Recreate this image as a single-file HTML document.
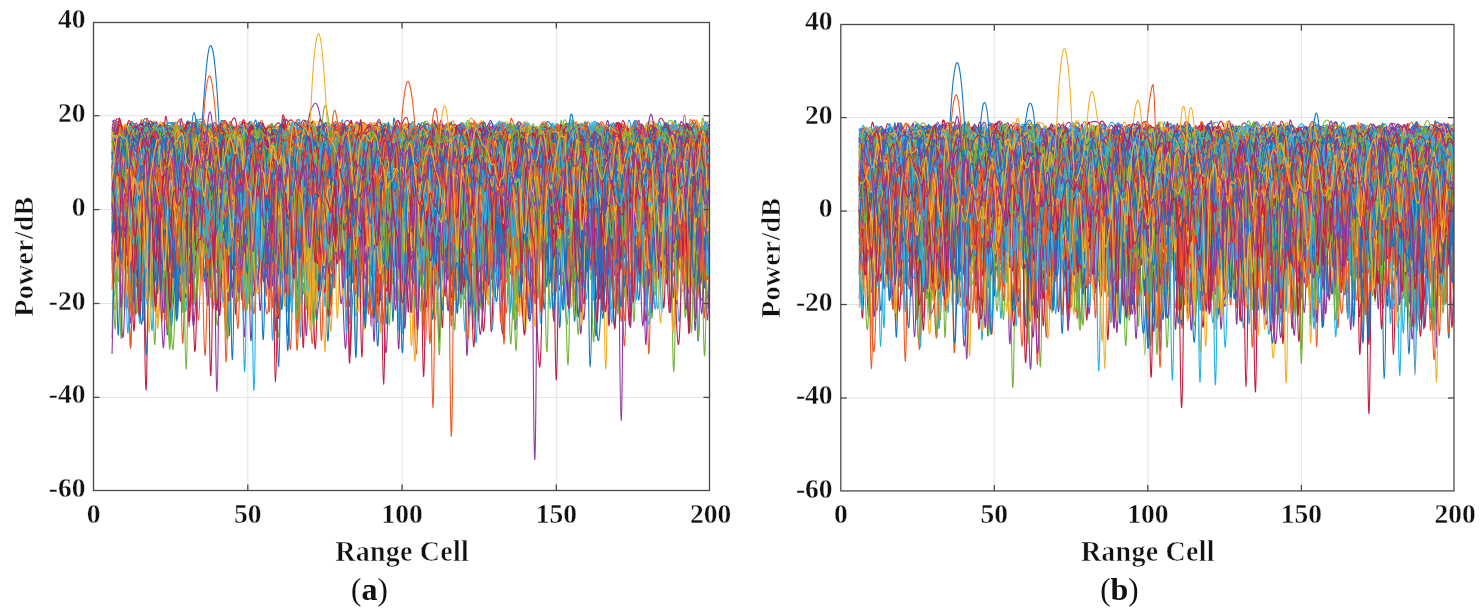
<!DOCTYPE html>
<html><head><meta charset="utf-8"><style>
html,body{margin:0;padding:0;background:#fff;}
body{width:1481px;height:612px;overflow:hidden;}
svg{display:block;}
g path{vector-effect:non-scaling-stroke;}
#w{will-change:transform;}
.t{font-family:"Liberation Serif",serif;font-weight:bold;font-size:27.5px;fill:#111;stroke:#fff;stroke-width:0.35px;}
.l{font-family:"Liberation Serif",serif;font-weight:bold;font-size:28px;fill:#111;stroke:#fff;stroke-width:0.55px;letter-spacing:0.25px;}
.p{font-family:"Liberation Serif",serif;font-size:31px;fill:#111;}
</style></head><body>
<div id="w"><svg width="1481" height="612" viewBox="0 0 1481 612">
<defs><clipPath id="ca"><rect x="93.5" y="22.5" width="616.0" height="468.0"/></clipPath><clipPath id="cb"><rect x="840.8" y="24.5" width="613.2" height="466.4"/></clipPath></defs>
<line x1="247.80" y1="22.5" x2="247.80" y2="490.5" stroke="#e3e3e3" stroke-width="1"/>
<line x1="402.07" y1="22.5" x2="402.07" y2="490.5" stroke="#e3e3e3" stroke-width="1"/>
<line x1="556.33" y1="22.5" x2="556.33" y2="490.5" stroke="#e3e3e3" stroke-width="1"/>
<line x1="93.5" y1="115.70" x2="709.5" y2="115.70" stroke="#e3e3e3" stroke-width="1"/>
<line x1="93.5" y1="209.60" x2="709.5" y2="209.60" stroke="#e3e3e3" stroke-width="1"/>
<line x1="93.5" y1="303.50" x2="709.5" y2="303.50" stroke="#e3e3e3" stroke-width="1"/>
<line x1="93.5" y1="397.40" x2="709.5" y2="397.40" stroke="#e3e3e3" stroke-width="1"/>
<line x1="994.30" y1="24.5" x2="994.30" y2="490.9" stroke="#e3e3e3" stroke-width="1"/>
<line x1="1147.85" y1="24.5" x2="1147.85" y2="490.9" stroke="#e3e3e3" stroke-width="1"/>
<line x1="1301.40" y1="24.5" x2="1301.40" y2="490.9" stroke="#e3e3e3" stroke-width="1"/>
<line x1="840.8" y1="117.58" x2="1453.9" y2="117.58" stroke="#e3e3e3" stroke-width="1"/>
<line x1="840.8" y1="211.06" x2="1453.9" y2="211.06" stroke="#e3e3e3" stroke-width="1"/>
<line x1="840.8" y1="304.54" x2="1453.9" y2="304.54" stroke="#e3e3e3" stroke-width="1"/>
<line x1="840.8" y1="398.02" x2="1453.9" y2="398.02" stroke="#e3e3e3" stroke-width="1"/>
<g clip-path="url(#ca)"><g transform="translate(112.04 0) scale(1.54268 0.5)" fill="none" stroke-width="1.10" stroke-linejoin="round">
<path stroke="#EE5A22" d="M15 266q1-8 2-12t2-14 2 102 2 20M101 278q1 14 2 217t2 46 2-195M151 347q1 7 2-51t2-54 2 27 2 14M191 307q1-61 2-60t2 8 2 14M329 287q1-23 2-33t2-1 2 42M357 295q1-33 2-42t2 4 2 32M377 312q1-50 2-58t2-2 2 23"/>
<path stroke="#F5AE26" d="M283 361q1 1 2 177t2 38 2-168M301 288q1-10 2 172t2 90 2-158M385 314q1 34 2 90l1 56"/>
<path stroke="#9036A0" d="M99 368q1 22 2 119t2 43 2-110M169 339q1 39 2 60t2 171 2 11 2-196 2-56M189 487q1 101 2 100t2-62 2-69M299 379q1-11 2 145t2 87 2 1 2-40 2-162 2-59"/>
<path stroke="#22B2EA" d="M141 385q1 41 2 133t2 38 2-109 2-91"/>
<path stroke="#C41B40" d="M13 287q1-37 2-36t2 22 2 14M29 262q1-12 2-11t2 9 2 11M65 276q1-8 2-18t2-6 2 23M155 363q1-93 2-106t2-9 2 13 2 5M237 256q1 0 2-4t2 0 2 55M291 307q1-35 2-49t2-11 2 44 2 12M313 266q1-6 2-17t2 82 2 13 2 151 2-10 2-181M351 260q1-10 2-7t2 6 2-4 2-8 2 3 2 15 2 69M367 408q1 16 2-81t2-97 2 66 2 26"/>
<path stroke="#1276C2" d="M53 340q1-112 2-100t2 10 2 24M61 280q1-20 2-27t2-3 2 26M73 414q1-50 2 159t2-26 2-199M85 266q1-14 2-13t2 11 2 7M113 363q1 27 2 114t2-5 2-160 2-67 2 11 2 47M179 441q1 95 2-61t2-143 2 51 2 34M241 304q1-8 2-29t2-27 2 2 2 30 2 42M283 270q1-16 2-20t2 19 2 7M317 284q1-32 2-31t2 9 2 36M331 365q1 57 2-34t2-91 2 26 2 27M371 308q1 2 2 232t2 40 2-174"/>
<path stroke="#EE5A22" d="M111 409q1 73 2 131t2 136 2-116 2-158 2 45M193 400q1-14 2 41t2 164 2-63 2-182M241 390q1 70 2 159t2-18 2-134M263 345q1-23 2 181t2 18 2-145M275 447q1 87 2 78t2-81 2-73M385 413q1 5 2 74l1 69"/>
<path stroke="#F5AE26" d="M83 346q1-42 2 75t2 151 2-104 2-161M121 271q1-9 2-19t2-1 2 22M229 345q1-69 2-90t2-19 2 14 2 12M275 265q1-7 2-7t2-7 2-1 2 41M377 311q1 17 2-20t2-44 2 8 2 16"/>
<path stroke="#9036A0" d="M197 331q1 33 2 164t2-47 2-146M297 397q1 29 2 124t2-21 2 12 2-11 2-142"/>
<path stroke="#74B43A" d="M73 544q1 166 2 33t2-182 2-85M151 329q1-51 2 109t2 64 2 56 2-5 2-191M205 393q1-31 2 77t2 157 2-88 2-160 2 112 2-7 2-148"/>
<path stroke="#22B2EA" d="M21 344q1 70 2 96t2 161 2-33 2-205M57 399q1 15 2 54t2 105 2-68M79 485q1-11 2 9t2-27 2-42"/>
<path stroke="#C41B40" d="M13 320q1 58 2 185t2 20 2-94M31 337q1-9 2 152t2 62 2-137M155 390q1-44 2 91t2 47 2-180"/>
<path stroke="#1276C2" d="M5 348q1 20 2 123t2 27 2-116M71 435q1-31 2 80t2 24 2-65 2-33M87 353q1-17 2 130t2 103 2-87 2-65M243 338q1 16 2 106t2 132 2-16 2-37 2-25 2-29M263 481q1 119 2 83t2-119 2-92M339 343q1 47 2 139t2-15 2-145"/>
<path stroke="#EE5A22" d="M5 342q1 36 2 158t2 113 2 13 2-108 2-124M19 387q1 1 2 106t2 25 2-130M69 426q1 0 2 83t2 44 2-79 2-53M199 357q1 53 2 221t2 0 2-181M273 469q1-23 2 77t2 2 2-129 2-4M317 480q1 6 2 100t2-35 2-54M357 388q1 42 2 74t2 25 2 12 2 19 2-70 2-106"/>
<path stroke="#F5AE26" d="M0 254l1 27q1 27 2 77M43 279q1-17 2-24t2 10 2 82M77 276q1-8 2-17t2-8 2 16 2 73M103 457q1 31 2 101t2-64 2-112M163 288q1-26 2-28t2 22 2 10M235 309q1-41 2-53t2-14 2 6 2 11 2 14M303 278q1-14 2-22t2-10 2 54M385 299q1-15 2-30l1-15"/>
<path stroke="#9036A0" d="M163 347q1-29 2 9t2 211 2 0 2-233M177 309q1 27 2 173t2 3 2-166M343 466q1-24 2 104t2 30 2-189M381 343q1 47 2 174t2-19 2-169"/>
<path stroke="#74B43A" d="M225 338q1-6 2 138t2 119 2-100 2-133M283 346q1 46 2 129t2-45 2-132M341 336q1 2 2 140t2 86 2-122 2-73M363 319q1 31 2 104t2 43 2-95"/>
<path stroke="#22B2EA" d="M3 487q1 33 2 16t2-56 2-87M113 389q1 71 2 172t2-36 2-174M269 447q1-89 2 92t2-12 2-179"/>
<path stroke="#C41B40" d="M0 312l1-36q1-36 2-38t2 3 2 30 2 13M59 385q1-29 2 116t2-39 2-170M211 302q1 4 2 230t2 38 2-220M353 453q1 17 2 38t2 101 2-107 2-200"/>
<path stroke="#1276C2" d="M383 413q1-29 2 106t2 39l1-96"/>
<path stroke="#EE5A22" d="M61 411q1 131 2 128t2-84 2-118M87 394q1-98 2-121t2-24 2 2 2 6M103 282q1 16 2-1t2-24 2-6 2 9M159 272q1 2 2-14t2-13 2 5 2 7 2 12M251 270q1-16 2-20t2 23 2 18M259 266q1-16 2-15t2 40 2 37M327 281q1 5 2-10t2-18 2 18 2 14"/>
<path stroke="#F5AE26" d="M13 313q1 19 2 148t2 125 2-151 2-114M221 305q1 11 2 168t2 64 2-128"/>
<path stroke="#9036A0" d="M39 459q1 35 2 72t2-72 2-118M137 418q1 68 2 108t2-83 2-93M299 297q1 39 2 123t2 198 2-37 2-179M317 332q1 18 2 114t2 46 2-101"/>
<path stroke="#74B43A" d="M141 335q1 7 2 127t2 20 2-130"/>
<path stroke="#22B2EA" d="M99 419q1 43 2 86t2-54 2-76M135 332q1-34 2 169t2 39 2-151M221 360q1 16 2 111t2-25 2-114M325 346q1 22 2 131t2 31 2-52M377 459q1-9 2 76t2-58 2-173"/>
<path stroke="#C41B40" d="M53 400q1-32 2 50t2 44 2-74M139 300q1-12 2 200t2 29 2-164M209 434q1-22 2 69t2-21 2-142M285 310q1 2 2 115t2 79 2-69"/>
<path stroke="#1276C2" d="M1 278q1-2 2 259t2 10 2-266M23 270q1-6 2-18t2-4 2 16M301 298q1-30 2-38t2-7 2 44M311 327q1-13 2 171t2 26 2-212M335 334q1-64 2-77t2-16 2 11 2 69"/>
<path stroke="#EE5A22" d="M73 275q1-5 2-17t2-8 2 47 2 26M161 307q1 39 2-6t2-49 2 0 2 60M173 295q1-11 2 140t2 110 2-97M185 266q1-2 2-8t2-7 2 0 2 6 2 8M243 295q1-39 2-41t2-1 2-2 2 14 2 13M337 304q1-58 2-61t2 3 2 23 2 14 2-17 2-11 2 1"/>
<path stroke="#F5AE26" d="M23 297q1-19 2-37t2-18 2 2 2 103 2 38M61 337q1-11 2-50t2-39 2 21M119 250q1-4 2 1t2 35 2 45M219 310q1-38 2 174t2 38 2-131M339 273q1-5 2-13t2-12 2 16 2 14M381 269q1-3 2-13t2-9 2 15"/>
<path stroke="#74B43A" d="M35 355q1 3 2 154t2-27 2-140M61 301q1-13 2 142t2 171 2-49 2-147 2-82M197 370q1-8 2 166t2-3 2-130M237 394q1 106 2 125t2-54 2-112M383 412q1-70 2 100t2 63l1-107"/>
<path stroke="#22B2EA" d="M55 339q1 19 2 111t2 76 2-50 2-34M147 289q1 1 2 93t2 206 2-37 2-145M201 339q1 39 2 132t2 50 2-65M213 338q1 4 2 107t2 68 2-93M231 333q1 17 2 66t2 210 2-17 2-190M251 441q1 65 2 84t2-69 2-122"/>
<path stroke="#C41B40" d="M127 435q1-35 2 39t2 184 2-85 2-236"/>
<path stroke="#1276C2" d="M111 361q1 61 2 105t2-43 2-83M223 373q1-69 2-100t2-26 2 9"/>
<path stroke="#EE5A22" d="M325 393q1 49 2 111t2 36 2-94"/>
<path stroke="#F5AE26" d="M75 344q1 16 2 118t2 39 2-75M87 393q1-1 2 148t2 25 2-162M127 402q1 18 2 54t2 99 2 37 2-122 2-84M173 477q1 89 2 69t2-94 2-69M239 372q1-8 2 135t2 70 2-137 2-65M263 345q1 13 2 124t2 35 2-105"/>
<path stroke="#9036A0" d="M0 256l1-2q1-2 2 16t2 9M233 307q1-47 2-54t2 6 2 18M293 346q1-66 2 147t2-10 2-159"/>
<path stroke="#22B2EA" d="M9 332q1 68 2 156t2 123 2-140 2-197M23 318q1-24 2-51t2-17 2 33 2 36 2 162 2 87 2-185 2-130M67 282q1-12 2-26t2-10 2 21M145 332q1-50 2-62t2-29 2 185 2 96 2-145M201 328q1 10 2-36t2-31 2 13M223 266q1 4 2-12t2-2 2 36 2 6M267 250q1-2 2-4t2 20 2 41M275 294q1-32 2-38t2 0 2 9M285 286q1-18 2-32t2-3 2 52"/>
<path stroke="#C41B40" d="M31 371q1 69 2-38t2-100 2 74 2 21M53 261q1-17 2 134t2 79 2-142M69 264q1-8 2-16t2-7 2 9 2 31 2 66M137 251q1-19 2 242t2 38 2-214M325 288q1-16 2-27t2-14 2 17 2 9M385 271q1-9 2-14l1-5"/>
<path stroke="#1276C2" d="M157 295q1-29 2-40t2-8 2 29M175 339q1 29 2 217t2-13 2-219M211 342q1 84 2 187t2-95 2-175M317 293q1-5 2-23t2-20 2 5 2 23"/>
<path stroke="#EE5A22" d="M13 427q1 21 2 96t2-52 2-159"/>
<path stroke="#F5AE26" d="M65 471q1 11 2 89t2 17 2-139 2-57M155 408q1-58 2 152t2 82 2-164 2-16M271 443q1-81 2 102t2 58 2-179M355 428q1 0 2 62t2 66 2-79 2-116"/>
<path stroke="#9036A0" d="M87 299q1 35 2 260t2 37 2-216 2-54M267 446q1 14 2 68t2-58 2-151"/>
<path stroke="#74B43A" d="M3 298q1 28 2 147t2 109 2-152 2-137M113 520q1-66 2-25t2-59 2-109M341 299q1-31 2-38t2-5 2 15"/>
<path stroke="#22B2EA" d="M283 414q1 40 2 119t2-14 2-133"/>
<path stroke="#C41B40" d="M33 339q1-13 2-50t2-33 2 84M205 286q1 14 2 195t2 111 2-150 2-96"/>
<path stroke="#1276C2" d="M17 295q1-5 2-30t2-27 2 1 2 35 2 19M37 291q1 13 2-12t2-30 2 8M83 316q1-32 2-48t2-20 2 12 2 0 2-20 2 88 2 97M107 348q1 32 2-32t2-78 2 175 2 115 2-149M147 271q1-7 2-15t2-5 2 128M169 309q1 1 2-34t2-31 2 7 2 12M183 254q1-6 2-3t2 72 2 39 2-73 2-42 2 39 2-3 2-36 2 54 2 14M277 265q1 1 2-7t2-12 2-2 2 10 2 35 2 60M349 284q1 4 2-12t2-23 2 71M371 265q1-15 2-17t2 22 2 60"/>
<path stroke="#EE5A22" d="M1 361q1-23 2 45t2 161 2-24M157 394q1-38 2 85t2 40 2-153M191 369q1-37 2 151t2 34 2-148M211 442q1 60 2 86t2-78 2-106M285 435q1-1 2 102t2-25 2-139M327 349q1 23 2 46t2 200 2 31 2-205 2-70"/>
<path stroke="#F5AE26" d="M23 280q1 8 2 121t2 116 2-92M163 356q1 18 2 137t2-8 2-132M183 456q1 60 2 118t2-74 2-154M233 336q1-12 2 175t2 49 2-187M363 407q1-39 2 71t2-18 2-146"/>
<path stroke="#9036A0" d="M57 311q1 37 2 182t2-9 2-191M165 369q1 11 2 130t2-26 2-135M187 298q1 34 2 239t2-6 2-237M309 291q1 21 2 183t2 115 2-183 2-121"/>
<path stroke="#74B43A" d="M55 400q1 34 2 107t2-24 2-133M63 331q1 17 2 150t2 60 2-88 2-66M119 414q1 40 2 67t2-20 2-68M137 420q1 64 2 119t2-64 2-130M235 360q1 16 2 157t2 85 2-86 2-115 2-91M253 368q1 18 2 127t2 29 2-10 2-34M367 372q1-32 2 66t2 173 2-89 2-164"/>
<path stroke="#22B2EA" d="M39 282q1-20 2-29t2-11 2 21 2 107M113 353q1-17 2-58t2-43 2 20M171 295q1-33 2-39t2-2 2 19M203 320q1-14 2-37t2-30 2-1M245 306q1-32 2-47t2-6 2 25M277 392q1 12 2-67t2-64 2 57M371 309q1-43 2-52t2-4 2 29"/>
<path stroke="#C41B40" d="M111 276q1 0 2-13t2-14 2 4 2 10M209 274q1 4 2-8t2-24 2 49 2 49M313 375q1 5 2 107t2 117 2-134 2-162"/>
<path stroke="#1276C2" d="M99 351q1 7 2 115t2 40 2-99M119 360q1-62 2 114t2 129 2-35 2-101M271 492q1 46 2 29t2-49 2-20M323 433q1 43 2 88t2-73 2-107 2 117 2 84 2-52 2-85"/>
<path stroke="#EE5A22" d="M7 283q1-29 2 102t2 192 2-76 2-174M19 291q1 15 2 150t2 36 2-134M229 329q1-9 2-47t2-37 2 18 2 36"/>
<path stroke="#F5AE26" d="M21 378q1 32 2 54t2 126 2 27 2-94 2-73"/>
<path stroke="#9036A0" d="M61 335q1 73 2 175t2 38 2-124M69 364q1 0 2 117t2-2 2-123M213 393q1-33 2-90t2-53 2 8 2 51M247 330q1 34 2 176t2 4 2-136"/>
<path stroke="#74B43A" d="M35 317q1 29 2 179t2 194 2-120 2-162M49 441q1 101 2 97t2-83 2-90M143 364q1 70 2 126t2-30 2-123M189 289q1-1 2 121t2 173 2-39 2-57M237 402q1 16 2 131t2-51 2-178M307 373q1-3 2-12t2 201 2 58 2-181 2-66"/>
<path stroke="#22B2EA" d="M15 296q1 10 2 227t2 10 2-86M73 517q1 41 2 36t2-92 2-65M253 459q1 13 2 45t2-61 2-88M303 344q1 2 2 102t2 142 2-99 2-119"/>
<path stroke="#C41B40" d="M11 381q1 127 2 133t2-100 2-107M91 303q1 15 2 155t2 91 2-133 2-117 2-44 2 1 2 20M217 339q1 15 2-43t2-38 2 35M249 271q1 11 2 0t2-17 2-3 2 5M315 432q1-150 2 79t2-16 2-213M363 269q1 17 2 7t2-18 2 18 2 55"/>
<path stroke="#1276C2" d="M53 373q1 107 2 160t2-76 2-163M75 259q1-1 2-4t2 3 2 27M93 270q1-2 2-15t2-7 2 37 2 21M143 259q1-9 2-10t2 2 2 53M175 261q1-7 2-12t2 7 2 77M239 258q1-2 2-5t2 62 2 112M259 357q1-13 2-62t2-47 2 10 2 8M277 290q1-46 2-43t2 3 2 21 2 28M361 276q1 2 2-16t2-19 2 87 2 46"/>
<path stroke="#EE5A22" d="M15 366q1-2 2 18t2 168 2 51 2-65 2-22M27 489q1 27 2 81t2-62 2-129M97 514q1 56 2 44t2-74 2-60M113 427q1-31 2 83t2-44 2-115M149 344q1-2 2 167t2 61 2-129M167 404q1 18 2 102t2 6 2-70 2 32 2-33 2-85M259 534q1-34 2-42t2 44 2-39M297 370q1 24 2 153t2 24 2-116M361 478q1-6 2 124t2-46 2-195"/>
<path stroke="#F5AE26" d="M0 504l1 80q1 80 2-16t2-111 2-7M23 392q1 2 2 85t2-29 2-102M35 394q1-50 2 84t2 126 2-116 2-90M69 409q1 19 2 131t2 58 2-134 2-78M115 385q1 57 2 99t2 31 2-70M137 363q1-13 2 55t2 194 2-61 2-212M175 417q1 25 2 80t2-59 2-109M259 375q1-27 2 88t2 50 2-50M353 406q1 28 2 59t2 64 2-57 2-76"/>
<path stroke="#9036A0" d="M145 435q1-35 2 83t2 80 2-98 2-133M223 367q1 89 2 186t2-61 2-141"/>
<path stroke="#74B43A" d="M71 320q1 68 2 257t2-45 2-220M123 269q1 3 2 151t2 37 2-138M213 376q1-16 2 84t2-46 2-128M227 320q1 20 2 109t2 175 2-82 2-201M279 285q1-35 2-32t2 12 2 20M379 278q1-18 2-19t2-4 2-4 2 7"/>
<path stroke="#22B2EA" d="M1 367q1 25 2 106t2-3 2-100M33 397q1 69 2 171t2 34 2-91M105 407q1 41 2 107t2 0 2-100"/>
<path stroke="#C41B40" d="M7 316q1-40 2-57t2-12 2 28 2 47M37 282q1-6 2-19t2 1 2 27M63 290q1-34 2-30t2 10 2 58M77 254q1-30 2 227t2 66 2-187M103 263q1-7 2-10t2 44 2 52M255 267q1-1 2-13t2 0 2 72M299 277q1-19 2-26t2 11 2 20"/>
<path stroke="#1276C2" d="M111 438q1 122 2 67t2-79 2-40M143 252q1-8 2 141t2 78 2-46M157 336q1-44 2-62t2-25 2 16 2 60M237 279q1-7 2-22t2 4 2 19M301 259q1 1 2-7t2 94 2 105M357 361q1 27 2-43t2-67 2 27 2 32"/>
<path stroke="#EE5A22" d="M85 379q1 11 2 140t2 59 2-142 2-86M95 329q1-7 2 100t2 160 2 34 2-95 2-107 2 126 2-44 2-189M293 352q1-12 2 94t2 128 2-128 2-141"/>
<path stroke="#F5AE26" d="M25 415q1 9 2 43t2-34 2-38M147 335q1 13 2 143t2 26 2-132M159 330q1-74 2-74t2 10 2 3 2-16 2 1 2 35M307 288q1-22 2-31t2 24 2 139"/>
<path stroke="#9036A0" d="M73 463q1 7 2 96t2-8 2-124 2-62M83 340q1 10 2 167t2 86 2-128 2-52M169 390q1 22 2 103t2 93 2 24 2 77 2-98 2-210 2-39M353 447q1 71 2 95t2-62 2-134M373 361q1 33 2 140t2 83 2-71 2-74"/>
<path stroke="#74B43A" d="M79 359q1-15 2 52t2 102 2-58 2 64 2 37 2-109 2-62M163 384q1 42 2 150t2 26 2-116M221 309q1 3 2 111t2 37 2-92M271 388q1 12 2 143t2-4 2-129M291 340q1 12 2 114t2 38 2-50M347 389q1 37 2 178t2-4 2-217"/>
<path stroke="#22B2EA" d="M67 264q1-8 2 157t2 133 2-114 2-46M101 288q1 8 2 143t2 39 2-87M263 476q1 112 2 99t2-121 2-123"/>
<path stroke="#C41B40" d="M193 350q1 2 2 147t2 17 2-162M211 408q1 38 2 59t2 91 2-1 2 23 2 12 2-172"/>
<path stroke="#1276C2" d="M0 250l1-4q1-4 2 12t2 19M15 295q1-23 2-36t2-13 2 6 2 16M43 255q1 7 2 5t2-4 2 6M75 304q1-38 2-45t2-2 2 58M291 262q1 18 2 171t2 41 2-135M303 270q1 6 2-11t2-15 2 19 2 23M363 268q1-4 2-10t2-8 2 1 2-1 2-3 2 7 2 17"/>
<path stroke="#EE5A22" d="M19 394q1 58 2-56t2-100 2 41 2 4M31 251q1-1 2 1t2 13 2 2M39 264q1 6 2-5t2-3 2 23 2 2M79 301q1-1 2-29t2-28 2 0 2 2 2 18 2 9M227 379q1 69 2-32t2-101 2 7 2 27M277 318q1 12 2-27t2-37 2 2 2 20 2 156 2 118 2-106 2-125M305 338q1-44 2-71t2-23 2 22 2 1 2-18 2 4 2 5 2 16M375 335q1-7 2-51t2-40 2 19 2 7"/>
<path stroke="#F5AE26" d="M71 349q1-5 2 199t2 28 2-133M215 321q1-23 2-51t2-26 2 15 2 19M299 420q1 106 2 120t2-132 2-131M359 426q1-6 2 68t2-33 2-136"/>
<path stroke="#9036A0" d="M37 333q1-79 2-75t2 3 2 5M97 282q1 8 2-8t2-22 2 39 2 14M131 501q1 9 2-130t2-134 2 21 2 38M157 358q1 46 2 109t2 49 2-114M201 293q1 1 2 179t2 101 2-164 2-77M217 303q1-27 2-35t2-9 2-5 2-2 2 54"/>
<path stroke="#74B43A" d="M35 414q1-28 2 100t2 89 2-161 2-107M153 430q1 46 2 93t2 16 2-53M161 507q1 43 2 26t2-57 2-67M227 486q1 82 2 61t2-62 2-81M333 477q1 43 2 26t2-9 2-88"/>
<path stroke="#22B2EA" d="M107 350q1 56 2 200t2-65 2-208M221 354q1 50 2 172t2-28 2-148M287 383q1-21 2 74t2 34 2-123M303 440q1-54 2 50t2 17 2-60M333 491q1 9 2 6t2-89 2-86"/>
<path stroke="#C41B40" d="M67 359q1 39 2 114t2 20 2-48"/>
<path stroke="#1276C2" d="M19 344q1-10 2 127t2 140 2-90 2-164M109 277q1-25 2-28t2 61 2 74M275 335q1-37 2 86t2 54 2-129M291 286q1-28 2-32t2 4 2 11"/>
<path stroke="#EE5A22" d="M85 384q1 48 2 135t2-53 2-144M327 365q1 33 2-39t2-70 2 54M373 370q1-2 2 113t2 60 2-122"/>
<path stroke="#F5AE26" d="M45 276q1 12 2 176t2 70 2-136M163 407q1-27 2 105t2-33 2-140M217 323q1 33 2 183t2-38 2-188M275 283q1-17 2-28t2 25 2 56"/>
<path stroke="#9036A0" d="M43 327q1-77 2-75t2 11 2 24M71 286q1-38 2-40t2 3 2 17 2-3 2-7 2 16M131 291q1-15 2-32t2-18 2 6 2 17 2 14M189 251q1-3 2-3t2 12 2 13M217 280q1-24 2-30t2 4 2 17M325 267q1-9 2-8t2-9 2 57"/>
<path stroke="#74B43A" d="M93 298q1-52 2-40t2 48 2 10M103 334q1 34 2 226t2-9 2-73M169 308q1-46 2-49t2-1 2-7 2 45 2 80M199 341q1 73 2-19t2-77 2 51 2 31M263 271q1 9 2 2t2-16 2-4 2 32M277 313q1 27 2-18t2-48 2 5 2 8 2 4M373 270q1-14 2-18t2-7 2 58 2 43"/>
<path stroke="#C41B40" d="M45 369q1 67 2 161t2-36 2-67M81 267q1 9 2 220t2 27 2-211M109 408q1 62 2 151t2-80 2-151M213 398q1-30 2 21t2 78 2-30M379 394q1 70 2 141t2-82 2-130"/>
<path stroke="#1276C2" d="M39 300q1-34 2 190t2 108 2-209 2-92M49 325q1 27 2 130t2 81 2-125 2-92M217 330q1 56 2 89t2 127 2-32"/>
<path stroke="#EE5A22" d="M37 357q1 19 2 46t2 144 2-85 2-209 2-4 2 20 2 31M53 278q1-36 2-37t2-2 2-2 2 36 2 47M73 282q1 10 2-17t2-21 2 14 2 33M117 336q1-62 2 188t2-12 2-190M181 305q1-5 2-29t2-30 2 2 2 12 2 11M205 311q1 5 2-29t2-27 2 74M215 285q1-15 2-19t2-14 2-10 2 26 2 4 2-26 2 27 2 50M241 359q1-39 2-76t2-19 2 39M267 326q1 8 2 86t2 161 2-84 2-173 2-37 2-34 2 0 2 21 2 9M313 316q1 12 2-30t2-43 2 10 2 50 2-4M361 264q1-6 2-10t2 3 2 59 2 101"/>
<path stroke="#F5AE26" d="M33 288q1-22 2-27t2-9 2 15M43 268q1-2 2-2t2 4 2 18M103 279q1-1 2-15t2-8 2 6 2 13M115 293q1 29 2 181t2-19 2-181M129 281q1 9 2-15t2-23 2 7 2 7 2-4 2 26M159 315q1-47 2-57t2-8 2 77 2 70M251 358q1 54 2-23t2-77 2 7M349 290q1-28 2-35t2-1 2 74 2 37"/>
<path stroke="#9036A0" d="M209 329q1-53 2 221t2-9 2-245M357 350q1-4 2 97t2 55 2-87"/>
<path stroke="#74B43A" d="M0 358l1-56q1-56 2-47t2 33M101 294q1-12 2-33t2 4 2 58M111 284q1-18 2-28t2 2 2-2 2-10 2 48M127 385q1 105 2-24t2-118 2 20 2 23M171 278q1 14 2-2t2-25 2-1 2 33M185 282q1 4 2-11t2-20 2 7 2 34M219 274q1 0 2-11t2-6 2 3 2-8 2 1 2 0 2-3 2 14 2 27M265 307q1-51 2-53t2 19 2 6M273 260q1-4 2-2t2-5 2-1 2 15 2 2M343 384q1-50 2-93t2-46 2 3 2 17 2 5M373 271q1-11 2-21t2-2 2 12 2 5 2-8 2 86 2 191l1 96"/>
<path stroke="#22B2EA" d="M113 473q1-11 2-7t2 40 2-89 2-115M189 493q1-57 2-28t2 32 2-48M263 457q1 69 2 69t2-83 2-95"/>
<path stroke="#C41B40" d="M29 392q1 18 2-59t2-86 2 21 2 106 2 121 2 36M127 270q1-4 2-19t2-5 2 27 2 20M205 290q1-32 2-32t2-15 2 150 2 123M257 317q1-33 2-49t2-13 2 62M275 309q1 1 2-29t2-23 2 31M327 260q1 20 2 17t2-16 2 12 2 10M377 259q1-1 2-1t2 35 2 31"/>
<path stroke="#1276C2" d="M55 392q1 20 2 108t2 51 2 25 2-96 2-177M149 358q1-48 2 5t2 189 2-32 2-169M203 349q1-57 2 76t2 80 2-119M281 313q1 55 2 114t2 139 2-87 2-155M349 362q1-92 2-104t2-10 2 93 2 125"/>
<path stroke="#EE5A22" d="M137 439q1 43 2 75t2 100 2-145 2-115M233 317q1-69 2-71t2 6 2 77 2 59"/>
<path stroke="#F5AE26" d="M45 494q1 44 2 99t2-77 2-81M89 434q1 84 2 56t2-88 2-68M139 438q1 46 2 107t2-38 2-146M261 437q1-5 2 25t2 17 2-49M373 360q1-38 2 56t2 151 2-90 2-100"/>
<path stroke="#9036A0" d="M0 508l1-35q1-35 2-23M257 334q1-2 2 115t2 191 2-136 2-197M305 367q1 41 2 135t2-33 2-152"/>
<path stroke="#74B43A" d="M35 497q1-31 2-35t2 6 2-64M53 385q1 47 2 104t2-23 2-87M119 378q1 50 2 90t2-7 2-73M129 290q1 12 2 146t2 84 2-37M237 391q1 63 2 105t2 54 2-40 2-95M291 415q1-1 2 32t2 67 2 1 2-44M361 488q1-6 2 55t2 36 2-89"/>
<path stroke="#22B2EA" d="M111 398q1 70 2 132t2-63 2-151"/>
<path stroke="#C41B40" d="M15 368q1-2 2 117t2 116 2-145 2-139M123 352q1-4 2 115t2 84 2-31 2-84 2-99M317 305q1 7 2 42t2 207 2 40 2-165 2-69"/>
<path stroke="#1276C2" d="M117 366q1 4 2 164t2 38 2-163M287 407q1 59 2 83t2 21 2-37M321 414q1 52 2 103t2 112 2-48 2-151 2-39M375 303q1 17 2 68t2 229 2-32 2-220"/>
<path stroke="#EE5A22" d="M15 307q1-35 2 152t2 88 2-158 2-72M157 285q1-1 2-29t2 103 2 88M331 324q1 6 2-31t2-35 2 30"/>
<path stroke="#F5AE26" d="M117 416q1 50 2 93t2 1 2-102M147 440q1 96 2 72t2-118 2-79M173 358q1 10 2 87t2 112 2-79 2-136M185 395q1 5 2 109t2 144 2-133 2-184M217 375q1 63 2 160t2-60 2-169M239 348q1-28 2 9t2 150 2 81 2-126 2-90"/>
<path stroke="#9036A0" d="M107 260q1 4 2-1t2-10 2 18 2 108M129 285q1-17 2-27t2-2 2 17 2 0M163 302q1-34 2-45t2-7 2 25M231 263q1 3 2-6t2 11 2 13M265 277q1-15 2-25t2-2 2 19M313 318q1-54 2-60t2 5 2 0 2-21 2 55 2 85 2 130 2-71 2-116M359 274q1-18 2-21t2 6 2 61M367 343q1-29 2-64t2-26 2 15"/>
<path stroke="#74B43A" d="M137 340q1 22 2 182t2 53 2-177 2-109M385 311q1 43 2 100l1 57"/>
<path stroke="#22B2EA" d="M319 268q1 10 2-5t2-15 2 61 2 47M359 258q1-6 2-3t2 17 2 5"/>
<path stroke="#C41B40" d="M105 421q1 83 2 120t2-80 2-116M215 301q1-5 2 120t2 113 2-134 2-122"/>
<path stroke="#1276C2" d="M67 345q1 77 2 146t2-92 2-137M75 321q1 35 2-19t2-49 2 6 2-3 2 7 2 49M247 291q1-29 2-36t2-5 2 12M279 279q1-7 2-18t2 11 2 196 2-19 2-177M321 268q1 2 2-9t2-13 2 39 2 103"/>
<path stroke="#EE5A22" d="M35 273q1-11 2-12t2 78 2 107M199 310q1-60 2-60t2 13 2 23M285 287q1-21 2-31t2-3 2 105 2 43M363 301q1-31 2-38t2 5 2 33"/>
<path stroke="#F5AE26" d="M213 391q1 31 2 85t2 120 2-51 2-120"/>
<path stroke="#9036A0" d="M11 305q1 5 2-21t2-35 2 8 2 38M55 283q1-11 2-23t2-12 2 5M119 274q1 2 2-11t2-19 2-3 2 13 2 35M165 367q1-65 2-6t2 244 2-69 2-262 2-17 2-3 2 15M249 290q1-22 2-28t2-13 2-1 2 14 2 14M261 273q1-9 2-18t2 3 2 15M289 293q1 45 2 152t2 142 2-134 2-164M375 334q1-50 2 206t2-30 2-189 2 160 2-94 2-136l1 21"/>
<path stroke="#74B43A" d="M193 285q1 9 2 132t2 81 2-61M249 298q1-22 2-39t2-15 2 12 2 15 2 29 2 232 2 3 2-188"/>
<path stroke="#22B2EA" d="M23 286q1-26 2 199t2 58 2-198M45 270q1 6 2-10t2-18 2 13 2 44 2 1M61 272q1-20 2-23t2 35 2 8M85 302q1 4 2-20t2-35 2 4 2 19M139 370q1-12 2 83t2 55 2-144M249 353q1-51 2-78t2-23 2 24M321 299q1-57 2-43t2 17 2 7"/>
<path stroke="#C41B40" d="M79 435q1-47 2-114t2-71 2-5 2 38 2 37M119 267q1-7 2-9t2 7 2 49M131 291q1-13 2-29t2-2 2 30M157 324q1 28 2 165t2 43 2-154M181 305q1-33 2-47t2-17 2 17 2 30M209 267q1-7 2-16t2 11 2 31M277 281q1 7 2-12t2-15 2 17 2 8M369 440q1 34 2 22t2 122 2-20 2-209M379 283q1-17 2-24t2-7 2 14 2 20"/>
<path stroke="#1276C2" d="M67 347q1 31 2 105t2-18 2-107M127 427q1 49 2 63t2 47 2-42 2-102M155 432q1 42 2 98t2 20 2-42 2-48M169 384q1 8 2 73t2 122 2-74 2-142M279 380q1 18 2 103t2-24 2-117"/>
<path stroke="#EE5A22" d="M39 308q1-54 2-56t2 0 2 15M115 272q1 4 2-9t2-19 2-5 2 23 2 96M175 252q1-12 2 149t2 177 2-132 2-146M193 275q1-21 2-19t2 8 2 69 2-9 2-75 2-1 2 4 2 7 2 28M229 312q1 40 2 141t2 42 2-120M271 361q1 109 2 156t2 27 2-138 2 77 2 22 2-150M297 393q1-45 2-99t2-50 2 45 2 57"/>
<path stroke="#F5AE26" d="M19 334q1-14 2 161t2 52 2-171M225 348q1-8 2 116t2 98 2-64 2-59 2 53 2 52 2-114M291 366q1 52 2 129t2 44 2 13 2-42 2-121"/>
<path stroke="#9036A0" d="M57 435q1 77 2 28t2 80 2 14 2-129 2-16M75 391q1-33 2 115t2-12 2-132M113 402q1-6 2 67t2 35 2-97 2-28M213 350q1 22 2 111t2 22 2-84M239 403q1 15 2 88t2 14 2 22 2-43 2-125M317 360q1 58 2 142t2 101 2-81 2-107 2 100 2-4 2-133"/>
<path stroke="#74B43A" d="M0 524l1 54q1 54 2-93t2-126M195 490q1 32 2 102t2-76 2-192M221 393q1 43 2 74t2-14 2-40"/>
<path stroke="#C41B40" d="M133 308q1 10 2 102t2 151 2-29 2-102M171 515q1-81 2 10t2-50 2-154M239 474q1-8 2 15t2-32 2-65M283 338q1 22 2 128t2 55 2-127M365 442q1 50 2 53t2-23 2-82"/>
<path stroke="#1276C2" d="M35 342q1-24 2 47t2 134 2 2 2-122 2-48M187 346q1 24 2 166t2 18 2-141M335 279q1 1 2 123t2 101 2 39 2-87 2-143"/>
<path stroke="#EE5A22" d="M125 368q1 24 2 86t2 131 2-72 2-155M309 358q1-2 2 119t2-13 2-141"/>
<path stroke="#F5AE26" d="M79 267q1-9 2-11t2 1 2 6M209 300q1-46 2-51t2 2 2 56 2 37M259 369q1-71 2-96t2-21 2 30M315 299q1-33 2-38t2-10 2 6 2 41"/>
<path stroke="#74B43A" d="M39 304q1-10 2 82t2 169 2-65 2-162M61 428q1 34 2 66t2-77 2-108M77 484q1-90 2-19t2 125 2-96 2-164M121 366q1 12 2 107t2 88 2-97 2-108M135 388q1 34 2 110t2-2 2-37M183 400q1 78 2 90t2-41 2-72M261 405q1 5 2 84t2 85 2-72 2-128M289 370q1 20 2 136t2 24 2-125M349 399q1 41 2 123t2-36 2-124"/>
<path stroke="#22B2EA" d="M79 299q1-11 2 150t2 25 2-172M161 368q1 92 2 141t2-32 2-102M321 343q1 31 2 58t2 140 2-87 2-189"/>
<path stroke="#C41B40" d="M11 358q1-8 2 158t2 24 2-154M133 352q1-14 2 111t2 49 2-119M165 422q1 54 2 102t2 97 2-88 2-102 2-10M199 352q1-24 2 78t2 50 2-121M249 365q1 37 2 139t2 17 2-101 2 62 2 66 2-2 2-48 2-72M285 371q1 1 2 44t2 125 2-3 2-128M343 465q1 67 2 40t2-94 2-64"/>
<path stroke="#1276C2" d="M99 500q1 38 2-3t2 42 2-74 2-163M135 376q1 22 2 117t2-24 2-138M175 366q1 48 2 92t2-13 2-26M221 385q1 75 2 92t2-55 2-85M267 336q1-34 2 103t2 120 2-74 2-108M329 367q1 91 2 113t2 28 2-58"/>
<path stroke="#EE5A22" d="M23 333q1 7 2 144t2 114 2 26 2-26 2-148 2-48M117 413q1 33 2 147t2 59 2-145 2-87M127 434q1 44 2 61t2-33 2-62M251 388q1 92 2 115t2 51 2-23 2-67 2 50 2 101 2-98 2-136M341 297q1 7 2 111t2 177 2-55 2-182"/>
<path stroke="#F5AE26" d="M19 418q1 44 2 121t2-23 2-105M65 428q1 60 2 87t2-68 2-134M111 437q1-15 2 58t2 76 2-91 2-108M127 322q1 26 2 90t2 88 2-97M159 419q1 43 2 66t2 60 2-101 2-136M191 318q1 10 2 142t2 43 2-129M325 357q1 51 2 149t2-50 2-144"/>
<path stroke="#9036A0" d="M7 310q1-38 2-49t2 1 2 49M91 274q1 16 2 8t2-23 2-4 2 67M103 370q1-10 2 177t2 70 2-195 2-111M181 304q1 38 2-9t2-45 2 21 2 9M199 311q1-51 2-54t2 4 2 73M241 308q1-38 2-52t2-2 2 31M257 339q1-1 2 128t2 129 2-140 2-148M279 292q1-4 2-21t2-12 2 3 2 10M319 319q1-51 2-60t2 3 2 46M331 335q1-79 2-79t2 1 2 4 2 0 2-8 2-5 2 21 2 56M369 327q1 15 2 172t2-30 2-171M379 329q1-65 2-69t2 6 2 6 2-14l1-10"/>
<path stroke="#74B43A" d="M0 504l1-70q1-70 2 10M55 417q1 29 2 58t2-7 2-13M79 400q1 32 2 102t2 26 2-84M101 335q1-1 2 113t2 89 2 52 2-20M129 371q1 33 2 82t2 29 2-48M147 450q1 78 2 57t2-65 2-46M161 324q1 40 2 91t2 26 2 38M365 308q1 24 2 148t2 69 2-4 2 55 2-121M379 375q1 27 2 87t2 135 2-32 2-96l1 11"/>
<path stroke="#22B2EA" d="M73 292q1-14 2 151t2 26 2-157M159 319q1 3 2-27t2-32 2 7M337 422q1-14 2 15t2 101 2-50 2-137"/>
<path stroke="#C41B40" d="M0 266l1-6q1-6 2-13t2-2 2 21 2 10M19 262q1-14 2-18t2 28 2 60M37 296q1-12 2-30t2-21 2 35 2 15M53 334q1-46 2-65t2-15 2 23M121 274q1-8 2-16t2-2 2-1 2-10 2 16 2 48M155 343q1-97 2-91t2 19 2 15M169 323q1-57 2-70t2-14 2 24 2 28M197 276q1 0 2-12t2-8 2 12M213 298q1 2 2-23t2-22 2 10M299 276q1-16 2-22t2-6 2 3 2 49 2 78M361 331q1 31 2 121t2 26 2-112"/>
<path stroke="#1276C2" d="M31 270q1 12 2 3t2-18 2-9 2-1 2 9 2 60M47 380q1-144 2-137t2 32 2-1 2-25 2 29 2 30M67 289q1 9 2-18t2-30 2 18 2 21 2-4M103 278q1-6 2-11t2-7 2-6M149 288q1-14 2-23t2-15 2 62M215 283q1 17 2-8t2-28 2 4 2 6 2-2 2 0 2 14 2 206 2 5 2-186M251 313q1-37 2-44t2-11 2 24 2 49M293 359q1-15 2-61t2-51 2 6 2 20M341 383q1 119 2 112t2-67 2-101M373 262q1 8 2 0t2-13 2 14 2 36"/>
<path stroke="#EE5A22" d="M25 344q1-20 2 176t2 18 2-180M109 351q1 1 2 175t2-4 2-149M327 416q1-10 2 147t2 5 2-215"/>
<path stroke="#F5AE26" d="M61 264q1-10 2-15t2 1 2 14M75 294q1-22 2-27t2-7 2 46M229 268q1 12 2 3t2-18 2 48 2 14M251 333q1 17 2-32t2-55 2 4 2 19M267 306q1-50 2-52t2 8 2 21M287 316q1-24 2-48t2-18 2 65M337 299q1-23 2-37t2-9 2 63 2 57"/>
<path stroke="#9036A0" d="M0 244l1-3q1-3 2 4t2 50 2 77M33 313q1-17 2-35t2-22 2 11 2 157 2-29 2-157 2 19 2-1M57 261q1-7 2-11t2 24 2 48M145 287q1-39 2-36t2 42 2 26M155 320q1-48 2-63t2-13 2 16 2 93M225 451q1-31 2-91t2 203 2 59 2-284 2-76M239 256q1-4 2 0t2-2 2-12 2 17 2 19M333 282q1 2 2-11t2-17 2 0 2 7 2 9M371 400q1-12 2 123t2-13 2-188"/>
<path stroke="#74B43A" d="M33 393q1 73 2 151t2 32 2-137 2-81M199 438q1-52 2 9t2 127 2-79 2-174M295 431q1 5 2 12t2 110 2-5 2-127 2-36M343 389q1-11 2 73t2 147 2-50 2-148"/>
<path stroke="#22B2EA" d="M21 269q1-19 2-19t2-4 2 146 2 174 2-111 2-103M117 340q1-8 2 112t2 26 2-136M141 435q1 99 2 62t2-110 2-48M151 376q1-8 2 111t2 79 2-101 2-124M205 321q1-55 2-66t2-8 2 9 2 33M257 295q1 15 2 238t2-23 2-247M283 278q1-10 2-20t2 5 2 22M307 305q1-17 2-38t2-22 2 23 2 19M363 376q1 14 2 134t2-45 2-171"/>
<path stroke="#C41B40" d="M25 428q1 6 2 46t2-44 2-97M101 447q1 27 2 69t2-68 2-133M341 432q1 42 2 69t2-29 2-45"/>
<path stroke="#1276C2" d="M27 409q1 21 2 52t2 101 2-88 2-141M85 344q1-2 2 109t2 32 2-99M161 298q1-20 2 118t2 89 2-115M341 280q1-14 2 32t2 185 2 108 2-171 2-119M385 368q1 22 2 101l1 79"/>
<path stroke="#EE5A22" d="M35 294q1-20 2-25t2-15 2-1 2 21 2 6M53 287q1-9 2-24t2-15 2 15M85 330q1-60 2-67t2-11 2 14 2 9 2-22 2-12 2 23 2 63M133 295q1-13 2-33t2 32 2 41M151 264q1 2 2-12t2 14 2 35M187 332q1-64 2-77t2-4 2 14 2-3 2-10 2 15 2 22M221 325q1-59 2-67t2-2 2 41M249 262q1 0 2-4t2 58 2 59 2-74 2-64 2 22 2 18M301 355q1-99 2-103t2 13 2 41M323 308q1 18 2-23t2-40 2 7 2 41 2 12M371 462q1-52 2-138t2-85 2 10 2 26 2 2 2-13 2-10 2-11l1 1"/>
<path stroke="#F5AE26" d="M53 275q1 5 2 157t2 53 2-116M69 332q1 30 2 118t2 168 2-112 2-177 2 79M183 425q1 61 2 108t2-93 2-111M211 351q1-59 2 92t2 29 2-119M219 386q1 30 2 99t2 125 2-106 2-160"/>
<path stroke="#9036A0" d="M49 430q1 24 2 88t2-30 2-76M183 467q1 7 2 57t2 34 2-100 2-94M225 428q1 36 2 78t2-6 2-76M247 417q1 35 2 40t2 102 2 107 2-118 2-134 2-3"/>
<path stroke="#74B43A" d="M29 334q1-74 2-72t2 9 2 0M45 272q1-2 2-11t2-6 2 10M189 277q1 1 2-8t2-17 2-4 2 14 2-4 2-1 2 29M237 369q1-7 2-70t2-56 2 15 2 19M265 258q1-12 2 155t2 88 2-165 2-83 2 1 2 5 2 43M335 289q1-47 2 195t2 116 2-194 2-90 2-49 2-14 2 18 2 13"/>
<path stroke="#22B2EA" d="M0 546l1-57q1-57 2-62M73 360q1 48 2 135t2 64 2-123 2-83M131 353q1-37 2 130t2 87 2-119 2-73M157 388q1 62 2 158t2-7 2-155M317 401q1 27 2 70t2 56 2-43"/>
<path stroke="#C41B40" d="M113 361q1 75 2 141t2-33 2-117M141 363q1 57 2 116t2-15 2-82M163 302q1-4 2 187t2 102 2-173 2-76M261 314q1 24 2 129t2 8 2-84M311 319q1 13 2 150t2-6 2-125M325 386q1 20 2 142t2 32 2-138 2-43M375 357q1 27 2 76t2 81 2-76"/>
<path stroke="#1276C2" d="M151 346q1 26 2 229t2 98 2-105 2-106 2-139M253 333q1 17 2 96t2 16 2-98M287 276q1-24 2 225t2 97 2-201 2-48M305 367q1 27 2 91t2 72 2-96 2-83M339 388q1 40 2 66t2-20 2-61 2-26 2 152 2 82 2-172 2-107"/>
<path stroke="#EE5A22" d="M9 333q1 23 2 248t2 13 2-207M41 264q1-2 2-4t2 10 2 20M97 302q1 28 2 205t2-13 2-205M193 329q1-95 2 130t2 247 2-214 2-200M211 324q1 12 2-32t2-37 2 40M219 293q1-35 2-40t2 6 2 14M291 411q1-79 2-121t2-36 2 59M321 272q1-22 2-20t2 38 2 66M357 285q1-11 2-24t2-4 2 55"/>
<path stroke="#F5AE26" d="M29 331q1-17 2 75t2 77 2-101"/>
<path stroke="#9036A0" d="M17 449q1 15 2 47t2-39 2-63M29 335q1 23 2 139t2 90 2-116 2-103M49 345q1 13 2 173t2 38 2-165 2-46M91 372q1 24 2 27t2 147 2 12 2-182 2-41M231 330q1 8 2 192t2 1 2-177 2-11M261 323q1 15 2 88t2 66 2-24M339 384q1 12 2 51t2 155 2 14 2-158 2-46M361 441q1-15 2 104t2-44 2-158"/>
<path stroke="#74B43A" d="M99 398q1-138 2-139t2-10 2 12 2 32M207 299q1-21 2-38t2-12 2 53M227 324q1-64 2-70t2 2 2 28 2-5 2-30 2 11 2 24M253 302q1-28 2-38t2-15 2-1 2 32 2 84M357 294q1 2 2-24t2-28 2 0 2 7 2 54 2 38"/>
<path stroke="#22B2EA" d="M1 389q1 23 2-59t2-73 2 16 2 197 2 72 2-96M101 335q1 15 2 229t2 35 2-252 2-43M197 271q1 1 2-6t2-6 2 6M353 418q1 66 2 109t2-26 2-42M385 285q1-17 2-6l1 11"/>
<path stroke="#C41B40" d="M47 366q1-4 2 164t2 2 2-174M213 326q1 16 2 108t2 81 2-11 2-71 2-87M249 310q1-2 2 3t2 252 2-31 2-253 2 42"/>
<path stroke="#1276C2" d="M111 494q1 68 2 50t2-135 2-111M169 382q1 34 2 207t2 56 2-199 2-93M313 352q1 26 2 129t2 65 2-142"/>
<path stroke="#EE5A22" d="M21 297q1 25 2-10t2-38 2 11 2 17M49 278q1-12 2-17t2-7 2-1 2 3 2 6M61 264q1-2 2-13t2 127 2 68M83 257q1 1 2 4t2-5 2-5M99 314q1-48 2-55t2-9 2 10 2 62M135 369q1 25 2-47t2-74 2 8M159 393q1-61 2 78t2 11 2-169M229 283q1-19 2-24t2-10 2 6 2 14 2 32M319 276q1-10 2-14t2 1 2 8 2 40M345 298q1-30 2-39t2-2 2 50"/>
<path stroke="#F5AE26" d="M117 309q1-41 2 81t2 222 2-113 2-200M151 360q1 36 2-36t2-67 2 28M187 276q1-8 2-21t2-6 2 42 2 6M211 315q1-33 2-46t2-12 2 22M235 364q1 22 2 139t2-66 2-177"/>
<path stroke="#9036A0" d="M49 337q1 11 2 172t2 141 2-105 2-124 2-62M79 468q1-50 2 0t2 54 2-69M161 415q1 59 2 114t2 5 2-126M275 398q1-8 2 144t2 23 2-127 2-54M347 417q1 29 2 106t2 46 2-112 2-45M375 414q1 100 2 132t2-57 2-111"/>
<path stroke="#74B43A" d="M103 345q1 57 2 155t2 14 2-125M153 410q1-56 2 60t2-6 2-162 2-44 2 18 2 43M179 321q1 53 2 185t2-21 2-107M285 276q1-12 2-15t2 2 2 19M305 277q1-19 2-23t2 98 2 106 2-44"/>
<path stroke="#22B2EA" d="M21 371q1 19 2 139t2 4 2-103M113 380q1 40 2 87t2 55 2-55 2-83M195 371q1 29 2 166t2-2 2-124M237 463q1-51 2 39t2-63 2-143M251 429q1 61 2 68t2-54 2-42M261 430q1-32 2 32t2-16 2-87"/>
<path stroke="#C41B40" d="M17 254q1-2 2 7t2 59 2 7M45 364q1-28 2-70t2-48 2 96 2 80M95 273q1-5 2-19t2 6 2 34 2-11 2-29 2-7 2 1 2 8 2-4 2-11 2 1 2 3 2 52 2 39 2-63 2 4 2 149 2 54 2-92M141 298q1-36 2-47t2 0 2 5 2-8 2 35 2 31M185 274q1 6 2-11t2-23 2-5 2 37 2 37M201 261q1-3 2-3t2 4 2 6M225 305q1-51 2-51t2 8 2 4M255 376q1-110 2-120t2 1 2 27M325 290q1-40 2-44t2 14 2 11 2 57M335 397q1 5 2-75t2-77 2 41 2 53M373 346q1-48 2-64t2-26 2 8 2 129 2-25 2-123 2 44l1 31"/>
<path stroke="#1276C2" d="M67 370q1 66 2 81t2-42 2-76M131 333q1 19 2 154t2 69 2-164 2-42 2 139 2 19 2-111 2-69"/>
<path stroke="#EE5A22" d="M57 329q1-27 2-55t2-9 2 97M65 411q1-29 2-16t2 133 2-56 2-155M105 309q1-23 2-42t2-14 2 11 2 114 2 98 2-61M165 292q1 6 2-9t2-27 2-8 2 10 2 33M197 321q1-49 2-63t2-4 2 18 2 1M245 296q1-2 2-25t2-17 2 11M283 296q1-34 2-39t2 12 2 12M339 296q1 34 2 174t2 84 2-125 2-80M367 328q1-54 2-69t2-9 2 47"/>
<path stroke="#F5AE26" d="M91 284q1 14 2 141t2 91 2-126 2-91M107 341q1-9 2 133t2 51 2-145 2 7 2 105 2-37 2-122M169 373q1-43 2 3t2 216 2-52 2-188 2 54M183 374q1-2 2 71t2 131 2-88 2-138 2 53 2 125 2 46 2-77 2-16M219 358q1 64 2 178t2-27 2-163M321 348q1-10 2 59t2 123 2-64 2-123"/>
<path stroke="#9036A0" d="M145 341q1-25 2 11t2 166 2 172 2-163 2-197M345 373q1 31 2 144t2-9 2-161"/>
<path stroke="#74B43A" d="M63 385q1-25 2 40t2 165 2 36 2-101 2-125 2-88M103 339q1 17 2 116t2 186 2-52 2-153 2-19M169 327q1 19 2 60t2 115 2 29 2-66 2-91M217 418q1 6 2-20t2 162 2 23 2-192M297 366q1-36 2 9t2 200 2 54 2-198 2-78M331 339q1-13 2 110t2 65 2-84 2-63M369 367q1 9 2 122t2 57 2-118"/>
<path stroke="#22B2EA" d="M35 416q1-12 2 34t2-47 2-65M53 409q1 23 2 57t2-18 2-70M209 396q1 32 2 74t2 15 2 0M221 413q1 15 2 64t2 25 2-85M239 380q1 48 2 99t2 46 2-82M333 351q1-19 2 108t2 108 2-55"/>
<path stroke="#C41B40" d="M71 360q1 4 2 79t2 142 2-77 2-132M237 379q1 29 2 79t2 13 2-19M283 272q1-8 2-13t2 6 2 76M331 362q1-16 2 107t2 171 2-119 2-166M373 339q1 37 2 97t2 83 2-50"/>
<path stroke="#1276C2" d="M35 366q1 26 2 126t2-13 2-83M47 297q1 37 2 196t2-24 2-191M103 323q1 53 2 137t2 94 2-137 2-150M151 325q1 21 2 125t2 35 2-88M193 280q1-44 2 193t2 83 2-179 2-7M293 361q1 41 2 66t2-36 2-12M309 322q1 36 2 84t2 155 2 119 2-79 2-191 2-103"/>
<path stroke="#EE5A22" d="M49 338q1-10 2-45t2-41 2-7 2 6 2 61 2 97M117 304q1-8 2 229t2 52 2-246M145 307q1-21 2 55t2 153 2-31 2-105"/>
<path stroke="#F5AE26" d="M69 431q1 69 2 78t2-40 2-88M127 439q1-43 2 77t2 7 2-169M219 395q1-103 2-55t2 178 2-40 2-178M269 332q1 28 2 160t2 49 2-166 2-85"/>
<path stroke="#9036A0" d="M69 390q1 2 2 77t2-56 2-112 2 131 2 21 2-118M95 325q1-5 2 84t2 121 2-16 2-122 2-90M137 263q1-5 2-1t2 2 2 6M205 388q1 126 2 121t2 45 2-63 2-121M235 336q1 36 2 153t2 95 2-110 2-145M255 342q1 12 2 82t2 101 2-96M291 288q1-6 2 62t2 193 2-70 2-169M301 300q1-30 2 107t2 45 2-37M331 398q1 0 2 6t2 168 2 8 2-190 2-53"/>
<path stroke="#74B43A" d="M23 419q1-107 2-5t2 231 2-120 2-222M33 309q1-21 2-35t2-16 2 35 2 83M57 327q1 51 2 163t2 37 2-115M175 394q1 48 2 82t2 140 2-119 2-224M189 343q1-31 2 118t2 14 2-163M231 343q1 33 2 222t2-7 2-199 2-4"/>
<path stroke="#22B2EA" d="M9 263q1 21 2 0t2-14 2 35 2 50 2 184 2 84 2-186 2-94M33 470q1 94 2 140t2-139 2-137M51 338q1-74 2-83t2-16 2 83 2 68M91 276q1-26 2-24t2 83 2 99M145 282q1-8 2-21t2-11 2 5M233 386q1-154 2-136t2 25 2-2M267 273q1-19 2-25t2 6 2 11 2 75M291 286q1-18 2-17t2 32 2 104M307 293q1-21 2-34t2-9 2 20 2 14M347 293q1 25 2 168t2 38 2-170M375 283q1-27 2-24t2 68 2 19"/>
<path stroke="#C41B40" d="M1 286q1-6 2-25t2-9 2 23M59 303q1 27 2 1t2-41 2-11 2 16 2 30M75 321q1-53 2-60t2-5 2 28 2 38M117 267q1 1 2-5t2 2 2 2M139 371q1-43 2 61t2-48 2-131 2 19 2 32 2-1 2-46 2-5 2 66M195 266q1-6 2-9t2 50 2 33M231 268q1 4 2-5t2-10 2 28M289 438q1-62 2-118t2-67 2-3 2 54M327 439q1-67 2-132t2-66 2 18 2 16M349 321q1-71 2-68t2 16 2 37M369 336q1 64 2 158t2-43 2-167"/>
<path stroke="#1276C2" d="M31 461q1 137 2 52t2 84 2-54 2-215M113 345q1 19 2 106t2 12 2-81M135 428q1-18 2 5t2 177 2-23 2-239 2-35M155 409q1 95 2 105t2-105 2-108M213 340q1-26 2 50t2 145 2-55 2-111M271 417q1-55 2 5t2-29 2-94M365 366q1 32 2 100t2 5 2-104"/>
<path stroke="#EE5A22" d="M0 252l1 5q1 5 2 14t2 1M49 378q1 16 2-59t2-62 2 23 2 94M85 280q1-6 2-22t2-9 2 22M179 325q1 77 2 3t2-78 2 7 2 6M195 280q1-34 2-14t2 85 2 4M279 308q1-30 2-36t2-13 2-3 2 1 2 23M331 302q1 32 2 118t2 108 2-87 2-107M375 315q1-17 2-35t2-26 2 25 2 59"/>
<path stroke="#F5AE26" d="M129 341q1-11 2 151t2 32 2-178"/>
<path stroke="#9036A0" d="M19 315q1 9 2 132t2 74 2-58 2-70M129 322q1 2 2 99t2 38 2-20M283 415q1 19 2 64t2-12 2-123M325 429q1-9 2 120t2-4 2-163 2-24M381 328q1 48 2 125t2 18 2-91"/>
<path stroke="#74B43A" d="M21 333q1 29 2 128t2 46 2-102M117 369q1 39 2 92t2-17 2-86M159 336q1 6 2 57t2 67 2-34 2-43M195 492q1-8 2 12t2-6 2-30M243 440q1 42 2 108t2-8 2-98 2-25 2 11 2 67 2-21 2-81"/>
<path stroke="#22B2EA" d="M53 332q1-80 2-76t2 26 2 24M221 346q1 34 2 130t2 94 2-138 2-144M327 307q1 21 2 127t2 63 2-65M385 302q1-40 2-43l1-3"/>
<path stroke="#C41B40" d="M5 399q1-15 2-80t2-70 2 107 2 80M47 372q1 4 2 190t2 0 2-222M59 358q1-50 2 70t2 111 2-128 2-114M191 331q1 1 2 46t2 148 2 45 2-153 2-111M233 392q1 70 2 121t2 7 2-99 2-68M255 387q1 67 2 55t2 70 2-14 2-133 2-57M297 403q1 35 2 105t2-36 2-146"/>
<path stroke="#1276C2" d="M57 355q1 43 2 146t2 11 2-107 2-16M89 356q1 48 2 120t2-21 2-104M107 359q1 7 2 95t2 29 2-98M169 468q1 102 2 47t2-101 2-54M201 398q1-10 2 39t2 16 2-87 2 70 2 141 2-86 2-87M221 368q1 16 2 63t2 36 2-86M267 372q1 2 2 141t2 128 2-166 2-119M343 313q1-3 2 118t2 130 2 7 2-90 2-75"/>
<path stroke="#EE5A22" d="M11 270q1 0 2-13t2-9 2 10 2 14M21 278q1-2 2-17t2-1 2 54M39 324q1-30 2-53t2-29 2-1 2 17 2 5M63 273q1-15 2-10t2 16 2 6 2-21 2-18 2 15 2 32 2 20M81 292q1-26 2-34t2-1 2 26 2 13M123 301q1-37 2-36t2-6 2 3M133 272q1-18 2-8t2 1 2 22M141 310q1-8 2-39t2-28 2 14 2 30 2 146 2 110 2-130 2-50M159 380q1-46 2-84t2-32 2-3 2-14 2 7 2 42M233 275q1-9 2-14t2 2 2 7M303 261q1 1 2-1t2-6 2 17"/>
<path stroke="#F5AE26" d="M29 391q1 9 2 48t2 33 2 71 2-39 2-166M201 432q1 26 2 79t2 14 2-133M211 302q1 18 2 208t2 34 2-215M241 318q1-32 2-47t2-15 2 36 2 31M255 348q1 24 2 132t2 27 2-114 2-16M265 366q1-28 2-77t2-45 2 51 2 107"/>
<path stroke="#9036A0" d="M3 359q1 33 2 77t2 42 2-63M81 364q1-10 2 48t2 205 2-90 2-242M175 381q1-25 2 56t2 14 2-104M289 301q1 29 2 216t2 12 2-175M323 372q1 22 2 129t2-14 2-135"/>
<path stroke="#74B43A" d="M183 383q1 45 2 137t2-68 2-171M203 443q1 89 2 43t2 97 2-76 2-222M213 366q1 84 2 127t2 52 2-120 2-138M277 463q1-13 2 44t2 14 2-109 2-78M321 388q1 42 2 103t2-17 2-54M341 352q1 20 2 118t2-11 2-112M355 407q1 19 2 90t2-21 2-46M369 411q1 71 2 145t2-74 2-183"/>
<path stroke="#22B2EA" d="M7 338q1-18 2 125t2 42 2-106M65 387q1 7 2 80t2-14 2-105M73 345q1 15 2 146t2-1 2-138M103 354q1 32 2 124t2 50 2-117M157 322q1-18 2 157t2 86 2-83 2-66 2 5M169 414q1-84 2 118t2 9 2-178M213 331q1 35 2 140t2 54 2-118M241 344q1 22 2 132t2 86 2-92 2-93M357 414q1 72 2 112t2-25 2-58"/>
<path stroke="#C41B40" d="M0 498l1-40q1-40 2 15M11 335q1 25 2 215t2 58 2-199 2-54M31 316q1 4 2 106t2 69 2-92M135 414q1 74 2 80t2-62 2-66M265 337q1 11 2 72t2 127 2-44 2-130"/>
<path stroke="#1276C2" d="M29 382q1-86 2-102t2-17 2 75M123 350q1 2 2 105t2 88 2-89M279 332q1 60 2 126t2-36 2-103M367 326q1-22 2-45t2-24 2 13"/>
<path stroke="#EE5A22" d="M9 295q1 21 2 101t2 194 2-74 2-208M23 337q1 41 2 128t2-18 2-153 2-30 2 50M77 366q1-42 2 84t2 190 2-113 2-172M101 266q1-22 2 170t2 46 2-141M115 357q1-3 2 39t2 219 2-13 2-250 2-51M199 316q1 14 2 158t2 17 2-137M229 329q1-3 2 105t2 31 2-106M255 306q1 6 2 195t2 83 2-122 2-107M325 426q1-72 2 9t2 13 2-91"/>
<path stroke="#F5AE26" d="M5 296q1 28 2 136t2 104 2-62 2-79M31 495q1 9 2-8t2-33 2-32M95 406q1 2 2 65t2 2 2-116M111 434q1 38 2 54t2-31 2-72M123 375q1 19 2 30t2 147 2 64 2-141 2-102M173 407q1-15 2 10t2-8 2-70M187 404q1-24 2 133t2-17 2-83M223 404q1-42 2 72t2 4 2-95M243 398q1 6 2 80t2 27 2-98M251 353q1-3 2 72t2 22 2-67M295 493q1-77 2 58t2-14 2-191M325 424q1 24 2 40t2 21 2-35"/>
<path stroke="#9036A0" d="M51 303q1 35 2 112t2-2 2-121M77 335q1 53 2 119t2 98 2-118 2-135M199 351q1 1 2 85t2 16 2-109M217 351q1-5 2 58t2 16 2-60M381 319q1-11 2 122t2-21 2-149"/>
<path stroke="#74B43A" d="M0 322l1-14q1-14 2-23M75 394q1 6 2 63t2 9 2-92M171 357q1-45 2-72t2-28 2 54"/>
<path stroke="#22B2EA" d="M17 392q1-58 2-104t2-37 2 18 2 5M69 281q1-7 2-13t2-16 2 49 2 78M109 258q1 4 2-4t2 9 2 15M117 265q1-11 2-16t2-10 2 59 2 52M139 308q1-44 2-51t2-11 2 13 2 20M175 295q1-21 2-35t2-11 2 39 2 110M191 317q1-45 2-58t2-16 2 61 2 33M201 290q1-16 2-28t2-7 2 37 2 8M221 320q1-38 2-50t2-18 2-1 2 3 2 3 2 10M235 268q1-4 2-9t2-4 2 12M281 344q1 6 2-43t2-53 2 5 2 30 2 43M293 354q1 6 2 167t2 72 2-164 2-117M355 310q1-48 2-55t2 9 2 51M379 284q1-22 2-26t2 13 2 13"/>
<path stroke="#C41B40" d="M61 295q1 9 2 195t2-16 2-158M151 378q1-6 2 101t2 61 2-128 2-105M187 407q1-45 2 81t2-25 2-143M355 324q1 2 2-38t2-36 2 10 2 6"/>
<path stroke="#1276C2" d="M43 429q1 1 2 78t2 71 2-18 2-110 2-100M61 399q1 3 2 34t2 132 2-31 2-130M115 288q1 12 2 133t2 64 2-23M123 429q1-67 2 33t2 13 2-119"/>
<path stroke="#EE5A22" d="M95 316q1 18 2 109t2 110 2-70 2-34M105 450q1-36 2 17t2 37 2-120 2-107M141 367q1 73 2 171t2-56 2-153M301 428q1-2 2 79t2 3 2-126"/>
<path stroke="#F5AE26" d="M63 310q1-36 2-40t2-5 2 52M101 406q1 64 2 123t2-41 2-124M159 346q1 26 2 57t2 191 2-73 2-217M201 387q1-3 2 67t2-37 2-102M223 299q1 15 2 145t2 30 2-136M255 346q1-18 2 56t2 46 2 106 2-63 2-207M267 296q1 22 2 168t2 43 2-149"/>
<path stroke="#9036A0" d="M69 285q1-13 2-16t2-13 2 87 2 66M249 380q1 38 2 94t2 16 2-46M339 286q1 0 2 93t2 100 2-98M347 273q1-3 2 172t2 119 2-137"/>
<path stroke="#74B43A" d="M0 396l1 118q1 118 2-35t2-179M9 293q1 11 2 45t2 194 2 32 2-195 2-77M61 337q1-15 2 60t2 114 2-95 2-133M131 331q1 29 2 49t2 124 2 14 2-51M339 322q1 6 2 103t2-2 2-130M359 341q1 27 2 191t2-9 2-162M379 294q1-28 2-32t2 8 2 11"/>
<path stroke="#22B2EA" d="M0 454l1-24q1-24 2-62M21 408q1-32 2 83t2-2 2-141M35 338q1 46 2 131t2 63 2-11 2-16 2-88M57 361q1 15 2 73t2 57 2-53M65 392q1 6 2 57t2 18 2-58M85 429q1 33 2 69t2-35 2-31 2 77 2 22 2-93 2-72M119 396q1-16 2 57t2 46 2-64M135 374q1 22 2 80t2 73 2 15 2-32 2-87M195 388q1-4 2 65t2 48 2-91M209 407q1 95 2 77t2-60 2-20M223 399q1-11 2 26t2 119 2-48M235 359q1 25 2 119t2 54 2-100 2-63M245 355q1-11 2 34t2 126 2-18 2-118M289 413q1 37 2 35t2 101 2 100 2-192 2-134M303 423q1-23 2 62t2-10 2-91M375 324q1-2 2 139t2 53 2-116"/>
<path stroke="#C41B40" d="M101 475q1-71 2-116t2 255 2-1 2-246 2 30M207 374q1 48 2 118t2 33 2-86 2-91M241 343q1 21 2 65t2 190 2-36 2-185 2-12"/>
<path stroke="#1276C2" d="M169 363q1 57 2 139t2-2 2-92 2 11M265 414q1 40 2 78t2 11 2 11 2-51 2-113 2 11 2 178 2 27 2-154 2-49M287 353q1 1 2 128t2 19 2-117"/>
<path stroke="#EE5A22" d="M13 314q1 6 2-27t2-30 2 95M43 362q1 34 2 185t2-2 2-160M111 261q1 1 2-2t2 10 2 10 2-18 2-2 2 10 2 4M145 341q1-25 2-56t2-38 2 34 2 74M159 357q1 7 2-49t2-62 2 54 2 39M173 355q1-29 2-64t2-36 2-3 2 4M189 268q1 4 2-4t2-1 2 12 2 204 2-6 2-157M209 323q1-7 2 164t2 5 2-150M237 264q1-2 2-1t2 127 2 153 2-63 2-146M303 274q1 0 2-14t2-7 2 10 2 69M313 334q1-64 2-77t2-10 2 13 2 28M325 283q1-1 2-9t2-19 2-5 2 7 2 7 2 21M343 304q1-42 2-47t2 24 2 104"/>
<path stroke="#F5AE26" d="M67 285q1 5 2-18t2-23 2 8 2 98 2 39M131 272q1 2 2-5t2-10 2 53 2 49M199 360q1 48 2 104t2-31 2-126M225 310q1 32 2-14t2-50 2 10 2 15 2 31M255 294q1 26 2 108t2 25 2-64M267 287q1-3 2 191t2 41 2-176 2-51M291 312q1 52 2 152t2 60 2-112 2-69M357 292q1-14 2-34t2 70 2 183 2-34 2-155"/>
<path stroke="#9036A0" d="M43 307q1 9 2 168t2-2 2-145M51 361q1 17 2 132t2 7 2-158M159 434q1 52 2 81t2 100 2-57 2-189 2-43M357 300q1 20 2 123t2 32 2-60 2 55 2 0 2-96M381 371q1-29 2 24t2 183 2-13l1-143"/>
<path stroke="#74B43A" d="M11 453q1-73 2 37t2-37 2-28 2 133 2-37 2-34 2 2 2-31M71 383q1 7 2 157t2 137 2-130 2-152 2-25M107 388q1 34 2 57t2 46 2-30M149 420q1 18 2 39t2 98 2-66 2-154 2 105 2 67 2-71 2-29M175 355q1 27 2 89t2 104 2-59 2-113M195 395q1-3 2 50t2 9 2-43M225 399q1-9 2 54t2 89 2-38 2-63 2 74 2 25 2-16 2-65 2-75M261 397q1 15 2 87t2 43 2-69 2-37M271 405q1-19 2 26t2-19 2-18M319 386q1 44 2 116t2 108 2-81 2-160M367 416q1 56 2 91t2-37 2-91"/>
<path stroke="#22B2EA" d="M0 276l1-15q1-15 2-14t2 6 2 9 2-2M17 257q1 7 2-1t2-12 2 48 2 34M35 312q1 18 2-20t2-41 2 9 2 125M57 274q1-2 2-17t2-2 2 24M79 391q1-85 2-106t2-31 2-1 2 14 2-6M151 310q1 12 2-21t2-36 2 5 2 11M171 295q1-35 2-34t2-9 2 136 2 90 2-70M219 289q1 11 2 137t2 6 2-123M251 361q1-75 2-95t2-19 2 18 2 12 2-20 2 47M277 373q1-99 2-111t2 9 2 32M301 261q1 1 2-5t2-5 2 3 2 5 2 5 2 39M315 299q1-41 2-37t2 2 2 65M323 465q1 69 2-85t2-131 2 32 2 32M337 356q1-54 2 151t2-39 2-214M367 290q1 30 2 5t2-42 2 146 2 152 2-115"/>
<path stroke="#C41B40" d="M117 349q1-37 2 129t2 57 2-194M135 345q1 15 2-34t2-60 2 65M155 369q1-39 2 64t2 41 2-132M191 292q1 4 2 115t2 88 2-105M217 316q1 46 2-8t2-57 2-1 2 20 2 57M235 301q1 37 2 160t2 24 2-111M303 394q1-4 2-69t2-74 2 13 2 23 2-21 2-20 2 12 2 21 2 60 2 121 2 41 2-75 2-44M339 269q1-11 2-13t2 12 2 88M385 287q1 15 2 66l1 51"/>
<path stroke="#1276C2" d="M51 439q1-37 2 99t2 22 2-168 2-74M77 324q1-58 2-62t2 13 2 75M85 418q1 10 2 61t2-12 2-75M137 380q1 82 2 118t2-94 2-112M175 336q1 40 2 171t2-24 2-159M221 355q1-15 2-8t2 113 2 126 2-137 2-147M247 295q1-19 2 112t2 85 2-89M267 317q1-11 2 123t2 133 2-48 2-115 2-96"/>
<path stroke="#EE5A22" d="M57 347q1 17 2 74t2 40 2-53M191 467q1 91 2 27t2-3 2-29M199 340q1-32 2 160t2 192 2-194 2-187M363 320q1 20 2 151t2-3 2-142M375 378q1 82 2 131t2 82 2-71 2 47 2-29 2-206"/>
<path stroke="#F5AE26" d="M111 319q1 43 2 82t2 72 2 51 2-54 2-122M139 457q1-37 2 48t2 10 2-47 2 46 2-56M171 299q1-19 2 29t2 81 2-28 2-54M201 434q1 6 2 3t2 50 2-7M243 344q1-2 2 91t2 56 2-135M257 330q1 28 2 89t2 97 2-35 2-75M305 287q1-17 2 92t2 135 2-63 2-113M341 474q1 46 2-16t2 35 2 2 2-106 2 31"/>
<path stroke="#9036A0" d="M15 335q1-23 2-55t2-32 2 5 2 8 2 40M31 267q1 15 2 74t2 176 2-2 2-168 2-67M49 334q1 4 2 161t2-43 2-197 2 3 2 10M79 304q1 8 2-7t2-38 2 206 2 83 2-216 2-74 2 1M97 264q1-30 2 141t2 29 2-90M183 396q1-126 2-136t2 2 2 6 2-13 2 32 2 74M199 285q1 1 2-11t2-21 2-2 2 13 2 21M217 262q1 4 2-3t2 12 2 52M239 284q1 8 2-12t2-18 2 1 2 1 2-1 2 4 2 68M277 281q1-11 2-20t2 18 2 32M321 402q1-12 2-76t2-64 2 0 2-5 2 60 2 53M337 315q1-63 2 71t2 148 2-94 2-98"/>
<path stroke="#74B43A" d="M1 340q1-42 2-2t2 248 2-58 2-270 2-5 2 14 2 23M57 343q1 63 2-11t2-74 2-4 2-1 2-2 2 1 2 17M103 275q1-3 2-14t2-8 2 18 2 14M117 293q1 21 2 208t2 12 2-208M125 264q1-8 2-5t2 23 2 0 2-19 2-2 2 54 2 68M175 303q1 37 2 150t2-19 2-158 2-24 2 66 2 185 2-38 2-150M193 301q1-23 2 198t2 29 2-222 2-45 2-18 2 3 2 9 2 15M213 283q1-13 2-26t2-4 2 20 2 0M227 292q1-12 2-33t2-17 2 15 2 58M249 295q1-47 2-36t2 30 2-14 2-26 2 52 2 1 2-52 2-1 2 63 2 45M271 316q1-30 2-45t2-18 2 100 2 15M291 293q1-19 2-19t2-2 2 1M299 298q1 22 2-7t2-38 2-5 2 19 2 30M333 424q1-42 2 73t2-37 2-159M353 300q1-26 2-41t2 3 2 31M373 352q1 54 2 65t2 122 2 44 2-210 2-137 2 44 2 82"/>
<path stroke="#22B2EA" d="M17 363q1-21 2 92t2 94 2-1 2-57 2-91 2-8M109 307q1-1 2 44t2 202 2-41 2-218M135 416q1 56 2 89t2-76 2-127M151 365q1 5 2 51t2 117 2-30 2-127M181 361q1-13 2 4t2 112 2 3 2-111M231 363q1 51 2 183t2 66 2-136 2-69M265 430q1-48 2-18t2 70 2-20 2-72M319 346q1-8 2 122t2 71 2-108 2-85"/>
<path stroke="#C41B40" d="M119 318q1-24 2 4t2 261 2-17 2-160 2 29 2-67M167 408q1 68 2 90t2-72 2-102M241 333q1 29 2 107t2 71 2-71 2-61M279 422q1 46 2 64t2-49 2-27"/>
<path stroke="#1276C2" d="M39 334q1-4 2 138t2 126 2-131 2-156 2-42 2 54 2 81M85 332q1 44 2 125t2 9 2-94M115 340q1-14 2 89t2 25 2-114M153 310q1-20 2 9t2 269 2 26 2-186 2-34M175 350q1 10 2 86t2-6 2-106M203 328q1 18 2 112t2 167 2-28 2-186 2-44 2 142 2 9 2-119 2-53M245 440q1 10 2 39t2-63 2-109M305 384q1 14 2 105t2 31 2-67 2 41M329 425q1-5 2 82t2 24 2-131 2-55"/>
<path stroke="#EE5A22" d="M5 313q1-3 2 90t2 183 2-99 2-178M75 455q1-9 2 30t2-15 2-121 2-46M131 292q1-8 2 92t2 244 2-103 2-209 2 48M205 335q1 21 2 65t2 126 2-65 2-137M339 452q1-88 2-11t2-16 2-76"/>
<path stroke="#F5AE26" d="M37 270q1-6 2-10t2 71 2 58M133 342q1 2 2-36t2-43 2 1 2 31M161 303q1-29 2-40t2-1 2 46 2 22"/>
<path stroke="#9036A0" d="M101 299q1 23 2 175t2 70 2-120M143 310q1 34 2 92t2 90 2-44M241 311q1 39 2 156t2-44 2-157M255 303q1-11 2 74t2 77 2-55M319 355q1-61 2 163t2 34 2-187 2-20M341 350q1 8 2 26t2 213 2 9 2-212 2-35M355 410q1 10 2 29t2 72 2-52 2-116M385 336q1-2 2 34l1 36"/>
<path stroke="#74B43A" d="M0 490l1-11q1-11 2 22t2-57M119 380q1 14 2 69t2-5 2-88M143 447q1 39 2 51t2-46 2-31M221 383q1 5 2 7t2 147 2 27 2-151 2-48M303 367q1 15 2 152t2 1 2-153 2-55M323 298q1 8 2 65t2 200 2-27 2-136 2-2M363 304q1-36 2-36t2-18 2 110 2 118 2-37 2-97"/>
<path stroke="#22B2EA" d="M19 467q1-17 2 14t2-4 2-17 2 35 2-55 2-99M67 345q1-1 2 65t2 155 2-22 2-147 2 18M149 370q1 10 2 82t2 48 2-96M187 396q1 32 2 99t2-4 2-117M197 326q1 16 2 132t2 47 2-63 2-20M225 356q1-4 2 154t2 153 2-146 2-86M273 349q1-5 2 40t2 193 2-41 2-181 2 168 2 32 2-57 2-40 2-98M319 339q1 13 2 64t2 87 2-74M357 417q1 77 2 62t2-75 2-67 2 113 2 177 2-86 2-71 2 55 2-46"/>
<path stroke="#C41B40" d="M0 320l1-34q1-34 2-29t2 13 2 11M65 368q1 20 2 178t2-16 2-150M147 360q1 26 2 108t2 25 2-92M179 393q1 91 2 100t2 74 2-80 2-117M239 286q1 12 2-8t2-23 2 4 2 18M279 334q1 28 2-14t2-60 2 33 2 329 2-5 2-300 2 11M345 292q1 22 2 117t2 16 2 56 2 9 2-174"/>
<path stroke="#1276C2" d="M0 524l1 6q1 6 2-64t2-101M35 407q1 33 2 66t2-2 2-42M97 465q1 11 2 19t2-3 2-85M109 344q1-4 2 51t2 211 2-65 2-198 2 71M129 336q1 6 2 144t2 41 2-128M181 388q1 16 2 102t2-6 2-113M209 444q1 2 2-1t2 64 2 6 2-94M221 392q1 30 2 48t2 6 2-12M309 463q1-43 2 13t2 37 2-101M351 431q1 51 2 97t2-19 2-73"/>
<path stroke="#EE5A22" d="M9 297q1 21 2 126t2 77 2-78M119 285q1 1 2-13t2-18 2 43 2 158 2 198 2-51 2-96 2-45 2-72M149 302q1 4 2 111t2 48 2 24 2-60 2-125M165 374q1-20 2 62t2 0 2-92M203 343q1 89 2 136t2 47 2-111 2-129M219 325q1 19 2 84t2 155 2 8 2-174 2-96M247 311q1 11 2 35t2 209 2-16 2-213 2-31M267 353q1-99 2-91t2 27 2 9 2-18 2-13 2 41M317 299q1 19 2 152t2 76 2-146M333 403q1 53 2 126t2-60 2-112M353 336q1 52 2 134t2 50 2-58"/>
<path stroke="#F5AE26" d="M25 367q1 19 2 82t2 172 2-114 2-222M75 314q1 38 2 72t2 153 2-17 2-103 2-68M111 295q1 13 2 83t2 87 2-74M189 411q1 61 2 90t2 24 2-70 2-57M293 384q1 30 2 80t2 20 2-39 2-30M311 371q1 39 2 102t2 49 2-18 2-54 2-64M337 300q1 30 2 142t2 13 2-106 2 66 2 64 2-45 2-82"/>
<path stroke="#9036A0" d="M11 365q1 35 2 126t2 129 2-98 2-68 2 23 2-38M121 323q1 7 2 59t2 213 2-18 2-157 2 81 2-33 2-117M149 366q1 62 2 141t2-18 2-116M169 469q1-57 2 62t2-13 2-133M203 448q1 58 2 53t2-85 2-78M265 407q1-1 2 0t2 150 2 20 2-202 2-79M327 315q1 5 2 114t2 54 2-97M385 409q1-31 2-13l1 18"/>
<path stroke="#74B43A" d="M3 427q1-11 2 25t2-66 2-77M29 478q1 56 2 37t2 55 2 69 2-35 2-136 2-150M175 324q1-4 2 124t2 119 2-117 2-98M191 351q1 27 2 91t2 17 2-50M219 343q1 29 2 32t2 72 2 57 2-29 2-69M237 339q1 45 2 106t2-4 2-85M289 399q1-15 2 41t2 27 2-89M359 307q1-15 2 10t2 284 2 45 2-254 2-59"/>
<path stroke="#22B2EA" d="M51 462q1 2 2-3t2-39 2-52M79 430q1 46 2 45t2-43 2 198 2-29 2-267 2 17M97 276q1-16 2-15t2 13 2 39M131 313q1 11 2 115t2 4 2-119M373 348q1 34 2 93t2-32 2-93"/>
<path stroke="#C41B40" d="M51 318q1-58 2-53t2 34 2 54M103 347q1 95 2 21t2 160 2-35 2-243 2 21 2-1M125 360q1 2 2 66t2 12 2 31M147 308q1 8 2 138t2 62 2-151 2-81M193 348q1 22 2 85t2-59 2-111M237 261q1-5 2 217t2 108 2-195 2-87M267 298q1-32 2 105t2 90 2-55 2-66M357 369q1 45 2 89t2-21 2-31M375 381q1-11 2 71t2 74 2-80"/>
<path stroke="#1276C2" d="M25 300q1 12 2 194t2 62 2-196 2-81M79 291q1-3 2-8t2-18 2 38 2 125M141 298q1-46 2-38t2 37 2 6M195 420q1 88 2 75t2-85 2-82M231 391q1 23 2 48t2-73 2-85M263 309q1-57 2-55t2 17 2 10 2-17 2-10 2 16 2 18M349 353q1 41 2 116t2 54 2-107M363 338q1 46 2 139t2-36 2-45M373 315q1-61 2 36t2 127 2-71"/>
<path stroke="#EE5A22" d="M0 292l1 13q1 13 2 26M127 300q1 34 2 135t2 32 2-53M201 361q1 21 2 79t2 112 2-89 2-165M245 376q1 6 2 30t2 46 2 38 2-25M261 344q1 14 2 155t2 11 2-92M331 344q1 4 2 66t2 123 2 11 2-104 2-17M359 345q1 17 2 83t2-7 2-75M377 415q1-21 2 80t2 49 2-109 2-72"/>
<path stroke="#F5AE26" d="M3 340q1-6 2 148t2 48 2-127 2-58M133 400q1 32 2 7t2 192 2-18 2-245 2-30M145 284q1-2 2 103t2 183 2-117 2-172"/>
<path stroke="#9036A0" d="M0 516l1-12q1-12 2-85t2 109 2-18 2-191M11 315q1-13 2-37t2-19 2 25M135 341q1 25 2 101t2-20 2-75M263 341q1-23 2 149t2-47 2-191 2 28M291 308q1-44 2-48t2-7 2-3 2 26 2 90"/>
<path stroke="#74B43A" d="M25 400q1 12 2 48t2-38 2-39M49 326q1-38 2-57t2-9 2 13 2 6M75 429q1 33 2 73t2 23 2-93 2-95M115 360q1 24 2 25t2 169 2 9 2-200 2-37M183 431q1 49 2 60t2-58 2-76M207 372q1 0 2 73t2 39 2-93 2-2 2 79 2 2 2-63M245 374q1 14 2 44t2 17 2-11M257 367q1 37 2 81t2-31 2-78M265 328q1-8 2 165t2 63 2-97M311 349q1-17 2 19t2 110 2-31M323 329q1 3 2 81t2 78 2-56M381 413q1 23 2 97t2-35 2-68"/>
<path stroke="#22B2EA" d="M11 375q1 91 2 90t2-64 2-88M37 461q1 69 2 46t2-9 2-56 2-93M59 387q1 25 2-59t2-79 2 18 2 17M79 287q1 11 2-14t2-16 2 31 2 63M133 354q1-72 2-84t2 1 2 14M141 257q1-29 2 185t2 26 2-162M149 292q1-40 2-30t2 43 2-3 2-47 2-1 2 14 2 70M173 278q1 12 2-9t2-20 2 15 2 8M239 336q1 0 2-39t2-43 2 73 2 55 2-84 2-51 2 41 2 18M309 326q1-26 2-50t2-31 2 65 2 80M355 271q1-7 2-11t2 1 2-3 2-12 2 36 2 56 2-38 2-46 2 14"/>
<path stroke="#C41B40" d="M149 365q1-5 2 34t2 69 2-60 2-86M199 394q1-4 2 11t2 150 2-38 2-163M235 295q1 5 2 161t2 31 2-112 2 123 2 12 2-96M277 303q1-21 2-39t2 59 2 43M337 341q1 27 2 97t2-12 2-109"/>
<path stroke="#1276C2" d="M11 364q1 40 2 133t2 71 2-147 2-40M101 461q1-15 2-114t2-78 2 77M247 343q1 43 2 120t2-49 2-125M297 349q1 19 2 49t2 154 2 61 2-127 2-93M323 315q1 23 2 115t2 21 2-90M339 344q1 6 2 23t2 78 2-21M379 401q1 19 2 92t2-40 2-114"/>
<path stroke="#EE5A22" d="M0 298l1 41q1 41 2 38M15 269q1-21 2-16t2 16 2 6M41 344q1-12 2 46t2 226 2-66 2-255M55 318q1 2 2 31t2 232 2 88 2-199 2-140M103 344q1 30 2-24t2-60 2 14 2 45M187 295q1-23 2-34t2 0 2 12M195 271q1-3 2-12t2-4 2 40 2 40 2-8 2 320 2 6 2-354 2-23M311 365q1 7 2-43t2-62 2 96M337 284q1-16 2-22t2-2 2 30"/>
<path stroke="#F5AE26" d="M0 416l1-50q1-50 2-63M15 278q1 18 2 119t2 107 2-68 2-113 2-50 2-17 2 8 2 68M45 374q1-10 2 38t2 89 2-46 2-114M65 315q1-9 2 118t2 33 2-146M127 289q1 3 2-8t2-8 2 3M137 327q1-33 2-59t2-22 2 85 2 88M159 473q1 13 2-94t2-116 2 3 2 1 2-19 2 3 2 35M187 275q1-9 2-16t2 15 2 65M211 272q1 6 2 0t2-8 2-10M229 274q1-12 2-13t2 38 2 101 2-46 2-104 2 9 2 33M339 342q1-88 2-85t2 5 2-6 2-10 2 9 2 21 2 3M359 297q1-1 2-20t2-33 2 94 2 85M371 272q1-10 2 85t2 120 2 14 2-123 2-114 2-2 2-2 2 123l1 125"/>
<path stroke="#9036A0" d="M0 270l1 0q1 0 2-9t2-12 2 98 2 144M25 386q1 70 2 111t2-70 2-61M49 346q1-40 2-69t2-29 2 10M73 330q1-82 2-76t2 15 2 33M85 263q1-1 2 1t2-8 2 13 2 11M115 281q1-19 2-21t2 13 2 4 2-13M131 315q1 3 2-25t2-27 2 25 2 34M145 289q1-21 2-31t2-7 2 7 2 45M173 286q1 10 2 100t2 79 2-75M193 321q1-19 2 29t2 206 2 13 2-226M209 258q1 8 2 1t2-9 2 1 2 36 2 47M225 265q1-5 2-1t2 16 2 32M241 283q1-15 2-21t2-3 2 4 2-1 2 1 2 34M259 288q1-16 2-28t2-15 2 1 2 18 2 26M271 283q1-19 2-23t2 6 2 12M309 279q1 5 2-5t2-17 2 0 2 21M335 282q1-12 2-16t2-10 2-14 2 30 2 69M347 316q1-56 2-54t2-4 2 18M377 289q1-17 2-28t2 11 2 17"/>
<path stroke="#74B43A" d="M9 281q1-29 2-24t2 29 2 10M127 322q1 18 2 127t2 46 2-135M217 364q1-6 2 59t2-12 2-45M307 320q1-2 2 144t2 68 2-74M375 276q1 0 2 22t2 255 2 30 2-220 2-35"/>
<path stroke="#22B2EA" d="M147 315q1-25 2 55t2 153 2-45 2-154M231 474q1-52 2 26t2-38 2-145 2 54 2 62 2-32M255 331q1-11 2 197t2-17 2-229 2 15M269 344q1 50 2 120t2-24 2-131M281 382q1-22 2 13t2 119 2-51 2-133M295 320q1-4 2 141t2 3 2-153M317 428q1 22 2 48t2-98 2-110"/>
<path stroke="#C41B40" d="M63 392q1 32 2 110t2-66 2-128M81 384q1 6 2 98t2-23 2-136M129 268q1-2 2-2t2 31 2 22M213 329q1 17 2 58t2 99 2-87 2-76M249 296q1-32 2-29t2 1 2 47M371 292q1-12 2 128t2 65 2-123M381 370q1 24 2 90t2-26 2-116l1-24"/>
<path stroke="#1276C2" d="M21 355q1 63 2 116t2-44 2-111M35 376q1-16 2 45t2 8 2-31M71 330q1 56 2 110t2 78 2-56 2-73M95 382q1-36 2-9t2 125 2 23 2-143 2-77M107 303q1 11 2 156t2 73 2 94 2-34 2-243 2-41M253 326q1 30 2 125t2 87 2-111 2-115M287 360q1-8 2 27t2 150 2 71 2-151 2-72 2 190 2-46 2-223 2 4M363 395q1 67 2 81t2-45 2-70"/>
<path stroke="#EE5A22" d="M7 318q1-4 2 41t2 161 2-4 2-49 2 44 2-101 2-61M55 305q1-1 2 99t2 62 2-85M81 281q1 5 2 165t2 75 2-155M97 313q1 1 2 39t2 201 2-48 2-223 2-13M163 391q1-1 2 7t2 149 2 53 2-180 2-99M239 282q1 2 2 94t2 62 2-82M335 297q1 15 2 172t2 103 2-180 2-102M371 333q1 5 2 60t2 26 2-54"/>
<path stroke="#F5AE26" d="M25 341q1-13 2 80t2 101 2-107 2-114M41 422q1 8 2 81t2 59 2-43 2-96 2-95M63 302q1-8 2-22t2-9 2 7M123 425q1 67 2 67t2 97 2 62 2-172 2-118 2 132 2-1 2-143M239 392q1 14 2 43t2 131 2-31 2-191 2-41M297 276q1-14 2-19t2 2 2 16M305 282q1-2 2 0t2 92 2 28M321 376q1-2 2 89t2 36 2-110"/>
<path stroke="#9036A0" d="M0 260l1-15q1-15 2 105t2 90M35 269q1 3 2-5t2 42 2 116M137 285q1 1 2-11t2-10 2 53 2 11 2-60 2-11 2 18M195 424q1-78 2-73t2 149 2-13 2-168M221 312q1 16 2 68t2-10 2-72M229 273q1-15 2-13t2 10 2 3M329 348q1-64 2-76t2 22 2 110M339 264q1 18 2 11t2-9 2 12M365 326q1 8 2-39t2-44 2 7 2 88 2 56"/>
<path stroke="#74B43A" d="M5 348q1-104 2-96t2 108 2 45M47 351q1-81 2-95t2-11 2 3 2 8 2 27M207 303q1 49 2 35t2 231 2 63 2-283 2-95 2 21 2 73M253 319q1-37 2-50t2-11 2 9 2 35M277 322q1 6 2 68t2 239 2-65 2-212 2-27 2-67 2-4 2 4 2 7 2 0 2 2 2 7M347 415q1-73 2-116t2-33 2 21M365 385q1-23 2-79t2-45 2 29 2-3 2-28 2-2 2 6 2 2 2 34 2 11"/>
<path stroke="#22B2EA" d="M0 538l1-51q1-51 2-86M15 291q1-17 2-19t2 13 2 34M149 304q1 22 2 53t2 205 2-6 2-207 2-23M173 305q1 9 2 43t2 189 2-19 2-135M255 365q1 25 2 78t2-18 2-114M347 399q1 1 2 24t2 134 2 22 2-184 2-70M385 398q1 34 2 18l1-16"/>
<path stroke="#C41B40" d="M1 298q1 20 2-9t2-31 2-2 2 6 2 28M19 307q1 49 2 10t2-58 2-17 2 7 2 8 2 11M41 273q1-21 2-19t2 8 2-4 2-13 2 19 2 41M55 302q1-22 2-35t2 22 2 30M73 273q1 13 2-1t2-24 2-12 2 19 2 23 2 83M91 277q1-1 2-12t2-16 2-3 2 9 2 26M103 310q1 10 2-24t2-20 2 36 2-22 2-41 2 8 2 18 2 29M121 295q1-15 2-34t2-19 2 2 2 9 2 18 2 8M141 269q1-13 2-17t2 5 2 4 2 3 2 81M173 368q1 60 2 45t2-82 2-62M187 284q1-16 2-27t2 238 2 18 2-209 2-3 2-36 2-5 2 17M223 266q1 6 2 0t2 10 2 21 2 4 2-29 2-22 2 5 2-8 2 12 2 85 2-12 2-78 2 10 2 30M315 298q1-18 2-29t2-7 2-4 2-7 2 7 2-6 2-5 2 32 2 20M347 276q1-4 2-10t2-22 2 184 2 92 2-160 2-50M367 345q1-67 2-79t2-10 2-1 2 4 2 5 2 3"/>
<path stroke="#1276C2" d="M5 272q1 22 2 98t2 140 2-52 2-105M17 354q1-108 2-96t2 15 2 49M27 323q1 63 2 5t2-68 2 9 2 27 2-21 2-30 2 26 2 22M59 362q1-54 2-86t2-22 2 55 2 38M101 267q1-3 2-15t2 43 2 311 2-3 2-295 2-32M141 300q1 16 2 82t2 41 2-74M173 292q1-34 2-30t2 5 2 28M185 330q1 52 2 173t2-8 2-171M219 274q1 10 2-1t2-16 2 5 2 11M235 284q1-14 2-25t2-4 2 82M279 309q1 37 2-5t2-40 2 5 2 5M301 327q1-43 2-44t2-20 2 34 2 309 2-1 2-303 2-28M351 323q1 25 2-24t2-47 2 23 2 29M373 284q1-18 2-21t2-10 2-1 2 6 2 5 2 36"/>
<path stroke="#EE5A22" d="M111 306q1 32 2-4t2-34 2 28M123 398q1 68 2 180t2-76 2-209 2-20 2 12 2 6M155 337q1 25 2 173t2 3 2-159 2-35M169 297q1 23 2 137t2-17 2-142M217 342q1 20 2 120t2 118 2-133 2-173M261 324q1 58 2 144t2 23 2-75M369 392q1 18 2-3t2 101 2 7 2-116"/>
<path stroke="#F5AE26" d="M9 318q1 8 2 97t2 43 2 37 2 3 2-120 2-29M67 440q1-16 2 29t2 15 2-100M113 333q1 23 2 94t2-16 2-76M289 420q1-10 2 72t2 34 2-139 2-71M317 298q1 26 2 147t2 10 2-86 2 92 2-2 2-92M379 344q1 22 2 147t2-37 2-140"/>
<path stroke="#9036A0" d="M15 284q1-8 2-24t2-9 2 21 2 54M39 314q1-10 2-31t2-13 2 4M93 299q1 7 2 82t2 134 2 43 2 8 2-140 2-141 2 3 2-23 2 1 2 0 2-2 2 118M135 271q1-5 2-17t2-5 2 23 2 86M179 277q1 1 2-10t2-15 2 41 2 31M197 377q1 9 2-61t2-49 2 73M255 304q1 12 2-21t2-32 2 125 2 46M271 277q1 5 2-6t2-15 2 51 2 10M283 294q1-10 2 198t2 129 2-104 2-139 2-117 2-3 2 3 2 10M311 288q1-12 2-18t2-13 2 21 2 56 2 106 2 40 2-102 2-90M341 310q1-34 2-43t2 2 2 51"/>
<path stroke="#74B43A" d="M13 365q1-27 2 152t2 64 2-149 2-31M31 349q1 41 2 149t2 82 2 74 2-102 2-168 2 21M81 352q1-32 2 80t2 10 2-119M89 300q1-6 2 144t2 48 2-91 2 70 2-24M101 401q1 37 2 64t2-43 2-93M279 301q1 9 2 79t2 136 2-58 2-126M317 384q1 8 2 61t2-27 2-102"/>
<path stroke="#22B2EA" d="M0 472l1-42q1-42 2-51M5 369q1-1 2-18t2 187 2 83 2-164 2-102M61 445q1-13 2-30t2 91 2-51 2-133M173 424q1-34 2-22t2 52 2-30 2-60M195 324q1 2 2 162t2 44 2-3 2-25 2-123M207 392q1-2 2 87t2-21 2-141M245 406q1 14 2 45t2 83 2 2 2-126 2-78M319 312q1 12 2 71t2 196 2-6 2-199 2-57M333 345q1-7 2 138t2 118 2-135 2-100M361 319q1-45 2-58t2-11 2 29 2 26"/>
<path stroke="#C41B40" d="M157 412q1-120 2-146t2 99 2 136M225 347q1 13 2-40t2-49 2 52 2 54M269 284q1-14 2-20t2-9 2 9 2 25"/>
<path stroke="#1276C2" d="M29 272q1 4 2 1t2-11 2-7 2 15 2 108 2 217 2-79 2-188M59 282q1 6 2 7t2 32 2 59M89 313q1-1 2-32t2-31 2 57 2 79 2 101 2 7 2-62 2-11M131 344q1 90 2 127t2-47 2-101M139 292q1-14 2-24t2-11 2 11 2 35M249 278q1 8 2-7t2-15 2 12 2 49M281 354q1 42 2-24t2-65 2-8 2 3 2 16M319 391q1-3 2 38t2-68 2-92M363 422q1 50 2 76t2-9 2-124 2-93"/>
<path stroke="#EE5A22" d="M45 375q1 19 2 72t2-22 2-98M91 337q1 51 2 112t2-3 2-46M101 343q1-29 2 48t2 157 2 83 2-54 2-150 2-89M181 307q1 3 2 89t2 60 2 8M193 340q1 2 2 171t2-18 2-198M225 317q1 39 2 84t2 175 2 96 2-218 2-165M275 275q1-3 2 107t2 145 2-62 2-122M333 360q1 32 2 84t2-33 2-107M349 330q1 32 2 75t2 23 2-44M373 348q1 8 2 80t2 53 2-88"/>
<path stroke="#F5AE26" d="M13 293q1-15 2-23t2-10 2 31 2 75M23 333q1-75 2-70t2 19 2 2M43 310q1 2 2-21t2-25 2 16 2 7M57 280q1-16 2-23t2 68 2 81M105 271q1 5 2-7t2-12 2 33 2 29M125 317q1-27 2-31t2-12 2-6 2 38 2-5 2-46 2-9 2 5 2 19M149 278q1-4 2-4t2-6 2 3M159 370q1-74 2-100t2-23 2 52 2 35M169 293q1-27 2-38t2 0 2 20M177 285q1 1 2 83t2 34 2-65M187 376q1-2 2-63t2-57 2 14 2 3 2-11 2-1 2 19 2 178 2 163 2-194 2-171 2 17M213 281q1 15 2-8t2-17 2 8 2 168 2 53 2-167 2-34M233 338q1-20 2-52t2-32 2 3 2 10M261 306q1-54 2-52t2-2 2-8 2 12 2 47 2 16M301 283q1 3 2-14t2-15 2 8 2 16 2 15M345 295q1-15 2-35t2-18 2 3 2 2 2 11 2 24 2 6"/>
<path stroke="#9036A0" d="M0 272l1-8q1-8 2 4t2 11M9 363q1 69 2-6t2-93 2-8 2 39M25 393q1-3 2-80t2-68 2 52 2 18M59 332q1-18 2-43t2-28 2 13M67 287q1-3 2-9t2-21 2 90M75 409q1-43 2-94t2-56 2 12 2 26M129 256q1-2 2 94t2 73 2-57M147 270q1-4 2-13t2-13 2-3 2 13 2 24 2 3M175 294q1-16 2-24t2-9 2 6 2 5 2-8 2 22M209 258q1-8 2-8t2-1 2 8 2 13 2 12M221 342q1 52 2-12t2-73 2 23 2 43M243 283q1-7 2-19t2-7 2 8 2 2M261 317q1-55 2-60t2 4 2 59M319 296q1-30 2-31t2 20 2 36M345 449q1 7 2-23t2 130 2-48 2-218 2-15"/>
<path stroke="#74B43A" d="M0 386l1 184q1 184 2-14t2-196 2-1M193 359q1 55 2 160t2-35 2-155M201 331q1 17 2 102t2 31 2-74M239 376q1 14 2 34t2 20 2-63M261 391q1 59 2 98t2-14 2-129M359 369q1 57 2 67t2-34 2-37M379 428q1 80 2 78t2-95 2-115"/>
<path stroke="#22B2EA" d="M0 676l1-151q1-151 2-198t2-27M127 285q1 9 2 40t2-16 2-46 2 4 2 56M143 322q1-26 2-43t2-23 2 1 2 27M191 324q1 54 2 141t2-18 2-139M219 283q1-15 2 6t2 1 2-20M263 359q1 33 2-25t2-59 2 4M295 287q1-19 2-24t2 13 2 14M373 321q1-1 2 135t2 21 2-65 2 65 2-42 2-95"/>
<path stroke="#C41B40" d="M0 430l1-26q1-26 2-51M17 372q1-8 2-31t2 284 2 6 2-323 2 6M41 340q1 10 2 163t2 72 2-107 2-100M67 371q1 25 2 73t2-1 2-83M89 425q1 71 2 85t2-26 2-73M111 466q1 2 2-6t2-25 2-69M205 341q1-41 2-60t2-18 2 118 2 52 2-78M239 305q1-23 2 53t2 93 2-64M283 407q1 45 2 22t2 41 2 21 2-91 2-39M319 343q1 29 2 78t2-26 2-83M327 361q1 57 2 139t2-13 2-139"/>
<path stroke="#1276C2" d="M125 406q1 36 2 70t2-83 2-91 2 101 2 59 2-39 2-52M153 391q1 55 2 85t2-43 2-57M207 428q1 66 2 15t2-47 2 2M239 427q1-39 2-25t2-21 2-8M279 380q1 18 2 51t2 37 2 40 2-20 2-97M311 358q1 18 2 79t2 120 2-55 2-131M325 396q1-40 2-10t2 167 2-36 2-188M381 378q1 10 2 46t2 94 2-37l1-95"/>
<path stroke="#EE5A22" d="M3 287q1-17 2-26t2-9 2 9 2 16 2-2M21 366q1-78 2-96t2-15 2 9 2 5M43 277q1-15 2-9t2 17 2 52M53 309q1 19 2 36t2 147 2-34 2-179 2-22 2 35 2 98M81 380q1 16 2 110t2 127 2-132 2-160 2-23M119 355q1-5 2-48t2-49 2 7 2 13 2-15 2-10 2 32 2 9 2-20 2 2M199 299q1-1 2 100t2 52 2-112M227 404q1 0 2-71t2-65 2 3M235 270q1 2 2-1t2-8 2-5 2-1 2-2 2 24 2 61M269 343q1 3 2-44t2-38 2 38M285 336q1-46 2-66t2-21 2 10 2 19M297 429q1 165 2 96t2-162 2-94M319 341q1-33 2-57t2-31 2 0 2 32 2 24M333 293q1-29 2-33t2-4 2 5 2-1 2-8 2 68 2 42M359 324q1 14 2-24t2-50 2 52 2 77M371 272q1 14 2 68t2 90 2-31"/>
<path stroke="#F5AE26" d="M81 399q1 41 2 26t2 77 2 116 2-124 2-137M103 312q1 26 2 72t2 69 2-52M141 292q1-22 2-27t2 60 2 52M159 280q1-16 2-19t2 89 2 64M261 376q1 24 2 126t2-10 2-113M323 374q1 6 2 29t2 89 2-21 2-111 2 89 2 50 2-102 2 12"/>
<path stroke="#9036A0" d="M1 282q1 18 2 108t2 23 2-103M63 311q1-41 2-44t2-8 2 18 2 83M73 382q1-38 2 96t2-43 2-171 2-1 2-9 2 45 2 55 2-51 2-46 2 23 2-1M99 267q1-11 2-12t2 3 2 83M133 307q1-27 2-27t2 12 2 7M171 277q1-13 2-18t2 2 2 59M197 262q1 0 2-2t2-6 2 3 2 74 2 18 2-76 2-25 2 80M227 278q1 10 2 6t2-15 2-7 2 4M313 378q1-44 2-76t2-30 2 3M351 329q1 37 2 155t2-41 2-144"/>
<path stroke="#74B43A" d="M83 335q1-21 2-45t2-22 2 18M121 335q1 49 2 153t2-1 2-163 2-59 2 17 2 60M141 417q1-57 2 36t2 34 2-136M167 298q1-26 2-34t2-12 2 4 2 12M183 351q1 27 2 77t2 22 2-64M199 375q1-9 2 72t2 25 2-96M231 402q1-14 2 21t2 54 2-47M255 282q1 6 2-15t2-14 2 15 2 29M271 330q1 18 2 22t2 159 2 14 2-154 2 33 2 55 2-30M355 323q1 23 2 101t2 82 2-67 2-93"/>
<path stroke="#22B2EA" d="M0 486l1-63q1-63 2-37M41 418q1 112 2 64t2-136 2-72M167 285q1-19 2 100t2 98 2-92 2-79M289 343q1 9 2 70t2 56 2 33 2-24 2-110 2-35M325 297q1 9 2-8t2-13 2 103M385 315q1-13 2 82l1 95"/>
<path stroke="#C41B40" d="M3 375q1-25 2 44t2 45 2-94M23 328q1 38 2 24t2-22 2-23M65 397q1 35 2 57t2 135 2-75 2-209 2 20M171 347q1-3 2-13t2 286 2 2 2-299 2 18M187 287q1-3 2-12t2-13 2 15 2 51M237 295q1 13 2 201t2 164 2-158 2-161 2-23"/>
<path stroke="#1276C2" d="M41 397q1-5 2 93t2 29 2-104 2-41M139 374q1-60 2 68t2 91 2-59 2-10M171 316q1-4 2 72t2 154 2-64 2-165M193 327q1 9 2 95t2 66 2-50 2 115 2-15 2-142 2 3M265 382q1-18 2 85t2 91 2-141 2-105M289 352q1 56 2 87t2-3 2-13 2-43 2-75M341 335q1 13 2 104t2-33 2-114"/>
<path stroke="#EE5A22" d="M7 296q1 38 2 146t2-34 2-59M19 351q1 37 2-33t2-67 2 29 2 24 2-29 2-4 2 34M35 350q1 34 2 83t2-48 2-32 2 171 2 41 2-60 2-90 2 93 2 17 2-168M61 366q1-72 2-90t2-24 2 11 2 26 2 14M85 277q1-19 2-20t2 5 2 24M115 281q1-17 2-21t2 36 2 106 2 54 2-29 2-95 2-73 2 35M135 313q1 13 2-18t2-25 2-10 2-7 2 53M169 284q1-32 2-26t2 9 2 2M181 314q1-50 2-54t2-3 2 16 2 35M191 302q1-26 2-35t2-9 2-4 2 7 2 16M205 279q1 27 2 151t2 26 2-131M213 318q1 26 2 73t2 74 2-74 2-94M255 312q1 48 2 8t2-50 2-4M281 286q1 6 2-13t2-13 2 147 2 3M293 272q1 4 2 145t2 147 2-100 2-79M339 266q1 8 2 9t2-7 2-10 2 10 2 21M365 377q1-51 2-92t2-31 2 48 2 70M375 399q1-5 2-80t2-53 2 52"/>
<path stroke="#F5AE26" d="M0 336l1-30q1-30 2-19t2 83M125 314q1 20 2 140t2 20 2-98M185 417q1 1 2 66t2 1 2-88 2-33M301 384q1-50 2 64t2 36 2-103M317 351q1-19 2 251t2 3 2-287 2 4M337 374q1 18 2 59t2 31 2-72 2-60M373 281q1-7 2 168t2 97 2-160 2-84"/>
<path stroke="#9036A0" d="M79 372q1 70 2 141t2-15 2-159 2-66 2 20M113 364q1-6 2 83t2 15 2-137 2-54 2 26 2 43M141 330q1 32 2 124t2 52 2-131 2-85M177 372q1-32 2-61t2-53 2 155 2 103 2-62M273 306q1 36 2-7t2-42 2 67"/>
<path stroke="#74B43A" d="M3 276q1-4 2-4t2 4 2 9M51 276q1-6 2 20t2 50 2-25 2-63 2 8 2 21M65 293q1 7 2-13t2-24 2-6 2 6 2 34 2 4 2-27 2-4 2 26M135 312q1-4 2 131t2 8 2-134M145 277q1 1 2-10t2-8 2 64M153 332q1-52 2-69t2-13 2 31 2 55M169 279q1-21 2-22t2 19 2 16M181 339q1 29 2 72t2-22 2-83M197 302q1-22 2-31t2-10 2 40 2 20M211 318q1-14 2 119t2 15 2-147M261 277q1-11 2-18t2 6 2 34M275 367q1 9 2 2t2 116 2-40 2-172 2-13 2-2 2 36 2 34M311 263q1-9 2-11t2 7 2 11 2 11M359 261q1-9 2-2t2 80 2 70 2 53 2 73 2-50 2-96 2-57M381 279q1 1 2-10t2-16 2 5l1 10"/>
<path stroke="#22B2EA" d="M0 390l1 9q1 9 2 58t2-19M13 353q1 27 2 47t2 178 2-47 2-185 2 12M53 393q1-13 2 88t2 10 2-156M65 305q1 37 2 13t2-46 2-23 2 45M107 287q1-29 2-29t2 5 2 8 2-7 2-14 2 0 2 7 2-3 2 1 2 14 2 7 2 49 2 73M143 324q1 20 2-24t2-40 2 5 2 22M153 293q1-15 2-30t2-10 2 58 2 35M207 275q1 1 2-12t2-12 2 21 2 33M255 337q1-57 2-58t2-10 2-5 2 28M265 333q1 17 2 137t2 61 2-159 2-40M291 277q1-13 2-16t2-2 2-5 2 1 2 20M337 291q1 19 2-9t2-21 2 53 2 65M353 261q1-1 2 1t2 12 2 7M365 293q1-23 2-26t2 23 2 42"/>
<path stroke="#C41B40" d="M15 341q1 29 2-29t2-62 2 10 2 9M39 318q1-12 2 34t2 138 2-57 2-116M79 429q1 89 2-39t2-121 2 38M87 312q1-26 2-44t2-13 2 12 2 12M127 272q1-6 2-18t2 2 2 21 2 14M137 329q1 31 2 63t2 89 2-42 2-123M153 298q1-12 2-21t2-18 2-9 2 16 2 7 2-6 2 10 2 9M179 345q1 25 2 104t2 44 2-79 2-39 2 72 2 37 2-85M195 302q1-42 2-43t2 18 2 38 2-13M207 271q1-3 2 119t2 24 2-128M217 381q1 97 2 88t2-112 2-92 2 4 2 10M263 295q1-13 2-30t2 23 2 61M313 291q1-3 2-15t2 10 2 46M323 279q1-9 2-13t2 22 2 27M333 293q1-21 2-31t2 27 2 26"/>
<path stroke="#1276C2" d="M0 370l1 106q1 106 2-19t2-117 2 13M19 388q1-28 2 37t2-1 2-102M51 384q1 30 2 91t2 11 2-84M71 398q1-26 2-79t2-52 2 24M157 404q1 30 2 66t2-30 2-93M243 282q1 0 2-1t2 3 2 9M269 275q1-1 2-11t2-3 2 11 2 4M337 447q1-11 2 6t2-60 2-78M347 315q1 37 2 73t2 114 2-10 2-159 2-67M365 297q1-35 2-26t2 25 2 30"/>
<path stroke="#EE5A22" d="M51 332q1 24 2 78t2 172 2-3 2-166 2-16M87 349q1-39 2 35t2 148 2-6 2-101 2-67M99 347q1 35 2 106t2-33 2-120M163 298q1-18 2 199t2 75 2-190 2-28M211 368q1 22 2 88t2 30 2-75 2 300 2-34 2-363 2 11M229 450q1 72 2 56t2-63 2-78M249 373q1 33 2 87t2-44 2-103M287 321q1 39 2 110t2 56 2-87 2-89M325 346q1-20 2 5t2 107 2-24 2-107"/>
<path stroke="#F5AE26" d="M15 423q1 37 2 48t2 10 2-42 2-4M49 460q1 40 2-1t2 46 2 26 2-123 2-61M61 369q1 21 2 58t2 20 2-45 2 15 2 104 2-12 2-97M81 382q1-26 2-11t2 142 2 36 2-121 2-48M173 417q1-13 2 74t2-6 2-101M191 361q1-19 2-19t2 232 2 101 2-177 2-86 2-63M245 401q1 43 2 38t2-43 2-57M259 419q1-31 2 60t2 21 2-29 2-8 2-57 2 68 2 4 2-81 2-38M279 321q1-9 2 13t2 148 2 18 2-134 2-15M317 443q1 45 2 24t2-69 2-39M341 455q1-57 2-10t2 5 2-88 2-21"/>
<path stroke="#9036A0" d="M9 366q1 18 2 110t2 38 2-93 2 37 2-15 2-73M25 396q1-20 2 68t2 45 2-82 2-27 2 30 2 43 2-15 2-60M105 355q1 1 2 69t2 62 2-86 2-103M151 349q1 1 2 85t2 56 2-42 2-32M173 379q1 57 2 85t2-35 2-100M255 393q1 55 2 81t2-62 2-97M283 310q1 14 2 98t2 45 2-78M295 341q1 5 2 117t2 68 2-88 2-79M351 380q1 2 2 29t2 81 2-36 2-58 2 25 2-32 2-67M367 289q1 9 2 132t2 41 2-2 2 41 2-48"/>
<path stroke="#74B43A" d="M0 316l1-23q1-23 2-28t2 18 2 19M19 307q1 41 2-10t2-37 2 15 2-6M55 388q1-82 2-115t2-17 2 35 2-8M65 275q1 19 2 137t2 60 2-85M77 315q1-55 2-55t2-4 2 74 2 51M87 307q1-47 2-31t2 108 2 38M95 319q1-49 2-58t2 4 2 4 2-17 2 10 2 42 2 41M119 302q1-18 2-23t2-8 2 39 2 121 2-31 2-95M141 261q1-15 2-6t2 59 2 143 2-55 2-142 2 3 2 31M181 302q1-38 2-43t2 1 2 29M213 409q1 17 2 61t2 9 2-87 2-87M229 285q1-11 2-10t2-7 2 0M267 315q1 21 2-11t2-43 2-13 2 62 2 53M287 319q1-1 2-30t2-47 2 172 2 290 2-190 2-234M309 290q1-34 2-28t2 16 2-7 2-12 2 4 2-7 2 14 2 52M335 266q1-10 2-7t2 12 2 5 2-9 2 65M353 312q1 36 2-14t2-50 2-2 2 54 2 39M371 263q1-9 2-1t2 41 2 18M383 391q1 21 2 81t2-30l1-90"/>
<path stroke="#22B2EA" d="M11 364q1-74 2-86t2-14 2 39M19 385q1 41 2 68t2-21 2-110 2-68 2-3 2 29 2 37M39 273q1 1 2-1t2 1 2 14M99 395q1 9 2-28t2-55 2-26 2-11 2 6M133 284q1 0 2-9t2-4 2 2M149 365q1-17 2-63t2-48 2 24 2 92M165 279q1-11 2-7t2-7 2-11 2-1 2 11 2 17M181 276q1 0 2 2t2-2 2-7M191 273q1-1 2-8t2 0 2 23M215 275q1-11 2-6t2 38 2 0 2-46 2 26 2 85M235 283q1-17 2-13t2 47 2 27M245 294q1-12 2-23t2-11 2 43 2 36M265 266q1 0 2 2t2 10 2 19 2 99 2 146 2-87 2-132M297 309q1-47 2-51t2-6 2 6 2 53 2 9 2 110 2 29 2-125M327 259q1-1 2 14t2 103 2 60M345 350q1 26 2 66t2 61 2-31 2-104M365 368q1-98 2-95t2 16 2 24M373 310q1-14 2-22t2-25 2 153 2 75 2-161"/>
<path stroke="#C41B40" d="M49 366q1-2 2 88t2 206 2-79 2-197 2-7 2 114 2 7 2-116 2 20M75 399q1 33 2 103t2 6 2-98M83 338q1-38 2-38t2 67 2 110 2-22M103 396q1-12 2 35t2 65 2-44 2-84M163 419q1 21 2 35t2 6 2-25 2 88 2 86 2-133 2-101M211 333q1 13 2 97t2 30 2-86M219 373q1 31 2 68t2-7 2-19 2 117 2-13 2-148 2 167 2 137 2-208 2-102 2 36 2-19 2-27M263 390q1-28 2 47t2 67 2 4 2-98 2-77M279 401q1-71 2 24t2 119 2-31 2-86 2-50 2 81 2 3 2-120M301 316q1 4 2 64t2 177 2-34 2-131 2 16M321 343q1-1 2 71t2 191 2-30 2-148 2-36M371 497q1 9 2-21t2-66 2-47"/>
<path stroke="#1276C2" d="M0 272l1-8q1-8 2 56M9 272q1 2 2-5t2-9 2-3 2 37 2 22 2-35 2 8 2 40M43 286q1 0 2-11t2-14 2 14 2 48M53 304q1-50 2-47t2 38 2 32M93 329q1-21 2-45t2-28 2 12 2 141 2 60 2-99 2-59M111 342q1 8 2-38t2-38 2 9M125 311q1-31 2-50t2-15 2 16 2 0 2-9 2 6 2 34 2 30 2-35 2-30 2 31 2 18M169 338q1 30 2 107t2-60 2-77M203 268q1 0 2 11t2 4 2 61 2 66M225 347q1-81 2-88t2 17 2 77 2 3M243 273q1 3 2-1t2 4 2 36 2 0 2 105 2 44 2-150 2-46 2 50 2 2M283 328q1 4 2-32t2-29 2 21M301 358q1-44 2-67t2-19 2-4 2 0 2 27M329 321q1 9 2-28t2-32 2 40M345 306q1-46 2-43t2 21 2 26M361 293q1-23 2-30t2 0 2 17M369 305q1 15 2-16t2-31 2 12 2 1M385 402q1-14 2-51l1-37"/>
<path stroke="#EE5A22" d="M9 346q1-50 2-68t2-8 2 23M17 288q1-18 2-8t2 14 2 38M29 318q1-6 2 196t2 88 2-186 2-80M53 272q1 0 2 37t2 117 2 72 2-47 2-114M91 330q1-10 2-31t2-33 2-12 2 52 2 71M121 445q1 1 2-99t2-95 2 12 2 27M137 294q1 22 2 5t2-35 2-12 2 26 2 30 2 21M209 299q1-37 2-45t2 5 2 16 2 28M227 311q1 47 2 91t2-16 2-38M245 328q1-4 2-28t2-31 2 25M281 285q1 11 2 139t2 39 2-154 2-58 2 18 2 3 2-13 2 92M301 296q1-36 2-34t2 10 2 58M321 268q1 2 2 30t2 224 2-13 2-208 2-11M341 348q1 18 2-38t2-52 2 42 2 43M359 276q1 14 2 93t2 32 2-69"/>
<path stroke="#F5AE26" d="M0 422l1-31q1-31 2-31M53 414q1-34 2-22t2 77 2 41 2-78 2-63M103 377q1-9 2 23t2 143 2-45 2-143 2 21M135 416q1 76 2 73t2-83 2-106M209 377q1-11 2 45t2 53 2-50M235 374q1-44 2-56t2 151 2 41 2-127 2-30M311 319q1 47 2 132t2 4 2-50"/>
<path stroke="#9036A0" d="M0 464l1-89q1-89 2-96M31 280q1 14 2 82t2 59 2-74 2-78 2 9 2 85M51 342q1-26 2-48t2-27 2 4 2-1 2 6 2 27M85 350q1 60 2 110t2-24 2-101M127 287q1 11 2-3t2-5 2 76M173 326q1-72 2-64t2 31 2 30M201 283q1-15 2-19t2-3 2 6 2-4 2 182 2 51 2-192 2-45 2 12M247 341q1 45 2 108t2-10 2-119M257 271q1-3 2-5t2 1 2-7 2-11 2 31 2 27M325 318q1-30 2-44t2-16 2-3 2-1 2 89 2 63M345 313q1 29 2 60t2 73 2 73 2-47 2-111 2-24M369 293q1-25 2-32t2 28 2 43M377 307q1-33 2-38t2 1 2 6 2-14 2 104l1 118"/>
<path stroke="#74B43A" d="M29 398q1-30 2 28t2 23 2-84 2-30M39 365q1 11 2 28t2 98 2 2 2-128M71 351q1-7 2 62t2 64 2-54 2-20M85 327q1-37 2 27t2 146 2 5 2-109 2-4M97 386q1-34 2-8t2 74 2 53 2-20 2-79 2-64M111 338q1 6 2 53t2 40 2-27 2-17M145 374q1-12 2 77t2 36 2-105 2-36M221 342q1 34 2 86t2 144 2-58 2-138M243 366q1 38 2 85t2 22 2-64M251 382q1 12 2 81t2 40 2-19 2-50 2-77 2 87 2 45 2-92 2-4M279 352q1 44 2 74t2 9 2-31M305 343q1 7 2 79t2 75 2-27 2-66M333 412q1 54 2 53t2-56 2-35"/>
<path stroke="#22B2EA" d="M13 317q1-7 2-37t2-29 2 22 2 3 2-18 2 2 2-6 2 13 2 20M39 308q1-46 2-49t2-8 2 31 2 21M81 367q1 5 2-52t2-61 2 15 2 43M93 310q1-18 2-34t2-11 2-1M105 319q1-47 2-53t2-8 2 1 2 37 2 201 2 116 2-171 2-140M179 355q1 31 2 104t2-49 2-140 2-10 2 24M213 272q1 6 2-5t2-13 2 13 2 14M233 408q1 4 2 54t2-8 2-121M253 273q1-5 2-6t2 42 2 100M263 332q1-62 2-69t2 14 2 64M279 328q1 20 2-9t2-37 2-6 2 2 2 59M301 322q1-28 2-43t2-13 2 30 2 43 2-22 2-34 2 10M335 451q1 7 2-107t2-102 2 16 2 29 2 39"/>
<path stroke="#C41B40" d="M19 303q1-43 2-42t2 18 2 69M55 327q1 67 2 102t2-28 2-39M63 348q1-38 2-57t2-20 2 8 2 17M85 323q1-9 2-31t2-30 2 8 2 36 2-13 2-29 2 16 2 8 2-18 2 23 2 32M185 351q1 1 2-40t2-42 2 130 2 55M203 361q1 57 2-3t2-81 2 44M263 280q1-12 2-12t2 15 2 64M297 480q1 28 2 5t2-75 2-74M315 313q1 3 2-21t2-27 2 68 2 1 2-76 2 1 2 24 2 18M337 291q1-11 2-23t2-9 2 10 2 4M359 410q1 26 2 98t2-62 2-135"/>
<path stroke="#1276C2" d="M0 282l1 11q1 11 2 26t2 21M37 325q1 21 2 83t2 67 2-17M59 387q1 15 2 49t2 86 2-3 2-113 2-43M83 384q1 20 2 56t2 89 2-44 2-72 2-17M101 365q1 21 2 107t2 24 2-93M123 384q1 22 2 91t2-10 2-100M151 421q1 21 2 0t2 86 2 19 2-77 2-37M175 313q1 13 2 138t2 39 2-97 2 31 2 27 2-9M279 398q1 48 2 43t2 90 2-63 2-129 2 23M359 360q1-40 2 76t2 118 2-27 2 3 2-76 2-102"/>
<path stroke="#EE5A22" d="M0 580l1-88q1-88 2-135t2-57M29 318q1 40 2 53t2 84 2 159 2 23 2-171 2-158M83 319q1 31 2 76t2 50 2-17 2 4 2 4 2-42M125 374q1 0 2-53t2-51 2 33M143 296q1-28 2-23t2 30 2 51M169 448q1 38 2-80t2-114 2 22 2 58M233 349q1-79 2-78t2 14 2 25M265 335q1-1 2-33t2-18 2 61 2 70 2 14 2-47M297 300q1-38 2-39t2 14 2 33M307 277q1 3 2-9t2 2 2 25 2-7 2-4 2 3M335 352q1 10 2 96t2 30 2-80M353 368q1 26 2 72t2 76 2 14 2-21 2-69 2-76M385 375q1-1 2 39l1 40"/>
<path stroke="#F5AE26" d="M3 344q1-12 2-26t2 186 2 60 2-95 2-15 2-93M27 350q1-34 2 69t2 45 2-55M73 327q1 3 2 94t2 33 2 26 2 40 2-121 2-41 2 33M107 316q1 20 2 71t2 98 2-55 2-115 2 69 2 49 2-28M151 408q1 56 2 56t2-26 2 74 2 111 2-63 2-151 2-83 2 112 2 112 2-117 2-91M191 381q1 19 2 37t2 21 2-23M295 418q1 42 2 86t2-54 2-102M317 311q1 31 2 80t2 52 2-15M327 363q1-27 2 33t2 103 2-33 2-51M347 338q1 12 2 38t2 131 2 50 2-117 2-83M381 369q1-23 2 19t2 89 2-3l1-50"/>
<path stroke="#9036A0" d="M11 350q1-26 2 17t2 77 2-28M27 359q1 19 2 64t2 66 2-20 2-55 2-62M43 370q1 28 2 116t2-20 2-100M69 323q1-33 2 99t2 86 2-145M79 333q1 57 2 111t2 12 2-73M97 413q1-53 2 7t2 71 2-63 2-56M151 355q1 49 2 93t2-11 2-89M159 329q1 15 2 99t2 71 2-76M191 389q1 49 2 107t2-26 2 96 2 14 2-164 2-50M209 371q1-31 2 42t2 43 2-45M271 382q1 52 2 161t2-34 2-174 2-31M297 394q1 0 2 29t2 57 2-17 2-80 2-56M325 369q1 21 2 45t2 29 2 0 2-8 2-51M351 388q1 48 2 25t2 2 2 43 2-39M369 349q1-1 2 94t2 22 2-102 2 14"/>
<path stroke="#74B43A" d="M29 368q1 44 2 98t2 107 2 33 2-136 2-146 2-28M53 421q1-9 2-41t2-27 2 19M71 361q1 65 2 97t2 86 2-31 2-127 2-16M89 422q1 48 2 39t2-24 2-74M121 368q1 6 2 57t2 153 2-79 2-179 2-10M141 367q1 1 2 3t2 82 2 51 2-93 2-53 2 114 2 16 2-155 2-62M181 330q1-52 2-26t2 157 2 48 2-34 2-18 2-100M211 343q1 9 2 103t2 32 2-29 2-25 2-34 2 47 2 37 2-16M235 329q1-35 2 11t2 61 2-21M243 334q1-10 2-10t2 121 2 52 2-66M317 444q1 22 2 49t2-31 2-86 2-18"/>
<path stroke="#22B2EA" d="M0 444l1-75q1-75 2-68t2-18 2-20 2 16M21 315q1 3 2 119t2 93 2-106 2-117M103 373q1 81 2 88t2-48 2-100M115 339q1 21 2 64t2 81 2-19 2-102M125 308q1-10 2-17t2-7 2 29M173 284q1-2 2-12t2-4 2 23M195 310q1-30 2-30t2-3 2 0M211 281q1 5 2-3t2-16 2-4 2 8 2 11 2-7M227 344q1 20 2-33t2-53 2 6 2 37M255 390q1-66 2-98t2-36 2-3 2 35 2 44M283 369q1-3 2 84t2 25 2-123 2-71M323 344q1-18 2-51t2-27 2 13M333 290q1 0 2-13t2-15 2 13 2 83M355 287q1-33 2-32t2 11 2 7 2 42M365 374q1 14 2-50t2-71 2 100 2 62 2-98M385 270q1-8 2 43l1 51"/>
<path stroke="#C41B40" d="M21 273q1 11 2 110t2 58 2-67M35 322q1 24 2-21t2-42 2 1 2 26M59 300q1-46 2-1t2 318 2-8 2-271 2-42 2-50 2 101 2 37M79 284q1-20 2-13t2 14 2 12 2-23 2-30 2 67 2 13M97 379q1 85 2-11t2-99 2-1 2 1 2 3 2-2 2-1 2 4 2 6M131 359q1-65 2-83t2-22 2-4 2 10 2 42 2 31M149 292q1 32 2 6t2-33 2-23 2 194 2 37 2-155M165 310q1 34 2 25t2-49 2-28 2 23 2 22M217 370q1-54 2-80t2-27 2-7 2-7 2 9 2 47 2 73M235 303q1 51 2 2t2-48 2 7 2 15M245 280q1-8 2-12t2-1 2 26 2 40M295 269q1-7 2 153t2 33 2-166 2-32 2 4 2 54 2 18 2-56 2-14 2 33M335 275q1-5 2 0t2-3 2-9 2 2 2 48 2-6M357 272q1-4 2-2t2 13 2 31M365 323q1-11 2-33t2-16 2-1 2-4M383 290q1-28 2-28t2 6l1 6"/>
<path stroke="#1276C2" d="M0 432l1 33q1 33 2 5t2-57 2 7M35 394q1 34 2 54t2-22 2-4 2-12 2-36M49 442q1 0 2 64t2-42 2-106 2 42 2 41 2-67M81 435q1 29 2 21t2 7 2-21 2-54M129 383q1 3 2 144t2 106 2-43 2-93 2-106M149 360q1 10 2 65t2 16 2-59M159 334q1 12 2 8t2 195 2 63 2-73 2-33 2-77M179 406q1-4 2 11t2 45 2 18 2-54 2-37M193 403q1-25 2-15t2 47 2-18M203 352q1 34 2 92t2-20 2-82M217 347q1 13 2 168t2 99 2-80 2 16 2-52 2-81 2 134 2 3 2-157 2-22 2 152 2 33 2-102 2-43M253 394q1 16 2 74t2-2 2-100M263 381q1 27 2 76t2-20 2-71M281 389q1-55 2-52t2 132 2 94 2-70 2-12 2-43 2-105M297 320q1 26 2 118t2 40 2-94M329 433q1 37 2 51t2-36 2-65 2-2 2 85 2 52 2-57 2-44M349 332q1 12 2 43t2-4 2 14M373 356q1 8 2 38t2 11 2-16M381 467q1 75 2 32t2 27 2-11l1-81"/>
<path stroke="#EE5A22" d="M5 331q1 9 2 107t2 35 2-114 2-25M15 418q1 58 2 59t2-94 2-87M69 381q1 31 2 76t2 6 2 3 2 32 2-66 2-57M99 376q1-16 2-15t2 166 2 23 2-191 2-51M191 393q1 1 2 105t2 27 2-98 2-13M201 396q1-26 2 5t2-25 2-43M251 316q1-6 2 114t2 180 2-105 2-171 2-26M283 386q1 10 2 7t2-17 2-36M295 425q1 35 2 7t2-24 2-17M309 340q1-6 2 58t2 17 2-96 2-26 2 28M339 404q1-16 2 27t2-1 2-66 2 36 2-13 2-95M375 389q1-5 2 47t2 39 2-81 2-88 2-18 2 8"/>
<path stroke="#F5AE26" d="M55 365q1 7 2 64t2 18 2-94 2-26 2 190 2 34 2-169 2-50M89 332q1 4 2 43t2 98 2 14 2-141 2-92 2 0 2 89 2 97 2-62 2-78M111 312q1 24 2 81t2 19 2-40M133 356q1 26 2 92t2 32 2-56 2-17M143 391q1-21 2-69t2-53 2-5 2 4M219 340q1 4 2 31t2 54 2-22M261 326q1-4 2 194t2 47 2-185 2-77M279 311q1 5 2 108t2 44 2-70 2 5M303 345q1 51 2 131t2-8 2-87 2-23 2 75 2 42 2-40 2-66 2-90 2 99 2 69 2-14 2-35 2-79M341 307q1-3 2 48t2 99 2 8 2-62 2-30M357 317q1 31 2 55t2 83 2 171 2-88 2-219 2 36M375 349q1-1 2 84t2-22 2-115"/>
<path stroke="#9036A0" d="M0 324l1 38q1 38 2 35M7 424q1 14 2-10t2 56 2 71 2-61 2-119 2-67M79 414q1 2 2 118t2-19 2-123 2-10M91 331q1 17 2 103t2 38 2 37 2 38 2-81 2-85 2-22M111 406q1 2 2 32t2-7 2-83M131 340q1 20 2 106t2 24 2-59 2 45 2-17 2-71M153 363q1-35 2 4t2 128 2-31 2-125M171 351q1 11 2 20t2 68 2 32 2-57M199 328q1-6 2 29t2 66 2-22 2-55 2 49 2 100 2-62 2-93M231 330q1 16 2 55t2 93 2 54 2-82 2-79 2 41 2 27 2 56 2 5 2-99 2-51 2 47 2 24 2-68M317 405q1 49 2 67t2 13 2-72M337 438q1 42 2 28t2-83 2-75M345 369q1 67 2 81t2-58 2-54M355 358q1 4 2 21t2 59 2 16 2-25 2 120 2-2 2-34 2-22 2-138 2 22M379 429q1 9 2 44t2 54 2-27 2-100l1-54"/>
<path stroke="#74B43A" d="M51 319q1-35 2 9t2 80 2-36M77 368q1-18 2-63t2-37 2 11 2 3M133 291q1-9 2 80t2 50 2-74M155 372q1-20 2 47t2-4 2 10 2-27 2-83M185 299q1-29 2-28t2-5 2 20 2 44M203 314q1-42 2-42t2 6 2 3M215 285q1-21 2-20t2 27 2 21 2-32 2-9 2 45M231 343q1 25 2 133t2-26 2-105M271 289q1-15 2-21t2-2 2 9 2 35M289 288q1-26 2-28t2-8 2 2 2 9 2-1 2 8M309 298q1-30 2 40t2 159 2-30 2-121M327 304q1 24 2 92t2 164 2-63 2-182 2-28M349 336q1 24 2-29t2-50 2 17 2 19 2-2M363 342q1-16 2 51t2 37 2-80 2-24M379 379q1-39 2-80t2-31 2 36"/>
<path stroke="#22B2EA" d="M0 268l1-2q1-2 2 75t2 16M13 312q1 10 2-8t2-39 2-11 2 18 2 25 2 29M39 353q1-37 2 11t2 75 2-60 2-102 2-1M75 346q1-68 2-79t2 1 2 14 2 1M161 358q1-8 2-41t2-38 2-4M175 296q1-12 2-25t2 10 2 40M187 272q1-6 2-8t2 0 2 52 2 72M205 320q1 34 2 16t2-52 2 0 2 60 2 71 2-14M247 302q1 26 2 6t2-31 2-12 2 8M261 316q1 10 2-26t2-38 2 3 2 15 2 15 2-1M281 298q1 24 2 115t2-2 2-118M307 382q1 28 2-52t2-76 2 10 2 51 2 6M337 349q1-15 2-58t2-24 2 28 2 18M371 304q1-36 2-36t2 1 2 31M381 447q1-35 2 12t2-42 2-100"/>
<path stroke="#C41B40" d="M5 297q1 11 2 69t2 117 2-7 2-106 2-48M71 313q1-9 2-21t2-7 2 43M93 355q1 93 2 114t2-37 2-60M101 331q1-39 2-52t2-11 2 27 2 78M115 326q1-10 2 21t2 62 2-24M131 330q1 38 2-18t2-27 2 118 2 7 2-111M171 318q1-32 2-39t2-18 2-11 2 42 2 89M187 307q1 51 2 114t2 13 2-107M203 369q1 15 2 58t2 2 2 30 2 82 2-80 2-126M229 327q1-19 2 124t2 39 2-133 2 71 2 7 2-93 2 18M339 324q1 20 2 70t2 64 2-35 2-56M355 296q1 4 2 93t2 155 2-44 2-106 2-28"/>
<path stroke="#1276C2" d="M17 332q1-4 2-17t2 235 2 110 2-206 2-99M31 487q1 25 2 0t2-54 2-22 2 44 2-29 2-64M75 359q1 17 2 29t2-26 2-32M83 376q1 40 2 53t2 15 2-54M103 378q1 48 2 92t2-20 2-77M115 294q1-14 2 78t2 43 2-62M125 366q1-12 2 24t2 54 2-32M197 347q1-9 2 83t2 99 2-27 2-28 2-42 2-17 2 46 2-44 2-62M231 402q1 44 2 30t2-80 2-41 2 66 2 61 2 8 2-56 2-41 2 34M257 391q1-15 2 12t2 72 2 5 2-56M271 411q1 47 2 36t2-21 2-27M287 407q1 41 2 45t2-53 2 14 2 54 2-31M311 458q1 84 2 11t2-112 2-36M323 429q1-1 2-12t2-55 2-67M375 342q1-6 2 32t2 110 2 10 2-38 2-3 2-35"/>
<path stroke="#EE5A22" d="M31 409q1-3 2 8t2 40 2 68 2-66 2-70M55 351q1 29 2 73t2 24 2 3M69 344q1-4 2-7t2 258 2-6 2-222 2 46 2-25M91 350q1 16 2 121t2 115 2-81 2-97 2-31M171 297q1-21 2 21t2 50 2-4M201 332q1-4 2 4t2 232 2 26 2-222 2-26M255 387q1-19 2 44t2 85 2-49 2-25 2 17 2 1 2 51 2-61 2-73 2-15 2-39 2 3M289 355q1 45 2 60t2-22 2-50M305 426q1 50 2 67t2-58 2-113M363 333q1-3 2 10t2 106 2 78 2-93 2-71M379 427q1 75 2 88t2-50 2-90"/>
<path stroke="#F5AE26" d="M0 286l1 4q1 4 2-14t2-13M13 315q1 11 2-25t2-24 2 21M29 308q1 16 2-11t2-29 2 7 2 2M39 271q1 1 2-8t2-4 2 14 2-4 2-10 2 6 2 5 2 5 2-4 2-12 2-3 2 4 2 13 2 50M69 314q1-48 2-55t2-6 2 3 2 5 2 5 2 43M83 321q1-29 2-51t2-20 2 2 2-6 2 27 2 67 2 19 2-52 2-40 2-8 2 0 2 9 2 0 2-4 2 8 2 5 2-14 2-4 2 51 2 31 2-46 2 213 2-19 2-245 2 22 2 5 2 2 2 9M157 281q1 11 2 5t2 196 2 46 2-194M173 284q1 0 2 4t2-7 2 48 2 154 2-46 2-149 2 4 2 29 2-11 2-43 2-6 2 40 2 91M201 376q1-76 2-97t2-17 2 17 2-1M211 254q1-10 2 135t2 60 2-96M223 275q1 11 2-5t2 70 2 44 2-84 2-29 2-1 2-7 2 61 2 0 2-49 2 4 2 1 2 7 2 21 2-7M259 360q1-20 2-54t2-40 2-13 2 2 2 20 2 9M281 313q1 29 2 85t2 152 2-60 2-149 2-36 2-49 2 33 2 21M311 286q1 2 2-18t2-14 2 12 2 9 2-1 2-9 2 4 2 11 2-11 2 95 2 57M351 308q1-12 2 21t2 50 2-47M363 392q1 90 2 45t2-44 2 20 2-41 2-28M375 358q1-18 2-69t2-49 2 27 2 40 2-12 2-27l1 0"/>
<path stroke="#9036A0" d="M0 330l1 28q1 28 2 19M25 349q1 47 2 90t2 0 2-68M65 394q1 46 2 47t2-17 2-31M75 393q1-9 2 22t2 92 2-32 2-132 2-34M99 375q1-27 2 15t2 51 2-64 2-60M111 326q1 16 2 75t2 52 2 55 2-48 2-79M143 291q1 13 2 62t2 39 2-32M155 353q1-47 2 21t2 62 2-7 2 10 2-10 2 42 2 5 2-98M177 329q1-9 2 51t2 76 2 0 2 45 2 22 2 85 2-69 2-191 2-8M205 313q1-21 2-16t2 21 2 12M253 365q1 49 2 105t2-10 2-100 2-36M263 350q1 28 2 81t2 84 2 13 2-61 2-79 2-48M287 357q1 49 2 52t2 15 2-21 2-72 2-42 2 18M303 405q1 3 2 16t2 78 2-41 2-85M375 337q1 55 2 38t2 2 2 16"/>
<path stroke="#74B43A" d="M0 392l1-45q1-45 2-56M15 317q1 13 2 133t2 51 2-124 2-65M45 410q1 4 2 45t2-9 2 43 2 31 2-75 2-69M77 310q1 8 2-21t2-25 2 6 2-4 2 16 2 124M93 359q1-33 2-67t2-20 2 17 2-11 2 1 2 36 2-12 2-23 2 16M121 294q1-2 2 52t2 91 2 52 2-27 2-40M149 327q1-69 2-74t2 6 2 20 2 6M187 336q1 24 2-1t2-9 2 47M197 404q1 58 2 33t2-59 2-36M207 365q1 39 2-5t2-65 2 6M249 383q1-41 2-82t2-36 2 29M281 307q1-23 2 49t2 103 2-3 2-60 2 72 2-41 2-146M303 276q1-6 2 1t2 68 2 15M315 350q1 42 2 141t2 14 2-147 2-72M329 331q1-1 2 166t2 36 2-159 2-71 2-17 2 71M357 355q1-35 2-58t2-19 2 37M381 362q1 38 2 51t2-27 2-31"/>
<path stroke="#22B2EA" d="M11 347q1 15 2 119t2 83 2-89 2-82 2 35M27 277q1 21 2 153t2 77 2-131 2-90M95 347q1-39 2-54t2 25 2 24M103 330q1 4 2 75t2 114 2-30 2-116 2 19 2 9 2-76M127 312q1-10 2 83t2 95 2-77 2-113M147 327q1 65 2 26t2 200 2-26 2-211 2 61 2 19 2 7 2-22M183 450q1-48 2 124t2 9 2-202 2 34M215 361q1-29 2 42t2 22 2-26 2 17 2 58 2-19 2-60 2 54 2 68 2-60 2-109 2 37 2 9 2-55M279 320q1 32 2 74t2 39 2-35 2 25M289 444q1-36 2 5t2-39 2-112M303 322q1-30 2-42t2 36 2 71M315 284q1-4 2 118t2 69 2-76M327 316q1-12 2 32t2 60 2 29 2-8 2-65M347 272q1-4 2 30t2 133 2 161 2-54 2-141 2-40"/>
<path stroke="#C41B40" d="M3 323q1-7 2 111t2 65 2-117 2-53M57 369q1-11 2 37t2 68 2 1 2-43M71 335q1-1 2-18t2 164 2 33 2-93 2 59 2 5 2-49 2-90M101 343q1 9 2 61t2 15 2-56M125 384q1 0 2 24t2-2 2-2 2 129 2-15 2-138 2 77 2 92 2 9 2-56 2-89 2-51M189 341q1 15 2 16t2 7 2-19M217 319q1 29 2 84t2 36 2-46 2-64M251 354q1-20 2 38t2 51 2-49M267 422q1 30 2 24t2-24 2 9 2-18 2-2M281 355q1-35 2 3t2 89 2-16 2-67M291 367q1 3 2 17t2 150 2 49 2-121 2-14 2 24 2-59 2-64M313 341q1 3 2-10t2-28 2 9M327 312q1 6 2 102t2 54 2-121M345 357q1-5 2 32t2 35 2-16 2 29 2 78 2-2 2-101 2-69M363 373q1 35 2 66t2-27 2-86"/>
<path stroke="#1276C2" d="M5 297q1-7 2-21t2-12 2-10 2-11 2 21 2 94 2 24 2-83 2 12M49 300q1 42 2 85t2 82 2-16 2-72M63 314q1 10 2 112t2-10 2-129 2-3M77 401q1 81 2 52t2-67 2-50 2-21 2-23 2 28M91 356q1-6 2-56t2-48 2 7 2 43 2 31M109 332q1 22 2-4t2-36 2 2M121 362q1 56 2 26t2-76 2-35M133 324q1 30 2-12t2-56 2-10 2 17 2 10 2 51 2 34M183 392q1 32 2-50t2-82 2 0 2 11 2 56 2 5M197 282q1-10 2-10t2 23 2 43M213 342q1-8 2 35t2 67 2-9 2-70 2-66M239 293q1-31 2-28t2-1 2 0 2 37 2 29M257 324q1 20 2 93t2-12 2-75M281 276q1 0 2 5t2-9 2-3 2 20 2 2M303 352q1-44 2-71t2-21 2 11 2 17M315 274q1 6 2 65t2 80 2-25 2-74 2-6M333 317q1-21 2-22t2 124 2 42 2-119M343 313q1 7 2 112t2-20 2-70 2-3 2-35M369 290q1-14 2-29t2-7 2 37M379 284q1-14 2-12t2 5 2 32"/>
<path stroke="#EE5A22" d="M0 398l1 1q1 1 2 33t2-22 2-45 2 20 2 17M13 369q1-39 2-15t2 156 2 73 2-122 2-60 2 96 2 0 2-144 2-58M39 389q1 1 2 23t2-3 2-41M75 359q1-25 2 11t2 78 2 93 2-57 2-93 2-22M129 409q1 15 2 58t2 61 2-87 2-106 2 72 2 39 2-35M163 352q1 30 2 79t2 38 2-7 2-15 2-68M175 351q1 21 2 35t2 43 2-4 2-47M201 384q1 52 2 113t2-14 2-114 2-54M213 355q1 53 2 91t2-24 2-44M227 409q1-13 2 67t2 39 2-128 2-74 2 29 2 37 2 30 2-23 2-48M261 323q1 21 2 51t2 46 2-12M279 344q1-10 2 30t2 77 2-3 2-64 2 35 2 23 2-29M297 367q1-13 2 37t2 30 2-23M309 411q1 77 2 53t2-77 2 3 2 86 2-33 2-84M327 415q1 1 2-42t2 145 2 90 2-83 2-91 2-95M341 356q1 6 2 70t2 36 2-50 2-23M353 367q1-5 2 12t2 80 2 20 2-84 2-35M365 355q1-11 2 35t2 124 2 34 2-150 2-64M383 323q1 13 2 16t2 101l1 98"/>
<path stroke="#F5AE26" d="M0 386l1 61q1 61 2 57t2-53M37 284q1-8 2 2t2 23 2 17M71 399q1-19 2 1t2 83 2-17 2-105 2-35M83 326q1 10 2 89t2 58 2 25 2-79 2-107 2 29M97 377q1 25 2 37t2 26 2-32 2-94 2-50 2 56M115 334q1 26 2 16t2-46 2-22M127 319q1-5 2 30t2 190 2 6 2-170 2 4M163 345q1-9 2 37t2 76 2 0 2-82 2-62M183 347q1 13 2 33t2 76 2-37 2-107M203 368q1 4 2 19t2-15 2-22M287 306q1 4 2 44t2 58 2 2 2-20 2 56 2-22 2-52M327 299q1 7 2 1t2-19 2 10 2 44M347 327q1 33 2-3t2-49 2-10M363 379q1 43 2 35t2-20 2 26 2 17M379 361q1 57 2 59t2 35 2-11 2-52"/>
<path stroke="#9036A0" d="M15 331q1 1 2 7t2 99 2 4 2-56M29 353q1 33 2 16t2 15 2 9 2-55M41 331q1 35 2 98t2 10 2-106 2-61 2-8 2 3 2 7 2 19M71 366q1 74 2 58t2-70 2-68M101 270q1 2 2 41t2 196 2 63 2-48 2-67 2-139M117 348q1 48 2 95t2-3 2-103 2-37M167 304q1 28 2 120t2 4 2-117 2-29M179 326q1 6 2 86t2 40 2-62M195 319q1 15 2 82t2 68 2 56 2-41 2-119M213 295q1 1 2 88t2 192 2-27 2-138 2-8 2 39 2 25 2-1 2-37 2-97M235 277q1-9 2-8t2 3 2 0M291 377q1 57 2 101t2 115 2-130 2-194 2 4 2 37 2 117 2 36 2-66 2-13M313 359q1-37 2-18t2 124 2 29 2-118 2-56M383 331q1-7 2 16t2 12l1-11"/>
<path stroke="#74B43A" d="M0 450l1-51q1-51 2-48M23 340q1 60 2 116t2 12 2-115M37 281q1 13 2 89t2 85 2-45 2 123 2 14 2-174 2-51M59 341q1-13 2 50t2-9 2-91M93 340q1-6 2 15t2 110 2 48 2-110 2-55 2 49 2-7 2-66M121 365q1-71 2-50t2 9 2-17M135 317q1-21 2-29t2 4 2 23 2 0M147 312q1 26 2 96t2 65 2-16 2-79 2-71M159 332q1 28 2 67t2 25 2-41M171 361q1 57 2 49t2 7 2-64 2-81 2-5 2 36 2 76M205 360q1-60 2-39t2 156 2 52 2-5 2-13 2-71 2 39 2-72 2-89M237 427q1-5 2-10t2-14 2-5 2 38 2-1 2-15M271 350q1 38 2 9t2-62 2-38 2 4 2 39M303 295q1 21 2 82t2 99 2-4 2-88 2-80 2-26 2 87 2 24M323 324q1 52 2 66t2-59 2-68 2 41M333 323q1-17 2-44t2-28 2 14 2 34M351 302q1 2 2 43t2 22 2-12M383 330q1 2 2 70t2 24l1-44"/>
<path stroke="#22B2EA" d="M0 354l1 51q1 51 2 96t2-72 2-136 2-23 2 21 2 67M21 264q1 0 2 3t2 40 2 71 2-9 2-22 2-37 2-61 2-4 2 4 2 17 2 16 2 1 2 21 2 164 2 11 2-160 2-55 2-21 2 3 2 12 2 12 2 44M93 307q1-45 2-43t2 12 2-2 2-16 2 38 2 18M107 308q1 18 2 80t2 120 2-51 2-121M117 322q1-2 2 10t2-16 2-34M129 308q1-56 2-48t2 23 2 7M141 339q1-39 2-52t2-2 2 4M179 383q1-23 2 12t2-2 2-59M193 397q1-39 2-85t2-48 2-5 2 181 2 22 2-186 2-17 2 34 2 25M215 302q1 26 2 95t2-2 2-112 2 50 2 46M235 264q1-10 2-3t2 16 2 11M251 280q1 6 2-12t2-17 2 18 2 13 2-5 2-4 2-7M285 348q1 4 2-41t2-32 2 20 2 3 2-24 2-7 2 100 2-9 2-92 2 9 2-6 2 77M323 326q1-46 2 42t2 17 2-56M351 275q1 3 2-12t2 211 2 113 2-187 2-88M379 380q1-96 2-6t2 26 2-106"/>
<path stroke="#C41B40" d="M0 280l1-6q1-6 2-8t2 45M9 332q1-70 2-70t2 25 2 59M35 340q1 36 2 51t2-55 2-72 2 62 2 41 2 21 2 96 2 28 2-70 2-90 2-41M125 342q1-18 2-43t2 7 2 104M157 363q1 19 2-5t2 230 2-4 2-218 2 22M207 379q1 45 2 94t2-49 2-127M243 287q1-5 2-6t2 0 2 11 2 84 2 83 2-84 2-69M291 311q1-15 2 128t2 68 2-60 2-24M309 378q1 48 2 52t2-53 2 30 2 113 2 81 2-25 2-156 2-63 2 45 2 10M343 378q1 4 2 13t2 59 2 20 2-88 2-66M359 406q1 16 2-31t2-60 2 43M377 431q1-9 2 6t2-62 2-46"/>
<path stroke="#1276C2" d="M1 365q1-35 2-63t2-26 2 74 2 81 2 46 2 100 2-42 2-128 2-6M29 327q1 9 2 104t2 96 2-67 2-76 2 19 2-9 2-11 2 62 2 14 2-44 2 4M69 379q1 27 2-20t2-42 2-3M79 304q1 34 2 44t2 58 2-1 2-41M89 440q1 68 2 56t2-47 2-37M105 299q1-19 2 48t2 202 2 10 2-157 2-69M153 320q1-14 2-17t2 13 2 47M223 353q1-39 2 10t2 150 2-18 2-148 2 2M243 404q1 0 2-14t2 72 2 34 2-94 2-61M271 416q1-2 2 7t2-35 2-59M281 347q1 47 2 75t2 139 2 16 2-146 2-83 2-24M301 361q1 53 2 115t2-23 2-56M317 346q1 2 2 55t2 121 2-36 2-142 2 65 2 21 2 18 2 53 2-125 2-80 2 126 2 169 2-110 2-133M351 352q1-48 2 8t2 61 2-11 2-20M371 403q1-21 2 17t2 55 2-28 2 30 2 106 2 7 2-91 2-17l1 50"/>
<path stroke="#EE5A22" d="M0 300l1 10q1 10 2 4M29 322q1 32 2 56t2-56 2-35 2 93M41 309q1-9 2-6t2-15 2 11 2 181 2 1 2-175 2-7M57 329q1 13 2 109t2 64 2-67 2-110 2-38 2 121 2-6 2-117 2-20 2 4 2 1 2-9 2 97 2 57 2-96M89 278q1 2 2-11t2 6 2 39M107 324q1 32 2-11t2-39 2 45M117 285q1-25 2-26t2 7 2 58 2 22M127 319q1 1 2 71t2 77 2-47 2-82M137 298q1-12 2 59t2 65 2-47M149 301q1-41 2-30t2 12 2 88 2 176 2-12 2-105 2-71M167 285q1 11 2 25t2 227 2 8 2-192 2 4M187 290q1 8 2-10t2-13 2 9 2-2 2 8 2 4 2-15 2-8 2 0 2 6 2 46M211 341q1-17 2-36t2 24 2-15M223 316q1-30 2-41t2-12 2 7 2 3 2 45 2 3 2-35 2 19 2-8M243 286q1 4 2 9t2 38 2 38 2-27 2 218 2 5 2-279 2-6 2 28M265 291q1-19 2-28t2 12 2 66 2-14 2-63 2 0 2 17M285 336q1-18 2-30t2-32 2-18 2 8 2 18 2 59M303 305q1 33 2 14t2-39 2-13 2 73 2-8 2-64 2 80 2 2M321 273q1-9 2-7t2-5 2-4 2 46 2 59M333 350q1-28 2-59t2-33 2 7 2 112 2 33 2-104 2-32 2 34M383 301q1-13 2 4t2 21l1 4"/>
<path stroke="#F5AE26" d="M0 426l1 12q1 12 2-45M7 322q1-6 2 53t2 120 2-16 2-79 2 37 2-6 2-58 2 0M31 402q1 32 2 91t2 31 2-39 2-1 2-9 2-45 2-18M47 415q1-5 2-12t2 61 2-16 2 23 2 118 2-108 2-116 2-6M69 420q1-6 2 1t2 81 2 81 2-95 2-103 2 8 2 29 2-26 2-73M89 322q1 26 2 87t2 1 2-75 2-10M147 376q1-52 2-17t2 83 2-8 2-68M165 328q1-10 2 102t2 67 2-95 2 27 2 116 2 31 2-63 2-52M185 401q1-3 2-33t2-28 2 29 2 219 2 28 2-123 2 46 2-58 2-92 2-18M215 378q1-42 2-78t2-24 2 50M227 384q1 20 2 55t2-10 2-85M241 354q1 20 2 81t2 105 2 54 2-109 2-88 2 18 2-60 2-63M261 375q1 79 2 141t2-47 2 97 2-15 2-196 2 128 2 4 2-137 2-31M283 358q1 2 2 19t2 23 2-48M297 447q1 5 2-19t2-23 2 12 2-2 2-29 2 44 2 34 2-40M315 407q1-3 2 23t2-15 2-59M323 359q1 21 2 105t2-10 2-95M335 307q1 11 2 40t2 105 2-5 2-47 2 91 2 25 2-51 2 1 2-22M355 404q1 2 2 32t2 17 2-46 2-30M367 398q1-2 2 3t2 139 2 47 2-142 2-57"/>
<path stroke="#9036A0" d="M0 418l1-22q1-22 2 0M7 327q1-31 2 43t2 204 2 25 2-151 2-82M75 331q1-17 2 9t2 59 2 24 2-45 2 4 2 49 2-15M115 420q1 28 2 4t2 10 2 24 2 52 2-38 2-122 2 57 2 39 2-60 2-4M145 353q1 15 2 45t2 135 2-47 2-118 2 87 2-23 2-110 2 52 2 195 2-52 2-182 2 93 2 42 2-50 2-36 2-50M183 336q1 0 2 28t2 44 2 0M193 371q1-11 2-15t2 49 2 58 2-66 2-70 2-9M207 304q1-4 2 38t2 124 2 47 2-123 2-106M235 441q1 47 2 16t2-57 2-45M243 327q1-9 2 19t2 126 2 63 2-101 2-82M257 285q1 1 2 4t2 10 2 10 2 2M271 339q1-27 2-14t2 33 2 1M287 325q1 9 2 56t2 106 2-19 2-117M321 338q1-24 2-11t2 87 2 93 2-76 2-96 2 61M339 392q1 40 2 53t2 11 2-26 2-51M367 370q1-4 2 37t2 155 2 2 2-171 2-57M385 413q1 21 2 22l1 1"/>
<path stroke="#74B43A" d="M0 284l1 1q1 1 2-12t2-10 2 48 2 33M29 380q1-14 2-64t2-46 2 4 2-1 2 1 2-8 2-14 2 32 2 111 2 14M55 303q1 21 2 4t2 22 2 56M69 353q1-17 2-59t2-37 2 36 2 83 2 109 2-42 2-94 2 127 2 141 2-113 2-148 2 5 2-38 2-57 2 25 2 9 2-19 2-10 2 42 2 170 2 5 2-32 2 18 2-52 2-27M121 326q1-26 2 30t2 23 2-45M129 337q1 15 2 113t2-11 2-134M141 369q1 23 2-15t2-27 2 6M149 294q1-34 2-33t2 24 2 83M195 324q1-10 2-31t2-25 2 1 2 47 2 37M211 270q1 2 2 15t2 48 2 1M219 287q1-13 2-16t2 55 2 32M229 305q1-35 2-24t2 134 2 162 2 61 2-74 2-190 2-104 2 2 2 44 2 29M257 332q1-2 2 57t2 59 2-48 2-97M273 401q1 53 2-43t2-97 2 4 2 0 2-5 2 25 2 29 2-27 2-33 2-5 2 45 2 90 2 38 2 18M309 303q1-41 2-45t2-1 2 8 2 5 2 59M323 300q1 4 2-14t2-16 2 14 2 4M345 285q1-25 2-25t2 12 2 13 2-2M361 300q1-34 2-20t2 2 2-3 2 16 2-20 2-22 2 44 2 230 2 65 2-203 2-94"/>
<path stroke="#22B2EA" d="M3 326q1-18 2-41t2 17 2 38M15 377q1 35 2-47t2-76 2 2 2 16 2 37 2 82M29 372q1-84 2-104t2-13 2 8 2 6 2 56 2 20 2-51 2 113 2 51 2-109 2-45M75 308q1-28 2 13t2 48 2-39 2-40 2-4 2-16 2 1 2-5 2 11 2 37 2 1 2-28 2-17 2 38 2 37M111 301q1-35 2-2t2 47 2-14M123 337q1 27 2-6t2-43 2-5 2 54 2-1 2-47 2 16 2-7M177 313q1 35 2-15t2-45 2 58 2 43 2 204 2 10 2-263 2-38 2 36 2 34 2 22 2 15M203 389q1 3 2 67t2-9 2-84M239 314q1 22 2-11t2-31 2 38M253 293q1-29 2-29t2 2 2 0 2 56 2 7 2-56 2 10 2 32 2-20 2-33 2 19M285 348q1-46 2-66t2-19 2 1 2 16 2 7M297 296q1 18 2 0t2-21 2 36M313 281q1 3 2-2t2-24 2 89 2 84 2-96 2-24M333 315q1 35 2 82t2 118 2-45 2-103 2 4 2-51 2-46 2 18M355 326q1 12 2-29t2-41 2 20 2 69M373 273q1 9 2-2t2-13 2 13 2 43"/>
<path stroke="#C41B40" d="M13 372q1-46 2 23t2 86 2-34 2-78 2-2M25 424q1 32 2-22t2-63 2 3M33 358q1 4 2 13t2 96 2-2 2-105M51 303q1 17 2 106t2 27 2-67M59 393q1 29 2 12t2 19 2 75 2 45 2-22 2-40 2-25 2-44 2-29 2-16 2 58 2 14 2-63 2 9M89 411q1 15 2-24t2-48 2-8 2 51 2 45 2-11M109 322q1 2 2 59t2 10 2-62 2 5M123 435q1-11 2-21t2-20 2 31 2 12 2-39 2-7M151 359q1 11 2-8t2 18 2 69M159 457q1-13 2-13t2 1 2-9 2-25 2-36M181 299q1 1 2 44t2 62 2 25 2 9 2-38M195 385q1 33 2-14t2-43 2 28M239 326q1-56 2-7t2 178 2 32 2-151 2 36 2 15 2-89 2 29M259 387q1-35 2-29t2 58 2 44M267 419q1-33 2-34t2 19 2 49M281 311q1 25 2 65t2 57 2 11 2-30M291 400q1 10 2 14t2 53 2 37 2-62 2 4 2 97 2-59 2-114M311 335q1 7 2 62t2 45 2 24 2-68 2-90M331 343q1-31 2 47t2 71 2-40 2-32 2 107 2-2 2-109 2 36 2-13 2-70 2-21M363 368q1 34 2 160t2 14 2-115 2 22 2-26M377 335q1 29 2 47t2 43 2-19 2-20 2 72l1 48"/>
<path stroke="#1276C2" d="M0 394l1-23q1-23 2-1t2 75 2-13 2-67M23 341q1 25 2 60t2 44 2-45M33 304q1 12 2 41t2 189 2 106 2-79 2-49 2-79 2-81 2 37M59 285q1-23 2-9t2 53 2 19 2 68 2 15 2-87M93 414q1 10 2-13t2-52 2-31M105 350q1 60 2 69t2-60 2-81M115 362q1 14 2 44t2-24 2-36M123 379q1 15 2 25t2-14 2-32M131 350q1 0 2 50t2-17 2-72 2 66 2 168 2-3 2-98 2-40M181 333q1-25 2 4t2 63 2 17 2 9 2-36 2-84 2 0 2 49M207 373q1 43 2 86t2 16 2 89 2-4 2-147 2-47M253 315q1 11 2 77t2 19 2-82 2-6 2 184 2 37 2-127 2-33 2-59M277 387q1-7 2 80t2-29 2-140M315 355q1-41 2-43t2 16 2 69 2 0 2-67M327 365q1 51 2 123t2-17 2-97M353 351q1-31 2-10t2 109 2-2 2-92M365 386q1 14 2 16t2-14 2-19M381 375q1 21 2 105t2 7 2-80"/>
<path stroke="#EE5A22" d="M0 288l1 22q1 22 2-6t2-36 2-13 2 15 2 61M25 313q1-15 2-25t2-18 2-18 2-3 2 21 2 10 2-5M41 286q1 12 2 91t2 57 2-58 2-44 2 52M59 275q1 9 2 5t2 34 2 55M99 282q1-2 2-6t2 17 2 44 2 17M121 335q1 33 2 52t2 65 2 40 2-59 2-96M139 359q1 7 2 50t2 118 2-2 2-160 2-45M155 337q1-53 2-55t2 23 2-5M167 346q1-8 2-39t2-40 2 24 2 19M183 455q1 55 2 44t2-117 2-92 2 27 2 15 2 81 2 49 2-50 2-85 2-65 2 5 2-2 2-4 2 68 2 33 2-5 2-31M241 378q1-16 2-64t2-13 2 16M267 307q1-37 2-38t2 27 2 38 2-27 2-21M281 339q1-3 2 57t2-6 2-91M295 285q1 3 2-2t2 11 2 5M311 314q1 36 2 85t2 54 2-47 2-66M323 308q1-14 2-32t2-12 2 57 2 32 2-2M351 299q1-31 2-22t2 3 2-13 2 4 2 17 2 12M369 355q1 25 2-13t2-54 2-23 2 5 2 31 2 101 2 129 2-56 2-126l1-23"/>
<path stroke="#F5AE26" d="M0 376l1 23q1 23 2-8M5 345q1-15 2 55t2 148 2 10 2-133 2-48M33 378q1-30 2 30t2 116 2-38 2-85 2-16M49 450q1 48 2-2t2-35 2 14 2-23M65 333q1 1 2 18t2 139 2-12 2-107 2-21M81 359q1 11 2 70t2 42 2-84 2-54M91 357q1 11 2 48t2 75 2-19 2-86 2-9M103 402q1 16 2 14t2-21 2-25M117 358q1 34 2 92t2-14 2-80 2-27 2 96 2 185 2-82 2-169 2-30 2 53 2 76 2 50 2-57 2 87 2 24 2-181 2-27 2 20M175 313q1-9 2 35t2 161 2 71 2-45 2 53 2-98 2-135 2 63 2 84 2 42 2-100 2-114M209 445q1 17 2 1t2-6 2-46M221 337q1 3 2 36t2 92 2 6 2-75 2-6M235 343q1-3 2 73t2 11 2-67 2 82 2 19 2-93 2 17M259 361q1-13 2 17t2 59 2 26 2-69 2-76 2 39 2 108 2-9 2-74 2-20 2-44M291 368q1 18 2 38t2-3 2-42M323 356q1 4 2 15t2 13 2-18M341 396q1 2 2 25t2-9 2 68 2 26 2-133 2-65M361 375q1-11 2-26t2-26 2 18M369 435q1 65 2 21t2-68 2-32 2 3 2 70 2 114 2-68 2-118"/>
<path stroke="#9036A0" d="M0 320l1-8q1-8 2-18M33 377q1-11 2-56t2-40 2 3 2-3 2 14 2 35M63 275q1 5 2 123t2 18 2-97M85 348q1-38 2 60t2-9 2-122 2 3M95 293q1-5 2 4t2 35 2 2M105 392q1-32 2-26t2 46 2 20 2-93 2-68 2 12 2 19 2-4 2-3M129 368q1 22 2-36t2-72 2 30 2 87 2 51 2-38 2-59M145 314q1-4 2-7t2-22 2-16 2 2 2-6 2 27 2 70 2 116 2 59 2-155 2-133 2 85 2 42M185 297q1-15 2-31t2-3 2 50M197 277q1-9 2-5t2 13 2 30M209 334q1 10 2-37t2-41 2 25 2 6 2 3 2 1 2-1 2-5 2-29 2 0 2 123 2 65 2-94 2 2M239 347q1-53 2-67t2-10 2 30M247 318q1-8 2-9t2 145 2 149 2-172 2-166 2 27 2-8 2-31 2 52 2 24M271 298q1-22 2-23t2 20 2 14M285 309q1-29 2-27t2-6 2 7M297 324q1-4 2 65t2 5 2-95 2-8M309 285q1-19 2 13t2 64 2 5 2 75 2 125 2-60 2-47 2-48 2-114 2-29 2 69 2 74 2-53 2-33M339 348q1-4 2-47t2-46 2 76 2 124 2 82 2-67 2-151 2-37M367 275q1-3 2 10t2 46 2 41 2 3 2 159 2 68 2-49 2-69 2-134 2 11"/>
<path stroke="#74B43A" d="M0 418l1-10q1-10 2 100t2 3 2-124 2 2 2 11 2-51 2-19 2 36 2 18 2 31M29 416q1 26 2 6t2-45 2 114 2 196 2-168 2-213M47 364q1 22 2 11t2 69 2 57 2 36 2-46 2-128 2 56 2 153 2-87 2-157 2 24 2 45 2-33 2-39 2 39 2 28 2 3M85 359q1-5 2 41t2 57 2 25 2-49 2-23M103 352q1-6 2 33t2 57 2-23M119 375q1 15 2 13t2 118 2 64 2-163 2-81M135 308q1 18 2 74t2 20 2-31M147 313q1-11 2 108t2 65 2-71 2-37M177 367q1 51 2 39t2-45 2-2M197 419q1 25 2 34t2-17 2-7 2 16 2-35 2-46 2 25 2 51 2-2 2-22 2-58M221 322q1 14 2 39t2 46 2 27 2-3 2-56 2-54 2 41 2 136 2 0 2-13 2 18 2-87 2-5 2-3 2-38M257 360q1-34 2-64t2 10 2 77M267 342q1 14 2 56t2 14 2-73 2-31 2 92 2 51 2-57M283 348q1-16 2-11t2 102 2 16 2-92 2 17 2 76 2-17 2-81 2 92 2 39 2-45 2-28M311 443q1 19 2-24t2-43 2-23M321 330q1 6 2 3t2-25 2-13M339 316q1 16 2 114t2 16 2-106 2-4 2 90 2 135 2-12 2-133 2-15 2 58 2-44 2-76 2-7M371 349q1 19 2 53t2-34 2-63M383 333q1-25 2-26t2 43l1 44"/>
<path stroke="#22B2EA" d="M0 282l1 26q1 26 2 23t2-39 2 30 2 27 2-72 2-31 2 18 2 43 2 20 2-16M31 270q1 8 2 51t2-7 2-38 2 142 2 116 2-112 2-100 2 167 2-26 2-184M53 318q1 28 2 46t2-26 2-59M63 347q1 23 2 21t2 43 2-57 2-86 2 38 2-13 2-33 2 31M109 275q1-3 2-5t2-2 2-3 2-6 2 4 2 2 2 5M125 297q1 17 2 21t2 59 2-8M143 359q1 1 2-47t2-53 2 105 2 59 2-103 2-54 2 1 2 21M161 288q1-18 2 6t2 34 2-23M169 268q1-4 2 111t2 69 2-8M179 341q1 61 2 2t2-72 2 12 2 113 2 159 2-106 2-164 2 32M197 358q1 22 2-39t2-54 2 31 2 8M207 319q1 31 2 96t2-9 2-3 2-35 2-108 2 5 2-1 2-3 2 1 2-11 2 2 2 11 2 3 2 3 2-3 2 29 2 19 2-9 2 58 2 26 2 25 2-39 2-100 2 1 2 22 2 57 2-22 2-66 2 14 2 8 2 13 2-11 2-29 2 16 2-4 2-19 2 24 2 26M291 318q1-50 2-57t2 2 2 10M301 270q1-4 2-6t2-4 2 9 2 69 2-20 2-65 2 81 2-7 2-72 2 23 2 83 2 8 2-78 2 60 2 85 2-29 2-40 2 89 2-29 2-142 2 15 2 17 2-34 2-19 2 40 2 12 2-47 2-15 2 21 2 32M381 373q1-21 2-82t2-45 2 26l1 10"/>
<path stroke="#C41B40" d="M0 308l1-21q1-21 2-20t2 34 2 20 2-47 2-33 2 16 2 123 2 2 2-113 2-12 2-9 2 4 2 17 2-6 2-13 2 0 2 3 2 59 2 47 2-53 2-36 2 18 2-14 2-27 2-1 2 4 2 49 2 53 2-30 2-40 2-1 2 27 2-14 2-40 2 7 2 17 2-6 2-7 2 60M81 368q1-12 2-67t2-61 2 34 2 132 2 27 2-54M107 356q1 50 2-41t2-85 2 27 2 78 2-18 2-72 2 5 2 6 2 51 2 34M131 288q1-18 2-17t2 44 2 19M141 297q1-17 2-26t2-2 2 19 2 41M151 336q1-22 2-38t2-21 2-14 2-1 2 13 2-2 2-8 2-3 2-7 2-5 2 3 2 13 2 23 2 219 2-23 2-228 2 29 2 25 2-27 2-9 2 120 2 34 2-114M201 310q1 4 2-25t2 24 2 180 2-69 2-147M219 318q1-34 2-52t2-7 2 26M235 315q1-9 2-37t2-21 2 24 2-1 2-13 2 41 2-5 2-48 2 8 2 75 2 144 2-48 2-154 2-13 2 6 2-6 2-1 2 9 2 75 2 83 2-78 2-75M283 362q1-6 2 11t2 86 2-72 2-138 2 25 2 44 2-23M307 373q1-19 2-60t2-42 2 37 2 84 2 57 2-1 2-84 2-73 2-19 2-24 2 15 2 11 2-19 2 15 2 57 2-12M341 274q1 4 2 7t2-2 2-2 2 2 2 4 2-18 2-27 2 2 2 9 2 16 2 14 2-10 2 58 2 50 2 48 2-8 2-110 2-33 2 104 2 83 2-48 2-58"/>
<path stroke="#1276C2" d="M0 266l1-7q1-7 2 76t2 65M15 332q1 24 2 19t2-36 2 32 2 72 2-54 2-87 2-26 2 1 2 12 2-2 2-12 2 20 2 40M51 283q1-19 2-20t2 12 2 8 2-4 2 3 2-3 2-21 2-12 2 14 2 17 2-4 2-19 2 5 2 64 2 5 2-54 2-11 2 3 2 125 2 61 2-135 2-72 2 26 2 31 2 25 2-25 2-40 2 30 2 56 2 72 2 6 2-39 2-70 2-57 2 62 2-7 2-40 2 48 2 0M131 294q1 4 2-14t2-26 2-1 2 19 2 0 2 10 2 4 2 18 2 88 2-21 2-70 2-10 2-21 2 23M161 299q1-25 2-28t2-2 2 1 2-9 2 17 2 15 2-28 2 9 2 30 2-18 2 3 2 10 2-21 2 2M195 371q1 9 2-46t2-67 2-13 2 15 2 9 2-5 2 26M223 333q1-45 2-58t2-5 2 184 2 61 2-117 2 49 2-25 2-108 2-41 2-6 2 8 2-1 2-5 2 5 2-1 2 19M257 361q1 45 2-10t2-67 2-15M271 367q1-35 2-72t2 4 2 62 2-42 2-43 2 47 2 16M293 340q1 14 2-35t2-50 2 79 2 91 2-59M319 281q1 11 2 60t2 116 2 9 2-94 2-63M335 293q1 17 2-3t2-16 2 10M343 281q1-9 2 4t2-5 2 13 2-1 2-34 2 12 2-3 2-21 2 38 2 77M367 354q1 4 2-32t2-40 2-2 2 9 2 12M383 268q1 0 2 2t2 27l1 25"/>
<path stroke="#EE5A22" d="M0 274l1-7q1-7 2-13t2 3 2 6 2 69 2 104 2-74M15 281q1 25 2 151t2 85 2-64 2-105M37 386q1-20 2-59t2-33 2 27M49 337q1 19 2-26t2-53 2 17 2 91 2 50 2 84 2-26 2-154 2-35 2-4 2-18 2-20 2 27 2 139 2 24 2-111 2-23M85 289q1-9 2-8t2 14 2-3M99 310q1 10 2 74t2 92 2-85 2-88M109 361q1 33 2 21t2-44 2-38 2-23 2-19 2 3 2 15 2 12 2 43 2 83 2 1 2-71M141 348q1 12 2-25t2-38 2 20 2 34M151 327q1-25 2-39t2-10 2 30 2 15 2-20 2-15M167 295q1-21 2-16t2 22 2 39 2-1 2-34M179 328q1 34 2 136t2-10 2-158 2-34 2 39 2 11M199 300q1-30 2-26t2 13 2 27 2-13 2-30 2 1 2 1 2 4 2-2 2-5 2 33M229 350q1-8 2-39t2-40 2-10 2 74 2 26 2-66M251 333q1-1 2-36t2-29 2 6 2 16 2 18 2-15 2-4 2-11 2-20 2 22 2 5M277 295q1 17 2-6t2-27 2 9 2 18 2-10 2 7 2 85M301 329q1-1 2-11t2-30 2 3M309 305q1-9 2-24t2 50 2 52 2-14M321 299q1-31 2-34t2-7 2-2 2 14 2 38 2 16M341 338q1-18 2-61t2 18 2 298 2-15 2-206 2 51 2-47 2-78 2-14 2 22M379 283q1-3 2-11t2-11 2 9 2 20l1 8"/>
<path stroke="#F5AE26" d="M0 286l1-8q1-8 2-7t2-10 2-10 2 1 2 16 2 13 2-9 2-8 2 45 2 117 2-45 2-121 2-4 2 14 2 19 2 50M35 332q1-50 2-44t2-8 2-31 2 53 2 61 2 113 2-57 2-155M59 283q1 3 2 8t2-16 2 37 2 27 2-30 2-7M73 314q1 20 2 62t2-8 2-81 2 29 2 73 2-43M97 317q1-27 2-33t2-25 2 4 2 26 2-8 2 53M111 372q1-26 2-78t2-50 2 43 2 38M127 310q1 32 2 39t2-28 2-41 2 88 2 21 2-96M143 303q1-17 2-32t2-23 2 12 2 47 2 37M155 325q1-29 2-47t2-23 2 55 2 147 2 8 2-72 2-44M171 287q1-11 2 91t2 98 2-83 2-101 2-15 2 10 2-4 2-13 2-13 2 0 2 72 2 53 2-71 2 1 2 93 2-24 2-63 2-22 2-23 2-26 2 207 2 87 2-181 2-56 2-34 2 2 2 31M229 282q1-8 2 2t2 10 2 8M243 317q1 13 2-21t2-24 2 25 2 43 2 34M259 303q1-43 2-41t2 43 2 24M273 279q1-15 2-21t2-1 2 26 2 52 2 26 2 2M291 314q1-12 2-22t2-26 2-13 2 8 2 0 2 28 2 18 2-18 2 19M315 371q1 29 2-8t2-73 2-33 2 16 2 8 2-2 2 1 2-6 2 5 2 7 2-17 2 37 2 45M351 333q1 19 2 7t2-34 2 0M361 309q1-35 2-38t2 14 2 35M369 326q1-12 2 62t2 54 2-15 2-72 2-64 2-3 2-23M385 273q1 15 2 57l1 42"/>
<path stroke="#9036A0" d="M0 312l1 4q1 4 2 54t2 79 2 1 2-38 2-17 2 62 2 61 2-96 2-65 2-1M23 299q1-33 2-35t2 19 2 34 2 68 2 77 2-11 2-59M39 388q1 22 2 74t2-8 2-80 2 19 2 39 2 71 2 54 2-98 2-47 2 65 2-37 2-96 2-34M73 309q1 5 2 11t2 180 2 29 2-147 2 0M99 390q1-4 2 26t2 35 2-65 2-80M111 351q1 23 2 79t2 13 2-92M129 366q1 50 2 40t2 68 2-24 2-124 2 14M175 356q1 22 2 19t2-35 2-21M189 392q1 4 2 1t2 83 2 91 2-111 2-66M209 339q1-9 2 8t2 115 2 34 2-94 2-41M223 392q1 10 2-16t2 38 2 37 2-26 2 29 2-51 2-99M243 343q1-21 2 14t2 40 2-32 2-27 2 21 2 9 2 36 2 17 2-45 2 9 2 39 2-33M271 307q1 19 2 22t2 30 2 21 2-48 2 6 2 57 2 10M287 395q1-11 2 14t2-19 2-68 2 58 2 140 2 23 2-68 2-84 2-65M307 322q1 10 2 34t2 95 2 41 2-46 2-47M321 365q1-35 2-42t2 43 2 38M341 367q1 25 2 18t2 48 2-9 2-88 2 12 2 36 2-33M359 297q1 7 2 32t2 85 2 0 2-63 2 14M371 382q1 0 2 6t2 12 2-18M383 319q1 11 2 11t2-1l1-1"/>
<path stroke="#74B43A" d="M0 304l1-12q1-12 2-15t2-15 2 8 2 13 2 3 2 90 2 35 2-73 2-46 2-15 2 42 2 47M29 364q1 18 2 73t2 98 2 1 2-113 2-113 2-50 2-5 2-1 2 57 2 37 2-9 2 118 2 7 2-118 2-18 2 82 2 10 2-91M75 296q1-28 2-33t2 64 2 102 2-66 2-93 2 7 2-3 2 73 2-7 2-75 2 15 2 21 2-16 2 72M105 384q1-76 2-99t2-15 2 8M115 324q1-34 2-45t2 57 2 20 2-7 2 40 2-7 2-65 2-62 2 28 2 25 2-29 2-12 2 9 2 21 2 68 2 18 2-72 2-54 2-4 2 16 2 0 2 31 2 31 2-35M167 272q1-6 2-4t2 16 2 1 2 16 2 47 2 14M185 327q1-19 2-43t2-17 2 9 2 5 2-12 2 21 2 57M201 342q1-26 2-47t2-21 2 41 2 36 2-40 2-43 2 7 2 19 2-22 2-23 2 24 2 21M229 303q1 13 2-10t2-10 2 11M243 292q1-6 2-10t2 43 2 31 2-28 2-28 2-26 2-4 2-8 2-13 2 13 2 6 2-6 2 18 2 25M273 308q1-4 2-23t2-24 2 4 2 5 2 3 2 11 2 9M295 385q1-11 2-81t2-63 2 10 2 87 2 53M309 287q1-1 2 17t2-1 2-32 2-15 2 7 2 39 2 1M329 305q1 39 2 5t2-37 2-4 2-3 2 78 2 67M353 342q1 4 2-12t2-30 2-20 2-11 2-9 2 4 2 50 2-1M371 305q1 35 2 150t2 19 2-146 2-57 2 25 2 30"/>
<path stroke="#22B2EA" d="M0 298l1-22q1-22 2 69t2 79 2-85 2 9 2 26M27 286q1 4 2-13t2-16 2-1 2 7 2 34 2 7M45 377q1 41 2-15t2-90 2-10 2 84M55 330q1-76 2-69t2 24 2 122 2 27 2-91 2-32 2-18 2 33 2 31 2-23 2-41 2-24 2-1 2 8 2-3 2-14 2-10 2 1 2 8 2 69 2 58 2-66 2-54 2 72 2 44 2-57 2-45 2-8M113 299q1 25 2-19t2-34 2 0 2 271 2 60 2-199 2 13 2-58 2-55 2 11 2 65M137 416q1 14 2-75t2-89 2 28 2 79 2 5M155 301q1-15 2-26t2 2 2 22 2-9 2-16 2-1 2 26 2 4M175 316q1-4 2-22t2-31 2-11 2 18 2 44 2 2M189 303q1 13 2-3t2-25 2-21 2 4 2 13 2-2 2 7 2 36M209 287q1 7 2-10t2 5 2 65M219 279q1 21 2 23t2 59 2 53 2-71 2-72 2 114 2 46 2-124 2-53 2 0 2 14 2 3 2-7 2-5 2-10 2-7 2 41 2 104 2-14M259 311q1 11 2-26t2 15 2 3 2-55 2 3 2 52 2 32 2-29 2-30 2-10 2 26 2 8 2-30 2 6 2 16 2-17 2-2 2-9 2-25 2 45 2 43M303 308q1-12 2-25t2-26 2-2 2-2 2-10 2 5 2 7 2 16 2-1 2-19 2-1 2 16 2 13 2 47 2-9 2-46 2 9 2-10 2 6 2 156 2-5 2-123 2 37M351 335q1-23 2-59t2-33 2 32 2 44 2-24 2-42 2 0 2 42 2 49M371 313q1-41 2-42t2 2 2-7 2 28 2 66M383 323q1-65 2-51t2 37l1 23"/>
<path stroke="#C41B40" d="M0 520l1-108q1-108 2-94M11 334q1-4 2 50t2 63 2-53 2-63M29 400q1-40 2-13t2 21 2 61 2 129 2-70 2-156 2 22 2 30 2-53M53 339q1-17 2 30t2 40 2-27M75 296q1-6 2 18t2 27 2 9 2 24M91 357q1 23 2 15t2 104 2 49 2-112 2-30M105 365q1-5 2 18t2 18 2 9 2 46 2-12 2-45 2-30 2-36 2 4 2 64 2 39 2-6 2 68 2-35 2-115 2-19 2 14M141 392q1 32 2 39t2 69 2-16 2-127 2-64 2 64 2 100 2-3 2-14 2-8 2-44 2-6M167 393q1-9 2 3t2 20 2-12 2-36 2-7 2 87 2 53 2-54 2-53 2-34 2-10 2 10 2-29 2-43 2 17 2 76 2 96 2-38 2-82 2-20M213 320q1 54 2 83t2 10 2-68 2-9 2 74 2-12M231 309q1-31 2 2t2 66 2 23 2-4 2 15 2 1 2 14 2-6 2-69 2-47M255 323q1 19 2 68t2 35 2-61 2 24 2 55 2-60 2-39 2 50 2 3 2-24M277 414q1 22 2 7t2-45 2 0 2 45 2-35M291 307q1 11 2-12t2-26 2 44 2 56M315 326q1-16 2 77t2 21 2-40 2 65 2 58 2-46 2-83 2 55 2 62 2-92 2-101 2 1 2 54 2 42 2-4M359 352q1 22 2 46t2 33 2 127 2 130 2-136 2-92 2-8 2-77 2-14M381 383q1 33 2 5t2-61 2 31l1 64"/>
<path stroke="#1276C2" d="M5 374q1 6 2 45t2-26 2-48M13 374q1 12 2 21t2 126 2 127 2-141 2-194 2-44 2 6 2 6 2-10 2 51 2 82M49 275q1 3 2 1t2-5 2 39 2 24 2-34 2 33 2 41M65 367q1 1 2-52t2-58 2-3 2 16 2 52M103 324q1 22 2-4t2-42 2-16 2 18 2 59 2 36 2-55 2-41 2 7M141 314q1 48 2 106t2 79 2-86 2-111M163 281q1-15 2-9t2 21 2 27 2-18 2-41 2-6 2 19 2 74 2 40 2-46M187 324q1 8 2 4t2 53 2 9M199 286q1 4 2 23t2 56 2-8M237 328q1-26 2-18t2 160 2 54 2-150 2-72M251 348q1-2 2-25t2-15 2 45 2-17 2-63 2-4 2 60 2 128 2-10 2-97 2-28 2-34 2-4 2 62M291 369q1 61 2 41t2 52 2-35 2-127 2-16 2 29M307 370q1-22 2-17t2 92 2 188 2-59 2-158 2-37 2-28 2-23 2-28 2 25 2 39 2 58 2 39 2-24 2-103 2-76 2 30 2 61 2 38 2 32 2 90 2-88 2-137 2 35 2-4 2-36 2-12 2-2 2 69 2 76 2-9 2-57"/>
<path stroke="#EE5A22" d="M0 254l1-5q1-5 2-4t2 1 2 70 2 69 2-53 2-64 2-2 2 57 2 12 2-25 2 3M25 288q1-18 2-17t2 18 2 30M43 343q1 45 2 55t2-64 2-75 2 5 2 13 2 3 2-21 2-16 2 8 2 27 2 51 2 14M75 299q1-17 2-20t2-17 2-3 2 12 2 13 2 27 2-21 2-27 2 10 2-4 2-7 2 7 2 44 2 43 2-2 2-30 2-36 2-11 2 50M115 325q1-47 2-59t2-1 2 57 2 19 2-47 2 13M129 323q1-17 2-38t2-8 2 3 2-8 2 8 2 37M143 311q1-37 2-47t2-17 2 10 2 13 2-13 2-9 2 47 2 132 2-3 2-89 2-34 2-42 2-7 2 10 2 20 2 1 2-18 2-11 2 2 2 6 2 8 2 3 2 5 2 68 2 43 2-55 2-49 2 9 2 53 2-3 2-7M211 333q1-19 2-43t2-32 2-11 2 10 2 28 2 25M225 293q1-27 2-24t2 73 2 173 2-90 2-183 2 89 2 103 2-61 2-97 2-10 2 2 2-8 2-12 2 4 2 101 2 59 2-1 2 11 2-84 2-68 2-6 2 0 2 4 2 29M277 295q1-35 2-26t2 53 2 24M285 304q1-22 2-26t2-12 2 7 2 51 2 14 2-48 2-21 2 11 2 55 2-20 2-70 2 98 2 110 2 5 2-19 2-52M319 332q1-16 2-8t2-9 2-5M327 320q1-2 2-14t2-32 2-14 2 17 2 4M347 301q1-29 2-40t2 15 2 65 2 16 2-23 2-37 2-29 2 25 2 5M367 301q1 15 2-8t2-31 2-3 2-6 2-13 2 16 2 18 2 5 2-1 2-6l1 0"/>
<path stroke="#F5AE26" d="M0 384l1 97q1 97 2 39t2-118 2-75 2-17 2 28 2 109 2-16 2-105M19 297q1-19 2 3t2 68 2 71 2-19 2-75M45 346q1 12 2 41t2 47 2-1 2-47 2-43M67 383q1-13 2-16t2 41 2 36 2-61 2-50M95 340q1 22 2 52t2-20 2-64M103 324q1 30 2 36t2 80 2 36 2-75 2-44M119 313q1 5 2-5t2 19 2 28M133 366q1 12 2 38t2 78 2 19 2-97M147 284q1-8 2 118t2 86 2 11 2-8 2-95 2-69M161 319q1 25 2 61t2 99 2 47 2-48 2-37 2-45 2-21M179 369q1 29 2 42t2-11 2-19M187 376q1-10 2 81t2 23 2-11 2-23 2-75M213 316q1-22 2-17t2 36 2 55 2-1 2-46 2 50 2 102 2 10 2-86M239 364q1 20 2 46t2 37 2 15 2-3 2-17 2-24 2-47 2-1M263 351q1-15 2 14t2 55 2 12 2-38 2 14M287 381q1-17 2 8t2 113 2-10 2-123 2-36M305 376q1 20 2 3t2-40 2-26M315 307q1 3 2 20t2 85 2 65 2-79 2-83M327 378q1 70 2 25t2-39 2-10M343 358q1 32 2 26t2 4 2 43 2-38 2-89 2 6M361 338q1 18 2 42t2 148 2 36 2-16 2-4 2-11 2 34 2-73 2-104 2-64M385 383q1-1 2-24l1-23"/>
<path stroke="#9036A0" d="M0 352l1-33q1-33 2 17M11 321q1 47 2 8t2-31 2 9M19 313q1 5 2 36t2 142 2-44 2-159 2 67 2 40 2-59 2-50 2 15 2 47 2 43 2 7 2-3 2 150 2-62 2-176 2 25M67 342q1 4 2-39t2-15 2 64 2 14 2 24 2 22 2-56 2-24 2-16M87 352q1 60 2 84t2-11 2-48 2 93 2 40 2-85 2-32 2-44M111 336q1 32 2 72t2-19 2-89 2-17 2 36 2 18M141 377q1-9 2-52t2 0 2 52 2-30M153 287q1 5 2 5t2 27 2 9M163 274q1 2 2 11t2 15 2-3M171 308q1 20 2 10t2-34 2-24 2 16 2 67 2 46 2 20 2-15 2-2 2 46 2-2 2-47 2-20 2 12M203 346q1-4 2-40t2-18 2 142 2 44 2-119 2 0 2 61 2-26 2-75 2 19 2 36M231 296q1 12 2 37t2-15 2-40 2 2 2 6 2 64 2 57 2-58 2-64 2-9 2 3 2 9M261 344q1-6 2-11t2 35 2 62 2-59 2-84M283 396q1 4 2-15t2-2 2-17M291 322q1-6 2 79t2 9 2-65M309 409q1-23 2-27t2-46 2 7 2-5 2-58 2 37M335 333q1 17 2 6t2 69 2 9 2-91M349 289q1 13 2 128t2 41 2-65 2-58 2-7 2 51M377 299q1-7 2 45t2 25 2-39 2 13 2 32l1 7"/>
<path stroke="#74B43A" d="M0 332l1 19q1 19 2-5t2-14 2 52 2 61 2 107 2 30 2-154 2-97 2-6M21 345q1 25 2 30t2 22 2 8 2-58 2-60 2 42 2 37M37 360q1 10 2 25t2 84 2-30 2-129 2 16 2 16M51 344q1 32 2 47t2-1 2 0 2 41 2 12 2-28 2-28M67 382q1 8 2 51t2 4 2-46 2 34 2 24 2-38 2-37 2 0 2 32 2-10M95 310q1 8 2 104t2 44 2-58 2-25M105 337q1-19 2 45t2 131 2-7 2-104 2-34 2-4M121 370q1 32 2 1t2-42 2 23 2 54 2-1 2-25M153 389q1 29 2 38t2 70 2-41 2-112M167 335q1 15 2 59t2 6 2-69 2-24M189 431q1 27 2-20t2-62 2-4 2-2 2 6 2 46 2 15 2-48 2-54 2-16 2 74 2 30 2-59 2 37 2-1 2-44M229 318q1-18 2 25t2 117 2 34 2-58 2-35 2-36 2 48 2 31 2-50 2-29 2-14M277 311q1 15 2 46t2 42 2-23M285 338q1-4 2 24t2 106 2-10 2-103 2 1M297 366q1-6 2 29t2 51 2-3 2-77 2-58 2 57 2 20 2-30M323 375q1 57 2 54t2-28 2 10 2 43 2-6M339 424q1 22 2-25t2 2 2 42 2-42 2-39 2-20 2 27 2 30 2 38 2 100 2-19 2-17 2-14 2-114 2-55 2 76 2 38 2-75 2-45"/>
<path stroke="#22B2EA" d="M3 357q1-15 2-4t2-21 2-31M13 294q1 2 2 4t2 14 2 67 2 56 2-27 2-63 2-25M39 334q1 0 2 9t2 20 2 10 2 17 2-1 2 14 2-6 2-59 2 16 2 57 2-18 2-56 2-6M67 381q1 39 2 1t2-35 2-12M83 282q1 4 2-1t2 40 2 52 2 73 2 6 2-72 2 29 2 58 2-42 2-40 2-41 2-60M109 349q1 65 2 79t2-65 2-65M121 316q1 20 2 4t2-29 2-10M147 286q1-24 2 11t2 151 2 57 2-103 2-46M163 371q1-11 2-31t2 141 2 124 2-131 2-116M187 375q1 39 2 37t2-12 2-22 2-15 2 14M199 414q1 20 2 14t2-41 2-39 2 110 2 62 2-111 2-98 2-3 2 51 2 23M223 309q1 7 2 114t2 9 2-70 2 64 2 26 2-85 2-81 2-1 2 22 2 49M253 337q1-7 2 73t2 48 2-63 2-51 2-22M285 307q1 13 2 13t2 187 2 87 2-155 2-59 2-18M311 364q1 44 2 48t2-58 2-50 2 45 2 66 2 21 2-54 2-50M345 345q1-31 2-47t2-18 2-3 2 19 2 34 2 1 2-2 2 92 2 62 2-101 2-36 2 67 2 15 2-31 2-71M377 305q1 25 2 73t2 37 2-30 2-32"/>
<path stroke="#C41B40" d="M0 314l1-3q1-3 2 13t2 9 2 22 2 74 2 14 2-28 2-6 2-37 2-8M25 332q1-4 2 24t2 46 2 90 2-6 2-75 2-41 2 21 2 35 2-27 2 29 2 26 2 17 2-51M53 338q1-14 2 38t2 19 2-8 2 38 2-20 2-14 2 42 2-7 2-61 2 16 2 28 2-51M79 323q1-3 2 24t2 26 2-18M93 335q1-15 2-34t2 13 2 27M105 373q1 7 2 24t2 82 2 2 2-46 2-15M117 379q1-9 2-51t2-38 2 19 2 21 2 18M135 378q1-30 2-29t2 40 2 63 2-16 2-61 2-34 2 63 2 50 2-26 2-23 2-32M167 325q1 13 2 27t2 53 2 85 2 21 2 40 2-6 2-113 2-53M197 377q1-11 2-4t2 38 2 35M213 394q1 52 2 40t2-34 2 117 2 31 2-150 2-40M229 321q1-33 2-15t2 48 2 22 2 50 2 0 2-76 2-15 2 36 2 60 2 25 2-31 2-19 2-12 2-25M273 340q1 6 2 47t2 48 2-30M305 350q1 10 2 72t2 45 2-62 2-43 2 80 2 48 2-55 2-35 2 34 2-17 2-76 2-10M331 342q1 6 2 42t2 48 2-58 2-82 2 10 2 21M349 345q1 51 2 53t2-11 2-28M371 332q1 16 2 55t2 34 2-2M381 347q1-19 2-37t2-19 2 17l1 18"/>
<path stroke="#1276C2" d="M0 332l1 80q1 80 2 65t2-58 2-68M9 330q1 4 2-22t2-29 2-4 2 18 2 19 2-21 2-4 2 62 2 164 2-47 2-146 2-4M43 360q1 26 2 43t2-35 2-64M59 302q1 0 2 59t2 37 2-9M71 375q1 23 2 11t2-2 2 14 2 6 2-28 2-32 2 0M87 368q1 22 2-9t2-61 2-2 2 86 2-19 2-81 2 8 2 44 2 29 2-27 2-38 2-12 2-9 2 17 2 79 2 23 2 64 2 22 2-129M137 335q1-31 2-28t2 66 2 102 2-60 2-105M153 332q1 14 2 66t2-20 2-72 2 11 2 11M169 342q1-32 2 1t2 45 2-8 2 78 2 79 2-52 2-60 2-78M187 291q1-5 2-3t2 21 2 27 2 50 2 14 2-63 2-34 2 25M205 331q1-21 2 31t2 135 2-64 2-118 2 19M219 300q1 30 2 80t2-17 2-75 2-2M233 290q1-16 2-15t2 36 2 57 2-44 2-2 2 53 2-38 2 11 2 0 2-38 2-5M257 301q1 1 2-9t2-1 2-6 2 0 2 23 2-12M279 281q1 3 2 41t2 34 2 13M289 333q1-31 2 18t2 79 2 4 2-81 2-73 2 46M311 368q1 0 2 111t2-5 2-102 2-22 2-16 2 46 2 95 2 47 2-77 2-61 2 27 2 3 2-52 2-5M343 345q1-33 2-44t2-20 2-13 2 22 2 35M361 334q1-8 2 20t2 76 2-16 2-106 2-36 2 7 2 5 2-4 2-8 2 3 2 41 2 43 2-24l1-29"/>
<path stroke="#EE5A22" d="M3 382q1 4 2 25t2 40 2-12M15 370q1 32 2 38t2-28 2-11M25 341q1-13 2 43t2 63 2-59 2-66 2 32M41 350q1-8 2-11t2 6 2-9M51 305q1 11 2 54t2 75 2-39 2-23 2 108 2 18 2-67 2-51M69 339q1-15 2-15t2 132 2 7 2-100 2 29 2-18 2-9 2 33M99 371q1 47 2-13t2-46 2 38 2 63 2 20 2-18 2 24 2-17M121 368q1 12 2 50t2 0 2-82 2-36 2 43 2 85 2 38 2 31 2 5 2-59 2-24 2-45 2-13 2 63 2 17 2-28 2 2 2 15 2 25 2 71 2-38 2-90 2 16 2 32 2-16 2 35 2 149 2-54 2-160 2-45M187 389q1 27 2 28t2-9 2-67 2-38 2 43 2 60 2-23 2-50 2 117 2-3 2-117 2 57M219 367q1 11 2 49t2 29 2-55 2-52M235 385q1 5 2 60t2 46 2 51 2 37 2-113 2-102 2-29 2-39 2-4 2 106 2 96 2-25 2-34 2-50 2-51 2 21 2 2 2-42 2 13M281 370q1-2 2 45t2 31 2-19 2 7 2 1 2-32 2-33 2 19 2 23 2 5 2 4 2-27 2-24M311 358q1-22 2-12t2 6 2-7M319 353q1 11 2 7t2-11 2-15M341 292q1 10 2-7t2-16 2 119 2 60 2-57 2 4 2-14 2 11M371 341q1 7 2 35t2 8 2-34 2 5 2 44 2 1 2-41 2-11l1 6"/>
<path stroke="#F5AE26" d="M0 270l1 2q1 2 2 37t2-1 2-49 2-10 2 19 2 55 2 27M17 300q1-38 2-34t2 8 2 17 2 0 2-23 2-15 2-9 2 12 2 22 2 2 2-7 2 121 2 94 2 3 2-100 2-105 2 17M53 304q1 12 2-18t2-24 2 54 2 35 2-57 2-27 2 113 2 11 2-102 2-24 2 4 2 18 2-15 2 3 2 14 2-22 2-5 2 20 2 46 2-7 2-44 2 84 2 26 2-96 2-26 2 11 2 6 2-2 2 68 2 2 2-73 2 21M123 337q1-3 2-23t2-35 2-25 2-5 2 28 2 49 2 19M139 306q1-32 2-31t2 6 2-7 2 8 2 44 2-13 2-22 2 12 2-28 2-26 2 29 2 90 2 71 2-1 2-98 2-86 2 22 2 14 2-24 2-19 2 12 2 25 2-1 2-17 2-2 2 29 2 0 2-17 2 25 2 37 2-24 2-39 2 24 2 8 2-21 2-28 2 114 2 3 2-117 2 2 2-5 2 21 2 72M229 290q1-4 2-9t2-20 2-9 2 7 2 11 2 35M245 335q1 5 2-35t2-37 2 7 2 11 2 33 2 65 2-15M261 328q1 18 2-21t2-48 2 7 2 7 2-20 2 126 2 117 2-112 2-101 2 24 2 34 2-36 2-18 2 42M291 337q1-15 2-38t2-37 2-9 2 18 2 12 2-7 2 24 2 51 2-19 2-19 2-9 2-27 2 9 2 22 2-20 2-34 2 5 2 7 2 35 2-7 2 12 2 61 2-4 2-60 2-29 2 82 2 6 2-75 2 4 2 2M353 280q1 4 2 4t2-7 2 14 2 62 2-6 2-17 2 73 2 40 2-23 2-86 2-72 2 41 2 65 2-16 2-37 2-28"/>
<path stroke="#9036A0" d="M0 332l1 72q1 72 2-16t2-58M11 357q1-35 2 37t2 60 2-59 2-41 2 12M25 319q1 17 2 67t2 34 2 108 2 162 2-199 2-213 2 45 2-1 2-30 2 53 2 85 2-26 2-65 2-25 2-22 2-14 2 17 2 54 2 38 2-50 2-47 2 30 2 40 2-17M79 322q1 12 2 1t2 14 2 11 2-43 2-34 2 12 2 26 2 126 2 115 2-116 2-135 2-24 2 20M109 370q1 12 2 22t2-20 2-10 2 56 2-18 2-46 2 82 2 58 2-80 2-90 2 20 2 71 2-7 2-38M165 389q1-5 2-49t2-40 2 12 2-8M195 318q1-18 2 1t2 21 2-8M207 313q1 25 2 67t2 30 2-68 2-66 2-7 2 4 2 4 2 7 2-6 2 15 2 138 2 43 2-97 2 6M241 292q1-10 2-16t2-13 2 36 2 90 2 84 2 31 2-114 2-111 2-2 2 3 2 11 2-8 2 8 2 20 2-6M273 343q1 39 2 61t2-51 2-80 2 65 2 60 2 1 2-25 2-34M295 351q1 17 2 58t2-7 2-95 2-35 2 11 2-8 2-1 2 26 2-5 2 15 2 87 2-3 2-54 2-39 2-26 2 14 2 13 2 9 2-20 2-17 2 4 2 36 2 48M353 314q1 18 2 39t2 29 2-9M361 356q1 0 2-30t2-43 2-4 2 60 2 77 2-58 2-72M377 317q1 19 2 43t2-3 2-38 2-20 2-15l1-6"/>
<path stroke="#74B43A" d="M0 306l1 19q1 19 2-6t2-18M9 334q1-34 2-48t2 3 2 58 2-10 2 14 2 1M29 297q1 21 2-2t2-26 2-6 2 32 2 57 2-29 2-25 2 41 2-31 2-6 2 64 2-34 2-73 2-11 2 18 2 4 2-13 2 26 2 15 2-21 2 15 2 31 2-4 2-37 2 7 2 51M85 350q1 42 2 4t2-67 2 4 2 22M95 296q1-6 2 26t2 3 2-19 2 46 2 40 2-20 2-47 2-43 2-15 2 8 2 2 2-4 2 14 2 16M125 289q1-13 2-12t2-5 2-16 2 53 2 87M141 305q1 29 2-1t2-33 2 8 2 1 2 4 2 12M163 346q1-20 2-51t2 53 2 55 2-11 2 99 2-17 2-154 2-55 2 7 2 8 2 8 2 23 2 95 2 0 2-107 2-4 2 116 2-17 2-30 2 135 2-42 2-104 2-27 2-40 2-9 2 7 2-14 2-10 2 24 2 15M225 286q1-6 2-7t2 8 2 35 2-1 2-42 2 19 2 47 2-25 2-37 2 123 2 85 2-91 2-12 2 35 2-63 2-69M259 291q1 13 2 2t2-10 2 23 2 12M271 303q1-7 2-18t2-22 2-2 2 7 2 5 2 5 2 111 2 41 2-81 2-45 2-39 2-3 2-7 2 5 2 48 2 119 2 53 2-117 2-91 2-11 2-9 2 4 2 91 2-4 2-84 2 10 2 30 2 33 2-34 2-42 2 6 2 17 2 11 2 33 2 28M345 340q1 18 2-33t2-50 2-2 2-5 2 3 2 18 2 33 2 1 2 1 2 70 2-31 2-84 2 41 2 148 2 192 2-159 2-223 2 23 2-9 2-4 2 6l1 2"/>
<path stroke="#22B2EA" d="M3 400q1 52 2 19t2-68 2-30M13 357q1 15 2 39t2 19 2 21 2-18 2-57M29 335q1 47 2 60t2 18 2-30 2 0 2-2 2-53 2-29 2-18 2-2 2 61 2 47 2-16M65 342q1-8 2-20t2 35 2 62 2-30 2-45 2-23M95 328q1-12 2 13t2 49 2-15M103 345q1 9 2 14t2 25 2-15 2-62M115 326q1 18 2 32t2-19 2-24 2 16 2 32 2 22 2-7 2 0M135 389q1-1 2 20t2 34 2-30 2-73 2 5M147 397q1 17 2-20t2-20 2 2M173 303q1 13 2 28t2 58 2 54 2-14 2-82M189 294q1-26 2 7t2 52 2 4 2-24M203 325q1 1 2 29t2 67 2-28 2-59 2 78 2 2 2-45 2 83 2-16 2-94M229 379q1 29 2 13t2-53 2 0 2 35M243 280q1 2 2 21t2 36 2 37 2-3M271 393q1 11 2 2t2 34 2-23 2-63 2 10 2 13 2 7 2 16 2-14M297 360q1-6 2-2t2-3 2 46M309 361q1 5 2 25t2 48 2 4 2-71 2-27M323 368q1-4 2 14t2 43 2 44 2 4 2-27 2-11 2 45 2-56 2-102 2 77 2 130 2 97 2-1 2-78 2-108 2-98 2-44 2-23 2 49 2 55 2-51 2-14 2 25M381 331q1-3 2 49t2 13 2-28"/>
<path stroke="#C41B40" d="M0 408l1 25q1 25 2-91t2-105 2 30 2 12M11 372q1 100 2 3t2-111 2-14 2-3 2 97 2 34 2-93 2-20 2 50 2 15M35 313q1 23 2 40t2 111 2 72 2-153 2-124 2 13 2 7 2-17 2-17 2 18 2 18 2 17 2 11 2 105 2 29 2-135 2-49 2 3 2 7 2 4 2 33 2 5 2-42 2-8 2 56 2 67 2-48 2-55 2 44 2-7 2-46 2-7 2-10 2 0 2 62 2 35 2-28 2-23M119 286q1-14 2-21t2 16 2 40 2 17M129 373q1 35 2-24t2-70 2 15 2 11M141 311q1 21 2-7t2-38 2-4 2 30 2 18 2-6 2-24 2 44 2 28 2-59 2-26 2-10 2-5 2 59 2 55 2 20 2-27 2-70 2-23 2 69 2 16 2-38 2 22 2-32 2-21 2 16 2-5 2-21 2 29 2 316 2-6 2-282 2-43 2-40 2 13 2 38 2 79 2 4 2-84 2-28 2 7 2 26M227 331q1 3 2-12t2-38 2-18 2 2 2 50 2-9 2-48 2 10 2-3 2 4 2 8 2 3 2 16 2 19M259 289q1-17 2-24t2 4 2 7 2-9 2 9 2 9 2-14 2 3 2 13 2 13 2 5 2-9 2 38 2 59 2-38 2-80 2-14 2 4 2 13 2 56 2-23 2-46 2 15 2-4 2 22 2 26 2 44 2 22 2-62 2-59 2-14 2 24 2 1 2-13 2 9 2 26M333 351q1 27 2-30t2-49 2 2 2-5 2 19 2-5 2-15 2 9 2 5 2 31 2 9 2-6 2-18 2-34 2 26 2 38 2-15 2 128 2-22 2-167 2 3 2 36 2 11 2-36 2 1 2 20 2 75l1 64"/>
<path stroke="#1276C2" d="M0 292l1-1q1-1 2 81t2 49 2-83 2-61 2-3 2 19 2 6 2 85 2 64 2-85 2-77 2-28 2-13 2 17 2 45 2 23M39 339q1 45 2 17t2-55 2-26 2 28 2-8 2-29 2 22M65 329q1 41 2-1t2-28 2 23M73 315q1-17 2 4t2-5 2-26M83 313q1 5 2 6t2-23 2-10 2 10 2 29M95 342q1-16 2 45t2 12 2-84 2-23 2 32 2 28M117 301q1-13 2-4t2 68 2 52 2-68 2-56 2 36 2 44M133 351q1-35 2 32t2 6 2-89 2-30 2-2 2 36 2 10 2-43 2-17 2 4 2 21 2 18 2 11 2 23 2 3M167 340q1 26 2 38t2-23 2-49 2 22 2-12 2-70 2 248 2 50 2-220 2 78 2 13 2-88 2 13M197 299q1-1 2-12t2-20 2-3 2 24 2 59 2-2 2-23 2 44 2 11M221 349q1-9 2-49t2-39 2 7 2-4 2 31 2 36 2-18 2-8 2-24 2-35 2 20 2 29 2 5 2 20 2-8 2-32 2-5 2 0 2 6 2 43 2 39 2 19 2 18 2-32 2-33 2 53 2 12 2 15 2 50 2-21 2-28 2-70 2-69 2 65 2 6 2-48M305 356q1-46 2-15t2 62 2 2 2-52M315 344q1 14 2-29t2-44 2 11 2 1 2 37 2 82 2-26 2-60 2 27M339 306q1-12 2 29t2 8 2-58 2-25 2 15 2 112 2 67 2-55 2 63 2 11 2-138 2-60 2 4 2 118 2 71 2-67 2-51M377 331q1 15 2 40t2-21 2-42 2-26 2-23l1 7"/>
<path stroke="#EE5A22" d="M0 526l1-105q1-105 2-101t2 4 2 8 2 36 2 53 2-35 2-90 2-34 2 5 2 51 2 26 2-50 2-34 2 21 2 44 2 22 2 38 2 26 2-25 2-9M47 343q1-13 2-6t2 11 2-14M55 301q1-15 2-24t2 15 2 17 2-27 2-18 2-2 2-5 2 16 2 61 2-12 2-60 2 23 2 81 2 7 2-62 2 21 2 47M99 299q1 7 2 18t2-12 2-28 2 16 2 2 2-9 2 21 2 16 2-22 2-32 2 0 2-9 2-14 2 12 2 51 2 50 2-10 2-16 2 116 2 77 2-120 2-116 2 7 2 92 2 59 2-96 2-65 2 17 2 74 2 87 2-77 2-72M167 346q1 14 2-27t2-24 2 43M175 387q1 23 2 21t2 46 2-8 2-118 2-54 2-3 2-6 2 13 2 5 2-8 2 8 2 75 2 211 2 29 2-163 2-58 2-67 2-46 2 53 2 71 2-12 2-2M225 375q1 23 2-29t2-65 2 12 2 13 2-22 2-11 2 14 2 42 2-3M245 307q1 11 2 62t2 36 2-79 2-62 2 6 2 88 2 20 2-93 2-2 2 43 2-10 2-11 2 17 2-30 2-34 2 51 2 12 2-53 2 33 2 42 2-43 2-40 2 107 2 103 2-39 2-36 2 34 2 78 2-88 2-128 2 76 2 58 2-71 2-73 2 26 2 63 2-4 2-53 2-42 2 13 2 17 2-17 2-19 2-9 2 17 2 13 2-14 2 19 2 94 2-1 2-79 2 20 2-9 2-53 2 7 2 20 2 9M361 291q1-13 2-19t2-9 2 19 2 69 2 22M373 314q1-34 2-31t2-5 2 3 2 23 2 6 2-11 2 42l1 47"/>
<path stroke="#F5AE26" d="M0 298l1-19q1-19 2 4t2 75 2 27 2-67 2-47 2-13 2 44 2 2 2-51 2 6 2 9 2 21 2 40 2-20 2-31 2 70 2 65 2-69 2-69 2 38M45 308q1-30 2-27t2 10 2-1 2 29 2-2 2-45 2-11 2 3 2 29 2 6 2 40 2 15 2-60 2-20 2 7 2-8 2 34 2 105 2 73 2-88 2-78 2-12 2-44 2-1 2 52 2 22 2-29 2 2 2-4 2-18 2-2 2 23 2-14 2-35 2 3 2 17 2 5 2 22 2 42 2-9 2-31M129 314q1 12 2-10t2-17 2 16 2-17 2-32 2-4 2 17 2 14 2-4 2 19M151 310q1-6 2-35t2-26 2 0 2 10 2 17 2 2 2 12 2 5 2-16 2-5 2 10 2 18 2 2M183 305q1 21 2 3t2 39 2 110 2-55 2-112 2 28 2 17 2-41 2-23 2-4 2 13 2 80 2 97 2-16 2-111 2 24 2-11 2-49 2 4 2-40 2 41 2 69M229 335q1-61 2-30t2 130 2-16 2-117 2-5 2-9 2-8 2 11 2 32 2 2 2-28 2-4 2 1 2-19 2 76 2 36 2-60 2-20 2-25 2-14 2 13 2 14 2-6M277 296q1 12 2 38t2-10 2-44 2-2 2 0 2-3 2 20 2 7 2 5 2 3 2-30 2-22 2 230 2 130 2-190 2-130 2-35 2 33 2 41 2 2 2-36 2-24 2 4 2 3 2-14 2 82 2 1 2-98 2-5 2 52 2 58M341 352q1-18 2-49t2-35 2 0 2-8 2-11 2 2 2 35 2 42 2-23 2-15 2-4 2-19 2 2 2-2 2-7 2 7 2 19 2 67M379 341q1-71 2-73t2 2 2 20 2 43l1 27"/>
<path stroke="#9036A0" d="M0 708l1-132q1-132 2-173t2-55 2-35 2 38 2 15 2-76 2-22 2 8 2-2 2 43 2 43 2-47 2-40 2 22 2 155 2 170 2-120 2-159 2-17M41 324q1 8 2 4t2-27 2-20 2 35 2 5 2 1 2 82 2 13 2-72 2-36 2 18 2 6M67 327q1 11 2 38t2 74 2 35 2-50 2-62M85 338q1 28 2 1t2-6 2 21 2-33 2-9 2 11 2-28 2-22 2-5 2 25 2 60 2 20M111 368q1 12 2 34t2-8 2 32 2 18 2-66 2-31 2-38 2 23 2 113 2-37 2-80 2 73 2 124 2-1 2-126 2-66 2 16 2 44 2-25 2-48M159 338q1-12 2-13t2 107 2 94 2-61 2-46 2-3 2-21 2-38 2 36 2 42 2-27 2-77 2-45 2 21 2 25 2 61 2 175 2-55 2-184 2 27 2 48 2 47 2-31 2-77 2 6 2 22 2-20 2-14M229 345q1 35 2 17t2 5 2 35 2 144 2 1 2-181 2-7M245 375q1-27 2-70t2-35 2 40 2 9 2-32 2-9 2 10 2 74 2 37 2-49M267 355q1 27 2-10t2-4 2 14 2-2 2 21 2-20 2-21M283 349q1 13 2-5t2-42 2 13 2 35 2-26 2-32M297 310q1 26 2 67t2 26 2-63 2-60 2 6 2 24M315 332q1 30 2 17t2 15 2-18 2-62 2-13 2 13 2 58 2 4 2-64 2 13 2 29 2-26 2 39 2 56 2-41M361 329q1 1 2 9t2 31 2-18 2-57 2-16 2 15 2 25M377 344q1 16 2 5t2 23 2 44 2 50 2 37l1-3"/>
<path stroke="#74B43A" d="M5 357q1-43 2-41t2 50 2 91 2-35 2-73 2-8 2-24 2-26 2-10 2 6 2 35 2 51 2 69 2-16 2-81 2 24 2 49 2-32 2-44 2 19M49 340q1 2 2 36t2 164 2-10 2-151 2-26 2-52 2-36 2 50 2 205 2 1 2-148 2 1 2-53 2-20 2 22 2-24 2 13 2 29 2 13 2 94 2 25 2-73 2-10 2 72 2-19 2-86 2-5 2 32 2 13 2-3 2-10 2-30 2 20 2 15 2 12 2 26 2-53 2-57 2 13 2 185 2 134 2-185 2-160 2-5 2 52 2 66 2 6 2-36 2-30 2-4 2 26 2 39M159 319q1-1 2 54t2 54 2-8 2-40 2-31M175 289q1 5 2 35t2 21 2-32 2 49 2 177 2 38 2-131 2-101 2-29 2 8 2-20 2 1M201 321q1-5 2 3t2 161 2 48 2-120 2-45 2-58 2 2 2 36 2-1M223 344q1-22 2-21t2 35 2 15M245 343q1-11 2 3t2 32 2-17M255 316q1-16 2 43t2 90 2 186 2-52 2-179 2 37 2-48 2-44 2 72 2 134 2-22 2-63 2 23 2-107 2-50 2 27 2-58 2-11 2 62 2 0 2-16 2 143 2 52 2-121 2-48 2-10 2-4 2 56 2 27 2-23 2 2 2-16 2-27 2 8 2 50 2-26 2-83 2 31 2 105 2-34 2-91 2-17M341 325q1 21 2-6t2-40 2-6 2 41 2 72 2 53 2 16 2-35 2-38 2-26 2-44 2 13 2 84 2-2 2-87 2-11 2 70 2 13 2-68 2-5 2 266 2 31 2-208l1-2"/>
<path stroke="#22B2EA" d="M0 346l1-15q1-15 2-16t2 33 2 13 2-33 2 19 2 123 2 36 2-33 2 68 2-25 2-59 2-83 2-78 2 24 2-19 2-26 2 1 2 57 2 38 2 0 2 45 2 78 2 109 2-50 2-109 2-48 2-54M57 348q1 14 2-16t2-39 2 15 2 36M67 328q1-28 2-34t2 13 2 80 2 8 2-54 2 16 2 11 2-22 2-2 2-4 2-38 2-26 2 10M101 315q1 1 2-18t2-3 2 18M109 325q1 11 2 6t2-9 2 63 2 57 2-61 2-35 2 32 2 119 2 88 2-133 2-126 2-5 2 7 2 89 2-7 2-69 2 3 2-23M157 303q1-37 2-30t2 31 2 15 2-14M179 302q1 0 2 23t2 193 2-9 2-134 2 9 2-77 2-41 2 37 2 102 2 114 2-69 2-123 2 20 2 54 2 31 2-52 2-81 2-29 2 44 2 134 2-37 2-136 2 13 2 66M229 365q1-31 2-62t2-26 2 31 2 44 2 17M245 338q1-36 2-1t2 40 2-5 2 9 2 3M257 337q1-31 2-46t2-1 2 59 2 67 2-2 2-7 2-24 2-29 2-19 2-42 2 68M283 359q1-35 2-61t2-4 2 71 2 54 2 15 2-25 2-75 2-41M307 367q1 31 2 36t2 138 2-27 2-120 2-2 2-62 2-7 2 44 2 17 2-17 2 12 2 21 2-27 2-43 2-31 2 6 2 25M347 330q1 20 2-5t2-27 2 9 2 70 2-2 2-86 2-17 2 32 2 4 2 23 2 110 2-43 2-105 2 59 2 30 2-38 2-26 2-29 2 7 2 13l1-11"/>
<path stroke="#C41B40" d="M0 274l1 14q1 14 2 47t2 13 2 64 2 26 2-84 2-57 2-17 2 1 2-22 2 2 2 3 2 30 2 150 2 56 2-127 2-83 2 14M39 335q1-29 2-30t2-13 2-11 2-5 2 0 2 5 2-6 2 47 2 33 2-24M61 330q1 4 2 49t2 25 2-14 2-15 2 37 2 21 2-5 2-32 2-62 2 36 2-14 2-49 2 77 2 43 2-97 2-53 2 41 2-17 2-46 2 43 2 27 2-39 2 16 2 84 2 36 2-66 2-75 2-23 2 4 2 15 2-1 2 52 2 29 2-57 2-22 2 27 2 10M137 327q1 21 2 6t2-8 2 117 2-5 2-137 2-39 2 36 2 305 2-6 2-267 2 5M163 370q1-18 2-30t2-45 2-25 2 8 2 30 2 20 2 24 2 20 2-18 2-18 2-14 2-11 2 84 2-2 2-111 2-20 2 0 2 13 2 30 2-1 2 1 2 118 2 23 2-69 2-35 2 43 2-3 2-83 2 17 2 19 2 89 2 12 2-66 2 4M239 317q1-1 2-5t2-10 2 19M247 311q1-35 2-32t2 7 2-12 2-16 2 35 2 44 2-24 2-37 2-9 2 1 2 29 2-3 2-29 2 12 2 17 2-8 2-15 2 34 2 44 2-8M289 348q1 20 2-17t2-19 2-9 2 22 2 92 2-11 2-98 2-36 2 14 2 30 2 1 2-16 2 32 2 200 2-14 2-189 2 8M325 345q1-1 2-7t2 43 2-7 2-69 2 36 2 196 2-27 2-206 2-22 2 18 2 1 2 75 2 58 2-49 2 92 2 5 2-142M361 296q1-14 2 7t2 42 2 37 2 3 2-22 2 12 2-9 2-48 2-14 2 27 2 10 2-47 2-31l1 3"/>
<path stroke="#1276C2" d="M0 266l1 10q1 10 2 37t2 148 2 21 2-111 2-12 2-22 2-48 2-25 2 108 2 35 2-87M25 315q1 11 2 51t2-36 2-67 2 16 2 114 2 19 2-109 2-20 2-2 2-8 2-2 2 6 2 77 2 64 2-6 2-29 2-18 2 27 2-41 2-69 2-20 2 29 2 56 2-19 2-38M77 290q1-4 2 14t2 55 2-28 2-58 2 24 2 0 2-14 2 55 2 21 2-46 2-17 2-7 2-19 2-11 2 6 2 16 2 2 2 9M117 304q1 6 2-4t2 67 2 84 2-88 2-96 2 19 2 19 2-17 2 14 2 19 2-37 2-4 2 14 2 0 2 1 2-12 2 4 2 100 2 30 2-62M161 321q1-5 2-33t2-13 2 25 2 3 2-17 2 33 2 78 2-42 2-74 2 35 2 34 2-45 2-28 2 36 2 29 2 3 2-40 2 51 2 24 2-81 2-21 2 41 2-7 2-55 2-4 2 10 2 31 2 42 2-24 2-19 2 10 2-9 2-8 2 35 2 55 2-8 2-66 2-42 2 46 2 25M247 326q1-30 2-12t2-8 2-27 2 2 2 20 2 4 2-2 2 24 2 8 2-27 2-23 2-2 2-6 2 2 2 47M281 321q1 19 2 49t2 46 2 31 2-69 2-91 2-10 2 32 2 12 2-15 2 61 2-26 2-73 2 26 2 67 2-18 2-55 2 85 2 16 2-69 2-26 2-21 2 7 2 32 2 12 2-10 2-10 2 51 2 36 2-69 2-37 2 2 2-12 2 83 2 11M353 330q1-18 2-28t2-22 2-19 2-5 2 24 2 36 2 2 2-34 2-23 2 5 2 138 2 149 2-106 2-109 2 60 2 67 2-82l1-103"/>
<path stroke="#EE5A22" d="M3 348q1-4 2 43t2 34 2-17 2 11 2-38 2-65 2-24 2 8 2 25 2 13M25 360q1 14 2 26t2 8 2-24 2-46 2-36 2-12 2 60 2 112 2-8 2-21 2 30 2-70 2-77 2-12 2 18M59 336q1 12 2 29t2-24 2-43 2 34 2 63 2 43 2-25 2-23 2-29 2 2 2 150 2 18 2-52 2-25 2-92 2 1 2-5 2-65 2-26 2 31 2 13 2 9 2 102 2 130 2 37 2-158 2-150 2 19 2 25 2-13 2 94 2 27 2-102 2-28 2 9 2 0 2-10 2 20 2 46 2 42 2-43 2-73 2 5 2 15 2 12 2 49 2 36 2-9 2-72 2-38 2 42 2 22 2-6M167 381q1 41 2 22t2-2 2 15 2-55 2-50 2 5 2-13M189 345q1-19 2-24t2 75 2 26 2-92 2-7 2 12M203 300q1-16 2 38t2 29 2-62 2-35 2 56 2 48 2-53 2-39 2 41 2 83 2 46 2-38 2-88 2-32 2 25 2 25 2-2 2-30 2 30 2 15 2-57 2-5 2 69 2 9 2-64 2-28 2 33 2 52 2 97 2 17 2-108 2-77 2-7 2 23 2 23 2 24 2-4M291 333q1 3 2-24t2-26 2 36M301 349q1-23 2-53t2 4 2 105 2 6 2-76 2-12 2 14 2 46 2 14 2-61 2-40 2 46 2 36 2 28 2 11 2-86 2-42 2 47 2 5M341 334q1 14 2 20t2 52 2 24 2-87 2-57 2 74 2 56 2-39 2-44 2-20 2 36 2 3 2-18 2 163 2 2 2-151 2-43 2-14 2-3 2 89 2 159 2-16 2-107l1-43"/>
<path stroke="#F5AE26" d="M0 338l1-1q1-1 2-6t2 1 2-4 2-18 2 18 2 1 2-9 2 47 2 14 2 51 2 19 2-50 2 29 2-41 2-94 2-17 2 2 2 47 2 64 2-32 2-14 2 73 2 126 2 6 2-68 2-65 2-72 2 44 2-15M65 405q1 17 2-51t2-52 2-2 2-9 2 92 2 3 2-62 2 22 2-11 2-3M87 345q1 1 2 37t2-1 2-10 2 50 2-20 2-50 2-10 2-28 2-29 2 41 2 64 2 157 2-20 2-172 2-4M119 349q1-11 2 0t2-27 2-39 2 23M131 356q1-36 2 9t2 98 2 67 2-66 2-75 2-17 2-28 2-20 2-8 2 6 2-28 2-28 2 4 2 64 2 22M163 297q1-21 2 1t2 71 2-7M173 311q1 21 2 8t2-32 2 23 2 145 2 14 2-112 2 14 2 17 2 17 2-15 2-65 2 3 2 10 2-18 2-3 2-10 2-21 2 9 2 13 2 21 2 50 2 38 2-9 2-49 2-44 2-11M227 309q1 5 2 71t2 44 2-51 2 5M237 398q1-14 2-53t2-12 2 52 2 13 2 23 2 19 2 1 2-30 2-79 2-33 2 34 2 29 2-4M265 373q1 13 2-22t2 46 2 97 2-44 2-73 2 9M283 378q1 8 2-28t2-55 2-1 2 7 2 34 2 95 2-17 2-87 2-35 2 21 2 101 2 21 2-76 2-21 2 22 2 27 2-5 2-13 2-6 2 16 2 55 2-63 2-92 2 11 2 13 2 23 2 60 2-30 2-39 2 54 2 26 2-20 2-36 2-19 2 54 2 121 2-38 2-112 2-21 2-28 2 40 2 46M371 352q1 10 2 4t2-39 2-32 2 15 2 16 2-19 2-18 2 14l1 11"/>
<path stroke="#9036A0" d="M0 488l1-30q1-30 2-65t2 120 2 162 2-194 2-202 2-6 2 3 2 63 2 17 2-43 2-20 2-19 2 124 2 36 2-114 2-35 2-10 2 139 2 140 2-119 2-120 2-4 2 36 2 118 2-41 2-111M55 323q1 5 2 7t2-14 2-21 2-8 2 21 2 46 2-12 2-35 2-7 2-3 2-4 2 28 2 11 2-36 2 128 2 39 2-122 2-26 2-5 2 40 2 40 2-5 2 17 2-23 2-64 2-16 2 0 2 156 2 123 2-166 2-139 2 42 2 22 2-49 2 2 2 62 2-8 2-60 2-14 2 0 2 60 2 31 2-16 2 101 2-6 2-103 2-31 2 5 2 10 2 45 2 57 2-51 2-42 2 20 2 37 2-1 2-22M171 355q1-7 2-38t2-20 2 8 2-5 2 48 2-12 2-40 2 11 2-5 2 16 2-8 2 15 2 29 2-8 2-36 2-1 2 56 2 102 2 20 2-105 2-55 2-11M217 294q1-18 2-16t2 7 2 8 2-5 2-4 2 40 2 7 2-48 2-1 2 53 2 6M243 343q1-17 2-45t2-32 2 62 2 168 2-64 2-159 2 25 2 28 2-14 2-17 2 44 2 33 2 12 2-45 2 365 2 8 2-408 2 43 2-16 2-51 2 44 2 19 2-40 2-13 2-9 2 25 2 120 2-30 2-102 2 12 2-3 2 65 2 15 2-64 2-6 2 19 2 75 2-16 2-102 2-18 2 2 2 2 2 2 2 10 2 24 2-9 2 11 2 7 2-37 2 19 2 19M347 307q1-1 2-12t2-26 2-9 2 29 2 18 2-9 2 33 2 54 2 23 2-66 2-35 2 27 2-38 2-12 2 21 2-4 2 9 2 88 2 70 2 49l1 49"/>
<path stroke="#74B43A" d="M0 400l1 13q1 13 2-21t2-66 2-7 2 37 2 16M15 348q1-20 2 21t2 18 2-31 2 30 2 12 2-44 2 14 2 32 2-26 2 1 2 29 2-5 2-17 2-10M47 332q1-20 2-17t2 26 2 67 2 43 2-57 2 36 2 74 2-65 2-85 2 24 2 141 2-39 2-118 2 17 2 55 2 28 2-52 2 68 2 3 2-108 2 70 2 90 2-73 2-82 2 21 2-33M101 346q1 24 2 18t2-34 2-6 2 73 2-18 2-74 2-2 2 14 2 38 2 33 2 61 2 32 2-84 2-78 2-4 2 18 2 36 2 39 2-21 2-36 2 18 2 10 2-23 2 27 2-17 2-14 2 67 2 6 2-43 2-11M167 364q1-8 2 7t2 17 2 48 2 41 2-22 2-5 2 21 2-57 2-63 2 61 2 24 2-67 2-25 2 2 2-1 2 13 2-28 2-38 2 54 2 53 2-13 2-10 2 6 2-1 2 17 2 47 2-17 2-59 2-9 2 18 2-13 2-35 2 16 2 100 2-24 2-92 2 32 2 67 2-6 2-74 2-33 2 39 2 4 2-38 2 212 2 133 2-69 2-75 2-137 2 63 2 73 2-73 2-53 2 60 2 9 2-123 2-27M285 381q1 17 2 42t2-38 2-51 2 55 2 132 2-8 2-118 2-5 2 8 2-54M309 319q1 1 2-21t2 4 2 42 2 6 2-21 2 25 2 99 2-36 2-80 2 27 2-4M335 357q1-29 2-50t2 30 2 81 2-21 2-41 2 30 2 10 2 35 2 66 2 8 2-70 2-45 2-14 2 2 2 3 2-7 2-14 2-44 2 30 2 41 2-18 2-35 2-12 2 25 2 9 2 4l1 14"/>
<path stroke="#22B2EA" d="M0 400l1-24q1-24 2-31t2 5M9 330q1-28 2-24t2 21 2 57 2-14 2-57 2 6 2 13 2 2 2-8 2 18 2 34 2-3 2-30 2 2 2 16 2-24 2-8 2 16 2 0M51 293q1-5 2 38t2 49 2-47 2-49 2 124 2 108 2-81 2-80 2-4 2-15 2-36 2 18 2 33 2-15M81 324q1 4 2-6t2-19 2-6 2-1 2 0 2 87 2 40 2-81 2-35 2 41 2 44 2-8 2-13M111 353q1-11 2-18t2 19 2 74 2 18 2-61 2-68 2-34 2 33 2 12 2-3 2 36 2-27 2-52 2 36 2 97 2 13 2-32 2 33 2 8 2-36 2-38 2-46 2-19 2 110 2 50 2-38 2-11 2-14 2 3 2 0 2 41 2 2 2-35 2 4 2 43 2-43 2-94 2 5 2 35 2 28 2-12 2-12 2 57 2-12 2-33 2 106 2-24 2-75 2 26 2-39 2-18 2 6 2-6 2 22 2 34 2-4 2-51 2 28 2 129 2-79 2-123 2 36 2-28 2 17 2 92 2-28 2-54 2 16M249 341q1-17 2-14t2 28 2 15 2-5 2 76 2-6 2-97 2 13 2 28 2-20M271 343q1-1 2-1t2 4 2-22 2 103 2 31 2-113 2-14M287 339q1 7 2 6t2-29 2-17 2 13 2 88 2 38 2-70 2 106 2 17 2-162 2-21 2 106 2 64 2-29 2-70 2-85 2-26 2 41 2 65 2 21 2-20 2 1 2 10 2 11 2 26 2 41 2-40 2-78 2-27 2-21 2 88 2 89 2-77 2-25 2 29 2-71 2-18 2 15 2-12 2 13 2-7 2-19 2 0 2 1 2 14 2 94 2 26 2-93 2-46 2 29l1 32"/>
<path stroke="#C41B40" d="M0 316l1-4q1-4 2-1t2-7 2 39 2-16 2-20 2 107 2 71 2-80 2-45 2 61 2-2 2-69 2-35 2 44 2-22 2-41 2 150 2 81 2-148 2-82 2 30 2 37 2 21 2 25 2-34 2-68 2-20 2 9 2-7 2-19 2 3 2 3 2 9 2 10 2 6 2 41 2 18 2-22 2 7 2-4 2-22 2-30 2-1 2 125 2 158 2-41 2-104 2-77 2-75 2 12 2-1 2-11 2 91 2 29 2-58M113 324q1-8 2-29t2 11 2 55 2 14 2-37 2-27 2 46 2 28 2-46 2-22 2-8 2 3 2 35 2 51 2 34 2 17 2-52 2-87 2 30 2 62 2-24 2 19 2 55 2 11 2-50 2-101 2 42 2 25 2-86 2-26 2 55 2 81 2 36 2-6 2-63 2-23 2-7 2-45 2 138 2 58 2-101 2 14 2 38 2-35 2-84 2-37 2 38 2 26 2-25 2-21 2-17 2 1 2 57 2-19 2-68 2 5 2 8 2 4 2 12M235 291q1-7 2-16t2 15 2 114 2 55 2-98 2-55 2 36 2 5 2 1 2-7 2-40 2 51 2 52 2 3 2 118 2 140 2-152 2-203 2-15 2 10 2 62 2 91 2-30 2-45 2-9M287 363q1 19 2-24t2-58 2 10 2 54 2 30 2-6M303 378q1 8 2-20t2-21 2 11 2-27 2-41 2 12 2 57 2 32 2 14 2-24 2-40 2 41 2 114 2-51 2-124 2 60 2 10 2-50 2-8 2-26 2 82 2 38 2-108 2-23 2 36 2-4 2-29 2 32 2 26M363 344q1 14 2 43t2-6 2 34 2 17 2-98 2-52 2-2 2 32 2 37 2-20 2-16 2 29l1 16"/>
<path stroke="#1276C2" d="M0 382l1-23q1-23 2-29t2-20 2-30 2 4 2 69 2 59 2-8 2-54 2-13 2 3 2-6M27 376q1-50 2-64t2-13 2 15 2 22 2 0 2-20 2 9 2 21 2-32 2-12 2 106 2 11 2-79 2-10 2-30 2-27 2 2 2 2 2 59 2 52 2-52 2-42 2 15 2 22 2 262 2-6 2-226 2 23 2-66 2-30 2 35 2 21 2-11 2-43 2-21 2 36 2 41M103 367q1 15 2-18t2-41 2 40 2 24 2-52 2-38 2 22 2 100 2-1 2-72 2 17 2 52 2-20 2-37 2 21 2-7 2-48 2-39 2 47 2 68M151 306q1-8 2-25t2 23 2 63 2 38 2-2 2 13 2 24 2-13 2-62 2-68M173 360q1 76 2 7t2-42 2 59 2-19 2-2 2 12 2-47 2-25 2-5 2 46 2 144 2 3 2-77 2 14 2-80 2-57 2 51 2 43 2-45 2-62 2 14 2 68 2 11 2-37 2-27 2-8 2 15M237 386q1-34 2-73t2-2 2 90 2 8 2 68 2 125 2-109 2-146 2-4 2 52 2-18 2-32M265 330q1 4 2 24t2 39 2 1 2-32 2 7 2 30 2-29 2-50 2 1 2 15 2-4 2-4 2 3 2-7 2-16 2-14 2-9 2 28 2 29 2-3 2 13 2-25 2-45 2 0 2-1 2-3 2 2 2 19 2 44 2 39 2 1 2 38 2 10 2-82 2-27 2 44 2 22 2-2 2 16 2-62 2-78 2 69 2 94 2-35 2-59 2-2 2-20 2-23 2 66 2 103 2 17 2-66 2-91 2-45 2 56 2 34 2-38 2-19 2 15 2 15 2 16l1 17"/>
<path stroke="#EE5A22" d="M0 356l1-20q1-20 2-37t2 18 2 0 2-32 2-10 2 10 2 34 2-18 2-13 2 37 2 31 2-26 2-35 2 26 2 93 2 7 2-102 2-12 2 34 2-40 2-39 2 44 2 60 2 38 2-47 2-75 2 1 2 2 2-10 2 42 2 98 2-15 2-102 2-33 2 0 2 8 2 31 2 0 2-15 2 18 2-1 2 42 2 90 2 41 2 101 2-7 2-202 2-94 2 29 2 78 2-24 2-62 2 8 2-4 2 15 2-10 2-29 2-12 2-6 2 21 2 12 2 7 2 18 2 25 2 22M135 322q1 6 2 20t2-33 2-12 2 45 2-36 2-19 2 118 2-18 2-90 2 33 2-27 2-23 2 49 2 8 2-37M167 316q1 30 2 9t2 34 2 10 2-61 2-24 2-6 2 2 2-6 2 11 2 16 2-12 2-15 2-12 2-3 2 14 2 53 2 43 2-50 2-36 2 25 2-4 2-8 2 42 2 10 2-50 2-23 2 4 2-3 2 30 2-1 2-8 2 77 2-3 2-1 2 90 2-67 2-92 2 5 2 21 2 93 2-21 2-45 2 1 2-54 2-5 2-7 2-22 2 36 2 18 2-14 2 46 2 80 2 54 2-69 2-100 2-39 2 14 2 101 2 56 2-72 2-7 2 29 2-78 2-40 2 20 2-13 2-22 2 78 2 50 2-46 2 103 2 78 2-84 2-60 2-70 2-57 2 1 2 33 2 163 2-8 2-160 2 13 2 41 2 38 2 3 2-64 2-49 2-9 2 20 2 30 2 43 2 43 2-2 2-26 2-16 2 13 2-43 2-62 2 70 2 107 2 33 2-54 2-71 2-20M377 340q1 16 2 9t2-41 2-43 2 15 2 46l1 22"/>
<path stroke="#F5AE26" d="M0 268l1 10q1 10 2 35t2 2 2-1 2 46 2-4 2-23 2-28 2-25 2 31 2 138 2-47 2-123 2 27 2 26 2 45 2-21 2-55 2-23 2 4 2-13 2-5 2 56 2 85 2 17 2-67 2-61 2-22 2 24 2 6 2-35 2 6 2 9 2 4 2 10 2 9 2 5 2 2 2 13 2-10 2-15 2 14 2 4 2-23 2-17 2 73 2 101 2-76 2-87 2 34 2 4 2-32 2 5 2 86 2 38 2-69 2-61 2-7 2 18 2-18 2-13 2 11 2-8 2 0 2 99 2 43 2-48 2-12 2-44 2-12 2 61 2 87 2 51 2-58 2-122 2-55 2 34 2 32M159 341q1-27 2-7t2-6 2-48 2-10 2 152 2-15 2-158 2 106 2 86 2-66 2-50 2 25 2-4 2-56 2-9 2 94 2 23 2-62 2-5 2-38 2-36 2 6 2 40 2 5 2-31 2 11 2 10 2 83 2 43 2-106 2-49 2 51 2 39 2-25M229 321q1 13 2-1t2-14 2 61 2 30 2-59 2-49 2-8 2 38 2-3 2-39 2-14 2 11 2 25 2-19 2 17 2 98 2 25 2-74 2-18 2 29 2-46 2 9 2 79 2-58 2-75 2 15 2 9 2 1 2-4 2 12 2 24M293 308q1-24 2 1t2 4 2-26 2 39 2 52 2-9 2-32 2 7 2 9 2-12 2-28 2-35 2 25 2 18 2 14 2 5 2 7 2 16 2-31 2 24M335 359q1-39 2-64t2-9 2 93 2 12 2-99 2-36 2 106 2 54 2-99 2-47 2 17 2 65 2-4 2-69 2-14 2 12 2 46 2 61 2-6 2-39 2-18 2-4 2 23 2 32 2 67 2-29l1-84"/>
<path stroke="#9036A0" d="M0 378l1-17q1-17 2-4t2 18 2-20 2-4 2 32 2-17 2 4 2 39 2-17 2-47 2-29 2 66 2 76 2 21 2-87 2-113 2 20 2 52 2 14 2 10 2-5 2 87 2 80 2-92 2-30 2 1 2-79 2-36 2 63 2 101 2 15 2-10 2 8 2-37 2-16 2-19 2-64 2-48 2 20 2 78 2 118 2-14 2-38 2 41 2-52 2-75 2-30 2 24 2 59 2 43 2-58 2-72M107 327q1-11 2 10t2 59 2 52 2-35 2-23 2 61 2 58 2-19 2-90 2-75 2-13 2 24 2 1 2 23 2 27 2-27 2-42 2-10 2 73 2 38 2-36 2-2 2-20 2-33 2 25 2 16 2 53 2 12 2-92 2 19 2 53 2-11 2 43 2 27 2-69 2-34 2 82 2 142 2-53 2-159 2-38 2 18 2 37 2 13 2-8 2-32 2-18 2-8 2-35 2-17 2 11 2 28 2 32 2 142 2 43 2-138 2-81 2-14 2 53 2 103 2 34 2-85 2-50 2 40 2 155 2 99 2-98 2-140 2-74 2 0 2 36 2-2 2-41 2 18 2 7 2-28 2-6M263 351q1 17 2 3t2-16 2 6 2 25 2 25 2 47 2-3 2-75 2-2 2 85 2 2 2-48 2 12 2-27 2 19 2 2 2-82 2 4 2 43 2 166 2 31 2-121 2-26 2 17 2 94 2-24 2-96 2-45 2-22 2-8 2-4 2-12 2 342 2 2 2-355 2 97 2 59 2-67 2-17 2 44 2 16 2-35 2-10 2 20 2 70 2 25 2-103 2-78 2 21 2 95 2 22 2-56 2 38 2-9 2-52 2 23 2-14 2 65 2 63 2-93 2-81 2 2l1 23"/>
<path stroke="#74B43A" d="M0 410l1-23q1-23 2-33t2 39 2 37 2-10 2 15 2 50 2 15 2-53 2-22 2-26 2-46 2 15 2 52 2 5 2-40 2 105 2 15 2-91 2-30 2-58 2 27 2 17 2-34 2 4 2-6 2-6 2 38 2 20 2-36 2-14 2 65 2 6 2-26 2 18 2-2 2 37 2 55 2-70 2-94 2-16 2 0M87 307q1-7 2 5t2-7 2-10 2 37 2 45 2 67 2-5 2-63 2 87 2 51 2-112 2-75 2 13 2 24 2 5 2 56 2 27 2-47 2-30 2-11 2-7 2-10 2-3 2 6 2 8 2-4 2-5 2 44 2 42 2-41 2-57 2-10 2-7 2-8 2 24 2 15 2 24 2-11 2-62 2-10 2 45 2 21 2-8 2 112 2 43 2-115 2-71 2 2M187 374q1-10 2 0t2-18 2-13 2 21 2 4 2 115 2 90 2-124 2-80 2 41 2-15 2-10 2 44 2-33 2-70 2-14 2 43 2 46 2 13 2 50 2 43 2-56 2-46 2-30 2-23 2 47 2 5 2-51 2-32 2-8 2-11 2-3 2 12 2 10 2 19 2-8 2 3 2 67 2 32 2-36 2-44 2 45 2 44 2-34 2 11 2 33 2-37 2-82 2 4 2 43 2 22 2 33 2 12 2-16 2 21 2-25 2-58 2 7 2-2 2-7 2-14 2-7 2 39 2 18 2-12 2 4 2-15 2 20 2 25 2-17 2-23 2-23 2-35 2-44 2 13 2 73 2 51 2-57 2-66 2 21 2 94 2 28 2-56 2-30 2 31 2 97 2-11 2-70 2-20 2-4 2-33 2-40 2 36 2 29 2 67 2 72 2-79 2-88 2 23 2 109l1 78"/>
<path stroke="#22B2EA" d="M0 426l1-13q1-13 2-65t2 0 2 76 2-30 2-57 2 8 2 8 2 11 2 10 2-16M23 352q1 6 2 55t2-16 2-80 2-17 2 44 2 78 2-19 2-25 2 37 2 0 2-41 2-43 2-35 2-15 2 10 2 55 2 107 2-2 2-75 2-39 2-1 2 20 2-11 2-20 2 2 2 106 2 54 2-46 2 7 2-22 2-74 2-56 2 41 2 53 2-65 2-32 2 39 2 15 2 2 2-12 2-4 2 32 2 21 2-36 2 26 2 21 2-34 2-16 2 48 2 64 2-53 2-63 2 15 2 16 2-52 2-14 2 130 2 55 2-83 2-83 2-48 2 41 2 72 2-6 2-33 2 3 2-4 2-25 2-20 2 60 2 83 2-42 2-81 2 12 2 57 2 34 2-44 2-77 2-7 2 66 2 206 2-42 2-129 2 30 2-69 2-29 2-6 2-2 2-8 2-22 2 14 2 36 2 18 2-16 2-21 2-2 2-5 2 45 2 65 2-28 2-68 2 5 2 52 2 74 2-34 2-93 2 82 2 59 2-89 2-40 2-23 2 22 2 39 2-42 2-11 2 15 2-13 2 15 2 16 2-23 2-20 2 73 2 81 2-71 2-98 2-33 2 30 2 37 2-4 2-5 2-10 2 72 2 69 2-17 2-2 2 31 2-34 2-75 2 52 2 14 2-76 2-30 2-26 2-39 2 108 2 176 2-69 2-104 2 9 2-31 2-33 2-25 2 2 2 1 2-9 2 13 2 45 2 74 2-6 2-73 2 1 2 38 2-31 2-41 2 6 2 25 2 32 2 23 2-4 2-19 2-35 2-19M371 350q1 22 2-13t2-30 2 19 2 29 2-19 2-43 2 154 2 68l1-95"/>
<path stroke="#C41B40" d="M0 318l1-2q1-2 2-25t2 3 2 45 2-15 2-47 2-17 2-7 2 6 2 14 2 3 2 31 2 3 2-37 2 53 2 82 2-3 2-60 2-30 2-4 2-24 2-1 2 31 2 7 2-28 2 2 2 29 2-9 2-43 2-15 2 55 2 44 2 22 2-43 2-18 2 61 2-43 2-62 2 14 2 14 2-12 2 29 2 47 2-45 2-66 2-6 2 44 2 21 2-15 2 21 2 40 2 83 2-52 2-89 2 23 2 37 2-12 2-58 2-16 2-4 2-5 2-2 2 4 2 11 2 42 2 110 2 92 2-116 2-125 2 9 2 6 2 23 2-10 2-19 2 40 2 6 2-13 2-24 2-9 2-7 2-46 2 152 2 45 2-44 2 12 2-68 2-25 2-32 2 41 2 81 2-13 2-40 2-17 2-33 2 15 2 28 2-39 2-39 2 33 2 54 2-10 2-29 2-16 2-26 2 0 2 31 2 8 2-26 2 0M219 321q1 29 2 13t2-34 2 33 2 101 2-15 2-101 2-17 2-4 2-33 2-4 2 46 2 65 2-15 2-33 2-2 2-33 2-14 2 19 2 70 2 6 2-50 2-14 2-6 2 61 2 20 2-58 2-15 2 24 2-25 2-38 2-4 2 71 2 60 2 27 2 22 2-97 2-88 2-7 2 48 2 10 2-34 2 3 2 5 2 65 2 5 2-75 2-8 2 9 2-4 2 18 2 19 2-10 2-13 2 68 2 38 2-71 2 34 2-2 2-26 2 72 2-53 2-41 2 35 2-45 2-48 2 11 2 45 2-11 2-41 2-1 2 6 2 26 2-6 2-18 2 24 2-12 2-24 2 52 2 74 2-36 2-71 2-2 2 0 2-7l1-2"/>
<path stroke="#1276C2" d="M0 284l1-7q1-7 2 21t2 1 2-35 2 6 2 13 2-5 2-2 2 5 2-1 2-20 2-14 2 39 2 16 2-20 2 0 2-8 2 5 2-1 2-1 2 43 2 8 2-38 2-18 2-15 2 42 2 44 2-49 2-33 2 5 2 22 2 65 2 36 2-3 2 5 2-21 2 61 2-39 2-124 2 47 2 21 2-18 2 37 2-19 2-50 2 11 2 43 2 25 2-43 2-31 2 41 2 37 2 5 2-11 2 32 2-24 2-68 2 29 2 8 2-38 2 10 2-11 2-42 2 18 2 86 2 22 2-79 2-42 2 46 2 60 2-37 2-53 2 38 2 24 2-4 2-8 2-41 2-18 2-1 2 7 2 8 2-8 2 52 2 60 2 175 2-70 2-218 2 34 2-9 2-14 2-13 2-14 2 60 2 57 2-16 2-24 2-40 2-34 2 9 2 44 2-12 2-32 2 42 2 9 2 37 2 44 2 17 2-5 2-96 2-25 2 116 2 179 2-49 2-201 2-53 2 11 2 2 2 29 2 10 2-52 2-15 2 20 2-5 2-19 2-12 2 14 2 11 2 40 2 61 2-57 2-68 2 0 2 31 2 145 2-29 2-140 2 33 2 18 2-13 2 33 2 59 2-35 2-77 2-8 2 6 2-3 2 28 2 15 2-37 2 111 2 59 2-110 2 42 2 86 2-38 2-33 2-35 2-64 2-25 2 24 2 71 2-4 2-41 2 17 2 6 2 136 2 54 2-146 2-48 2 23 2-15 2-32 2-6 2-4 2 14 2 58 2 34 2-57 2-57 2-20 2 25 2 72 2-11 2-37 2 21 2-36 2-51 2-5 2 7 2 52 2 6 2-54 2-10 2 8l1 5"/>
<path stroke="#EE5A22" d="M0 408l1-22q1-22 2-20t2-47 2-57 2 44 2 276 2-9 2-226 2-1 2 21 2-2 2-62 2 6 2 33 2 19 2 13 2-18 2-37 2-38 2-7 2 1 2-1 2 35 2 32 2-23 2-24 2 17 2 78 2-7 2-53 2 49 2 4 2-73 2-12 2 28 2-9 2-9 2-7 2 12 2-1 2 1 2 44 2 12 2-45 2-44 2 66 2 44 2-52 2-8 2 13 2-14 2 11 2 31 2-23 2-42 2-9 2 0 2-9 2-18 2-3 2 19 2 11 2-11 2-24 2-3 2 37 2 155 2 86 2-82 2-92 2-34 2-18 2-47 2 46 2 38 2-16 2-17 2-32 2-9 2 5 2-2 2 3 2 37 2 3 2-22 2 11 2-16 2-24 2 49 2 71 2 21 2-18 2-52 2-28 2 26 2-8 2-13 2-20 2-35 2 30 2 15 2-21 2 12 2 0 2-14 2 13 2 36 2 9 2-32 2-19 2 16 2 28 2-5 2-45 2-19 2 27 2-3 2-5 2 30 2 44 2-19 2-45 2 54 2-4 2-70 2-9 2-2 2 3 2 61 2 43 2 41 2 110 2-70 2-156 2-20 2 29 2-17 2-19 2 89 2 106 2-86 2-100 2 24 2 16 2 63 2-20 2-65 2 143 2 5 2-95 2 35 2 9 2-44 2-72 2 2 2 16 2-2 2 30 2-9 2-53 2-2 2 28 2-3 2 48 2 46 2 97 2 44 2-157 2-45 2 92 2-30 2-103 2-12 2 12 2 18 2-2 2-24 2-4 2 26 2 89 2 55 2 28 2-21 2-117 2-53 2 36 2 24 2-27 2-2 2-15 2-23 2 17 2-1 2 4l1 17"/>
<path stroke="#F5AE26" d="M0 260l1 20q1 20 2 42t2 44 2 26 2-35 2 6 2-12 2 1 2 86 2-55 2-90 2 44 2 60 2-46 2-62 2 17 2 15 2-24 2-17 2-2 2 3 2-2 2 27 2 16 2-10 2-3 2-9 2-13 2-18 2 3 2-1 2-2 2 28 2 21 2 14 2-8 2-37 2-15 2 7 2 1 2-6 2 4 2 108 2 75 2-111 2-80 2 5 2 15 2-8 2-10 2 3 2 39 2 25 2-51 2-28 2 39 2 49 2 70 2-20 2-102 2-29 2-7 2 8 2 4 2-12 2 25 2 82 2 6 2 30 2 20 2-96 2-51 2-12 2 6 2 20 2-5 2 10 2 51 2 34 2-26 2-35 2-20 2 5 2 10 2-17 2-4 2 43 2 19 2-36 2-1 2-18 2-32 2 6 2 2 2 1 2 111 2 73 2 20 2-48 2-59 2 34 2-58 2-45 2 69 2-21 2-70 2 22 2-15 2-9 2 39 2 34 2-23 2-48 2-11 2-10 2 7 2 20 2 48 2 27 2-40 2-13 2 25 2 5 2-40 2-13 2 17 2 49 2 11 2-48 2 24 2 51 2-4 2-32 2 21 2 32 2 11 2 87 2 74 2-79 2-129 2-79 2-24 2-3 2-4 2 1 2 87 2 106 2 18 2-4 2-106 2-102 2 81 2 19 2-57 2-11 2-15 2 28 2 14 2-6 2-1 2 9 2 37M325 345q1-37 2-13t2-15 2-47 2-2 2-1 2 39 2 37 2-4 2-3 2-28 2 38 2 61 2-56 2-65 2-8 2-2 2 8 2 14 2 44 2 40 2 16 2-46 2-9 2 31 2-53 2-14 2 1 2-29 2 56 2 67 2-71l1-71"/>
<path stroke="#9036A0" d="M0 288l1-5q1-5 2-4t2 30 2 30 2-33 2-13 2 7 2 20 2 28 2-15 2 45 2 29 2-42 2-26 2-38 2-37 2 38 2 23 2-15 2 56 2 55 2-24 2-49 2-33 2-14 2 16 2 2 2 28 2 59 2-35 2-68 2 13 2 16 2 297 2-3 2-277 2 59 2-8 2 15 2 55 2-64 2 23 2 63 2-90 2-47 2 47 2-9 2-11 2 49 2-7 2-51 2-28 2 19 2-24 2-21 2 51 2-25 2-37 2 24 2 11 2 13 2-1 2-51 2-30 2 72 2 34 2-48 2 11 2 29 2-9 2-16 2-7 2 13 2-29 2-50 2-6 2 50 2 21 2-28 2 40 2 33 2-42 2-28 2 15 2 18 2 13 2-3 2-3 2-12 2 8 2-4 2 3 2 15 2-24M189 341q1 5 2 15t2 67 2 34 2-53 2-87 2-38 2 64 2 119 2 56 2-116 2-97 2-16 2-4 2 28 2 5 2-9 2 3 2-5 2-15 2 130 2 55 2-69 2-15 2-15 2 6 2-31 2-52 2 10 2 52 2-16 2 2 2 42 2-39 2-57 2 12 2 3 2-12 2 30 2 72 2 37 2-24 2-70 2-66 2 42 2 70 2-24 2-29 2 9 2-31 2-19 2 65 2 30 2-41 2-20M299 331q1 7 2-5t2-20 2 14 2 13 2-12 2-23 2-24 2 10 2 22 2 4 2-6 2 67 2 14 2-32 2 31 2-37 2-33 2 91 2 79 2-72 2-35 2 9 2-50 2-16 2 34 2 99 2 88 2-73 2-71 2-22 2-36 2-4 2-12 2-3 2-12 2-23 2 4 2 21 2 15 2 10 2 17 2 55 2 1 2-71l1-33"/>
<path stroke="#74B43A" d="M0 462l1-54q1-54 2-54t2-39 2-48 2 95 2 65 2-86 2 2 2 82 2 85 2-61 2-150 2-38 2-8 2 1 2 21 2 35 2-8 2-38 2 12 2 19 2-18 2-11 2 14 2 13 2-1 2-16 2-7 2 14 2 123 2 41 2-85 2-53 2-31 2 1 2-12 2 0 2 18 2 50 2 6 2-17 2-15 2 28 2 72 2 17 2-90 2-79 2 11 2 21 2 33 2-5 2 10 2 1 2 82 2 14 2-128 2-31 2-3 2 33 2 109 2-6 2-50 2-7 2-35 2 8 2 10 2-20 2-31 2 24 2 142 2 82 2-123 2-107 2-9 2-8 2-4 2 3 2 23 2 120 2 28 2-127 2-47 2 18 2-10 2-14 2 32 2 24 2-13 2 21 2 78 2 17 2-31 2-63 2-66 2 47 2 15 2-42 2 7 2 57 2 43 2-63 2-60 2-5 2-13 2 4 2 31 2 5 2-22 2 21 2 29 2 24 2 18 2-19 2 45 2 74 2-80 2-96 2-6 2 7 2 7 2 35 2 9 2-10 2 0 2-18 2 6 2-25 2-4 2 45 2-23 2-44 2-2 2 103 2 35 2-90 2 2 2 47 2 6 2-25 2 14 2 38 2 4 2-37 2-4 2-37 2-54 2 27 2 38 2 109 2 158 2 28 2-164 2-109 2-1 2-37 2 13 2 45 2-17 2-10 2 40 2-42 2-62 2 19 2 11 2-18 2-13 2-8 2 35 2 31 2-18 2-2M343 332q1 8 2 31t2 42 2-11 2-60 2-38 2 18 2 59 2-14 2-27 2-5 2-40 2 8 2 30 2-34 2-32 2 9 2 2 2 36 2 34 2 24 2 19 2 31l1 36"/>
<path stroke="#22B2EA" d="M0 414l1 10q1 10 2-14t2-36 2-30 2-16 2-30 2-16 2 29 2 39 2 23 2 18 2-32 2-67 2 11 2 25 2-18 2 19 2 67 2 53 2 39 2-62 2-119 2-40 2 25 2 54 2 14 2-50 2-20 2 76 2 48 2-9 2 37 2 26 2-59 2 24 2 34 2-43 2 8 2 14 2-46 2-27 2 28 2-7 2-16 2-39 2 3 2 125 2-9 2-83 2-31 2-3 2 33 2-18 2 18 2 32 2-44 2-36 2 37 2 20 2-10 2-52 2-28 2 40 2 115 2 32 2-113 2-48 2 27 2-4 2-24 2-8 2 31 2 77 2-20 2-81 2-16 2 12 2 21 2 41 2 10 2-41 2 8 2-6 2-56 2-12 2-9 2 71 2 85 2-11 2-20 2-53 2-38 2 22 2 39 2-14 2 2 2-1 2-4 2 72 2-6 2-40 2 22 2 14 2-13 2-32 2-25 2-14 2-7 2 11 2-10 2 17 2 38 2 2 2 16 2-6 2-47 2-2 2 59 2-9 2-59 2 4 2 23 2 180 2 109 2-183 2-107 2 38 2 53 2-33 2-63 2 96 2 3 2-102 2 9 2 20 2-8 2-54 2-35 2 45 2 54 2-27 2-57 2 64 2 65 2-59 2-53 2-1 2-21 2 17 2 37 2 24 2 78 2 26 2-79 2 0 2-1 2-71 2-28 2-2 2 33 2-6 2-26 2 48 2 35 2-10 2 12 2 50 2-49 2-97 2-5 2 23 2 34 2 13 2-32 2 4 2 39 2-3 2-6 2 5 2 30 2 30 2-24 2 1 2 7 2-13 2-15 2-50 2-11 2 6 2 17 2 37 2 19 2 29 2-11l1-29"/>
<path stroke="#C41B40" d="M0 348l1-3q1-3 2 22t2-17 2-55 2 12 2 35 2 139 2 4 2-128 2 3 2-7 2-6 2-39 2-44 2 2 2 10 2 12 2-14 2-5 2 10 2 19 2 18 2-21 2-19 2 238 2 37 2-207 2-14 2-16 2-1 2-8 2-5 2 156 2-3 2-120 2-22 2-47 2 20 2 48 2-7 2 8 2 2 2-56 2 8 2 21 2 0 2 26 2 9 2-46 2-24 2 35 2 28 2-13 2 4 2 33 2-38 2-38 2 54 2 21 2-5 2-11 2 103 2 54 2-164 2-83 2 40 2 0 2-26 2 24 2 28 2 23 2 82 2 52 2-117 2-105 2 3 2 40 2 30 2-29 2-29 2 5 2 7 2-7 2 4 2-6 2-9 2 42 2 48 2-15 2-1 2-20 2-23 2 58 2-17 2-30 2 39 2 9 2-20 2-5 2-6 2-21 2-12 2-13 2-2 2 6 2 8 2 21 2 61 2-15 2-74 2-9 2-13 2 202 2 56 2-219 2-7 2 114 2-22 2-71 2-12 2-31 2 19 2 76 2 106 2-59 2-100 2 35 2-18 2-43 2-6 2-8 2 0 2 6 2 4 2 2 2-3 2-10 2 12 2 21 2-13 2-16 2 2 2 142 2 79 2-98 2-8 2-21 2-21 2 21 2 57 2 107 2 25 2-119 2-133 2-28 2 68 2 68 2-37 2-50 2-8 2-23 2-25 2 22 2 0 2-23 2 32 2 72 2 32 2-71 2-46 2 52 2-5 2-32 2 21 2 37 2 5 2-41 2-39 2-6 2 9 2 26 2 56 2-2 2-41 2-1 2 30 2-3 2-40 2 33 2 21 2-45 2-38 2-2 2 31l1 12"/>
<path stroke="#1276C2" d="M0 466l1-36q1-36 2-87t2-65 2 8 2 37 2 5 2-25 2-12 2-9 2-9 2 118 2 111 2-100 2-114 2-6 2 8 2-11 2 39 2 28 2-46 2-24 2 3 2-4 2 44 2 16 2-42 2 43 2 31 2-63 2-84 2-79 2-45 2 1 2 44 2 89 2 137 2 11 2-70 2 20 2 45 2-23 2-37 2 41 2 3 2-43 2-14 2 10 2 39 2 232 2-9 2-215 2-3 2-23 2 19 2 21 2-11 2 75 2 13 2-103 2-64 2-12 2-4 2 28 2 36 2-5 2-32 2 1 2 52 2 29 2-10 2-8 2 61 2 31 2-31 2-25 2 9 2 32 2-45 2-38 2 0 2-22 2-26 2 52 2 11 2-39 2-5 2 70 2 49 2-46 2-40 2-48 2-14 2 29 2 249 2 83 2-256 2-121 2 12 2 18 2-12 2-22 2 25 2 8 2-32 2 28 2 49 2-35 2-42 2 19 2 172 2 22 2-163 2-24 2 46 2 7 2-38 2 8 2-4 2 22 2 32 2-8 2-31 2-41 2 24 2 138 2 52 2-127 2-91 2 1 2 3 2-19 2 39 2 81 2-28 2-70 2-3 2 5 2-10 2-13 2-6 2 25 2 43 2-26 2-44 2 10 2 51 2 163 2-40 2-117 2 30 2-45 2 15 2-1 2-58 2-11 2 70 2 78 2-43 2-74 2-21 2 30 2 56 2 20 2-51 2-50 2 14 2 20 2 10 2 28 2-5 2-34 2 46 2-6 2-22 2 21 2-50 2-18 2 21 2 1 2-21 2-13 2-1 2 1 2 6 2-2 2 29 2 35 2-17 2-26 2-17 2-7 2 53 2 30 2-10l1 10"/>
<path stroke="#EE5A22" d="M0 328l1 9q1 9 2 16t2-5 2-4 2 5 2 40 2 75 2-9 2-72 2-18 2 2 2-44 2 0 2 87 2 31 2-63 2-25 2-12 2-32 2 97 2 44 2-89 2-27 2 31 2 54 2-38 2-62 2 50 2-11 2-107 2-73 2-26 2 18 2 56 2 106 2 50 2-17 2-24 2-32 2-8 2 34 2 36 2 36 2 17 2-77 2-47 2 28 2 29 2 32 2-11 2-50 2 15 2 39 2-13 2-41 2 19 2 174 2 17 2-137 2-11 2-16 2 92 2 32 2-76 2 7 2-15 2 27 2-16 2-94 2-10 2 62 2 43 2-23 2-61 2-26 2 28 2 32 2 63 2-9 2-19 2-29 2-66 2 12 2 84 2 8 2-101 2-29 2 2 2 26 2 33 2 55 2 14 2-72 2-81 2-66 2-35 2 4 2 39 2 68 2 68 2 16 2 14 2 4 2-28 2 12 2 3 2 18 2 0 2-43 2 38 2 118 2-51 2-144 2-29 2 1 2 35 2 17 2-12 2-7 2 9 2 20 2-10 2 125 2 38 2-133 2-27 2 13 2 12 2 23 2 6 2-23 2-1 2 40 2 0 2-66 2-28 2 13 2 26 2 177 2 76 2-171 2-81 2 37 2-3 2-48 2 26 2 13 2-16 2-9 2-36 2-10 2 31 2 26 2 45 2-4 2-41 2 47 2 76 2-17 2-86 2-19 2 37 2 24 2-23 2-30 2-21 2-37 2-5 2 38 2 34 2 87 2-3 2-74 2 4 2-30 2-34 2 5 2 3 2 70 2 13 2-70 2-39 2-8 2 64 2 15 2 86 2 71 2-127 2-85 2 51 2 138 2-61 2-151 2 2l1 5"/>
<path stroke="#F5AE26" d="M0 324l1-12q1-12 2 22t2 88 2 7 2-63 2 4 2 3 2-35 2 61 2 79 2-76 2-35 2 18 2-31 2-13 2 9 2 21 2-33 2-45 2 50 2 64 2 15 2-34 2-38 2-28 2 18 2 42 2-36 2-28 2-9 2 5 2 44 2-13 2 11 2 34 2-3 2-31 2-65 2-22 2 3 2 35 2 14 2 0 2 1 2-11 2 30 2 39 2-3 2-53 2-32 2 6 2 6 2 7 2 22 2-9 2-14 2 39 2 125 2 18 2-140 2-55 2 70 2 162 2 44 2-79 2-89 2-80 2 35 2 49 2-20 2-16 2 10 2 24 2-12 2-38 2-27 2 45 2 63 2 45 2-18 2-94 2-36 2 101 2 24 2-53 2 55 2 72 2-38 2-109 2-52 2-5 2 22 2-7 2 4 2 24 2 9 2-24 2-18 2 19 2 76 2 22 2-36 2-43 2-62 2 2 2-2 2-55 2-47 2 12 2 63 2 62 2-28 2-53 2 51 2 39 2-33 2 94 2 78 2-95 2-8 2 5 2-79 2 9 2 18 2-6 2 28 2 20 2 10 2-34 2-36 2 7 2 15 2 9 2-30 2-53 2-2 2 88 2 18 2-38 2 45 2 19 2-42 2-40 2-5 2 103 2 23 2-108 2 33 2 22 2-76 2-16 2 39 2 4 2-15 2 0 2-5 2 29 2 51 2 16 2 4 2-2 2-46 2 17 2 15 2-21 2 4 2-43 2-28 2 45 2 58 2 36 2-63 2-53 2 44 2 13 2-36 2 2 2 14 2-9 2-27 2 55 2 17 2-73 2-10 2 17 2 16 2-22 2 0 2 81 2 8 2-50 2 27 2 12 2-12l1-10"/>
<path stroke="#9036A0" d="M0 262l1 0q1 0 2-2t2 103 2 37 2-92 2-25 2-4 2 2 2-11 2-15 2 36 2 7 2-35 2-5 2 10 2 57 2 27 2-54 2-32 2 43 2 6 2 32 2 11 2-46 2-2 2-11 2 80 2 74 2-37 2-96 2-57 2 28 2 63 2 20 2-55 2-39 2 14 2 77 2-35 2 0 2 94 2-50 2-28 2 8 2 49 2-33 2-98 2 10 2 1 2-19 2-5 2 10 2 6 2-13 2-6 2 20 2 13 2 33 2 13 2-47 2-11 2 24 2-15 2-45 2-28 2-11 2 2 2 25 2 26 2 7 2 3 2 48 2 74 2 104 2-96 2-152 2 34 2 44 2 15 2-11 2-19 2-17 2 67 2 81 2-68 2-75 2 0 2-26 2-1 2 39 2-17 2-41 2 18 2 33 2-9 2-23 2 28 2 74 2 29 2-65 2-46 2-8 2-9 2-16 2 8 2 47 2-21 2-30 2 1 2 39 2 76 2-30 2-45 2 51 2 48 2-69 2-80 2 155 2 48 2-105 2-46 2-48 2 42 2 50 2-19 2-35 2 4 2-12 2-2 2 37 2 34 2-24 2-41 2 32 2 15 2-12 2-16 2-49 2 89 2 63 2-101 2-44 2 6 2 1 2 65 2 16 2-37 2-14 2-37 2-13 2 12 2 26 2 22 2-16 2-15 2 122 2 63 2 72 2-29 2-106 2-48 2-90 2 29 2 3 2-25 2 47 2 55 2-24 2-41 2-31 2-18 2-11 2 9 2-2 2-31 2 22 2 22 2 34 2 79 2-18 2-81 2-23 2 17 2 12 2 15 2-10 2-22 2 2 2-8 2 62 2 121 2-29 2-112 2-39l1-10"/>
<path stroke="#74B43A" d="M0 404l1-12q1-12 2-33t2-52 2-31 2 10 2 0 2-17 2-2 2-2 2 2 2 17 2 26 2 106 2 48 2-105 2-84 2-25 2 0 2 4 2-4 2 24 2 24 2 20 2 287 2 3 2-306 2-16 2 24 2-17 2-12 2-2 2-4 2 3 2 7 2-3 2 10 2 99 2-34 2-105 2 42 2 19 2-3 2-28 2 51 2 204 2-34 2-198 2-47 2 6 2 7 2 2 2 2 2-4 2 33 2 70 2-42 2-53 2 52 2 42 2-21 2-53 2-19 2 2 2 23 2 12 2-21 2 39 2 77 2-35 2-88 2-22 2 1 2 73 2 132 2-7 2-57 2-39 2-31 2 28 2 2 2-28 2 6 2 1 2-62 2-33 2 93 2 20 2-79 2 131 2 90 2-130 2-90 2-13 2-6 2-1 2 32 2 24 2-22 2-7 2-4 2-3 2 7 2 22 2 28 2-35 2-30 2 20 2 12 2-19 2-13 2 3 2-6 2 21 2 1 2-26 2 32 2 12 2-29 2-9 2 77 2 12 2-70 2-17 2-9 2 3 2 7 2 14 2 68 2 74 2-70 2-51 2 0 2-47 2 71 2 75 2-60 2-58 2-22 2-10 2 20 2 19 2 59 2 45 2 24 2-30 2-71 2-23 2-22 2 34 2 8 2-38 2 22 2 43 2-24 2-33 2 15 2-18 2-29 2 4 2 21 2-8 2-18 2 23 2 30 2-10 2-36 2-8 2 4 2 28 2 0 2-22 2 41 2 10 2-27 2 11 2 59 2 17 2-43 2-49 2-31 2 12 2 31 2-8 2-30 2 1 2 0 2 5 2 5 2 1 2-4 2 14 2 117 2-8 2-93l1 12"/>
<path stroke="#22B2EA" d="M0 362l1-27q1-27 2-16t2 30 2 30 2 6 2 29 2 16 2-43 2-41 2-21 2-20 2-12 2 18 2 29 2 26 2-9 2 52 2 38 2-18 2-38 2-42 2 72 2-14 2-84 2 51 2 24 2-47 2 8 2 20 2-14 2 73 2 5 2-99 2 16 2 6 2-5 2-14 2-29 2-10 2-20 2-10 2 9 2 80 2 43 2-78 2-45 2 67 2 11 2-45 2 23 2 55 2 3 2-52 2-20 2-4 2-28 2-11 2 43 2 37 2-22 2-33 2-5 2-1 2 27 2 28 2 6 2-2 2-57 2-44 2 33 2 17 2-23 2-2 2 46 2 25 2-25 2-34 2 14 2 35 2 9 2 28 2-26 2-56 2 7 2 157 2 28 2-144 2-27 2 4 2-12 2 20 2 69 2-11 2-70 2-11 2 62 2 40 2-63 2-38 2 6 2 1 2 0 2-11 2 71 2 41 2-48 2-23 2-12 2-11 2 31 2 101 2-8 2-99 2-36 2-8 2-5 2-12 2 20 2 145 2 47 2-106 2-36 2-29 2-5 2-5 2-32 2 12 2 32 2 12 2 73 2 39 2-80 2-2 2 62 2-64 2-84 2 28 2 3 2-28 2 29 2 75 2 0 2-71 2-32 2 28 2 70 2 45 2 17 2-63 2-22 2-5 2-51 2 10 2-5 2 12 2 20 2 5 2 15 2 16 2-2 2-52 2-33 2 13 2-1 2 4 2 40 2-20 2-29 2 40 2 22 2-11 2 4 2-22 2-33 2 12 2 20 2 26 2-19 2-9 2 76 2 110 2-60 2-90 2 21 2-34 2 31 2 7 2-66 2-25 2 7 2 46 2 59 2-40 2-62l1 14"/>
<path stroke="#C41B40" d="M0 282l1 7q1 7 2 44t2 1 2-43 2-11 2 73 2 65 2-55 2-42 2-22 2-22 2 13 2-10 2 17 2 127 2 40 2-96 2-43 2-19 2-31 2 29 2 61 2 12 2-28 2-27 2 15 2 37 2-34 2-49 2 6 2 8 2 16 2 31 2 17 2-19 2-52 2-18 2 24 2-8 2-13 2 35 2 19 2 22 2 13 2 25 2 8 2-65 2-45 2 5 2 71 2-6 2-25 2 41 2-56 2-53 2 9 2-1 2 4 2 5 2 51 2 17 2-45 2-7 2 16 2 24 2 38 2-36 2-71 2-4 2 5 2 30 2 123 2-20 2-120 2 13 2 0 2 65 2 44 2-94 2-46 2 26 2 54 2 7 2-43 2-36 2 15 2 53 2-39 2-51 2 9 2 15 2 36 2 38 2-4 2-33 2-13 2 1 2 28 2 47 2 25 2-14 2-36 2-42 2-29 2 29 2 50 2-15 2-36 2 1 2 35 2 30 2-1 2-21 2-37 2-6 2 88 2 30 2-107 2-10 2 49 2 15 2-26 2-44 2 25 2-1 2-11 2 94 2 52 2-72 2-67 2 1 2-14 2-40 2 52 2-2 2-58 2-1 2 14 2 42 2-2 2 6 2-8 2-53 2 68 2 105 2 13 2-43 2-18 2-27 2-74 2 43 2 139 2-49 2-106 2 21 2 25 2-16 2 25 2 89 2-48 2-92 2-12 2-20 2-15 2-8 2 46 2 63 2-47 2-38 2 45 2-16 2-39 2 45 2 29 2-51 2-38 2 20 2 34 2 10 2 124 2 164 2-109 2-146 2-13 2-20 2-32 2-24 2 58 2 30 2-62 2-27 2 16 2 16 2 13l1 6"/>
<path stroke="#1276C2" d="M0 352l1-4q1-4 2 24t2 35 2-29 2-55 2 4 2 23 2 0 2 37 2-19 2-36 2 88 2 34 2-30 2 50 2 93 2-69 2-96 2 84 2 9 2 56 2 16 2-122 2-55 2-16 2-10 2-11 2 12 2 30 2 29 2-5 2-46 2-42 2 42 2 42 2-16 2 64 2-25 2-125 2-21 2-3 2 33 2 114 2 36 2-124 2-75 2 8 2-2 2-2 2 20 2 12 2 4 2-14 2-22 2 7 2 5 2 35 2 41 2-9 2 30 2 104 2-33 2-71 2 9 2-14 2 13 2-14 2-52 2-34 2-14 2 47 2 52 2-52 2-38 2 12 2-19 2 158 2 75 2-133 2-42 2-21 2 4 2 42 2 17 2 9 2-33 2-28 2 135 2 18 2-128 2 17 2 71 2-25 2-14 2-21 2-11 2 40 2-56 2-61 2 8 2 41 2 48 2-41 2-54 2 31 2 0 2-25 2 30 2 33 2-23 2-33 2 3 2 34 2-7 2-37 2 28 2 47 2-2 2-1 2-14 2-38 2-17 2 43 2 29 2 53 2 5 2 23 2 23 2-114 2-41 2 43 2-2 2-39 2 32 2 30 2-21 2-7 2 35 2-1 2-14 2 140 2-62 2-183 2 4 2 13 2 39 2 10 2-54 2-56 2 11 2 78 2 35 2-20 2 4 2-5 2 45 2 40 2 20 2 139 2 19 2-113 2-107 2-71 2 44 2 49 2-43 2 4 2 33 2-56 2-30 2-2 2 13 2 44 2-9 2-38 2 18 2 57 2 0 2-64 2-11 2 45 2 19 2-4 2-24 2-51 2-4 2 88 2 90 2-57 2 20 2 8 2-90 2 20 2 1l1-21"/>
<path stroke="#EE5A22" d="M0 338l1-7q1-7 2 81t2 113 2-60 2-83 2-21 2-47 2-20 2 10 2 15 2 10 2-17 2-3 2 15 2 44 2 4 2-48 2 39 2 17 2-28 2 101 2 66 2-128 2-105 2-15 2-7 2 66 2 33 2-67 2 9 2 90 2 77 2-20 2-78 2-41 2 27 2 67 2-30 2-8 2 8 2-72 2 10 2 27 2 41 2 13 2-87 2-30 2 36 2-12 2-14 2 12 2-3 2-12 2-22 2-12 2 0 2 27 2 29 2-20 2-17 2 13 2-10 2 16 2 63 2 3 2-9 2 20 2-7 2-5 2-14 2-56 2-67 2-13 2 38 2 35 2 7 2-20 2-22 2 52 2 69 2-31 2-65 2-16 2 54 2 58 2 21 2-38 2-76 2-12 2 34 2 4 2 15 2 50 2-4 2-58 2-37 2-16 2 31 2 50 2-14 2 5 2 2 2-33 2-45 2-44 2 20 2 36 2 4 2 14 2 26 2 112 2 13 2-128 2-21 2 42 2 79 2 76 2-72 2-102 2-21 2-20 2 21 2 20 2 6 2 45 2 28 2-19 2-52 2-46 2 31 2 109 2 15 2-64 2-22 2-31 2 27 2 179 2 56 2-146 2-60 2 9 2-18 2-54 2-20 2 40 2 11 2-7 2 61 2-8 2-78 2 24 2 19 2-28 2-33 2-2 2 69 2 30 2-41 2-20 2 25 2 44 2-23 2-68 2-15 2 22 2 2 2-25 2-9 2 12 2 9 2 2 2 5 2 8 2 4 2-22 2-28 2 10 2 32 2 36 2 28 2-24 2 22 2 18 2-59 2-30 2-5 2 33 2 17 2-8 2-4 2-31 2 15 2 92 2 40l1-17"/>
<path stroke="#F5AE26" d="M0 352l1-9q1-9 2 25t2 55 2-15 2-24 2 53 2-25 2-53 2 10 2-4 2-34 2 208 2 19 2-210 2 28 2 33 2 95 2-9 2-118 2-6 2 63 2-24 2-62 2 14 2 9 2-16 2-29 2 29 2-7 2-38 2 42 2 4 2-35 2 2 2 55 2 50 2-24 2-13 2 68 2-40 2-118 2-19 2 59 2 38 2 21 2 79 2 84 2 19 2-105 2-131 2-7 2 5 2-20 2 67 2 29 2-62 2-28 2 4 2 7 2 27 2 17 2 17 2 78 2 37 2-56 2-66 2-18 2 47 2 24 2-17 2-17 2-40 2-34 2 6 2 54 2 46 2-32 2-60 2-18 2 34 2 9 2-18 2-3 2 8 2-12 2-8 2 11 2-11 2-3 2 4 2-6 2-4 2 16 2 16 2-14 2 8 2 84 2 53 2-74 2-59 2 17 2-11 2-8 2 33 2 18 2 10 2 18 2-31 2-69 2-4 2 18 2-7 2 13 2-13 2-21 2 28 2 54 2 21 2-66 2-40 2 5 2-15 2 31 2 18 2-36 2 42 2 73 2-39 2-60 2 10 2 55 2 58 2-54 2-115 2-20 2 64 2 39 2-25 2 29 2 84 2-45 2-92 2-23 2 13 2 26 2 5 2 16 2 14 2 9 2-6 2-41 2-11 2 40 2 29 2-15 2 1 2 9 2-15 2 26 2 65 2-19 2-95 2-9 2 13 2-21 2-14 2-22 2-6 2 31 2 10 2 18 2 28 2-41 2 13 2 62 2-30 2-3 2 64 2-22 2-75 2 4 2 50 2 15 2-27 2-10 2 42 2-19 2-65 2 50 2 37 2-55 2 19 2 57 2-6l1-20"/>
<path stroke="#9036A0" d="M0 406l1 35q1 35 2 20t2 5 2-39 2-30 2-28 2-38 2 22 2-15 2 52 2 60 2-74 2-51 2 51 2 29 2 17 2-7 2-58 2-40 2 9 2 42 2 0 2-31 2-27 2 13 2 51 2 8 2-64 2-18 2 39 2-47 2-66 2 21 2 63 2 3 2 32 2 75 2-22 2-44 2-3 2 37 2 51 2-41 2-57 2 73 2 86 2-67 2-55 2-2 2-36 2-1 2 49 2 15 2-55 2 14 2 47 2 13 2-23 2-53 2 4 2 14 2-25 2 20 2 23 2-4 2 32 2-12 2-17 2 25 2 48 2 30 2-69 2-40 2 53 2 1 2-60 2-15 2 52 2 10 2-1 2 25 2-35 2-35 2-21 2 15 2 74 2 8 2-71 2 22 2 65 2-23 2-8 2 198 2-84 2-261 2-3 2 32 2 22 2-36 2-13 2 29 2-5 2-11 2 44 2 17 2-35 2-4 2 30 2 24 2-16 2 3 2 23 2-44 2-25 2 40 2 63 2-6 2-96 2-26 2 42 2 2 2 23 2 59 2-12 2-17 2-32 2-22 2 83 2 29 2-68 2-30 2-20 2-42 2 1 2 30 2 6 2 29 2 57 2 4 2-68 2-46 2 66 2 64 2-7 2-32 2-25 2-24 2-21 2-1 2 4 2 91 2 117 2-26 2-105 2 62 2 42 2-108 2-38 2-19 2 19 2 50 2-9 2-43 2-36 2 6 2 19 2-1 2 5 2-12 2-23 2 1 2 45 2 31 2-12 2-8 2-15 2-38 2-29 2-1 2 47 2 211 2-20 2-205 2 7 2 46 2 9 2-39 2-34 2 22 2 72 2 155 2 41 2-133 2-78l1-15"/>
<path stroke="#74B43A" d="M0 278l1 25q1 25 2 22t2-5 2 30 2-30 2-67 2 7 2 15 2 7 2-3 2-19 2-1 2 9 2-8 2-1 2 13 2 27 2 45 2-25 2-55 2 24 2 137 2 109 2-130 2-139 2-8 2 71 2 36 2-39 2 18 2-14 2 25 2 37 2-72 2 118 2 68 2-175 2-63 2 38 2-4 2-31 2-12 2 41 2 37 2 30 2 0 2-74 2-30 2 2 2 47 2 15 2-36 2 3 2-8 2-14 2-3 2-1 2 45 2 53 2 70 2-56 2-108 2-12 2-19 2 9 2 11 2 24 2-7 2-52 2-8 2 39 2 57 2 7 2-40 2-1 2 12 2 48 2 43 2-43 2-58 2 11 2 62 2 13 2-56 2-45 2 36 2 84 2 93 2-37 2-73 2-18 2-54 2 49 2 1 2-71 2 5 2 9 2-7 2-13 2 4 2 41 2-3 2-17 2 31 2-32 2-29 2 19 2-7 2-1 2 1 2-5 2 11 2 51 2 90 2-31 2-80 2 34 2 38 2-20 2-51 2-5 2-8 2-38 2 4 2 3 2 16 2 21 2 34 2 19 2-62 2-42 2 10 2 51 2-5 2-54 2 6 2 37 2 74 2 67 2-20 2-106 2-56 2 54 2 70 2-26 2-82 2-35 2 8 2 22 2-1 2-17 2 63 2 70 2-67 2-2 2 35 2 10 2 25 2-69 2-44 2 11 2-5 2 24 2 11 2 29 2 114 2-60 2-134 2-4 2 43 2 58 2-28 2-48 2-9 2 36 2 15 2-45 2-19 2 2 2 12 2 7 2 30 2 19 2 30 2 12 2-21 2-31 2-49 2 2 2 99 2 48 2-100 2-64 2 5l1 8"/>
<path stroke="#22B2EA" d="M0 332l1-1q1-1 2 69t2-9 2-99 2-20 2 92 2 117 2-31 2-104 2-47 2 4 2 12 2 10 2-14 2 10 2 15 2-38 2-27 2 7 2 25 2 50 2 1 2-54 2-31 2 8 2 49 2 40 2 14 2-28 2-8 2 71 2 31 2-20 2-21 2 37 2-11 2-95 2-28 2 8 2-25 2-1 2 84 2 45 2-64 2-39 2 315 2-7 2-195 2 89 2-116 2-86 2-7 2-8 2-5 2-13 2-13 2-7 2 91 2 25 2-89 2 3 2 61 2 33 2-65 2-53 2 61 2 42 2-47 2-39 2-3 2 5 2 32 2 36 2 47 2-27 2-86 2 0 2 19 2-27 2 37 2 17 2-62 2 34 2 65 2-53 2-10 2 60 2 7 2-19 2-8 2 1 2-50 2-40 2 21 2 24 2 9 2 24 2-21 2-44 2 32 2 64 2 16 2 43 2 28 2 3 2-10 2-73 2 64 2 22 2-114 2-58 2-20 2 6 2 7 2 0 2 15 2 52 2 34 2-40 2-33 2 94 2-7 2-71 2 26 2 0 2-31 2 1 2 71 2-34 2-60 2 46 2 0 2 10 2 8 2-63 2-29 2 29 2 10 2-26 2 0 2 19 2 19 2-2 2-13 2-24 2 19 2 30 2-30 2-28 2-13 2-3 2 2 2 6 2 9 2 4 2 88 2 13 2-90 2 9 2 48 2 9 2-21 2 7 2 41 2 26 2-20 2-42 2-42 2-14 2 6 2 11 2 17 2 29 2 42 2 11 2-54 2-60 2-23 2 74 2 109 2-49 2-80 2-22 2 29 2 38 2-37 2 6 2-4 2-48 2-11 2 9 2 0 2 3 2 34l1 21"/>
<path stroke="#C41B40" d="M0 364l1 21q1 21 2 96t2-30 2-94 2 27 2-5 2 27 2 70 2 120 2-69 2-199 2-25 2 61 2 172 2 57 2-128 2-117 2-15 2 82 2 0 2-31 2 24 2-13 2-33 2-51 2-28 2 124 2 91 2-19 2-73 2-69 2 27 2 19 2-31 2-35 2-27 2 12 2 56 2-1 2-39 2-4 2 44 2-1 2-7 2-10 2-26 2 52 2 16 2-35 2 44 2 13 2-68 2-10 2 31 2-8 2-6 2 64 2 22 2 78 2-8 2-127 2-33 2-41 2-25 2 22 2 40 2 46 2-14 2-9 2 41 2 20 2-3 2-57 2-29 2 25 2 17 2 72 2-11 2-104 2 25 2 38 2-37 2-46 2-26 2 77 2 118 2-20 2-96 2-58 2-15 2 70 2 85 2 34 2 84 2 32 2-42 2-102 2-69 2-4 2-26 2 33 2 57 2-21 2-28 2 18 2 13 2-23 2-75 2-33 2 47 2 59 2 33 2-42 2-62 2-4 2-10 2 10 2 0 2-10 2 19 2-1 2 1 2 18 2-15 2-13 2 49 2 79 2-29 2-87 2 4 2-7 2 39 2 135 2-70 2-87 2 86 2 41 2 119 2 138 2-181 2-231 2-28 2 26 2 44 2 38 2 52 2-47 2-87 2 23 2 65 2 30 2-48 2-70 2-9 2 28 2 3 2 174 2 109 2-171 2-120 2-6 2 27 2 30 2 24 2 15 2 7 2-40 2-20 2 16 2 10 2-39 2-21 2 67 2-1 2-58 2-27 2-1 2 59 2 19 2-46 2-18 2 30 2 0 2-5 2 22 2 2 2 197 2-5 2-233 2-55 2 2 2 37 2 10 2 7l1 18"/>
<path stroke="#1276C2" d="M0 304l1 28q1 28 2 7t2-18 2-22 2-34 2 16 2 14 2-17 2 41 2 36 2 30 2 6 2-78 2-37 2 39 2 10 2-38 2 6 2 12 2-16 2 22 2 59 2-36 2-45 2 30 2-40 2-53 2 37 2 71 2 29 2-13 2-14 2 35 2 40 2-71 2-70 2 24 2 39 2-5 2-26 2 32 2 19 2-10 2-19 2-41 2-6 2 16 2 11 2-4 2-4 2 98 2 14 2-62 2-36 2-60 2 149 2 148 2-124 2-111 2 30 2-23 2-57 2-4 2 59 2 36 2 30 2 83 2-18 2-86 2-12 2-25 2-14 2 16 2-15 2-18 2-18 2 33 2 95 2 43 2-49 2-43 2-46 2-36 2 11 2 36 2-14 2-40 2 2 2 3 2 24 2 57 2 31 2-25 2-41 2-26 2-14 2 31 2 17 2-6 2 5 2 23 2 13 2-39 2 30 2 76 2-24 2-48 2-25 2-31 2-10 2 27 2 16 2-40 2-20 2 20 2 36 2 31 2-37 2-49 2-4 2 52 2 45 2-11 2-7 2-36 2-33 2 9 2 37 2 23 2 6 2-1 2 8 2-12 2-51 2-10 2 8 2 7 2 10 2-15 2 21 2 46 2-17 2-31 2 15 2 50 2 33 2-20 2-47 2-13 2-22 2-28 2 56 2 164 2 49 2-162 2-106 2-21 2 92 2 172 2-109 2-161 2 14 2 10 2 71 2 41 2-40 2-33 2-25 2-3 2-3 2-17 2 27 2 56 2-31 2-63 2-3 2 28 2 41 2 15 2-4 2-15 2-22 2 7 2 1 2-15 2 11 2 14 2 1 2 65 2 42 2-20 2-33 2-50 2-11l1 3"/>
<path stroke="#EE5A22" d="M0 362l1-1q1-1 2-31t2 7 2 93 2-13 2-81 2 8 2-7 2-12 2 67 2 17 2-35 2-8 2-15 2-14 2 22 2 79 2-29 2-67 2-8 2 19 2 86 2-37 2-114 2-19 2 52 2 12 2-21 2 10 2-7 2-24 2-13 2 21 2 27 2 16 2 20 2 2 2-1 2-14 2-45 2-23 2 13 2 16 2 48 2 23 2-63 2-31 2 24 2 43 2 19 2-18 2 42 2 23 2-76 2-65 2-17 2-3 2 56 2 139 2-9 2-125 2-35 2 16 2 2 2 47 2 38 2-52 2 61 2 40 2-109 2-54 2 44 2 42 2-28 2-34 2 1 2 17 2 40 2 28 2-32 2-10 2 65 2 3 2-38 2 44 2-30 2-11 2 70 2-92 2-85 2 16 2-20 2 99 2 55 2-48 2-11 2-4 2 44 2 0 2-50 2-45 2 15 2 80 2 17 2-72 2-32 2 47 2 1 2-23 2 216 2-5 2-224 2 10 2 21 2 16 2 10 2-38 2-6 2 33 2 26 2-13 2-51 2-45 2 3 2 45 2 30 2 17 2-16 2-46 2-3 2 21 2-28 2 3 2 66 2 15 2-46 2-25 2 11 2 37 2 52 2-49 2-85 2-4 2 61 2 28 2-13 2-13 2-25 2-19 2-2 2 42 2 48 2 20 2-11 2-8 2-23 2-46 2-33 2-2 2 19 2 1 2-4 2-9 2-20 2 24 2 41 2 76 2 68 2-70 2-77 2-35 2-6 2 36 2 8 2 35 2 19 2-42 2-32 2-9 2-3 2 11 2 23 2 11 2-11 2-41 2-2 2 14 2-33 2 1 2 25 2 33 2 135 2 87 2-3l1 13"/>
<path stroke="#F5AE26" d="M0 358l1-28q1-28 2-47t2-14 2 5 2 4 2 41 2 42 2 6 2 18 2-16 2 98 2 18 2-133 2-39 2-32 2 34 2 32 2-13 2-7 2-24 2-18 2-9 2-9 2 28 2 35 2 9 2-34 2-24 2 43 2 58 2-22 2-72 2-15 2 1 2 34 2 31 2-23 2-30 2-7 2 22 2-9 2-22 2 33 2 54 2 25 2 33 2-28 2-50 2 4 2 28 2 10 2-59 2-26 2 27 2-3 2 21 2 46 2-56 2-73 2 2 2 33 2-9 2-26 2 13 2-56 2-99 2-42 2 4 2 53 2 92 2 57 2 9 2 15 2 29 2-24 2-43 2 9 2 50 2 66 2-36 2-68 2-13 2 1 2 9 2-7 2-3 2 31 2 25 2 28 2 17 2-11 2-15 2-7 2-2 2 6 2-25 2-34 2 27 2 50 2 25 2-37 2-38 2-16 2 3 2 30 2 23 2 35 2 13 2-53 2-63 2 57 2 138 2-33 2-124 2-31 2 24 2-10 2-41 2-2 2 19 2 11 2 8 2 20 2 8 2 29 2 16 2-17 2-36 2-37 2 36 2 43 2-3 2 39 2 66 2-47 2-80 2-17 2 1 2-28 2-30 2 27 2 64 2 17 2-40 2-41 2-18 2 1 2 78 2 86 2-56 2-96 2 80 2 91 2-72 2-71 2-16 2 15 2 23 2 21 2-9 2-22 2 23 2-18 2-54 2 39 2 26 2-6 2 137 2 35 2-161 2-59 2 42 2 10 2-39 2-6 2 93 2 131 2 113 2-114 2-189 2-35 2-23 2 35 2 102 2 29 2-95 2-53 2 37 2 26 2-9 2-40 2-40 2 69 2 37l1-38"/>
<path stroke="#9036A0" d="M0 384l1-1q1-1 2-64t2-17 2 120 2 45 2-104 2-76 2 12 2-10 2-24 2 16 2 101 2 64 2-83 2-68 2-12 2 38 2 25 2-49 2-20 2 86 2 17 2-56 2 12 2 41 2 0 2-51 2-15 2 18 2 1 2-10 2-9 2 3 2 68 2 52 2-46 2-42 2-1 2-5 2 35 2 8 2-6 2-13 2-50 2-31 2-14 2 45 2 19 2 54 2 66 2 88 2-70 2-32 2 3 2-109 2 44 2-29 2 6 2 32 2-36 2 0 2 5 2-23 2 99 2 31 2-116 2 7 2 8 2-52 2-10 2 27 2 33 2-28 2-21 2-8 2-14 2 50 2 39 2-17 2-27 2 0 2 16 2 31 2 1 2-31 2-34 2-9 2-7 2-21 2 25 2 18 2-27 2 3 2 79 2-4 2-70 2 29 2 138 2-15 2-99 2 0 2-2 2-22 2-17 2 25 2 0 2 0 2 10 2 68 2-1 2-108 2-29 2 33 2 15 2-8 2-6 2 44 2 17 2-15 2-22 2-14 2 30 2 3 2-8 2 10 2 17 2-8 2 17 2 3 2-21 2-16 2-14 2-22 2-37 2 36 2 9 2-13 2-2 2-34 2 3 2 30 2 43 2 16 2 21 2 51 2-2 2-69 2-62 2 3 2 22 2 3 2-17 2 7 2 36 2 101 2-57 2-140 2 6 2 20 2 2 2 16 2 55 2-16 2-51 2-7 2 27 2 26 2 191 2-29 2-197 2 31 2 10 2-19 2-7 2 8 2-17 2 0 2 41 2 45 2-25 2-57 2 19 2 2 2-54 2 14 2 81 2-15 2-64 2 27 2 43 2-20 2 20 2 38 2-30l1-21"/>
</g></g>
<g clip-path="url(#cb)"><g transform="translate(859.18 0) scale(1.53550 0.5)" fill="none" stroke-width="1.10" stroke-linejoin="round">
<path stroke="#1276C2" d="M169 325q1 55 2 210t2 0 2-207M255 272q1 2 2-21t2 87 2 61"/>
<path stroke="#EE5A22" d="M323 453q1-33 2 46t2 85 2-98 2-90"/>
<path stroke="#F5AE26" d="M265 370q1 14 2 103t2 54 2-108 2-108M281 420q1 42 2 156t2-45 2-173M343 383q1 11 2 123t2 16 2-131"/>
<path stroke="#9036A0" d="M73 393q1-15 2 84t2 79 2-51"/>
<path stroke="#74B43A" d="M121 435q1 13 2 106t2-48 2-165M141 357q1 57 2 212t2 7 2-175M185 340q1-4 2 126t2 125 2-106 2-76M337 375q1 35 2 100t2-14 2-60"/>
<path stroke="#22B2EA" d="M243 386q1 68 2 179t2-51 2-163"/>
<path stroke="#C41B40" d="M37 285q1 5 2-15t2-18 2 58M93 263q1-9 2-6t2 7 2 1M197 289q1-13 2-30t2-5 2 29 2 9M241 296q1 10 2-11t2-32 2 54 2 59"/>
<path stroke="#1276C2" d="M93 477q1-11 2 36t2-28 2-55"/>
<path stroke="#EE5A22" d="M3 269q1 1 2-3t2-3 2 10 2 27M207 265q1 1 2 242t2 94 2-186M295 317q1-5 2 250t2-4 2-239M339 329q1 33 2 166t2-1 2-50"/>
<path stroke="#9036A0" d="M0 418l1 85q1 85 2-21t2-135M317 296q1-6 2 230t2 55 2-184 2-17"/>
<path stroke="#74B43A" d="M157 317q1-23 2 60t2 178 2-42 2-149M309 408q1-2 2 91t2-25 2-114"/>
<path stroke="#22B2EA" d="M49 307q1 35 2 133t2 53 2-54 2 129 2-57 2-191M81 303q1 33 2 190t2 13 2-146M99 355q1 9 2 191t2 52 2-88 2-70 2-138M135 363q1 13 2 141t2 63 2-170"/>
<path stroke="#C41B40" d="M53 274q1-4 2-13t2-10 2 6 2 24M67 363q1-25 2-67t2-49 2 37 2 18M83 318q1-66 2-69t2-1 2 17 2 36M121 538q1-76 2-14t2-79 2-158M277 412q1-98 2-130t2-32 2 3 2 53 2 19M315 349q1-47 2 171t2-10 2-215M343 264q1-4 2-7t2 8 2 5"/>
<path stroke="#1276C2" d="M53 349q1 31 2 180t2 28 2-46 2-28 2-53M131 352q1 50 2 113t2 125 2-88 2-163M291 358q1 40 2 196t2 33 2-196 2-54"/>
<path stroke="#EE5A22" d="M121 282q1 10 2 206t2 89 2-135M149 297q1-5 2 115t2 113 2 4"/>
<path stroke="#F5AE26" d="M17 342q1-80 2-82t2 0 2 6M25 265q1-5 2-4t2-5 2-8 2 5 2 7 2 53M43 342q1-14 2-51t2-36 2 32M117 317q1-13 2-36t2-20 2 12M181 264q1-12 2-16t2 6 2 26 2 38M211 310q1-34 2-50t2 41 2 91M273 404q1-38 2 129t2-39 2-198M337 319q1 55 2 156t2-25 2-151"/>
<path stroke="#9036A0" d="M79 321q1 3 2 222t2 10 2-233M151 384q1 82 2 139t2-94 2-85M221 282q1-40 2-35t2 14 2 3M231 325q1 71 2 123t2 169 2-99 2-163M261 415q1 115 2 99t2-71 2-85M293 326q1-36 2-56t2-19 2 1 2 1 2 12 2 42"/>
<path stroke="#74B43A" d="M69 412q1-18 2 35t2 99 2-2 2-29"/>
<path stroke="#22B2EA" d="M41 277q1-9 2 64t2 214 2 49 2-109 2-9 2-6 2-91M231 387q1-33 2 83t2-1 2-133M273 389q1 15 2 150t2 19 2-171M329 334q1 4 2-37t2-42 2 43"/>
<path stroke="#C41B40" d="M295 436q1 72 2 98t2-67 2-86"/>
<path stroke="#1276C2" d="M0 432l1-85q1-85 2-83M63 280q1-6 2 167t2 36 2-151M103 347q1-75 2-85t2-10 2-6 2-6 2 15 2 53M139 279q1-1 2-13t2-14 2 12 2 29M151 347q1-11 2-56t2-34 2 37M197 325q1-3 2-37t2-38 2-1 2 8 2 10M263 304q1-4 2-25t2-25 2-5 2 8 2 54M305 321q1-59 2-65t2-10 2-1 2 41 2 80M341 366q1 62 2 185t2-1 2-193 2 73 2 75 2-72M373 263q1-5 2-10t2 2 2 10"/>
<path stroke="#EE5A22" d="M113 456q1 130 2 132t2-123 2-129M133 354q1 18 2 81t2 81 2-36M227 506q1 54 2 74t2-92 2-145M369 382q1-28 2 149t2 64 2-179"/>
<path stroke="#F5AE26" d="M3 377q1 47 2 150t2-14 2-85M87 299q1 19 2 173t2 20 2-138M121 364q1 34 2 103t2 22 2-38M129 452q1-8 2 39t2 19 2-63M151 377q1 23 2 80t2 34 2-96M187 381q1 11 2 117t2 38 2-61M205 353q1-15 2 164t2-1 2-134M265 365q1 15 2 146t2 187 2-63 2-171 2-35M327 469q1-43 2 20t2 137 2-66 2-121"/>
<path stroke="#9036A0" d="M107 367q1 9 2 75t2 144 2-56 2-137M141 316q1 4 2 129t2 82 2-110M197 461q1 45 2 81t2 26 2-100 2-93M375 439q1 45 2 77t2-11 2-70"/>
<path stroke="#22B2EA" d="M15 340q1-60 2-73t2-4 2 14M125 342q1 52 2 162t2-6 2-144M165 378q1 100 2 198t2-63 2-178"/>
<path stroke="#C41B40" d="M5 294q1-30 2-29t2-3 2 12M353 259q1-1 2-1t2-1 2 4 2 5"/>
<path stroke="#1276C2" d="M3 325q1 7 2 117t2-20 2-127M157 535q1 9 2-5t2-68 2-31M341 336q1 32 2 189t2 34 2-197"/>
<path stroke="#EE5A22" d="M23 399q1 105 2 155t2-25 2-137M101 502q1 34 2 64t2-97 2-166M129 337q1-29 2 175t2 54 2-203 2-66M205 496q1 22 2 54t2-9 2 19 2-96 2-146M239 373q1 73 2 186t2-24 2-185M247 305q1 3 2 168t2 109 2-144"/>
<path stroke="#F5AE26" d="M151 371q1 29 2 100t2-25 2-64M183 425q1 107 2 122t2-60 2-101M361 411q1 83 2 103t2-15 2-95"/>
<path stroke="#9036A0" d="M13 352q1 6 2 138t2 64 2-123M207 446q1 4 2 95t2 0 2-129M365 329q1 17 2 177t2 24 2-203"/>
<path stroke="#74B43A" d="M77 299q1 9 2 176t2 159 2-177 2-151M109 361q1 91 2 134t2 3 2-99M229 386q1 26 2 112t2 11 2-126M251 408q1 10 2 97t2 70 2-95 2-120"/>
<path stroke="#22B2EA" d="M11 395q1-25 2 23t2 90 2-33M63 411q1 41 2 103t2 50 2-131 2-46M365 355q1 29 2 91t2 99 2-56 2-86"/>
<path stroke="#C41B40" d="M45 429q1 125 2 143t2-98 2-107M57 347q1-21 2 110t2 98 2-91 2-72M219 293q1 15 2 73t2 191 2-7 2-124M261 406q1 24 2 128t2 114 2-128 2-146"/>
<path stroke="#1276C2" d="M177 432q1-16 2 56t2-16 2-117M213 401q1 37 2 155t2-29 2-151M265 339q1 3 2 167t2 179 2-149 2-160M279 352q1 16 2 178t2-57 2-189"/>
<path stroke="#EE5A22" d="M21 502q1-94 2-38t2-66 2-100M259 392q1 68 2 169t2-31 2-124M361 353q1 17 2 111t2 16 2-108M373 389q1 19 2 54t2 174 2-82 2-210"/>
<path stroke="#F5AE26" d="M211 446q1 38 2 103t2-83 2-128M255 464q1 116 2 91t2-138 2-110M361 324q1-8 2 179t2 97 2-162 2-77"/>
<path stroke="#9036A0" d="M55 452q1 54 2 116t2-23 2-123M97 366q1-6 2 165t2-7 2-86M299 335q1 19 2 206t2 61 2-183 2-52"/>
<path stroke="#74B43A" d="M97 286q1-10 2-24t2-8 2 19 2 26M213 324q1-44 2-60t2-5 2 37M225 290q1-32 2 164t2 90 2-162M283 297q1 1 2-20t2-17 2 36"/>
<path stroke="#22B2EA" d="M199 357q1 69 2 123t2-22 2-94M341 362q1-4 2 147t2 47 2-115 2-88"/>
<path stroke="#C41B40" d="M3 285q1-15 2-18t2-1 2 34M29 340q1 82 2-2t2-77 2 9M153 325q1 23 2 127t2 135 2-87 2-141M275 264q1 4 2-7t2 1 2 16 2-11 2 1 2 28"/>
<path stroke="#1276C2" d="M171 303q1 3 2 150t2 173 2-116 2-166M241 355q1-45 2 136t2 56 2-163M319 350q1 48 2 163t2 17 2-161"/>
<path stroke="#EE5A22" d="M57 339q1 17 2 147t2 24 2-120M71 485q1-151 2 45t2-9 2-174M177 386q1 14 2 167t2-4 2-165M197 419q1 57 2 117t2-42 2-163M385 502q1 94 2 10l1-84"/>
<path stroke="#F5AE26" d="M105 364q1 28 2 78t2 49 2-56M289 359q1 5 2 109t2 126 2-93 2-120M367 361q1 21 2 81t2 120 2 23 2-116"/>
<path stroke="#9036A0" d="M23 321q1-71 2-70t2 4 2 7 2 22M47 328q1 14 2-35t2-49 2 17 2 41M277 368q1 34 2-52t2-75 2 14 2 33 2 37M381 272q1-12 2-17t2-4 2 112l1 111"/>
<path stroke="#74B43A" d="M179 360q1 52 2 186t2-7 2-154M307 329q1 33 2 129t2-10 2-48M357 343q1 19 2 141t2-17 2-134"/>
<path stroke="#22B2EA" d="M49 411q1-35 2 150t2 14 2-156 2-61M77 281q1-19 2 204t2 52 2-123M231 425q1 65 2 93t2-112 2-139M377 254q1-18 2 179t2 174 2-126 2-123"/>
<path stroke="#C41B40" d="M5 334q1 44 2-28t2-60 2 25 2-1M39 297q1-17 2-30t2-15 2 7 2 59M67 308q1 8 2-23t2-34 2 18 2 30 2-27 2-26 2 22 2 13M113 253q1-17 2 241t2 47 2-223M283 278q1 10 2 160t2 43 2-156 2-56 2-15 2-11 2 50 2 38M307 319q1-33 2-56t2 49 2 56M323 405q1 3 2 159t2-38 2-183"/>
<path stroke="#1276C2" d="M39 256q1-2 2 1t2 40 2 92M239 319q1-23 2-40t2-24 2 6 2 19M313 336q1-68 2-80t2 50 2 27M335 274q1-6 2-15t2-8 2 3M381 361q1 49 2 230t2-23 2-181"/>
<path stroke="#EE5A22" d="M189 350q1 28 2 128t2 138 2-119 2-157M215 342q1-12 2 98t2 109 2-89 2-117M271 563q1-23 2 46t2-93 2-188M305 409q1 55 2 128t2 41 2-150 2-108M369 366q1 16 2 91t2-8 2-113"/>
<path stroke="#F5AE26" d="M19 288q1-14 2-26t2-9 2 30M89 268q1-12 2-16t2-4 2 6 2 39M127 297q1-13 2-27t2-14 2-11 2 232 2 93 2-181 2-65M197 271q1-7 2-5t2-9 2 126 2 167 2-87 2-93M237 360q1-10 2-62t2-50 2 13 2 12M249 258q1 4 2 10t2-8 2-4 2 44M259 306q1-28 2-44t2-13 2 7 2 3M337 358q1 30 2-34t2-74 2 39 2 56"/>
<path stroke="#9036A0" d="M83 316q1-38 2 117t2 89 2-6 2-31 2-120M185 328q1-40 2 217t2 25 2-205"/>
<path stroke="#74B43A" d="M11 361q1-37 2 45t2 78 2-67M21 346q1 24 2 93t2 69 2-9M31 415q1 43 2 58t2-27 2-76M105 418q1 70 2 75t2 96 2-78M219 368q1 40 2 170t2-43 2-181"/>
<path stroke="#22B2EA" d="M27 394q1 58 2 109t2-26 2-72M65 376q1-20 2 137t2 75 2-112M251 369q1 17 2 193t2-11 2-182M355 388q1 22 2 149t2 87 2-115 2-64"/>
<path stroke="#C41B40" d="M57 312q1-24 2-44t2-14 2 26 2 35M81 335q1 29 2 163t2-17 2-194 2-40 2 48 2 38M225 287q1-27 2-33t2 12 2 79M281 292q1-30 2-27t2 4 2-8M295 263q1 7 2-5t2-7 2 47 2 47M317 335q1 29 2 79t2 141 2-8 2-192"/>
<path stroke="#1276C2" d="M49 267q1-13 2-11t2 13 2 23M57 331q1 27 2 163t2-15 2-176M81 357q1 25 2 201t2-15 2-233M265 296q1-32 2-38t2 22 2 48 2-34 2-44 2 20 2 34"/>
<path stroke="#EE5A22" d="M115 375q1-61 2 113t2-26 2-192M201 318q1-64 2-63t2 26 2 40M235 372q1-56 2-87t2-24 2 14M271 426q1 4 2-83t2-90 2 57 2 42M285 341q1 51 2 267t2-76 2-277M315 266q1 4 2-4t2-10 2 9 2 41M351 276q1-20 2-19t2-2 2 2 2 14 2 19M373 400q1-162 2-148t2 15 2 34 2 210 2 31 2-178 2-42"/>
<path stroke="#F5AE26" d="M71 407q1 59 2 117t2-29 2-114M89 370q1 24 2 131t2 16 2-109M177 319q1 41 2 179t2-5 2-124M383 321q1-25 2 68t2 162l1 69"/>
<path stroke="#9036A0" d="M63 430q1-36 2-5t2 168 2 85 2-97 2-101M335 495q1 107 2 31t2-115 2-46M385 515q1 63 2 5l1-58"/>
<path stroke="#74B43A" d="M63 353q1 75 2 190t2-28 2-158M205 298q1-8 2-31t2-13 2 48 2 36M343 340q1 76 2 184t2-56 2-143"/>
<path stroke="#22B2EA" d="M7 311q1 11 2 133t2 76 2-126M283 341q1-71 2-81t2-3 2 36M297 270q1 4 2-5t2-11 2 3M383 311q1 1 2 202t2 81l1-120"/>
<path stroke="#C41B40" d="M11 353q1-15 2 71t2 58 2-30M215 317q1-17 2 170t2 42 2-77 2 161 2-22 2-179 2-64M323 298q1 14 2 274t2 27 2-248"/>
<path stroke="#EE5A22" d="M21 414q1 50 2 108t2-47 2-117M101 313q1-3 2 210t2 19 2-201M247 516q1 14 2 11t2-84 2-92M341 410q1 46 2 121t2-22 2-83"/>
<path stroke="#F5AE26" d="M7 324q1 20 2 195t2 12 2-153M57 364q1 28 2 110t2 51 2-94M109 342q1-2 2 130t2 34 2-113M341 331q1 7 2 94t2 116 2-106 2-138"/>
<path stroke="#9036A0" d="M91 336q1 40 2 167t2 20 2-145M131 335q1-21 2 82t2 1 2-122M211 330q1 52 2 181t2 16 2-163M319 355q1 45 2 168t2-53 2-149"/>
<path stroke="#22B2EA" d="M351 371q1 85 2 130t2-57 2 17 2 110 2-152 2-106"/>
<path stroke="#C41B40" d="M71 318q1-42 2-51t2-1 2 30M145 295q1 1 2 214t2 80 2-208 2-49M255 323q1 29 2 190t2 1 2-191M333 376q1 84 2-14t2-107 2 11 2 22"/>
<path stroke="#1276C2" d="M175 334q1-64 2-72t2-5 2 0 2-2M209 311q1-57 2-55t2 7 2 5M219 330q1-64 2-70t2-5 2 70M269 298q1 40 2 205t2-26 2-197M343 343q1 23 2 193t2-14 2-216M363 268q1-6 2-12t2-2 2 40"/>
<path stroke="#EE5A22" d="M83 366q1-10 2 176t2 99 2-175 2-91M109 366q1-40 2 112t2 33 2-113M185 378q1-26 2 111t2 75 2-88 2-15M307 447q1-47 2 79t2-9 2-134"/>
<path stroke="#F5AE26" d="M29 333q1 53 2-9t2-64 2 23M107 373q1 113 2-12t2-117 2 11 2 22M163 284q1 12 2 189t2 110 2-161M309 351q1 27 2 129t2-24 2-105M381 281q1 17 2 158t2 51 2-154"/>
<path stroke="#9036A0" d="M385 344q1 16 2 92l1 76"/>
<path stroke="#74B43A" d="M207 448q1 86 2 120t2-55 2-143M243 380q1 48 2 121t2-32 2-128M283 428q1 6 2 110t2-20 2-153M383 317q1-41 2-50t2-4l1 5"/>
<path stroke="#22B2EA" d="M157 397q1 7 2 98t2 28 2-129M243 366q1 30 2 159t2 11 2-108M335 432q1 52 2 89t2 59 2-107 2-131"/>
<path stroke="#C41B40" d="M1 415q1-27 2-2t2 147 2 40 2-154 2-70M211 427q1 19 2 134t2 52 2-83 2 53 2-89 2-148M293 330q1 6 2 105t2 95 2-57M323 363q1 5 2 84t2 60 2-42M355 488q1 32 2 53t2 3 2-46"/>
<path stroke="#1276C2" d="M161 323q1 49 2 171t2-15 2-145M195 432q1 46 2 159t2-39 2-176M351 375q1 15 2 82t2 83 2-49"/>
<path stroke="#EE5A22" d="M101 416q1-12 2 4t2 185 2 12 2-173 2 54 2-43 2-144M293 379q1-25 2 123t2 30 2-151"/>
<path stroke="#F5AE26" d="M153 356q1 38 2 141t2-16 2-87M185 364q1 18 2 167t2 28 2-187M361 406q1-92 2 63t2 2 2-162"/>
<path stroke="#9036A0" d="M261 317q1 13 2 142t2 39 2-142M285 310q1 38 2 122t2 161 2-32 2-138 2-27M335 308q1 14 2 210t2 7 2-197"/>
<path stroke="#74B43A" d="M39 313q1 15 2 141t2 66 2-126 2-64M111 374q1-26 2 150t2 80 2-172 2-63M135 502q1 4 2 79t2-13 2-82 2 13M153 338q1 8 2 93t2 120 2-50M181 337q1 27 2 47t2 225 2 0 2-206 2 14M233 465q1 7 2 52t2 19 2-27M349 440q1 32 2 101t2-57 2-133M373 427q1-29 2 104t2 11 2-112"/>
<path stroke="#22B2EA" d="M15 313q1 21 2 181t2-3 2-165M29 270q1-4 2-6t2 5 2 4M89 272q1 0 2 219t2 109 2-210 2-69M165 414q1-22 2-93t2-70 2 5 2 70M225 505q1 73 2-91t2-151 2 8"/>
<path stroke="#C41B40" d="M197 476q1 44 2-102t2-129 2 31 2 22M255 490q1 24 2 106t2-100 2-182M271 344q1 70 2 165t2-56 2-161M331 324q1-6 2-39t2-35 2 14 2 26M367 279q1-21 2-24t2 5 2 15 2 5"/>
<path stroke="#1276C2" d="M75 393q1 9 2 77t2 49 2-86M91 449q1 3 2 70t2-24 2-92M181 395q1 29 2 146t2 125 2-101 2-161 2-79M193 314q1 16 2 120t2 136 2-91 2-148M385 403q1 31 2 75l1 44"/>
<path stroke="#EE5A22" d="M65 367q1-31 2 150t2-23 2-204M281 267q1-7 2-8t2 10 2 3M315 356q1-4 2 156t2-23 2-184"/>
<path stroke="#F5AE26" d="M45 358q1-14 2 143t2 68 2-175 2-91M69 331q1-49 2-61t2-15 2-2 2 2 2 11 2 17M193 268q1 8 2-9t2-15 2 41 2 15M217 319q1 3 2-28t2-36 2 3M233 342q1-28 2-58t2-26 2 35M307 312q1-50 2-56t2-3 2 43M329 318q1-38 2 209t2 57 2-223M337 294q1-34 2-38t2 2 2 21"/>
<path stroke="#9036A0" d="M7 432q1-92 2 34t2-40 2-85M129 392q1-112 2-119t2-22 2 248 2 56 2-210M157 280q1-20 2-24t2 28 2 29M165 291q1-19 2-30t2-9 2 6 2 12M177 314q1-6 2-35t2-34 2 10 2 6 2-9 2 22 2 35M215 282q1 6 2-8t2-22 2 67 2 49M247 270q1-4 2-10t2-7 2 60 2 34M285 268q1 2 2-7t2-7 2 8M311 335q1 51 2 155t2 82 2-127 2-103M375 336q1-72 2-73t2 9 2 7"/>
<path stroke="#74B43A" d="M7 395q1 55 2 67t2 71 2-79M69 331q1 5 2 159t2 24 2-140M119 381q1 35 2 164t2 27 2-150M201 383q1 9 2 38t2 141 2-10 2-163M215 406q1-22 2 97t2 17 2-141"/>
<path stroke="#22B2EA" d="M247 339q1 25 2 103t2 104 2-53M275 375q1 21 2 99t2 96 2-118 2-120M325 308q1-18 2 184t2 98 2-181"/>
<path stroke="#C41B40" d="M93 456q1 2 2 58t2-4 2-75M183 361q1 39 2 109t2 83 2-81 2-117M345 432q1-78 2 159t2-2 2-238 2-12"/>
<path stroke="#1276C2" d="M29 438q1 2 2 95t2-48 2-144M119 386q1-18 2 71t2 5 2-52M143 568q1 14 2-5t2-99 2-92M185 426q1 0 2 55t2 99 2-49M203 348q1 12 2 98t2 14 2-80M301 476q1 80 2 54t2-79 2-93M351 412q1 62 2 91t2 47 2-57 2-77"/>
<path stroke="#EE5A22" d="M5 392q1-14 2 169t2-1 2-144 2 9M73 341q1 29 2 186t2 64 2-152 2-33M251 478q1 110 2 88t2-130 2-94M291 331q1 1 2 186t2 56 2-153 2-36M307 452q1 26 2 33t2 126 2-79 2-206"/>
<path stroke="#F5AE26" d="M125 393q1 69 2 127t2 15 2-55 2-85M209 367q1-23 2 97t2 78 2-119M247 420q1 14 2 96t2 13 2-146M279 379q1-15 2 127t2 5 2-128"/>
<path stroke="#9036A0" d="M91 307q1-45 2-51t2-8 2 13M225 296q1 22 2 210t2 79 2-168"/>
<path stroke="#74B43A" d="M13 352q1 34 2 114t2 7 2-93M85 348q1 42 2 110t2-32 2-102M177 325q1 13 2 66t2 202 2-73 2-215M307 352q1-6 2 111t2 151 2-94 2-129M353 343q1-31 2-60t2-29 2 30 2 43"/>
<path stroke="#22B2EA" d="M77 374q1 52 2 123t2-16 2-83M133 472q1-4 2 96t2-35 2-148M225 389q1-3 2 50t2 143 2 53 2-16M271 371q1 5 2 3t2 156 2 50 2-144 2-53M381 365q1 23 2 81t2 61 2-45"/>
<path stroke="#C41B40" d="M11 388q1-16 2 60t2 42 2 0M201 304q1-2 2 72t2 141 2-63 2-141M225 351q1 103 2 145t2-34 2-141M267 410q1-4 2 45t2 84 2-91M283 403q1 47 2 128t2-33 2-153"/>
<path stroke="#1276C2" d="M0 350l1 145q1 145 2-35t2-151M75 434q1 20 2 110t2 37 2-153M169 406q1 22 2 35t2 80 2-6 2-56M251 267q1-1 2-4t2-1 2 35M381 355q1 47 2 126t2-37 2-141"/>
<path stroke="#EE5A22" d="M35 425q1-13 2 114t2 156 2-163 2-205M159 465q1-23 2 53t2 7 2-56M223 405q1 15 2 103t2 107 2-108 2-98"/>
<path stroke="#F5AE26" d="M167 355q1 45 2 123t2 60 2-105 2-96M303 454q1-6 2 53t2-41 2-70"/>
<path stroke="#9036A0" d="M5 292q1-6 2-17t2-15 2 10 2 40M41 315q1-1 2 39t2 183 2 62 2-65 2-61 2-157 2-74 2 14 2 22 2-6 2-21 2 4 2 24M71 291q1-9 2-18t2-14 2 10M85 268q1 2 2-3t2-8 2-1 2 21 2 0M101 280q1 8 2-10t2-8 2 13M125 386q1 18 2-51t2-79 2 18 2 25M145 307q1-39 2-47t2-12 2-4 2-1 2 1 2 3 2 20 2 15M165 350q1 48 2 235t2-63 2-250M177 335q1 73 2 176t2-52 2-130M215 272q1 0 2-11t2-1 2 30M247 261q1-1 2-9t2-6 2 7 2 21M275 339q1-13 2-39t2-43 2 70 2 59"/>
<path stroke="#74B43A" d="M81 339q1 1 2 130t2 24 2-104M89 420q1 30 2 21t2 133 2-25 2-203M149 295q1-21 2-33t2-11 2 8 2 45"/>
<path stroke="#22B2EA" d="M59 374q1 42 2 109t2 8 2 0 2-56 2-115M83 405q1 23 2 71t2 11 2-92M167 336q1 34 2 91t2 115 2-12 2-59 2 80M189 389q1 43 2 111t2 45 2-98M213 393q1 47 2 129t2-5 2-162M251 439q1 63 2 80t2-78 2-120M263 333q1 19 2 184t2 151 2-42 2-121 2-102M329 363q1 45 2 136t2 4 2-73"/>
<path stroke="#C41B40" d="M33 312q1 16 2 152t2 35 2-61M73 353q1 27 2 131t2-33 2-155M219 303q1 17 2 164t2 153 2-145 2-163M249 305q1-27 2-41t2-12 2 15 2 38M297 460q1-68 2-137t2-66 2 3 2 20M311 422q1 32 2 107t2 15 2-86"/>
<path stroke="#1276C2" d="M59 456q1 12 2 67t2-80 2-137 2 114 2 86 2-42M129 461q1 33 2 26t2 43 2-7 2-108M183 410q1 8 2 30t2 171 2 39 2-202 2-75M205 428q1 28 2 31t2 136 2-61 2-192"/>
<path stroke="#EE5A22" d="M67 354q1 82 2 207t2-58 2-188M97 292q1-44 2-32t2 21 2-2M225 327q1-5 2-36t2-35 2-1 2 8 2 52M291 326q1 8 2-28t2-42 2 4M323 273q1-7 2-12t2-9 2 14"/>
<path stroke="#F5AE26" d="M21 419q1 31 2 169t2-51 2-196M169 308q1-12 2 26t2 189 2 19 2-130 2 25 2 91 2-51M215 430q1 82 2 73t2-78 2-88 2 83 2 230 2-130 2-252 2 223 2 65 2-194M373 373q1-5 2 156t2 31 2-191"/>
<path stroke="#9036A0" d="M35 361q1-67 2-90t2-16 2 30M97 415q1-17 2 124t2 7 2-192M105 369q1 73 2 106t2-31 2-121M115 251q1-5 2-1t2 99 2 254 2-40 2-200M159 382q1-2 2-61t2-66 2-3 2 34 2 70M201 270q1-4 2-12t2-8 2 10 2 1 2-9 2 40 2 103M221 318q1-24 2 111t2 89 2-125"/>
<path stroke="#74B43A" d="M145 367q1 59 2 143t2-39 2-137M155 410q1 60 2 139t2-101 2-165"/>
<path stroke="#22B2EA" d="M3 288q1 18 2-8t2-26 2 6 2 13 2 1M103 311q1-39 2-53t2 4 2 42M113 268q1-8 2-11t2 19 2 77 2 201 2 15 2-210M155 286q1-14 2-21t2-14 2 16 2 18 2-20 2-11 2 14 2 184 2-10 2-183M245 255q1-11 2 148t2 44 2-161 2-34 2 112 2-7 2-104 2 74 2 5M283 304q1-32 2-42t2-13 2 0 2 9 2 11M311 296q1-34 2-39t2 1 2 18M339 257q1 11 2 5t2-6 2 26"/>
<path stroke="#C41B40" d="M11 355q1 75 2 145t2-18 2-92M87 319q1 3 2 116t2 67 2-79M265 429q1 31 2 85t2-67 2-141M275 383q1 13 2 164t2-26 2-180"/>
<path stroke="#1276C2" d="M99 409q1 55 2 81t2 90 2-47 2-116M299 442q1 14 2 89t2-39 2-73 2 131 2-35 2-135M351 363q1 49 2 175t2-15 2-161M375 381q1 59 2 128t2-56 2-132"/>
<path stroke="#EE5A22" d="M115 313q1 45 2 154t2-15 2-141M161 279q1 17 2 95t2 93 2-45M349 373q1 51 2 107t2-80 2-129"/>
<path stroke="#F5AE26" d="M301 469q1 99 2 109t2-58 2-83 2-68"/>
<path stroke="#9036A0" d="M41 387q1-45 2 4t2 122 2-52 2-120M73 345q1-29 2 1t2 129 2 35 2-115 2-40M225 388q1 2 2 99t2 77 2-62 2-73M295 447q1-85 2 17t2 38 2-130M303 352q1 46 2 113t2 7 2-58"/>
<path stroke="#74B43A" d="M0 484l1-57q1-57 2-107t2-56 2-6 2 15 2 14M37 266q1 0 2-9t2-11 2 4 2 19 2 8M55 321q1-39 2-54t2-18 2-5 2 12 2 47M91 351q1-9 2 120t2-12 2-148M109 274q1 0 2-13t2-3 2 31M121 334q1 10 2 109t2 161 2-59 2-174M135 285q1-15 2-20t2-1 2 47M195 388q1 66 2 139t2-72 2-175M213 276q1 4 2-9t2-11 2 49 2 59M249 323q1 7 2-34t2-46 2 9 2 108 2 18M307 407q1 53 2-48t2-105 2 0 2 13M385 337q1 49 2 98l1 49"/>
<path stroke="#22B2EA" d="M343 329q1 51 2 151t2-25 2-131"/>
<path stroke="#C41B40" d="M37 498q1 168 2 66t2-107 2-84M135 411q1 59 2 105t2-1 2-38M193 438q1 42 2 100t2 10 2-124M311 330q1 26 2 120t2-2 2-122"/>
<path stroke="#1276C2" d="M169 370q1 44 2 80t2-10 2-44M253 367q1 37 2 146t2 5 2-135"/>
<path stroke="#EE5A22" d="M39 479q1 85 2 31t2-119 2 33M257 363q1 67 2 148t2-32 2-105M325 355q1 13 2 61t2 158 2-38"/>
<path stroke="#F5AE26" d="M75 403q1 31 2 107t2-33 2-146M105 314q1-4 2 181t2 96 2-177 2-108M169 321q1 47 2 94t2 53 2-56M233 330q1 12 2 205t2 7 2-188"/>
<path stroke="#9036A0" d="M125 380q1-4 2 54t2 152 2-50 2-169 2-47M177 354q1 16 2 201t2 90 2-171 2-131M271 387q1 11 2 88t2-20 2-93M281 444q1-20 2 13t2 119 2-3 2-143 2-99"/>
<path stroke="#74B43A" d="M25 440q1 56 2 77t2-13 2-71M57 368q1 46 2 122t2-13 2-88M89 418q1 44 2 97t2-10 2-95M157 359q1 43 2 152t2-21 2-152M187 299q1 9 2 202t2 26 2-209M213 359q1 9 2 57t2 142 2-77 2-165M243 420q1 92 2 84t2-104 2-113M263 278q1-8 2 133t2 155 2-51 2-64M277 310q1-40 2-40t2 37 2 27M291 409q1-1 2 163t2-17 2-209M337 363q1 27 2 161t2 47 2-141"/>
<path stroke="#22B2EA" d="M21 426q1-40 2 36t2 26 2-116M49 438q1 14 2 78t2-8 2-49M229 451q1-41 2 85t2 89 2-86 2-81M255 399q1 57 2 136t2 5 2-124M293 355q1 23 2 108t2 18 2-118"/>
<path stroke="#C41B40" d="M145 391q1 85 2 152t2-3 2-122 2-101M167 379q1 57 2 86t2 20 2-18 2-58M191 309q1 13 2 140t2 112 2-100M201 414q1 42 2 90t2-51 2-92M257 336q1-28 2 96t2 56 2-62M291 398q1-2 2 92t2 31 2-116"/>
<path stroke="#1276C2" d="M23 368q1 48 2 133t2 26 2-104M69 434q1-18 2 118t2 3 2-199 2-56M245 301q1-13 2 131t2-1 2-149M363 328q1 34 2 112t2 180 2-70 2-190"/>
<path stroke="#EE5A22" d="M3 381q1 23 2 130t2 118 2 61 2-86 2-194 2-77M37 493q1 27 2 25t2 23 2-68 2-123M105 410q1 36 2 54t2 8 2-69M129 369q1 41 2 90t2 103 2-38 2-133 2-54M197 412q1 66 2 101t2-17 2-77M207 358q1 6 2 59t2 151 2-37 2-159M321 386q1 68 2 124t2 50 2-81 2-92M345 419q1 13 2 58t2 76 2-62 2-90"/>
<path stroke="#F5AE26" d="M43 324q1-26 2-48t2-7 2 19M193 284q1 0 2-10t2-17 2 0 2 66 2 63M259 298q1-10 2-31t2-3 2 13M275 318q1-18 2-41t2-23 2 15M307 314q1-38 2-54t2-6 2 16 2 18"/>
<path stroke="#9036A0" d="M15 270q1-6 2-6t2 7 2 15 2 146 2-12 2-50M55 277q1-23 2-21t2 46 2 15M91 455q1 95 2 52t2-109 2-69M101 326q1-58 2-68t2 3 2 6 2-12 2 9 2 6M123 264q1-10 2-10t2 0 2 6M135 293q1-29 2-34t2-6 2 4 2 14M201 313q1-43 2-54t2-1 2 62 2-3M253 321q1 51 2-1t2-65 2-11 2 9 2 6 2 71 2-1 2-81 2 1 2 19 2 13M315 356q1-50 2-76t2-22 2 49M323 316q1-36 2-53t2-16 2 8 2 18M339 280q1-18 2-21t2 1 2-6 2-7 2 45 2 51M371 271q1-5 2-9t2-19 2 147 2 56"/>
<path stroke="#74B43A" d="M7 420q1-6 2 54t2 75 2-50 2-51M301 403q1 79 2 133t2-88 2-114M333 366q1 10 2 162t2-4 2-197M383 350q1-54 2 108t2 18l1-144"/>
<path stroke="#22B2EA" d="M27 351q1 13 2 97t2-2 2-100M245 424q1 22 2-6t2 136 2 65 2-180 2-85M279 443q1 67 2 103t2-62 2-108M307 307q1-1 2 218t2 115 2-152 2-91M381 423q1 51 2 77t2-80 2-97"/>
<path stroke="#C41B40" d="M105 395q1 25 2 107t2-30 2-121"/>
<path stroke="#1276C2" d="M5 385q1 43 2 154t2-46 2-173M303 361q1 15 2 90t2-10 2-99"/>
<path stroke="#EE5A22" d="M179 327q1 33 2 143t2 53 2-139M199 453q1 49 2 27t2-111 2-97M329 308q1-34 2-44t2-7 2 10M347 340q1 26 2 171t2 102 2-153 2-158 2-43 2 23 2 20"/>
<path stroke="#F5AE26" d="M149 352q1 2 2 131t2 116 2-118 2-150M335 373q1 79 2 146t2-66 2-65"/>
<path stroke="#9036A0" d="M29 407q1 37 2 86t2 18 2-82M81 355q1 17 2 211t2 23 2-64 2-63 2-161M337 332q1-70 2-76t2-2 2 103"/>
<path stroke="#74B43A" d="M51 305q1 9 2 22t2 240 2-23 2-166M187 324q1 8 2 252t2-30 2-262 2 45M215 372q1 58 2 141t2-22 2-111"/>
<path stroke="#22B2EA" d="M133 384q1 38 2 134t2-48 2-128M161 348q1-2 2 82t2 143 2-52 2-127M207 420q1-36 2 32t2 42 2-100M257 476q1 36 2 69t2-1 2-80 2-44"/>
<path stroke="#C41B40" d="M239 438q1 6 2 97t2-42 2-128M283 354q1-18 2 160t2 48 2-138 2-15M351 289q1 13 2 194t2 60 2-133M361 374q1 16 2 114t2 166 2-117 2-175"/>
<path stroke="#1276C2" d="M15 404q1-28 2 69t2 73 2-71M53 305q1 3 2 166t2 98 2-131 2-95M161 471q1-19 2 118t2-62 2-199M247 328q1-4 2 86t2 8 2-116M255 297q1 25 2 248t2 14 2-212M353 408q1-16 2 2t2 204 2 3 2-245 2-75"/>
<path stroke="#EE5A22" d="M33 347q1 13 2 115t2 155 2-94 2-149M117 348q1-8 2 135t2 90 2-102 2-22M207 325q1 39 2 137t2 75 2-15"/>
<path stroke="#F5AE26" d="M73 451q1 85 2 74t2-87 2-101M121 441q1-7 2 83t2 46 2-125 2-78M205 474q1 60 2 64t2 77 2-78 2-81 2 33M235 427q1 39 2 76t2 18 2-75"/>
<path stroke="#9036A0" d="M0 450l1-35q1-35 2-42M27 315q1-5 2 101t2 76 2 3 2-2 2-76M179 339q1 27 2 161t2 48 2-137 2-23M247 349q1 7 2 74t2 141 2-52"/>
<path stroke="#74B43A" d="M41 398q1-14 2-54t2 135 2 38 2-145M67 388q1-28 2 80t2 116 2-149 2-135M169 384q1 22 2 100t2 177 2-129 2-209M193 306q1-20 2 124t2 180 2-109 2-115M311 497q1 35 2 11t2-105 2-95M375 424q1 30 2 128t2-47 2-157"/>
<path stroke="#22B2EA" d="M267 433q1 11 2 141t2 39 2-182 2-75"/>
<path stroke="#C41B40" d="M265 336q1 12 2 223t2-10 2-237M289 273q1-13 2-13t2 0 2 82M297 443q1 19 2 36t2 59 2-112 2-59"/>
<path stroke="#1276C2" d="M15 279q1-13 2-18t2-1 2 3 2-3M47 321q1-53 2-65t2-7 2 28 2 56M59 289q1-13 2-23t2 6 2 9M133 389q1 47 2-45t2-92 2-2 2-4 2 2 2 16 2 17M149 282q1-4 2-12t2-5 2-3M177 355q1-37 2-69t2-31 2 2M285 347q1-15 2 78t2 16 2-19"/>
<path stroke="#EE5A22" d="M131 425q1 47 2 33t2-84 2-61M331 365q1 63 2 146t2-16 2-113M343 440q1-14 2 32t2 48 2-101M383 388q1 8 2 83t2 113l1 38"/>
<path stroke="#F5AE26" d="M113 343q1 11 2 95t2 91 2-66 2-50M135 451q1 103 2 74t2 68 2-72 2-158M191 395q1-3 2 165t2-14 2-181M253 347q1-35 2 116t2 95 2-141 2-53M289 381q1 3 2-21t2 208 2 9 2-244 2-26M333 474q1 88 2 41t2-73 2-33"/>
<path stroke="#9036A0" d="M193 383q1 55 2 214t2-58 2-239M261 270q1-2 2-6t2-7 2 1 2 35M313 330q1-30 2 145t2 84 2-202 2-106 2 18 2 182 2 6 2-165"/>
<path stroke="#22B2EA" d="M15 418q1-40 2 71t2 8 2-106M113 342q1 18 2 116t2-26 2-122M125 377q1 15 2 112t2 22 2-128 2-22 2 131 2 28 2-122M173 329q1 21 2 56t2 123 2 11M231 310q1 22 2 210t2 54 2-183 2-60M243 379q1 33 2 106t2-44 2-84"/>
<path stroke="#C41B40" d="M95 362q1 20 2 110t2 22 2-134M147 455q1 93 2 58t2-105 2-89M201 413q1 33 2 55t2 62 2 31 2-41 2-76M357 397q1-63 2 77t2 69 2-144 2-57"/>
<path stroke="#1276C2" d="M73 349q1 21 2 145t2 13 2-126M153 403q1-57 2 76t2 21 2-96M167 310q1-6 2 82t2 95 2-2 2-60M191 369q1-21 2 114t2 9 2-97M339 524q1 80 2 23t2-50 2-19M375 447q1-21 2 55t2 20 2-49 2-41"/>
<path stroke="#EE5A22" d="M11 420q1 76 2 121t2-4 2-10 2-71 2-149M35 378q1 24 2 41t2 135 2 47 2-40 2-22M139 349q1-45 2 175t2 12 2-212M181 404q1 2 2 62t2-11 2-61M193 353q1 21 2 184t2 45 2-152M251 406q1 20 2-3t2 185 2 9 2-223 2-20M271 356q1 8 2 123t2 20 2-114M283 342q1 28 2 66t2 147 2-56 2-163M369 359q1 27 2 199t2 57 2-149 2-109"/>
<path stroke="#F5AE26" d="M41 329q1 63 2 161t2 155 2-26 2-179 2-129M53 272q1-6 2-15t2-4 2 17 2 7M95 312q1-40 2-46t2-14 2-7 2 28 2 81M111 307q1-49 2-56t2 10 2 29M137 290q1-8 2-21t2-10 2 2M149 282q1-30 2-26t2 3 2 6M169 375q1-99 2-117t2-13 2 11 2 31M183 389q1 37 2 143t2-26 2-183M239 368q1-82 2-103t2-17 2 17 2-1 2-9 2 21 2 29M283 455q1-9 2 44t2-86 2-111M345 313q1 55 2 197t2-4 2-159"/>
<path stroke="#9036A0" d="M19 419q1 39 2 104t2-53 2-125M71 350q1 10 2 40t2 129 2 16 2-104 2-37M257 449q1 67 2 51t2-89 2-86M381 393q1 9 2 74t2 37 2-62l1-34"/>
<path stroke="#74B43A" d="M0 354l1 99q1 99 2-11t2-140M47 267q1-9 2-12t2 5 2 24M173 259q1-5 2-5t2 10 2 12M205 310q1 48 2 52t2 177 2-26 2-211M229 289q1-27 2-28t2 5 2 8M301 356q1-64 2-87t2-14 2 57M323 302q1-46 2-47t2 6 2 63M357 303q1-3 2-25t2-23 2 13"/>
<path stroke="#22B2EA" d="M9 296q1-42 2-42t2 10 2 6 2-8 2-2 2 22M79 300q1-24 2-38t2-1 2 20M93 265q1 1 2-7t2-8 2 73M127 261q1 3 2 0t2-5 2 66M175 333q1-67 2-71t2 0 2 13M299 308q1-40 2-49t2 0 2 38 2 27M347 351q1-103 2-96t2 58 2 49"/>
<path stroke="#C41B40" d="M69 449q1-69 2 45t2-56 2-165M117 303q1-39 2 119t2 134 2-68 2-90M271 286q1 24 2 71t2 237 2-9 2-241 2-45M283 303q1 7 2 228t2 121 2-212 2-139"/>
<path stroke="#1276C2" d="M107 280q1-4 2 141t2 77 2-117M121 343q1 35 2 149t2 11 2-152M191 360q1 14 2 158t2-28 2-163M205 342q1-20 2 61t2 100 2-68 2 33 2 64 2-85"/>
<path stroke="#EE5A22" d="M7 387q1 35 2 123t2 108 2-70 2-115 2-51M89 365q1 31 2 116t2 16 2-108M115 429q1 29 2 76t2 21 2-106 2-74M173 332q1 26 2 179t2 3 2-162M193 459q1 61 2 72t2 15 2-72 2-94M203 387q1 25 2 45t2 140 2-57 2-189 2 40M241 361q1 19 2 78t2 142 2-35 2-135 2-12M259 382q1-2 2 50t2 154 2-55 2-160M325 352q1-4 2 179t2 12 2-162M359 417q1-3 2 59t2 39 2-96M375 378q1 14 2 120t2 74 2-64 2-81 2-74"/>
<path stroke="#F5AE26" d="M87 285q1-13 2-21t2-12 2 14M137 373q1 17 2-46t2-81 2 166 2 69 2-161M187 297q1-41 2-44t2 7 2 24M219 360q1 52 2 169t2-48 2-98M305 275q1-15 2-18t2 8 2 1"/>
<path stroke="#9036A0" d="M11 353q1 29 2 106t2-41 2-97M67 383q1 35 2 139t2-53 2-179M79 311q1 15 2 77t2 218 2-57 2-105 2 31M193 302q1 42 2 274t2 34 2-193M223 346q1 24 2 196t2-23 2-222M315 377q1 15 2-53t2-69 2 7 2 5"/>
<path stroke="#74B43A" d="M29 279q1-9 2-13t2-9 2-10 2-3 2 15 2 15M99 301q1 17 2 158t2 48 2-172M109 274q1 2 2-8t2-13 2-5 2 2 2 53 2 104M123 368q1-94 2-107t2-11 2 25 2 16M151 306q1-6 2 76t2 148 2-2 2-68M167 348q1 90 2 178t2-69 2-163M177 268q1 6 2-4t2-13 2 0 2 14M269 332q1-24 2 188t2 14 2-194M299 285q1-7 2-22t2-19 2-4 2 13 2 39M327 305q1 21 2-16t2-37 2 107 2 42M361 266q1-14 2-15t2 2 2 1 2 52 2 105"/>
<path stroke="#22B2EA" d="M15 325q1-21 2 112t2 20 2-135M45 373q1 21 2 159t2-20 2-186M75 398q1 40 2 12t2 173 2-14 2-191M193 415q1-17 2 36t2 34 2-43M265 316q1 6 2 196t2 118 2-160 2-98M343 320q1 50 2 84t2 159 2-36 2-150"/>
<path stroke="#C41B40" d="M19 304q1-32 2-38t2-10 2 10 2 66M75 280q1-8 2-17t2-8 2 26 2 45M99 299q1-21 2-38t2 3 2 35M125 269q1-15 2-14t2 73 2 33M151 260q1 18 2 4t2-12 2 11 2 14 2-7 2-7 2 17M181 286q1 36 2 176t2-28 2-165 2-2 2 84 2 73M219 267q1-1 2-8t2 61 2 84M247 347q1 1 2 69t2 149 2-62 2-196 2-57 2-1 2 61M265 310q1-40 2-45t2-7 2 7 2 18M305 260q1 6 2 6t2-13 2-4 2 24 2-1M347 275q1-11 2-14t2-1 2 1M371 346q1-42 2 147t2 101 2-192 2-109"/>
<path stroke="#1276C2" d="M197 314q1-6 2 124t2 140 2-72 2-40 2 139 2-33 2-185 2-61M215 341q1 21 2 159t2-21 2-144M243 390q1 56 2 87t2-40 2-60"/>
<path stroke="#EE5A22" d="M91 261q1-1 2-7t2 3 2 60 2 20M113 288q1-14 2-26t2 3 2 38M133 305q1 19 2 145t2 70 2-165 2-94 2 27M185 465q1-75 2-146t2-68 2 16 2 164"/>
<path stroke="#F5AE26" d="M69 377q1 39 2 117t2 30 2-97 2-61M83 402q1-12 2 42t2 60 2-41 2-44M235 334q1 20 2 107t2 82 2-21M251 376q1 26 2 102t2 10 2-45M311 431q1 41 2 63t2 77 2-80 2-126M325 364q1 32 2 126t2 20 2-132"/>
<path stroke="#9036A0" d="M7 309q1 17 2-20t2-37 2 8 2 25M263 351q1 15 2 131t2-22 2-97M271 358q1-46 2-69t2-30 2-4 2 8 2 21M287 288q1-12 2-24t2-11 2 13 2 39M299 319q1-1 2-32t2-27 2 8"/>
<path stroke="#74B43A" d="M101 411q1-3 2 98t2-40 2-152M109 399q1 93 2 132t2-57 2-101M185 362q1 16 2 179t2-43 2-227M203 294q1 24 2-5t2-31 2 20 2 10M281 266q1-10 2 169t2 61 2-176M301 352q1 18 2 49t2 145 2-65 2-133M323 362q1-60 2 121t2 31 2-75M375 293q1 5 2-14t2-21 2 68"/>
<path stroke="#22B2EA" d="M1 270q1 12 2 81t2 145 2-71 2-142M223 286q1-14 2-26t2-9 2 14M239 277q1-11 2-16t2-7 2 4 2 55 2-6M277 297q1-27 2-34t2 1 2 37M287 373q1 101 2 111t2-74 2-62M357 278q1-6 2-10t2 13 2 49M385 276q1 4 2-9l1-13"/>
<path stroke="#C41B40" d="M0 456l1-54q1-54 2-45M37 277q1 1 2-12t2-12 2 18 2 22M97 310q1 38 2 92t2 146 2-24 2-182 2-70M171 327q1 7 2-29t2-41 2 6 2 14 2 10M279 402q1 58 2 191t2-13 2-231 2-89 2 19 2 28"/>
<path stroke="#1276C2" d="M39 389q1 23 2 49t2 107 2 14 2-132M91 414q1 2 2 15t2 95 2 0 2-61M161 316q1 18 2 183t2 67 2-150M215 456q1-58 2-36t2 108 2-10M257 466q1 14 2 115t2-57 2-176M273 399q1 75 2 105t2-47 2-95M361 389q1 83 2 134t2 0 2-5"/>
<path stroke="#EE5A22" d="M77 372q1-28 2-77t2-39 2 12 2 27 2 43M151 388q1-38 2 68t2 56 2-65M207 300q1 4 2-19t2-27 2 14 2 42"/>
<path stroke="#F5AE26" d="M77 406q1-6 2 28t2 76 2-57M151 386q1 10 2 77t2 20 2-7 2 86 2-65 2-131M219 372q1 22 2 132t2 64 2-76 2-75M283 445q1 79 2 73t2-55 2-77M319 373q1-9 2 81t2 25 2-87"/>
<path stroke="#9036A0" d="M37 269q1 1 2 126t2 69 2-71M199 299q1 5 2 121t2 67 2-118M301 342q1-48 2 95t2 22 2-141 2-41 2-19 2 0M337 365q1 41 2 141t2 29 2-163"/>
<path stroke="#74B43A" d="M385 354q1 38 2 63l1 25"/>
<path stroke="#22B2EA" d="M65 371q1-67 2 70t2 95 2-111 2-67M75 392q1 32 2 75t2-36 2-62 2 111 2-39 2-154M117 376q1 48 2 109t2-12 2-118M133 448q1 36 2 20t2-49 2-85M151 366q1 68 2 152t2-60 2-162M243 423q1-33 2 65t2 56 2 12 2 15 2-131 2-94"/>
<path stroke="#C41B40" d="M117 370q1 58 2 146t2-10 2 16 2 39 2-152M157 451q1 3 2-32t2 37 2 71 2 25 2-18 2-130M187 345q1 23 2 60t2 174 2-64 2-217M217 425q1-143 2 46t2-18 2-76M335 297q1 29 2 194t2-26 2-189M345 281q1 5 2 124t2 120 2-102 2-83M385 290q1 8 2 114l1 106"/>
<path stroke="#1276C2" d="M45 376q1-34 2 84t2 54 2-88M69 337q1-1 2 103t2 90 2-66 2-41M81 335q1-9 2 104t2 87 2-99 2-91M139 352q1 4 2 80t2 122 2-52 2-108M181 404q1 14 2 92t2-25 2-98M201 398q1 34 2 63t2-35 2-95M211 320q1 18 2 123t2 79 2 93 2 34 2-166 2-133M267 414q1 54 2 64t2-54 2-77M277 431q1 29 2 77t2 22 2-75M357 448q1 28 2 118t2 90 2-103 2-140M383 411q1-27 2 32t2 71l1 12"/>
<path stroke="#EE5A22" d="M0 436l1 105q1 105 2-27t2-94M23 344q1 24 2 92t2 132 2-64 2-141M85 425q1-13 2 10t2 75 2-1 2-68M107 407q1 29 2 92t2-19 2-58M139 411q1 35 2 3t2 127 2 59 2-80M149 499q1-41 2-14t2 83 2-60 2-132M245 338q1-4 2 103t2 153 2-88 2-115M255 413q1 3 2 82t2 3 2-114M347 380q1 20 2 73t2 87 2 20 2-69 2-3M359 511q1-29 2 15t2-47 2-99M371 351q1 27 2 227t2 117 2-199 2-80"/>
<path stroke="#F5AE26" d="M3 273q1-3 2-7t2-8 2 33 2 56M25 272q1-2 2-13t2 41 2 57M111 339q1 83 2-1t2-89 2-4 2 1 2 10 2 20M139 301q1-19 2-32t2-15 2 5 2 18M195 282q1-4 2-16t2-12 2 28 2 99M221 347q1 79 2 126t2 55 2-64 2-152 2-66 2 44 2 15M275 361q1-1 2-54t2-45 2 46M309 343q1-19 2-57t2-36 2 4 2 91 2 47 2-92 2-48 2-8 2 188 2 86 2-146M349 295q1 25 2-13t2-23 2 23M375 275q1 13 2 2t2-15 2-6"/>
<path stroke="#9036A0" d="M19 371q1 5 2 152t2-20 2-189M59 465q1 47 2 28t2-71 2 2M331 336q1-52 2 36t2 174 2-77 2-180M359 393q1 39 2 116t2 109 2-88 2-161"/>
<path stroke="#74B43A" d="M289 311q1 31 2 164t2 5 2-125M323 443q1 43 2 88t2-98 2-143"/>
<path stroke="#22B2EA" d="M141 300q1 40 2 108t2 5 2 4M231 265q1-1 2-11t2 23 2 21 2-29 2 0 2 19"/>
<path stroke="#C41B40" d="M47 335q1-5 2 93t2 130 2-119 2-161M59 425q1 35 2 89t2 16 2-66M73 368q1 44 2 93t2-8 2-76M113 413q1 23 2 78t2 32 2-82M157 359q1 7 2 11t2 210 2-16 2-231M167 322q1-2 2 108t2 45 2-88M211 412q1 12 2 66t2 61 2-90 2-106M255 366q1-22 2 70t2 133 2-84 2-149M363 327q1-9 2 107t2 158 2-70 2-132"/>
<path stroke="#1276C2" d="M65 384q1-32 2 101t2-12 2-176M111 295q1 7 2 215t2 42 2-226 2-56M137 321q1 27 2 136t2 28 2-110M165 321q1 21 2 198t2 24 2-199M237 385q1 103 2 48t2 88 2 8 2-137 2-54M325 384q1 32 2 127t2-78 2-163"/>
<path stroke="#EE5A22" d="M31 411q1 5 2 91t2-4 2-112 2-31M77 334q1 20 2 149t2 14 2-129M99 322q1-34 2 104t2 121 2-94 2-92M147 374q1 30 2 126t2 18 2-66M211 469q1-15 2 18t2-53 2-52"/>
<path stroke="#F5AE26" d="M35 421q1 11 2 128t2-17 2-160 2-41M47 465q1 37 2 43t2 14 2-58M141 492q1-98 2 18t2 28 2-146 2-62M219 381q1 3 2 209t2 41 2-85 2-33 2-130 2-2M241 360q1 78 2 129t2 36 2-101 2-96M267 359q1 11 2 78t2 29 2-25"/>
<path stroke="#9036A0" d="M37 280q1-8 2-14t2-11 2 4 2 49 2 34M51 390q1 30 2 119t2-70 2-157M61 302q1-20 2-36t2-8 2 43 2 44M117 284q1-8 2-19t2-6 2 7 2 1M173 305q1 11 2 107t2 104 2-63M197 302q1-42 2-37t2 37 2 2 2-39 2 20 2 83M211 427q1 5 2 60t2-53 2-123M221 295q1-23 2-33t2-2 2 53M257 269q1-15 2-11t2 7 2 25M285 274q1-8 2-12t2 11 2 96M301 275q1-7 2-9t2 11 2 7M333 282q1-18 2-17t2-7 2 99 2 118M371 288q1-26 2 83t2 231 2-79 2-210"/>
<path stroke="#74B43A" d="M71 394q1 2 2 90t2 41 2-120 2-85M189 355q1-17 2 114t2 61 2-89 2-4 2 40 2 46 2-74 2-110M225 373q1 37 2 73t2 97 2 64 2 27 2-131 2-182M297 400q1-76 2 31t2 134 2-65 2-129M317 364q1-32 2 17t2 79 2-30"/>
<path stroke="#22B2EA" d="M1 392q1-30 2 6t2 47 2-34M11 456q1 38 2 47t2 34 2-100 2-113 2 98 2 118 2-95 2-139M93 391q1 49 2 97t2 27 2-101M243 390q1 30 2 59t2 1 2-58"/>
<path stroke="#C41B40" d="M9 392q1 0 2 82t2-23 2-84M19 396q1 36 2 109t2-58 2-131M41 367q1-5 2 11t2 132 2 116 2-23 2-54 2-76 2-44M115 422q1-26 2-20t2 173 2-31 2-200M189 403q1-9 2 71t2 152 2-31 2-145 2-20M351 311q1 11 2 117t2 63 2-63"/>
<path stroke="#1276C2" d="M189 391q1 39 2 89t2-26 2-67M235 304q1 4 2 79t2 80 2 37 2-49M319 411q1-15 2 136t2 37 2-166 2-31 2 118 2 144 2-133 2-193"/>
<path stroke="#EE5A22" d="M83 317q1-5 2 74t2 111 2-6 2-6 2-58M115 382q1 48 2 72t2-55 2-61M237 340q1 48 2 97t2-24 2-50M353 330q1 36 2 196t2 28 2-177"/>
<path stroke="#F5AE26" d="M0 344l1 108q1 108 2 1t2 19 2 119 2-97 2-139M29 339q1 13 2 80t2 113 2-95M349 346q1 0 2 115t2 52 2-81M377 323q1 25 2 113t2-15 2-128"/>
<path stroke="#9036A0" d="M161 320q1-6 2 155t2 47 2-92M265 427q1 17 2 95t2-5 2-109 2-26M345 493q1-15 2 55t2-42 2-107M355 426q1-44 2 4t2 174 2 38 2-182 2-141M377 376q1 6 2 113t2-42 2-141"/>
<path stroke="#74B43A" d="M81 321q1 13 2 217t2 95 2-147 2-87M161 373q1 3 2 107t2 23 2-1M197 316q1-40 2 197t2 165 2-198 2-113M333 431q1-117 2 4t2 43 2-106"/>
<path stroke="#22B2EA" d="M63 380q1 60 2 106t2-20 2-59M139 405q1 11 2 73t2 121 2 22 2-169 2-131M157 399q1 45 2 52t2-10 2-38M203 416q1 52 2 43t2-40 2-34M261 351q1 25 2 111t2-3 2-104M285 339q1 5 2 68t2 77 2 4"/>
<path stroke="#C41B40" d="M7 310q1-36 2-42t2-10 2 28M91 289q1-25 2-21t2 38 2 12M105 317q1-23 2-42t2-11 2 36M121 280q1-10 2-16t2-15 2 42 2 70M145 347q1-25 2 109t2 32 2-163M173 266q1-8 2-14t2 5 2 30 2 23M273 285q1-3 2-15t2 20 2 84M333 328q1 38 2 152t2 75 2-114 2-94"/>
<path stroke="#1276C2" d="M119 439q1 7 2 102t2-48 2-124M209 305q1-17 2 26t2 193 2 26 2-194M231 335q1 1 2 190t2 32 2-197 2-7M357 392q1 30 2 99t2 1 2-98"/>
<path stroke="#EE5A22" d="M91 369q1 55 2 109t2-49 2-97M125 374q1-6 2 30t2 145 2 36 2-165 2-98M189 472q1 6 2-8t2-81 2-61 2 164 2 44 2-160M215 370q1-14 2 58t2 25 2-74M231 400q1 36 2 17t2 71 2-12"/>
<path stroke="#F5AE26" d="M25 336q1-86 2-88t2 11 2 18M59 315q1 57 2 122t2 137 2-82 2-185M83 267q1-9 2-13t2 47 2 55M139 316q1-6 2-32t2-27 2 22M199 290q1 20 2 235t2-13 2-219M221 323q1 45 2 170t2-20 2-172M229 291q1 17 2 254t2-19 2-212M241 291q1-15 2-24t2-3 2 14M249 293q1 7 2-13t2-28 2 7 2 39M259 299q1-23 2-28t2 3 2 14M273 308q1-30 2-40t2-17 2-5 2 19 2 18M295 267q1-5 2-11t2 2 2 34M303 349q1 31 2 86t2 85 2-13 2-98 2-100M327 399q1 109 2-20t2-123 2 13 2 20M381 265q1 11 2-1t2-14 2 13l1 15"/>
<path stroke="#9036A0" d="M71 407q1 35 2-63t2-96 2 11 2-1 2-13 2 11 2 12 2-10 2-8 2 21 2 29M165 339q1 27 2-35t2-57 2 14 2 11M203 413q1 7 2-75t2-83 2-2 2 9 2 36M221 309q1-37 2-50t2-6 2 4 2 13 2 25M237 292q1 8 2 132t2 133 2-113 2-92"/>
<path stroke="#74B43A" d="M5 434q1-22 2 19t2-5 2-60M25 402q1 96 2 120t2 31 2-87 2-126M39 410q1-44 2 2t2 134 2 26 2-168 2-98 2 188 2 139 2-168 2-60 2 88 2-37 2-18M73 327q1 31 2 109t2 49 2-20 2-31M103 458q1-18 2 40t2 30 2-121 2-24M241 325q1 19 2 123t2 38 2-46M311 459q1 59 2 33t2-101 2-60M369 438q1-64 2 53t2 35 2-37 2-25 2-35"/>
<path stroke="#22B2EA" d="M85 383q1 37 2 101t2 100 2-57 2-136 2-48M299 396q1 42 2 120t2-60 2-147M353 378q1 14 2 105t2-52 2-141M365 375q1 7 2 99t2 68 2-126 2-102"/>
<path stroke="#C41B40" d="M37 388q1 14 2 71t2 42 2-53 2-75M57 410q1 16 2 66t2-68 2-132M71 314q1-26 2-39t2-17 2 33 2 167 2 76 2-161 2-108M109 300q1 20 2 187t2 186 2-168 2-214M195 373q1 47 2 108t2-39 2-115M267 290q1 22 2 169t2 49 2-122M303 352q1 28 2 169t2 31 2-121 2 47 2-20M383 355q1-65 2-83t2-4l1 14"/>
<path stroke="#1276C2" d="M1 362q1 18 2 57t2-19 2-58M143 319q1-3 2 98t2 109 2-63M199 367q1 33 2 80t2-17 2-94M285 391q1-7 2 107t2 18 2-123M311 353q1 11 2 129t2 7 2-139"/>
<path stroke="#EE5A22" d="M29 374q1 6 2 116t2 82 2-142 2-110M41 397q1-29 2 59t2-4 2-121M125 325q1-1 2 100t2 50 2-99M155 344q1 36 2 144t2 56 2-137M197 370q1 0 2 62t2 80 2-38M217 366q1 2 2 66t2 106 2-43 2-113M245 383q1 9 2 34t2 64 2 8 2-43 2-53M329 400q1 50 2 160t2 9 2-152M345 451q1 63 2 82t2-11 2-89 2-76M373 393q1 7 2 104t2 40 2-142 2-73"/>
<path stroke="#F5AE26" d="M0 438l1-35q1-35 2-50M15 346q1-28 2 126t2 77 2-112M27 397q1 35 2 118t2 2 2-94M35 402q1-8 2 31t2-33 2-65M93 370q1-8 2 159t2 32 2-158M153 336q1-6 2 96t2 27 2-73M225 422q1-42 2 35t2 26 2-93M243 415q1 13 2 57t2 4 2-15"/>
<path stroke="#9036A0" d="M17 297q1 21 2 68t2 183 2-11 2-171 2-34M29 313q1-9 2 54t2 182 2-85 2-183M95 322q1 16 2 240t2 49 2-234 2-56M169 366q1 46 2 104t2 24 2-106 2-75M299 307q1 45 2 85t2 178 2-56 2-169 2 21M367 337q1-77 2-81t2-3 2 24 2 64"/>
<path stroke="#74B43A" d="M109 415q1-5 2 135t2 62 2-111 2-108M199 342q1 46 2 133t2 68 2-88 2-98M259 363q1-9 2 84t2 112 2-53 2-155M285 400q1-4 2 35t2-12 2-98"/>
<path stroke="#22B2EA" d="M27 291q1 21 2 142t2 107 2-114 2-53M43 291q1-17 2-29t2 4 2 11M81 367q1-13 2-67t2-55 2 38 2 53M109 286q1-12 2-21t2 4 2 36M123 278q1-6 2-16t2-10 2 2 2 8 2 36M135 325q1-3 2-43t2-37 2 24 2 28M173 336q1 4 2 111t2-12 2-144M193 372q1-6 2 28t2 89 2 15 2-114 2-78M221 329q1-69 2-74t2 9 2 4 2-15 2 29 2 26M261 304q1 38 2 157t2 3 2-158 2-47 2-2 2-1 2 23 2 32M303 377q1 19 2-53t2-71 2 7 2 3 2-3 2 155 2 51 2-126M335 331q1-61 2-70t2 14 2 51M347 343q1-33 2-66t2-28 2 14 2 38M357 297q1-33 2 149t2 127 2-157 2-128M367 260q1-2 2-6t2 3 2 12 2 7"/>
<path stroke="#C41B40" d="M7 274q1-4 2-5t2 9 2 12M21 408q1 30 2 77t2-63 2-94M31 307q1-27 2-41t2-8 2 170M63 306q1-30 2-38t2-5 2 44M105 287q1-17 2-22t2 3 2 33M113 292q1-34 2-27t2 68 2 26M167 285q1-11 2 23t2 212 2 9 2-173 2 22M183 362q1-42 2 140t2-6 2-177M195 349q1 77 2 121t2 104 2-72 2-132 2 105 2-16 2-114M277 276q1-12 2-8t2 20 2 31M297 270q1-8 2-10t2-5 2 1 2 10M385 376q1-32 2-61l1-29"/>
<path stroke="#1276C2" d="M0 396l1-43q1-43 2-64M5 272q1 4 2-2t2 1 2 23M73 341q1-1 2-32t2-47 2-2 2 68M97 334q1-46 2-68t2 31 2 24M159 327q1-41 2-51t2-10 2-2M259 307q1-7 2 53t2 176 2-22 2-190M299 314q1 52 2 172t2 27 2-112M323 331q1 65 2 79t2 200 2-98 2-236"/>
<path stroke="#EE5A22" d="M85 415q1 15 2 75t2-53 2-97M123 304q1-10 2 79t2 154 2-38 2-108 2 71 2 139 2 31 2-156 2-133M157 390q1 40 2 60t2-20 2-25M261 408q1-20 2 82t2 23 2-28 2-19 2-50 2 59 2-40 2-92M285 365q1 27 2 102t2 13 2-106M347 375q1 17 2 79t2 58 2-59 2-67M373 420q1 72 2 48t2-68 2-52"/>
<path stroke="#F5AE26" d="M0 412l1 122q1 122 2 30t2-149 2 127 2 118 2-213 2-138 2 95 2 96 2-45 2-64 2 63 2 3 2-75M39 412q1 16 2 74t2-14 2-95M49 408q1-22 2 21t2 91 2-44M69 424q1 50 2 65t2-24 2-28M133 479q1 71 2 3t2-57 2-1M167 449q1 101 2 63t2-95 2-59M197 354q1-4 2 85t2 33 2-108M285 409q1-45 2 26t2 26 2-90M329 462q1 22 2 31t2-53 2-73M359 504q1 0 2 18t2-70 2-86"/>
<path stroke="#9036A0" d="M171 353q1-7 2 107t2-14 2-53M245 280q1 8 2 188t2 175 2-165 2-146M287 273q1-3 2-9t2-7 2 16"/>
<path stroke="#74B43A" d="M23 391q1 33 2 127t2 12 2-120 2-66M65 378q1 10 2 62t2 8 2-96M115 355q1-35 2 76t2 116 2-59M141 484q1 0 2-17t2-37 2-37M175 383q1-29 2 39t2 128 2-13 2-160 2-66"/>
<path stroke="#22B2EA" d="M35 354q1-8 2 46t2 224 2-77 2-233M143 379q1-23 2 100t2 87 2-140 2-113M165 361q1-9 2 100t2 169 2-113 2-156M271 411q1-5 2 78t2 95 2-83 2-140M299 435q1-51 2 22t2-16 2-79M307 349q1-23 2 52t2 105 2-32"/>
<path stroke="#C41B40" d="M11 292q1 14 2 172t2 52 2-116M19 331q1-59 2-64t2 95 2 127M113 297q1-15 2-23t2-3 2 78M133 389q1 19 2 66t2-46 2-91M147 301q1-19 2 107t2 114 2-53M185 349q1 79 2 35t2 224 2 46 2-274 2-63M203 281q1 15 2 0t2-32 2 129 2 34 2-117M221 299q1-37 2-33t2 3 2 5M287 336q1-64 2-67t2-11 2 3 2 31M305 268q1-6 2-11t2 68 2 17 2 42 2 73 2-107M321 278q1 20 2 144t2-1 2-146"/>
<path stroke="#1276C2" d="M107 305q1 31 2 171t2 164 2-170 2-192M141 303q1-35 2-39t2 17 2 101M179 308q1-10 2 148t2 44 2-153M201 344q1-10 2-16t2 136 2-20 2-151M301 376q1-76 2 55t2 158 2-119 2-136M377 388q1 62 2 117t2 19 2-118M385 319q1-5 2 37l1 42"/>
<path stroke="#EE5A22" d="M21 380q1 26 2 111t2-3 2-103M39 338q1 12 2 61t2 97 2-2 2-85 2-39M207 346q1-6 2 70t2 75 2-62M237 426q1 48 2 47t2-52 2-79M291 437q1-13 2 32t2 109 2-63 2-163M309 390q1 42 2 80t2 112 2 26 2-135 2-95M343 388q1-6 2 53t2 134 2-72 2-137M373 340q1 34 2 80t2 55 2-19 2-15 2 19 2-47"/>
<path stroke="#F5AE26" d="M69 256q1-2 2-1t2 5 2 12 2 155 2 133 2-122 2-132M125 286q1-20 2-23t2 5 2 19M139 375q1 61 2 164t2-81 2-188M169 370q1-16 2-63t2-51 2 12M383 308q1-38 2-51t2 1l1 14"/>
<path stroke="#9036A0" d="M9 272q1-4 2-6t2-9 2-3 2 22 2 15 2-11 2-14 2 8M55 307q1-3 2-26t2-23 2 11M111 322q1-32 2-50t2-21 2 19 2 36M127 326q1-54 2-64t2-7 2 40M137 409q1 23 2 12t2 112 2-23 2-189 2-51M155 293q1-45 2-37t2 33 2 1M167 360q1-46 2-81t2-29 2 3 2 97 2 73M185 274q1-18 2-21t2 1 2 1 2 8 2 21M201 335q1-71 2-75t2 28 2 45M211 285q1-15 2-21t2-3 2 3M223 286q1-2 2-19t2-19 2-1 2 12 2 82 2-6 2-76 2 37 2 32M245 319q1 37 2 103t2 87 2-72 2-122M255 297q1 11 2 160t2 4 2-165M295 268q1-8 2-10t2 6 2 6 2-5 2-9 2-1 2 15 2 37M317 349q1-39 2-68t2-20 2 27M343 278q1 6 2-10t2-20 2 2 2 74 2 85M375 312q1-46 2-45t2 7 2 19"/>
<path stroke="#74B43A" d="M119 316q1 42 2 149t2 64 2-124 2-86M257 329q1 19 2 81t2 68 2-42M337 373q1 13 2 45t2-28 2-88M367 456q1 76 2-66t2-128 2 13M377 331q1 27 2 80t2 78 2-17 2-129 2-66"/>
<path stroke="#22B2EA" d="M7 408q1-10 2 66t2 97 2-84 2-136M31 400q1-4 2 60t2 90 2-46 2-61M91 417q1 35 2 57t2-28 2-14M215 440q1 60 2 70t2-44 2-99M265 425q1 55 2 103t2-33 2-113 2-33M289 396q1 34 2 93t2-26 2-77 2 45 2 35 2 53 2-53 2-78M319 384q1 54 2 33t2-34 2-1"/>
<path stroke="#C41B40" d="M7 297q1-19 2-24t2-1 2 40 2-1M21 270q1 2 2-13t2 113 2 129 2-113M53 326q1-12 2-43t2-36 2 6 2 48M71 279q1 9 2-17t2 38 2 31M81 261q1-1 2 2t2 21 2 11M89 266q1-22 2-14t2 13 2 2 2-6 2 4M115 313q1 43 2 168t2 93 2-164 2-141 2 85 2 168 2-54 2-165 2-33M155 280q1-12 2-8t2 2 2-1 2-10 2 6 2 30M171 301q1-15 2-36t2-6 2 43M179 380q1 50 2 87t2-88 2-121 2 36 2 17M195 392q1 44 2-44t2-86 2-2M217 303q1 1 2-24t2-26 2 22 2 48M265 279q1-13 2-21t2 7 2 28 2-19 2-32 2 14 2 54 2 3M317 283q1-5 2-19t2-13 2 9 2 25M347 310q1-28 2-46t2-16 2 5 2 7 2-11 2 80 2 79"/>
<path stroke="#1276C2" d="M15 370q1-14 2-63t2-51 2 55 2 53M27 332q1 80 2 190t2-45 2-175M43 361q1 15 2 68t2 38 2-59 2-30M119 314q1-10 2 212t2 6 2-216M133 308q1-14 2-31t2-16 2 9 2 14M147 287q1-21 2 44t2 169 2-75M163 276q1-10 2-14t2 101 2 50M265 302q1-2 2-19t2-28 2 104M317 364q1 34 2 76t2 100 2-39 2-167M355 364q1 0 2 157t2 26 2-163 2-28"/>
<path stroke="#EE5A22" d="M35 377q1 17 2 32t2 42 2-24M103 418q1 10 2-5t2 119 2 122 2-131 2-144M125 471q1 35 2-5t2-24 2-7M149 313q1-11 2 46t2 209 2-38 2-188 2-4M175 363q1 27 2 86t2-14 2-85M205 348q1-6 2 22t2 144 2-19 2-161M225 381q1-1 2 79t2-2 2-90M255 393q1 17 2 66t2 73 2-61M301 389q1-9 2 45t2 64 2-38 2-98M323 431q1 9 2 70t2-31 2-111M345 368q1 32 2 104t2 22 2-3 2-27 2-80M365 414q1 34 2 95t2-12 2-58M385 397q1-15 2 38l1 53"/>
<path stroke="#F5AE26" d="M45 400q1 44 2 139t2 43 2-139 2-113M225 399q1 39 2 77t2-23 2-19M243 309q1 13 2 89t2 54 2 3M277 337q1 27 2 149t2 16 2-120"/>
<path stroke="#9036A0" d="M55 379q1 79 2 179t2-74 2-177M83 417q1-5 2 55t2-28 2-84M175 363q1 3 2 165t2-13 2-177M183 333q1-3 2 161t2 44 2-114 2 38M235 271q1-11 2-7t2 59 2 75M267 371q1 23 2 124t2 36 2-66M277 422q1-54 2-25t2 134 2 135 2-144 2-189 2 12M369 363q1 13 2 49t2 172 2-32 2-172"/>
<path stroke="#74B43A" d="M45 432q1-28 2-47t2 182 2 8 2-172 2 34M143 355q1 1 2 81t2 48 2-85M169 317q1 7 2 109t2 58 2-67 2-62M183 335q1 1 2 78t2 112 2-54 2-112M235 447q1 9 2 36t2 18 2 29 2-88 2-122M313 351q1 49 2 77t2 79 2 36 2-19 2-91 2-110M329 309q1-1 2 119t2 117 2-45 2-40 2-77M359 425q1-17 2 119t2-18 2-142"/>
<path stroke="#22B2EA" d="M0 256l1 58q1 58 2 161t2-49 2-140M17 366q1 38 2 74t2 60 2-99 2-96 2 2 2 197 2 31 2-181 2-8M57 315q1 11 2-24t2-38 2 6 2 7 2-10 2-1 2 32 2 11 2-24 2-15 2 7 2 11M101 270q1 2 2-2t2-10 2 8 2 26M129 273q1-5 2-14t2 6 2 61M163 284q1 0 2-9t2-20 2-9 2 7 2 3 2 12 2 15M191 273q1-3 2-12t2 3 2 6M205 318q1 46 2-4t2-56 2 45M213 341q1-13 2-51t2-31 2 76 2 28M259 275q1-13 2-11t2 11 2 7M275 290q1 26 2 5t2-29 2 8M313 296q1-28 2-14t2 61 2-8M357 312q1-42 2-52t2 4 2 12M381 344q1 56 2-14t2-75 2-7l1-2"/>
<path stroke="#C41B40" d="M79 294q1 0 2 126t2 12 2-123M101 315q1-37 2-52t2-7 2 51 2 30M131 385q1 23 2-53t2-77 2 27 2 73M141 366q1-34 2-70t2-37 2 12M209 271q1 3 2-7t2-17 2 6 2 39M379 376q1 26 2-49t2-74 2 20"/>
<path stroke="#1276C2" d="M5 277q1 13 2 3t2-14 2-4 2 24 2 12M31 407q1-17 2 26t2-73 2-111 2 10 2 19 2 32M59 325q1-37 2-58t2 66 2 81M67 337q1-71 2-75t2 43 2 43M155 272q1-12 2-17t2-7 2 30 2 11 2-31 2 1 2 4 2 2M261 308q1 34 2-5t2-45 2 10 2 15M335 435q1-107 2-141t2-41 2 30 2 21"/>
<path stroke="#EE5A22" d="M77 377q1 69 2 88t2-54 2-82M101 370q1 20 2 107t2-4 2-124M137 405q1 83 2 107t2-50 2-73M337 436q1-38 2 65t2 115 2-124 2-90"/>
<path stroke="#F5AE26" d="M147 332q1 10 2 111t2 98 2-87 2-108M167 458q1 38 2 59t2-61 2-96M189 385q1-7 2 91t2-6 2-122M215 298q1 2 2 223t2 7 2-193M383 400q1-10 2 65t2 29l1-46"/>
<path stroke="#9036A0" d="M21 360q1 6 2-43t2-50 2 7M33 316q1 0 2 127t2 28 2-141M107 337q1-51 2 115t2 259 2-131 2-259 2-32M119 300q1 8 2 152t2-10 2 58 2 18 2-158M247 354q1 42 2 91t2 54 2-100 2-121 2-25 2 10 2 20 2-16 2 27 2 35M293 336q1 6 2 112t2-23 2-114M307 416q1 48 2 96t2-23 2-87M319 339q1 75 2 87t2-69 2-89M373 410q1 66 2 91t2-88 2-142 2-24 2 22 2 32"/>
<path stroke="#74B43A" d="M0 550l1-102q1-102 2 37t2 170 2-148 2-179 2 11M35 386q1 22 2 96t2-11 2 72 2 45 2-4 2-54 2-166M213 315q1 27 2 70t2 175 2 74 2-185 2-128M243 361q1 57 2 131t2-38 2-131M385 302q1-8 2 155l1 163"/>
<path stroke="#22B2EA" d="M59 314q1 40 2 112t2-21 2-72M153 369q1 37 2 66t2-21 2-43M187 322q1 14 2 121t2 102 2-73 2-118M261 331q1 19 2 126t2 9 2-141M297 363q1 43 2 91t2 49 2-75 2-50M319 346q1 10 2 152t2 86 2-112 2-63"/>
<path stroke="#C41B40" d="M43 360q1 2 2 21t2 128 2-7 2-136M59 356q1 2 2 61t2 40 2-44 2-45 2 146 2 48 2-164 2-59M97 380q1-42 2-10t2 135 2 29 2-78 2 43 2-1 2-96 2-25M121 338q1 22 2 121t2 69 2-128M167 455q1-29 2-31t2 42 2 22 2-33 2-25 2 8M225 395q1 63 2 140t2 64 2-92 2-74M235 449q1 11 2 12t2-29 2-28 2 107 2-18 2-73M251 440q1 14 2 59t2 22 2-84 2-81M319 323q1-35 2 4t2 108 2 133 2-31 2-157"/>
<path stroke="#1276C2" d="M49 413q1 57 2 52t2-74 2-84M93 265q1-5 2-4t2 5 2 16M161 334q1-44 2-59t2-5 2 24M175 339q1 31 2 191t2-7 2-139M183 358q1-54 2-80t2-22 2 3 2 35 2 51"/>
<path stroke="#EE5A22" d="M137 303q1-27 2-34t2-4 2 45M191 351q1 11 2 113t2 28 2-92M295 327q1 5 2 166t2 20 2-171M333 341q1-55 2-68t2-12 2 37 2 38M367 337q1 19 2 46t2 122 2 13 2-168 2-85 2 1 2 0 2-4 2 14 2 17"/>
<path stroke="#F5AE26" d="M43 386q1-14 2 37t2 76 2-43 2-31M59 298q1 22 2 200t2-9 2-186M69 356q1 12 2 1t2 109 2 24 2-98 2-2M85 329q1 13 2 122t2 32 2-103M93 374q1 20 2 111t2 97 2 0 2-30 2-71 2-95 2-20M109 373q1-21 2 42t2 80 2-3 2-70 2 60 2 10 2-101M159 372q1-10 2-28t2 143 2 81 2-127 2-57M179 426q1 32 2 74t2-73 2-103M197 373q1 67 2 113t2 38 2-53 2-45 2 28 2-23 2-64M229 429q1-1 2 32t2 120 2-41 2-154 2-15M243 422q1 0 2 31t2 25 2-20 2-46 2 42 2 40 2-84M321 305q1 7 2 36t2 181 2 33 2-121 2 13"/>
<path stroke="#9036A0" d="M13 415q1-37 2-102t2-52 2 10 2 4 2-1 2-26 2 94 2 81M31 435q1 43 2-74t2-114 2 47 2 36M65 325q1 31 2-26t2-55 2 34 2 95M81 277q1-3 2-11t2-15 2 10 2 59 2-14 2-50 2 15 2 4 2-13 2-12 2-3 2 6 2-1 2 7 2 41M131 283q1 3 2-14t2-21 2-3 2 18 2 14M167 293q1-23 2-29t2 0 2 68M191 281q1-5 2-14t2 3 2 17 2-9 2-17 2 11M209 272q1 10 2-2t2-15 2 2M223 284q1 0 2-6t2-19 2-17 2 52 2 41M237 271q1-3 2-9t2-5 2-6 2 60 2 36M263 301q1-21 2-39t2 48 2 47 2-61 2-32 2 27M309 277q1-1 2-16t2-3 2 16 2-9 2-7 2 0 2 0M375 264q1-10 2-13t2 9 2 11M383 273q1 3 2-10t2 0l1 13"/>
<path stroke="#74B43A" d="M9 333q1-31 2-52t2-15 2 32M19 351q1 47 2 71t2 45 2-68M35 454q1-42 2-37t2-38 2-63M69 333q1 37 2 93t2 74 2 19 2-104 2-45M147 354q1-8 2 75t2 92 2-68M187 327q1-53 2-54t2 43 2 12M307 384q1 66 2 164t2-54 2-181M375 281q1-27 2-16t2 42 2 35"/>
<path stroke="#22B2EA" d="M0 262l1-5q1-5 2 16t2 96 2 35M11 278q1 2 2-10t2-8 2 16M75 318q1-34 2-48t2-5 2 17M117 351q1-9 2 154t2 11 2-102M147 339q1 5 2 59t2 125 2-67 2-64 2 143 2-27 2-120 2-13M167 334q1-12 2 139t2 3 2-148 2 7M229 299q1 33 2 152t2 104 2-54 2-59M293 311q1-21 2-42t2-21 2 7 2 77 2 46M331 324q1-24 2-46t2-19 2 30M343 454q1 22 2 64t2-21 2-155M359 354q1 4 2 163t2-40 2-200"/>
<path stroke="#C41B40" d="M0 398l1 154q1 154 2 26t2-142 2-92M13 315q1 33 2 0t2-52 2-15 2 8 2 13M37 273q1 5 2 0t2-8 2 1M51 328q1-16 2-53t2-35 2 30 2 51 2-27 2-43 2 108 2 54M107 289q1 3 2-8t2-25 2 52 2 90M129 371q1-19 2-66t2-49 2 1 2 109 2 57M159 278q1 8 2-3t2 5 2 9M171 384q1 28 2-45t2-78 2 7M211 301q1-15 2-33t2-14 2 31 2 0 2-32 2 4 2 19 2 17M233 280q1-2 2-9t2-10 2 83 2 46M243 322q1-28 2-48t2 232 2 34 2-250 2-25M261 315q1-49 2-55t2-10 2 5 2 55 2 17M325 324q1-54 2-60t2 2 2 0 2-6 2-1M343 279q1 1 2-13t2-9 2 14 2 17 2-16 2-23 2 3 2 16 2 40"/>
<path stroke="#1276C2" d="M19 294q1 4 2-11t2-35 2 134 2 131 2-108 2-118 2-29 2 55M41 348q1-50 2-70t2-29 2 130 2 93 2-93 2-35M113 320q1-42 2-55t2-4 2 20M127 286q1 0 2-17t2 14 2 84 2-21 2-84 2 1 2 83 2 36M179 319q1-23 2-48t2-21 2 19 2 14M211 334q1 36 2-15t2-56 2 6M223 375q1 25 2-50t2-58 2 19M291 356q1-72 2-88t2 13 2 63M325 270q1-2 2-11t2-5 2 45 2 8M335 269q1-5 2-5t2-7 2-2 2 6 2 3M359 276q1 12 2-10t2-23 2 33 2 15 2-27 2-7 2 7 2 74"/>
<path stroke="#EE5A22" d="M43 421q1 39 2 27t2 8 2 141 2 57 2-86 2-107 2-106M59 359q1 25 2 87t2 4 2-84M111 360q1 30 2 132t2-5 2-113M135 351q1-7 2 32t2 135 2 52 2-92 2-87 2-33M171 431q1-1 2 20t2-56 2-65M183 457q1 7 2-30t2 124 2 24 2-180 2-49M203 415q1 21 2 62t2 41 2-35 2-58 2-26M215 402q1 6 2-29t2 130 2-27 2-152M229 367q1 13 2 95t2 26 2-64M245 360q1 12 2 55t2 39 2 58 2-54 2-128M259 359q1 31 2 182t2 7 2-142 2 57 2 14 2-66 2-20M303 401q1-25 2 11t2 97 2-19 2-87M321 481q1-21 2-27t2 52 2-20 2-125M341 361q1 1 2 73t2 88 2-52 2-118M359 429q1 25 2 50t2-20 2-72M371 371q1-15 2 105t2 58 2-97 2-29"/>
<path stroke="#F5AE26" d="M11 397q1 25 2 114t2-41 2-128M37 439q1 17 2 29t2 45 2-53 2-122M57 310q1-2 2 166t2 121 2-119 2-80M71 406q1-10 2 30t2 48 2 4 2-63 2-52M151 341q1 39 2 129t2 81 2-78 2-31 2 15 2 31 2 15 2-108M171 415q1 33 2 31t2 19 2 3 2-13 2 29 2-80 2-66M275 333q1-5 2 80t2 177 2-52 2-174 2 24M341 422q1-4 2 7t2 96 2-15 2-134 2 4M383 384q1 36 2 89t2 0l1-53"/>
<path stroke="#9036A0" d="M0 536l1-92q1-92 2-106M23 334q1 26 2 139t2 69 2-108 2-79M119 462q1 64 2-18t2-105 2-24M127 327q1 13 2 84t2 73 2-80M153 391q1 53 2 78t2-28 2-44M197 360q1 0 2 144t2 131 2-130 2-128 2 3M245 282q1-10 2 144t2 49 2-132M267 410q1 72 2 56t2-48 2-66M371 344q1 26 2 125t2 198 2-148 2-242 2 10"/>
<path stroke="#74B43A" d="M23 409q1 5 2 43t2 53 2-31 2-75 2-34M35 360q1 0 2 143t2 95 2-145 2-86M49 430q1 40 2 41t2 28 2 15 2-47 2-52M77 414q1 20 2 56t2 17 2-14M95 449q1-37 2-84t2 251 2 38 2-268 2-4M151 341q1 3 2 90t2 38 2-106 2-42M191 387q1 17 2 67t2 41 2-56 2-85M235 393q1 31 2 79t2-36 2-74M273 333q1-25 2 109t2 118 2-131 2-95M299 340q1 12 2 161t2 17 2-151 2 52M351 416q1 0 2 114t2 19 2-138 2-48"/>
<path stroke="#22B2EA" d="M75 288q1-10 2-20t2-4 2 16M87 324q1-40 2-57t2-21 2 57 2 46M103 331q1 19 2 94t2 93 2-57 2-103M137 318q1-12 2 117t2 53 2-41 2-34 2-61M253 333q1-1 2 13t2 107 2 93 2-91 2-76"/>
<path stroke="#C41B40" d="M33 317q1 47 2 97t2 175 2-55 2-199 2-49 2-25 2 29 2 58M103 365q1 9 2 61t2 77 2-110 2-129M131 360q1 0 2 130t2-28 2-166M147 376q1 12 2 87t2-20 2-129M201 350q1-2 2 62t2 29 2-67M255 281q1-11 2 85t2 141 2-96 2-106M271 390q1 96 2 97t2-96 2-93M325 264q1 4 2-4t2 18 2 11M373 282q1 8 2 133t2 66 2-59 2 56 2-89 2-117"/>
<path stroke="#1276C2" d="M3 363q1-5 2 64t2 56 2-78 2-89M81 371q1 25 2 66t2 169 2-5 2-120 2-72M115 409q1 63 2 51t2-23 2-38M251 416q1-96 2 76t2-2 2-172M275 410q1 8 2 42t2 56 2 8 2-98"/>
<path stroke="#EE5A22" d="M25 398q1 14 2 70t2-10 2-100M41 338q1-2 2 38t2 115 2 88 2-65 2-74 2 0M73 366q1 10 2 41t2 51 2-44 2-73M99 428q1-46 2-16t2 100 2-6 2-109 2 47 2 10 2-67 2 79 2 50 2-51 2-30 2 35 2 36 2-54 2-40M177 408q1 16 2 70t2-32 2-77M203 391q1-7 2 33t2 97 2 23 2-107 2-94M243 384q1-20 2 32t2 124 2 28 2-71 2-24 2 12 2 14 2 59 2-63 2-102M285 415q1 39 2 37t2-24 2-10M299 411q1 9 2 46t2-2 2-38M307 415q1-3 2 29t2 0 2-31 2 44 2-5 2-65M367 333q1 1 2 71t2 75 2 9M377 397q1-25 2 126t2 33 2-116 2 44 2-30l1-72"/>
<path stroke="#F5AE26" d="M41 369q1 45 2 124t2 91 2-111 2-113 2-35M61 323q1-3 2-31t2-23 2 23 2 44M93 326q1 26 2 68t2 186 2-45 2-213 2-35M293 329q1 25 2 149t2 6 2-113"/>
<path stroke="#9036A0" d="M29 322q1 12 2 107t2 55 2-33 2-60M41 409q1 25 2 54t2-33 2-83M213 343q1 5 2 199t2 70 2-177 2-66M235 416q1 48 2 143t2 22 2-120 2-58M269 414q1-26 2 16t2 157 2 80 2-124 2-129 2-63M311 330q1 24 2 79t2 54 2-45"/>
<path stroke="#74B43A" d="M63 305q1-7 2 38t2 139 2-46 2-157M85 360q1-2 2 79t2 68 2-97M95 285q1-5 2-6t2-10 2 5 2 14M137 313q1 15 2 165t2 145 2-159 2-168M183 372q1-4 2-55t2-52 2 35M201 332q1 26 2 86t2-8 2-104M217 295q1-21 2-23t2 6 2 18M241 394q1 8 2-66t2-71 2 30 2 44M349 429q1-61 2 40t2 14 2-144M371 302q1 36 2 143t2 51 2-97 2-55"/>
<path stroke="#22B2EA" d="M5 366q1 44 2 116t2-7 2-102M39 360q1 6 2 63t2-9 2-58M121 328q1 8 2 92t2 71 2 88 2-10 2-143 2 35M349 388q1-28 2-60t2 188 2 117 2-176 2-100"/>
<path stroke="#C41B40" d="M3 305q1-41 2-41t2 5 2 2 2-11 2 11 2 23M17 282q1-16 2-19t2 27 2 21M37 295q1-37 2-33t2 39 2 3 2-37 2 49M59 270q1-2 2-5t2 31 2 44M71 278q1-4 2-13t2-11 2 3 2 18 2 32M83 304q1-22 2-36t2-16 2-4 2-5 2 3 2 19 2 8M153 340q1 32 2-29t2-66 2-1 2 9 2 14 2 38M197 308q1 30 2 105t2 49 2-11 2-39 2-81M269 279q1-11 2-15t2 3 2 1 2-1 2 17 2 1M289 300q1-16 2 54t2 161 2-92 2-166 2 15M313 314q1-44 2-47t2-2 2 5M323 266q1-4 2-6t2-8 2 20 2 287 2-3 2-273 2 15M349 312q1-36 2-49t2-10 2 12 2 11M363 317q1 7 2-6t2-32 2-19M377 279q1 17 2 0t2-23 2 18 2 12"/>
<path stroke="#1276C2" d="M19 310q1-10 2 117t2 4 2-137M63 357q1-21 2-61t2-45 2-3 2 26 2 28M75 284q1-22 2-11t2 6 2-5M103 286q1-10 2 41t2 224 2 46 2-197 2-52M127 274q1 8 2 110t2 71 2-115M137 279q1-1 2-3t2-12 2-8 2 8M153 375q1-67 2-95t2-24 2 19 2 17M167 304q1-46 2 64t2 88 2-83 2-82M183 351q1-95 2 119t2 24 2-205M263 321q1-31 2-47t2 18 2 50M277 422q1 18 2-83t2-87 2 19 2 1M307 322q1 54 2 114t2-43 2-117 2-18 2 23 2 38M337 355q1-43 2-77t2-31 2 54 2 29M365 310q1-36 2-46t2-12 2 97 2 62"/>
<path stroke="#EE5A22" d="M1 285q1-11 2-27t2 40 2 312 2-2 2-300 2-2M27 345q1-111 2-84t2 25 2-7M37 315q1-37 2-44t2-9 2 2 2-3 2-2 2 36M51 377q1 51 2-33t2-79 2 12 2 52 2-21 2-46 2 18M83 316q1-60 2-62t2 0 2 5 2 16M95 335q1-29 2-47t2-15 2 7M155 349q1-93 2-90t2 2 2 64M169 305q1-27 2-31t2-13 2-11 2 0 2 2 2 99 2 25 2-92 2 0 2 59M197 293q1-35 2-33t2 8 2 6M213 323q1-59 2-53t2 64 2 33 2-76 2-48 2 12 2 35 2 77M261 266q1-6 2-6t2 5 2 7 2 40M275 283q1-11 2-19t2-2 2 35M289 298q1-32 2-32t2-7 2 12 2 26 2-11 2-22 2 66M321 327q1 15 2-34t2-39 2 16M331 266q1 2 2 0t2 7 2 10M359 277q1 3 2-4t2-11 2 33M367 341q1 9 2-38t2-47 2 30 2 59M377 423q1 49 2-57t2-108 2-9 2 14 2 24l1 3"/>
<path stroke="#F5AE26" d="M0 352l1 130q1 130 2 102t2-154 2-138 2-22 2-10 2-3 2 14 2 30M19 285q1-29 2-29t2 5 2-3 2 125 2 28 2-28M95 304q1-16 2-24t2-6 2 40M103 308q1-44 2-47t2 3 2 19 2 237 2 64 2-176 2-80M119 264q1 0 2 248t2 49 2-223 2-40M181 314q1-34 2-49t2-16 2 7 2 50M215 302q1 26 2 166t2 55 2-171M229 271q1-7 2-4t2 36 2 42M257 415q1 17 2 55t2-15 2 115 2 18 2-233 2-81M281 277q1-9 2-10t2 2 2 8M295 293q1-3 2 92t2 62 2-92M315 286q1-12 2-24t2 30 2 53M375 306q1-26 2-33t2 0 2 10"/>
<path stroke="#9036A0" d="M13 269q1-1 2-4t2 82 2 90M35 279q1-9 2-17t2 3 2 18 2-1 2-14 2-1 2 28M51 344q1 26 2-35t2-60 2 18 2 20M79 335q1-69 2-63t2 31 2 25M93 312q1-22 2-46t2-20 2 69 2 62M107 286q1 2 2-17t2-16 2 45 2 98M119 310q1-44 2-47t2 27 2 2 2-32 2 1 2 38 2 44 2 213 2 16 2-247 2-54 2-2 2 29 2 95M151 346q1-64 2-80t2 22 2 106M171 412q1 68 2-39t2-109 2 33 2 43M181 305q1-43 2-39t2 56 2 71M251 365q1-63 2-88t2-14 2 8M265 296q1-20 2-28t2-3 2 47M275 282q1-14 2-23t2-5 2 11 2-2 2 26M291 333q1 13 2-27t2-34 2 4 2-11 2-4 2 87 2 25M331 279q1-3 2-9t2 11 2 4M359 313q1 37 2-12t2-54 2 25 2 52"/>
<path stroke="#74B43A" d="M0 404l1 18q1 18 2-28t2-43 2 88 2 46 2-52M43 385q1-3 2 33t2 66 2-48 2-75M139 339q1 19 2 121t2 172 2-31 2-119 2 2 2-21 2-71M175 355q1 1 2 71t2 64 2-77 2-98M193 289q1-1 2 94t2 176 2-53 2-94 2 55 2-23 2-47M213 429q1 17 2 75t2-36 2-126M261 360q1-28 2 72t2 173 2-114 2-188M311 389q1 49 2 89t2 5 2-69 2-5 2 130 2-6 2-155 2-32M353 369q1 1 2 110t2 72 2-104 2-81M381 455q1 11 2 33t2-49 2-67"/>
<path stroke="#22B2EA" d="M27 296q1-28 2-33t2-5 2 3 2 9 2 12 2-4 2 18 2 97M87 291q1 19 2-10t2 6 2 42M127 271q1-7 2 41t2 175 2-64 2-120M139 424q1-136 2-147t2-9 2 26 2-2M157 312q1-56 2-46t2 13 2 27M199 381q1 61 2-15t2-89 2-19 2-7 2 62 2 20M231 438q1-56 2-121t2-28 2 59M259 304q1-2 2 115t2 48 2-106M283 313q1-43 2-45t2-10 2-5 2 11 2 73M299 286q1-4 2-15t2-2 2 29M331 425q1 75 2-55t2-97 2 19 2-22"/>
<path stroke="#C41B40" d="M0 598l1-73q1-73 2-86t2-55M67 398q1 62 2 69t2-73 2-63M123 280q1-10 2 157t2 64 2-83M131 435q1-3 2-53t2 87 2 7 2-145 2 58M147 375q1 27 2 77t2-54 2-70M205 403q1-61 2-39t2 75 2 37 2-104M231 396q1 106 2 120t2-75 2-102M279 317q1-41 2-51t2 9 2 185 2 17 2-180M293 332q1 22 2 64t2-4 2-56 2 114 2 15 2-104M307 413q1 47 2 79t2-12 2-105M347 310q1-24 2-17t2 15 2-8M379 307q1 17 2 121t2 106 2-89 2-61"/>
<path stroke="#1276C2" d="M35 359q1 19 2 124t2 31 2 23 2-7 2-106 2-10M143 349q1 23 2 72t2 59 2-40M153 336q1-8 2 79t2 60 2-32M169 391q1-5 2 42t2 148 2 18 2-135 2-80M187 412q1 50 2 50t2 140 2-42 2-213 2-28M253 466q1 14 2-19t2 125 2-27 2-179M265 392q1-2 2 13t2 51 2 13 2-68M275 412q1 56 2 107t2-27 2-88M323 346q1 34 2 121t2 35 2-71 2-46M381 383q1 11 2 33t2 34 2-13"/>
<path stroke="#EE5A22" d="M57 338q1 32 2 33t2 225 2-8 2-272 2-1M99 367q1-41 2 7t2 158 2-5 2-109 2-26M209 369q1 11 2 114t2-25 2-76 2 93 2-60 2-109M243 409q1 47 2 111t2-6 2-101 2-56M259 316q1-2 2 94t2 7 2-107 2 19 2 176 2-3 2-153 2-40M287 346q1-22 2 100t2 129 2-120 2-135"/>
<path stroke="#F5AE26" d="M55 295q1-17 2-27t2-3 2 70M99 422q1 110 2-35t2-136 2 16 2 16M191 314q1-42 2-37t2-7 2-9 2 27 2 37M241 359q1-43 2-65t2-14 2 13M261 326q1-32 2-48t2 5 2 82M281 292q1-6 2-9t2 57 2 26M303 364q1 12 2 78t2-17 2-43M373 277q1-3 2-11t2-15 2 4 2 20 2 26"/>
<path stroke="#9036A0" d="M13 386q1-18 2 54t2 6 2-78M63 438q1 46 2 125t2-35 2-168 2-14M89 350q1-4 2 89t2 56 2-116 2-34M147 317q1 13 2 101t2 80 2-77 2-66M159 405q1 11 2 96t2 72 2-106 2-116M205 403q1 29 2 25t2-6 2-26M235 405q1 17 2 18t2 45 2-39M285 331q1 17 2 61t2 95 2 8 2-68 2-55M317 342q1 26 2 119t2 65 2-98 2-112M363 396q1 28 2 94t2-26 2-121M379 343q1-29 2 36t2 125 2-38 2-125"/>
<path stroke="#74B43A" d="M0 516l1-81q1-81 2-50t2 54 2 17 2-63 2-87M119 453q1 27 2 31t2-39 2 1M171 380q1 36 2 67t2 141 2-10 2-171M235 407q1 11 2-20t2 101 2 88 2-84 2-82 2-44M267 346q1-2 2 99t2 121 2-61 2-142 2-58M371 434q1-86 2-23t2 18 2-104M385 325q1 27 2 75l1 48"/>
<path stroke="#22B2EA" d="M0 460l1-66q1-66 2-69M7 317q1 3 2-29t2-34 2 1 2 101 2 1 2-106 2 6 2 63 2-8M35 276q1 0 2-9t2-7 2 2 2 64 2 69M47 326q1-74 2-73t2 25 2 45M83 280q1 4 2-8t2 6 2 14 2-17 2-19 2-5 2 10 2 54 2 30M135 322q1 10 2-27t2-24 2 15 2 154 2 72 2-119 2-9M175 340q1-42 2-54t2-3 2 27M201 284q1-12 2-12t2 3 2 16M213 283q1-23 2-30t2 88 2 115 2 22 2-43 2-109M235 293q1-21 2-30t2-3 2 13M279 311q1-23 2-34t2-18 2 49 2 18 2-54 2-6 2-4 2-17 2 0 2 21 2 15M339 306q1 0 2 133t2-12 2-156 2-14 2 4M355 285q1-5 2-20t2 73 2 81"/>
<path stroke="#C41B40" d="M25 337q1 11 2-18t2-32 2-13M79 304q1-2 2-15t2-5 2 13M91 365q1 9 2 95t2 30 2-59M173 418q1 14 2-61t2-78 2 31M263 358q1 4 2-47t2-56 2 8 2 14M285 322q1 50 2 128t2-12 2-100M299 302q1-10 2-21t2 3 2 37M315 347q1 85 2 112t2-49 2-87M325 305q1-17 2-37t2 21 2 374 2-10 2-316 2 14M353 313q1 11 2 161t2 10 2-173 2-43 2-13 2 2 2 6 2 2M379 322q1-8 2 101t2 40 2-127 2-61"/>
<path stroke="#1276C2" d="M0 420l1-53q1-53 2-75M47 307q1 15 2 100t2 82 2-33M57 421q1 29 2 52t2 5 2-71 2-83M67 302q1 8 2 105t2-23 2-121 2 8 2 37M95 291q1-21 2-25t2-5 2 3M125 344q1-2 2 89t2 4 2-134M151 385q1-55 2 18t2 98 2-106 2-129 2 0 2-4 2 16 2 18M201 367q1 51 2 56t2 64 2-44 2-116M213 274q1-16 2-15t2 7 2 17M227 301q1 17 2 92t2 137 2-60 2-168M253 408q1-44 2-11t2 4 2-64M275 347q1-15 2 42t2 80 2-36"/>
<path stroke="#EE5A22" d="M53 419q1-27 2-48t2 140 2-6 2-202M107 412q1-12 2 27t2 41 2-38M137 402q1-58 2 51t2-20 2-144M183 337q1-45 2-55t2 2 2 32M201 280q1-6 2 12t2 24 2-18M229 381q1-9 2 139t2-21 2-172M261 295q1-17 2-26t2 33 2 60M301 363q1-3 2 46t2 7 2-53M361 295q1-19 2-19t2 45 2 18"/>
<path stroke="#F5AE26" d="M0 616l1-71q1-71 2-119t2-38M35 371q1 25 2 56t2 32 2-42M81 397q1 33 2 122t2-10 2-76 2-11M99 439q1-37 2-28t2 111 2 14 2-40 2 24 2-27 2-82 2-89M119 392q1 38 2 46t2 36 2-21 2-7 2 0 2-100M135 334q1 56 2 134t2-35 2-103 2 63 2 45 2-25M157 347q1-17 2 41t2 82 2-19M235 379q1 21 2 151t2 43 2-129 2-68 2-5 2 61 2 15 2-18M351 317q1-9 2 123t2 55 2-37 2 39 2-39M385 362q1 8 2 105l1 97"/>
<path stroke="#9036A0" d="M51 330q1-20 2 84t2 97 2-89 2-99M63 304q1 8 2 82t2 87 2-17 2-63M101 298q1 12 2 105t2 69 2-64 2 20 2 59 2 39 2-2 2-81 2-62M191 300q1-8 2 36t2 115 2-7 2-85M233 321q1-1 2 88t2 148 2-96 2-136M369 323q1-17 2-42t2-21 2 39"/>
<path stroke="#74B43A" d="M37 383q1 15 2 5t2 59 2-43 2-124M79 338q1 24 2 108t2 27 2-76M123 382q1 36 2 76t2-17 2-6 2-7 2-106M153 379q1 31 2 54t2-48 2-69M177 348q1 50 2 54t2 37 2 123 2-109 2-187 2 55 2 89M201 297q1 25 2 96t2 35 2-55M245 344q1 26 2 101t2-8 2-29M253 435q1-27 2-2t2 90 2-38 2-143M353 320q1 4 2 193t2 19 2-172 2-35M379 362q1 16 2 75t2 21 2-44"/>
<path stroke="#22B2EA" d="M21 282q1 12 2-4t2-14 2 16 2 93M31 380q1-72 2-97t2-28 2 27 2 63M43 278q1 10 2 1t2 21 2 55M61 280q1 2 2-16t2-20 2 55 2 74M79 282q1-2 2-16t2-10 2 19 2 1 2-21 2-3 2-2 2 19 2 4 2-14 2 5 2-13 2 49 2 173 2-66 2-139M145 362q1-32 2-66t2-37 2 8M159 279q1 13 2-6t2-24 2-4 2 12 2 46 2 49 2-38 2-47 2-10 2-9 2 27 2 28M191 274q1-4 2 143t2 89 2-166 2-95 2 10 2 6 2 72 2-3M217 320q1 50 2 38t2 165 2 33 2-212 2-71M249 299q1 23 2-13t2-36 2 6 2 10 2 5M273 300q1 6 2 38t2 207 2-43 2-233 2 5 2 35M297 284q1-22 2-23t2 62 2 15M315 315q1-57 2 174t2 104 2-196 2-97M339 277q1-3 2-18t2-10 2 31 2 17 2-29 2-14 2 14 2 29M357 358q1 40 2-35t2-51 2 67M383 282q1-2 2-13t2-1l1 10"/>
<path stroke="#C41B40" d="M19 393q1 51 2 83t2-23 2-60 2-4M29 357q1-33 2 4t2 78 2 28 2 6 2-51 2-81M55 275q1 3 2 89t2 82 2 20 2 40 2-84M73 351q1 3 2 30t2 192 2 12 2-115 2-67 2-93M97 359q1 33 2 175t2 112 2-107 2-102 2-51M113 274q1-4 2 91t2 190 2-19 2-155 2-28M139 421q1 83 2 98t2-62 2-60M155 306q1 8 2 97t2 104 2 7 2-51 2-45M195 312q1 32 2 89t2 112 2 38 2-101 2-43 2 20 2 13 2 35 2-55M255 321q1-31 2 74t2 76 2-19 2-35 2-62M293 346q1 10 2 63t2 28 2-47M303 415q1 61 2 52t2-54 2-87M367 456q1 104 2 30t2-19 2-25 2-42"/>
<path stroke="#1276C2" d="M9 404q1 22 2-57t2-89 2 3 2 13 2-4M33 284q1 6 2-8t2-23 2-3 2 15 2 0 2-12 2 1 2 83 2-8 2-78 2 34 2 10M89 333q1-33 2-54t2-16 2 1 2-8 2 11 2 10 2-6M105 270q1 0 2-8t2-12 2 1 2 10 2 34M139 449q1 55 2-62t2-124 2-7 2 78M163 283q1-3 2-6t2-10 2 4 2 18M213 356q1 22 2-33t2-62 2 2 2 10 2 29M227 301q1 33 2-4t2-36 2 11 2 36M241 318q1-30 2-46t2-15 2 5 2-1 2 3 2 9 2-13 2-13 2 2 2 58 2 97 2-51 2-89 2 23 2 38M299 353q1 33 2-14t2-54 2 4 2 157 2 36 2-141M313 322q1 12 2-27t2-35 2 14 2 19M331 421q1-3 2-86t2-76 2 15 2 4M351 291q1 9 2-13t2-9 2 12 2-14 2-15 2 6 2 10 2-5 2 12 2 78 2 76 2-61 2-44"/>
<path stroke="#EE5A22" d="M0 470l1-40q1-40 2 40t2 60 2-74 2-61 2 42 2 39 2-64M23 379q1-13 2 58t2 38 2-45M35 445q1 41 2-5t2-31 2 86 2-38 2-123 2 55 2 141 2-2 2-126 2 119 2 53 2-171 2-36M111 410q1 2 2-41t2 225 2 5 2-255 2 14 2 34 2 112 2-16 2-86M145 405q1-5 2 10t2 87 2 19 2-98 2-41 2 72 2 9 2-115 2-58M173 368q1-8 2 13t2 144 2-27 2-158M205 360q1-4 2 43t2 33 2 60 2 86 2-64 2-99 2-78M223 294q1 18 2 195t2 72 2-152 2-25M235 409q1 25 2 42t2 38 2 26 2-71M253 370q1-16 2 19t2 85 2 1M263 395q1-9 2 27t2 105 2 20 2-85 2-67M295 319q1 7 2 35t2 50 2-21M321 447q1 23 2 6t2 14 2-31"/>
<path stroke="#F5AE26" d="M31 354q1 26 2 39t2 73 2 55 2-78 2-85M53 374q1-70 2-92t2-25 2-3 2 71M67 387q1-55 2-91t2-25 2 9M77 326q1 4 2 39t2 155 2-8 2-173 2-59 2 11 2-2 2 5 2 50M107 272q1 4 2 3t2-8 2-7 2-2 2 31 2 21M121 292q1-6 2-11t2-14 2-12 2 8 2 1 2 14M149 275q1-11 2-8t2 12 2 0M189 474q1 72 2-79t2-137 2 4 2-6 2 44 2 3M233 318q1-54 2-60t2-10 2 6 2 28 2 77M273 303q1-9 2-21t2-26 2-9 2 12 2-2 2 8 2 14 2 13M297 311q1-27 2-28t2-9 2-11 2-2M321 333q1-41 2-59t2-18 2 13 2 27M331 293q1-17 2-21t2 3 2 11M341 276q1-2 2-9t2 22 2 47M361 275q1-5 2-2t2-6 2 45M383 288q1 0 2-17t2 13l1 30"/>
<path stroke="#9036A0" d="M21 371q1 25 2 40t2 11 2 3M29 413q1-19 2-12t2 28 2 169 2 4 2-183 2-69M57 342q1 12 2 56t2 97 2-23 2-101 2-12 2 32 2 37 2-6M85 371q1 13 2 127t2 22 2-82M119 328q1 12 2 49t2 68 2-34 2-79M143 455q1 17 2-7t2-24 2-40M153 423q1 57 2 0t2-57 2 15M169 305q1 1 2 89t2 199 2-80 2-187 2 58 2 86 2-39 2-72M267 360q1-10 2 46t2 28 2-50M285 379q1 33 2 75t2 95 2-57 2-125M295 472q1 120 2 56t2-125 2-30 2 48 2-23 2-61M373 370q1 14 2 67t2 6 2-74"/>
<path stroke="#74B43A" d="M0 434l1-25q1-25 2-34M45 347q1 33 2 64t2 21 2-26M71 362q1-12 2 11t2 64 2-5 2-60 2 87 2 71 2-37 2-89M101 378q1 0 2-2t2 83 2-6 2-75M119 307q1 5 2 82t2 11 2-61M157 315q1 1 2 60t2 58 2 147 2-53 2-195M179 373q1 67 2 113t2-43 2-94 2 42M191 389q1 5 2 62t2-33 2-99M235 310q1 0 2 108t2 7 2-114M295 437q1-39 2 4t2 57 2-48M303 364q1-24 2-38t2-20 2 8M325 374q1-48 2-65t2-1 2-7M333 284q1 6 2 1t2-11 2 4"/>
<path stroke="#22B2EA" d="M5 272q1-4 2-4t2 34 2 23M19 326q1-66 2-63t2 0 2 1 2-11 2 53 2 134M35 301q1-17 2-23t2 12 2 38M61 322q1-60 2-51t2 3 2-4M73 318q1-6 2-38t2-18 2 17 2 11M119 270q1-2 2 14t2 1 2-19M131 272q1-2 2-1t2-6 2 44 2 14M153 303q1-7 2-15t2-20 2 5 2 15M183 304q1-34 2-40t2-3 2-2 2 4 2 50 2 40M199 355q1-81 2-78t2 2 2-7M213 274q1 6 2 6t2-12 2 4M245 301q1 19 2-13t2-17 2 8M263 281q1 3 2-12t2-25 2 55 2 17 2-53 2 65 2 97M279 381q1-71 2-76t2 40 2-11M297 323q1-29 2-42t2-22 2-8 2 2 2 68 2 7M325 294q1 36 2-6t2-39 2 30 2 50M335 315q1-37 2-31t2-6 2-8 2 6 2-12 2-1 2 14 2-4 2 4 2 1M357 274q1 4 2-9t2-16 2 13 2 40 2-8 2-36 2-4 2 42 2 68"/>
<path stroke="#C41B40" d="M71 284q1 10 2 85t2 80 2-73M99 342q1 44 2 93t2-36 2-100M119 390q1 28 2 25t2 58 2 9 2-96 2-27M159 329q1-27 2-43t2-18 2 95M171 382q1-20 2-48t2-38 2 2M193 416q1 62 2 37t2 0 2-10 2-46M231 300q1-16 2 49t2 124 2 70 2-69 2-38M283 408q1 32 2 61t2-43 2-100M311 309q1-3 2 132t2 48 2-119M337 353q1 35 2 127t2 15 2-58 2 65 2-80 2-136 2 9"/>
<path stroke="#1276C2" d="M51 333q1 7 2 135t2 124 2-116 2-114 2 91 2 36 2-82M83 377q1 57 2 48t2 71 2 6 2-118 2-64M95 358q1 58 2 121t2-33 2-114M109 410q1-2 2 47t2-1 2-13 2-13 2-76M127 369q1-5 2-13t2 191 2 67 2-162 2-16M139 432q1-18 2 65t2-5 2-132 2-41M193 378q1 14 2 22t2-18 2-51M255 355q1-9 2-10t2 130 2 6 2-140 2 4M315 388q1 44 2 101t2 12 2-72 2-28M363 450q1-44 2 29t2 16 2-69"/>
<path stroke="#EE5A22" d="M3 376q1 8 2 6t2 59 2 46 2-81 2-72M29 421q1 9 2 62t2-28 2-88M71 398q1-10 2 42t2-46 2-74M97 448q1 46 2 23t2-56 2-28 2 32 2 35 2-25M119 343q1 15 2 172t2 27 2-138 2 4M143 401q1-13 2 28t2 116 2-63 2-131M153 368q1 10 2 42t2 11 2-38 2 15 2 31 2 2 2 39 2-27 2-73M175 316q1-10 2 21t2 134 2 120 2-96 2-113M191 355q1-5 2 96t2 35 2-59 2 82 2 47 2-46 2-85 2-94M235 469q1-35 2-29t2 25 2-9M245 401q1-75 2-86t2 14 2 24M271 353q1 33 2 79t2-10 2-69M303 377q1 13 2 60t2 25 2-23M337 366q1 68 2 72t2-33 2-61M347 338q1-2 2 57t2 160 2 4 2-150M377 465q1 19 2-8t2 6 2 24 2-45 2-56"/>
<path stroke="#F5AE26" d="M59 405q1 87 2 96t2-61 2-115 2-40M135 292q1 14 2 127t2 139 2-68 2-106M159 372q1-18 2 61t2 12 2-50M167 417q1 5 2 41t2-24 2-52 2 165 2 31 2-172 2-59M183 329q1-5 2 106t2 100 2-98 2-91M195 339q1 3 2-22t2-41 2 78 2 115 2 34 2-95 2-104M231 398q1 0 2 83t2 75 2-47 2-61 2-16 2-63 2-67M289 287q1-11 2-11t2 15 2 63M325 361q1-31 2 170t2 58 2-173 2-82M347 342q1 70 2 150t2 22 2-112M371 391q1-13 2-41t2 267 2-4 2-241 2 80 2-19 2-95"/>
<path stroke="#9036A0" d="M17 329q1-13 2-38t2-28 2 4 2 20 2 46M43 288q1-6 2-12t2 1 2 14M61 317q1-21 2-36t2-7 2 89 2 44M119 309q1 3 2-15t2-31 2-5 2 46 2 57 2 70 2 88 2-67 2-118 2-28 2-22 2 125M149 286q1 2 2-10t2-19 2 25 2 84M181 351q1 33 2-35t2-72 2 12 2 31 2 11M209 275q1 1 2-17t2-14 2 15 2 5 2 6M227 299q1 29 2 150t2 95 2-107 2-119 2 61 2 46 2-7 2-24 2-112 2-22 2 40M259 328q1 28 2-23t2-37 2 5M267 326q1 62 2 3t2-70 2 24 2 147 2-2 2-110M289 288q1-10 2 114t2 63 2-85M297 324q1-32 2-47t2 12 2 57M305 348q1-28 2-44t2-21 2-13 2 4M317 271q1 5 2-8t2-4 2-1 2-6 2 68 2 38M341 277q1-5 2-18t2 3 2 38 2 47 2 93 2 0 2-56M357 388q1-8 2-68t2-57 2 29M367 455q1-37 2-2t2-18 2 15"/>
<path stroke="#74B43A" d="M0 502l1-72q1-72 2-104M7 375q1 55 2 96t2-15 2-47M81 314q1 22 2 35t2 78 2-6M91 317q1 43 2 40t2 127 2 50 2-148 2-97M113 380q1-30 2-38t2 260 2-9 2-204 2-4M131 363q1 31 2 83t2-2 2-38 2 66 2-49 2-107M155 283q1 1 2-4t2 12 2 24M239 363q1 31 2 41t2-6 2-46M251 322q1-12 2-49t2 199 2 89 2-119 2-30M311 307q1 17 2 176t2 6 2-141M319 371q1 11 2 61t2 48 2 12 2-39 2-98M345 282q1 4 2 33t2 72 2 17M383 323q1-7 2 13t2 143l1 123"/>
<path stroke="#22B2EA" d="M33 335q1-39 2-61t2-16 2 12 2-5 2-11 2 38 2 65M61 310q1-18 2-42t2-13 2 17 2 26M77 388q1 92 2-23t2-115 2 9 2 33 2 20M101 301q1 15 2-10t2-35 2-7 2 13 2 10 2 8M139 301q1-23 2-28t2-5 2 0 2-1M155 303q1-9 2-25t2-6 2 11 2-13 2 8 2 37M169 296q1-34 2-35t2 7 2 27 2 3 2-20 2-8M193 270q1 0 2 58t2 66 2-44M231 338q1-12 2-47t2-28 2 63M259 296q1-14 2-28t2-3 2 56 2 4M273 316q1-32 2-43t2 19 2 54M299 371q1-65 2-87t2-13 2 45M309 316q1-4 2-17t2 26 2 56M317 410q1 12 2-59t2-81 2 8M337 295q1 1 2-21t2-16 2 45 2 26M347 355q1 39 2-23t2-71 2 7 2 56 2 24M369 370q1-66 2 130t2 57 2-162 2-76"/>
<path stroke="#C41B40" d="M0 326l1-36q1-36 2-34t2 19 2 15M9 278q1-10 2-15t2-3 2 14 2 42M23 278q1-2 2-5t2-9 2-6 2 19 2 13M45 298q1-26 2-35t2 6 2 18 2 32M69 297q1-7 2-27t2 9 2 40M91 307q1 35 2 164t2 3 2-162 2-5M109 277q1-9 2-19t2 18 2 55M117 308q1-50 2-48t2 79 2 60 2-71 2-63 2-15 2 2 2 28 2 43 2-10 2-50 2-9 2 20 2 6 2-15 2-19 2 40 2 64M171 338q1 38 2 103t2 22 2-122 2-75 2 19M185 439q1 71 2-59t2-130 2 5 2 14 2 19M209 271q1-1 2-9t2-10 2 11 2 3 2 2 2 50 2 172 2 52 2-70 2-61 2-108M247 271q1-19 2 27t2 332 2-1 2-329 2-30M295 283q1-5 2-16t2 9 2 175 2 8 2-165 2-27 2 1 2 4 2-1 2 52 2 0M331 312q1-24 2-27t2-20 2 110 2 131 2-81 2-36M357 327q1-47 2-49t2-5 2 42 2 51 2 174 2 89 2-114 2-114 2-59"/>
<path stroke="#1276C2" d="M0 490l1-70q1-70 2-78M89 373q1 65 2 84t2 83 2-14 2-46 2-41 2-91M115 382q1 14 2 60t2 30 2-1 2-35 2-66 2-25M161 287q1-17 2 13t2 206 2 111 2-150 2-81M189 384q1 40 2 77t2-21 2-63 2-26M205 387q1-9 2 7t2 29 2 1M263 338q1 40 2 91t2 23 2-37M279 334q1 30 2 105t2 55 2-79M307 344q1 6 2 64t2 22 2-60M327 443q1-1 2-28t2 162 2 23 2-207 2-67M349 348q1-36 2 18t2 55 2-43"/>
<path stroke="#EE5A22" d="M7 352q1 40 2 113t2-21 2-142 2-47 2 39 2 29M25 326q1 6 2-28t2-44 2-7 2 11 2 12 2 25M41 380q1-104 2-109t2-11 2-7 2 0 2 13 2 7 2-3 2 2 2-12 2-15 2 14 2 23 2-2M77 317q1-33 2-48t2-9 2 18 2 16M87 287q1-11 2-17t2-9 2 29 2 51 2-15 2-50 2 1 2 36M125 284q1 14 2 121t2-2 2-127 2-11 2 28 2 22M151 333q1 27 2 2t2-57 2-25 2 9 2 11 2 35M171 291q1 7 2 1t2-21 2 5 2 33M181 291q1-31 2-22t2 9 2 18 2 66M195 326q1-74 2-53t2 33 2 12M207 341q1-1 2-37t2-40 2 2 2 15 2 3M249 297q1 7 2 118t2 37 2-106M259 312q1-48 2-33t2-2 2 20 2 23M279 305q1-9 2-1t2 37 2 29M293 311q1-39 2-40t2 7 2 20M317 286q1 2 2-11t2-15 2-2 2 1 2 6 2 8 2 16M349 337q1-39 2-59t2-18 2 49M357 349q1-7 2-37t2-27 2-7 2 7 2 61 2-16M371 294q1 24 2 0t2-33 2 1 2 30 2 41"/>
<path stroke="#F5AE26" d="M87 364q1-4 2-54t2-43 2 0 2-8 2 32 2 22 2 37 2 140 2-49 2-142M163 275q1-1 2-5t2 233 2 68 2-197 2 21M205 384q1 26 2 76t2-8 2-111 2-55M241 309q1 31 2 12t2-41 2-24 2 10 2 16M257 346q1 12 2-14t2-42 2 11M273 300q1 0 2 19t2 300 2 25 2-291 2-57M287 264q1-10 2 96t2 132 2-64 2-31 2 22 2-24M301 383q1-25 2-74t2-51 2 4 2 19 2 8M325 376q1-46 2-78t2-31 2 4 2 3 2 3 2 17M351 362q1 10 2 73t2-34 2-114M385 282q1 18 2 45l1 27"/>
<path stroke="#9036A0" d="M0 390l1-15q1-15 2-21M23 322q1 8 2-17t2-37 2 63 2 125 2-24 2-63M65 317q1 5 2 89t2 59 2-5M89 372q1-16 2-52t2-41 2 5M119 414q1-14 2 74t2 44 2-89 2-75M141 413q1 87 2 39t2-59 2-41M197 432q1 14 2-6t2 37 2-16M265 347q1 29 2 75t2 178 2-31 2-167 2-48M319 358q1 8 2 72t2 14 2-6M345 414q1-4 2 66t2 21 2-54 2-47M379 385q1 37 2 47t2-53 2-83"/>
<path stroke="#74B43A" d="M0 442l1-17q1-17 2-49t2-39M23 339q1 17 2 104t2-12 2-103M35 338q1-4 2 122t2 53 2-135 2-66M55 407q1-17 2 17t2-4 2-76M85 395q1-39 2 18t2 50 2-73 2-85M107 406q1 10 2-34t2-72 2-2M149 326q1-60 2-61t2 8 2 52M185 269q1-3 2 28t2 206 2 1 2-169 2-23M201 396q1 78 2 47t2-86 2-20M239 376q1 24 2 40t2-32 2-16M259 384q1 50 2 85t2-14 2-50 2 78 2-42 2-138M325 272q1 6 2 0t2 3 2 17M355 382q1 22 2 88t2-1 2-25"/>
<path stroke="#22B2EA" d="M9 348q1 72 2-9t2-79 2 30 2 38M25 279q1 5 2 34t2 120 2-22 2-127M49 276q1 4 2 123t2 12 2-121M105 297q1-29 2-30t2-2 2-3 2 30 2 11M117 279q1-3 2-3t2-22 2 131 2 49 2-26 2-30M147 297q1-15 2-21t2-13 2-2 2 38 2 149 2-12 2-142 2-23 2-13 2 108 2 72M201 292q1 0 2 13t2 17 2-30 2-34 2 7 2 22M219 279q1 15 2 125t2 61 2-111 2-77 2-22 2-9 2-2 2 19 2 31 2-14 2-15 2 13M251 365q1-31 2-62t2-40 2-12 2-3 2 32 2 45M273 292q1 20 2 67t2 103 2-24 2-10M313 310q1-40 2-47t2-2 2 10 2 5 2-7 2 7M335 407q1 11 2-64t2-84 2 11 2 14 2-14 2 80 2 3 2-83 2-6 2-7 2 17 2 15M361 280q1-8 2-12t2-2 2 34 2 16M379 395q1-93 2-115t2 9 2 112 2-3l1-84"/>
<path stroke="#C41B40" d="M0 326l1 40q1 40 2 125t2-53 2-141M19 365q1 29 2 55t2 31 2-47M31 390q1-38 2 15t2 18 2 57 2 123 2-84 2-124 2 1M47 381q1-25 2 41t2 129 2-23 2-108 2-5 2 85 2 32 2-49 2-71M85 422q1 8 2 31t2 32 2-56 2-53 2 30M115 395q1-15 2 42t2 133 2-55 2-138 2-9 2 108 2-22 2-133M135 342q1 2 2 65t2 52 2-87M153 386q1 42 2 67t2-28 2-53M165 334q1 38 2 130t2 32 2-105M191 346q1 12 2 43t2 49 2-5 2-45M201 356q1-10 2-17t2 208 2 16 2-56 2-33 2-81M217 412q1-34 2-87t2-49 2 5 2 22M235 425q1 37 2 40t2-24 2-59M279 350q1-4 2 104t2 11 2-126M323 386q1 20 2 51t2 107 2-17 2-114 2-12 2 77 2 24 2-43 2 47 2-29 2-91M373 350q1-10 2 57t2 102 2-13 2-40 2 35 2-4 2-78"/>
<path stroke="#1276C2" d="M0 264l1-2q1-2 2 13M15 345q1 31 2-20t2-63 2-4 2 33 2 6 2-25 2 1 2 12M63 321q1 27 2-19t2-44 2 57 2 63M87 278q1 2 2 8t2-3 2-6 2 5M101 283q1-3 2-8t2 25 2 17M109 287q1-17 2-21t2-1 2 18 2 0M129 372q1-42 2-82t2-30 2 12M137 290q1 16 2-8t2-26 2 3 2 4 2-5 2-2 2 5 2 27M165 299q1 3 2-16t2-17 2 4M197 289q1 11 2 53t2 108 2-35 2-124 2-29 2-11 2 10 2 37M223 285q1-5 2-10t2-5 2 14 2 149 2 23 2-115M237 380q1 42 2-43t2-81 2 3 2 10 2 41 2-1M253 346q1 8 2-36t2-41 2-5 2-7 2 5 2 11 2 20 2 9 2 83 2 41 2-103 2-56 2-2 2-10 2 4 2 6 2-2 2 11 2 18M299 374q1-86 2-100t2-3 2 30M311 376q1 40 2-39t2-72 2 9M331 273q1 3 2 155t2 55 2-118 2-25M371 302q1-6 2-24t2-27 2-6 2 7 2 0 2-1 2 20 2 9l1-8"/>
<path stroke="#EE5A22" d="M9 376q1 30 2 92t2 3 2-97 2-54M25 362q1-22 2-22t2 254 2 6 2-289 2-17 2 82 2 18 2-67M57 313q1 13 2 94t2 117 2 1 2-133 2-86M89 296q1 18 2 49t2 182 2-6 2-184 2-21M109 361q1-59 2-70t2-1 2 36M129 344q1-16 2 36t2 102 2 23 2-106 2-80M155 332q1-18 2-28t2 173 2 54 2-177 2-24M175 330q1 12 2 50t2 133 2-4 2-149 2-49M287 329q1-59 2-63t2 0 2 3M309 296q1-12 2-19t2 31 2 56 2 135 2 36 2-65 2-83M335 356q1-34 2-54t2-17 2 3M355 293q1 17 2 0t2-22 2 66"/>
<path stroke="#F5AE26" d="M23 338q1-20 2-37t2-18 2-3M53 337q1-7 2-38t2-13 2 28 2 69 2 132 2-6 2-110 2-36M81 398q1 18 2 30t2-65 2-61M95 365q1 39 2 65t2-44 2-87M111 263q1-9 2 156t2 177 2-133 2-156M123 392q1 28 2-28t2-76 2 14M135 328q1 32 2 64t2 60 2-48 2-69M187 360q1-78 2-83t2 23 2 50M199 309q1 23 2 105t2-4 2-75 2 53 2 41 2-51 2-18M225 414q1 32 2 69t2-77 2-125 2-8 2 2 2 38M243 363q1 37 2 131t2-7 2-138M253 426q1 44 2 14t2-22 2 174 2-22 2-163 2 0M279 283q1-11 2-12t2 26 2 46"/>
<path stroke="#9036A0" d="M0 276l1 43q1 43 2 73t2-27M7 288q1-20 2-20t2-5 2 6 2 13M21 360q1 80 2-11t2-98 2-3 2 14 2 9 2 11 2 0 2-12 2-1M59 294q1-16 2-23t2-5 2 12 2-9 2-19 2 12 2 27 2 23M79 286q1-8 2-4t2-13 2-5 2 38M129 292q1-12 2-24t2-6 2 15 2 24 2 17M149 329q1-19 2-41t2-22 2 91 2 36 2-90 2-2 2 137 2 17 2-126M173 322q1 16 2 179t2 119 2-201 2-162 2-4 2 4 2 1 2 18 2 78M209 305q1 11 2-16t2-7 2 25M229 366q1-42 2-53t2-38 2-21 2 15 2 18 2 55 2-11 2-66 2 4 2 12M253 284q1 8 2-4t2-13 2 14 2 30M265 325q1 17 2-20t2-35 2 6M295 305q1-19 2 207t2 67 2-209 2-75M305 277q1 7 2 4t2-13 2-7M315 284q1-12 2-19t2 18 2 35 2-27 2-5 2 59M331 278q1 2 2 27t2 0 2-27M355 282q1-4 2-8t2-13 2-9 2 1 2 8 2 65M369 383q1-1 2-64t2-55 2 12 2-12 2-17 2 84 2 140 2-45 2-113l1-13"/>
<path stroke="#74B43A" d="M0 478l1-61q1-61 2-53t2 20M9 328q1 12 2 135t2 5 2-82 2 38 2-63 2-41 2 36M27 313q1 1 2 1t2-10 2 43 2 80 2 143 2 110 2-153 2-175 2-43M95 300q1-4 2-10t2-3 2 28M103 331q1-9 2 51t2 51 2-32M123 411q1 3 2 32t2 28 2-49M141 311q1-21 2-32t2 67 2 83 2 28 2-67 2-94M189 335q1-5 2 18t2 251 2-40 2-221 2 14M201 325q1 1 2 48t2 12 2-51M215 395q1 41 2 60t2 6 2-44M245 344q1 26 2 76t2-17 2-90M289 404q1 84 2 60t2-71 2-73M303 333q1-43 2-50t2 67 2 24M349 334q1 2 2 100t2 48 2-109 2-57M373 316q1-2 2-23t2-18 2 0 2 1 2 12 2 35"/>
<path stroke="#22B2EA" d="M3 309q1-33 2-26t2 33 2 22M17 347q1-39 2-65t2-27 2 23 2 64 2 18 2-58 2-36 2 10 2 4M39 272q1 4 2 24t2 15 2-21M55 311q1-45 2-43t2 33 2 17 2-29 2-18 2-9 2 6 2 13M77 389q1 105 2 72t2-123 2-78 2 30 2 6M89 281q1-3 2-6t2-11 2 5 2 28 2 7 2 16M113 364q1-20 2-63t2-50 2 34 2 68M133 279q1 9 2 2t2-19 2-4 2 62 2 29 2-59 2-39 2 9 2 19 2 3 2-19 2-2 2 84 2 13M165 297q1-11 2-23t2-4 2 10M181 290q1-18 2-20t2 14 2 62M191 355q1-83 2-89t2 39 2 39 2-46 2 6 2 79 2 49 2-47 2-100 2-27 2 30 2-1 2-8 2 3 2-16 2 9 2 6 2-18 2-6 2 28 2 128M243 308q1-6 2-24t2-8 2 6 2-21 2-9 2 22 2 14 2-5 2-22 2-1 2 48 2 11M287 315q1-41 2-44t2-6 2-7 2-1 2 20 2 17 2 96 2 6 2-26M309 297q1-17 2-21t2-16 2-15 2 18 2 29 2-7M327 376q1-94 2-110t2-4 2 13 2 67 2 85 2-63 2-89 2 14M353 302q1-20 2 85t2 8 2-49M367 466q1 88 2-70t2-124 2 28M377 314q1-30 2-42t2-12 2 27 2 106 2 21l1-58"/>
<path stroke="#C41B40" d="M41 365q1-49 2-63t2 3 2 7M57 316q1 20 2 104t2 23 2-99M67 298q1 2 2-9t2-15 2 7 2 41M99 398q1 48 2 43t2-9 2-53M201 321q1-11 2-30t2 21 2 93 2-35 2-99 2 2M249 275q1-15 2 12t2 56 2-3M279 367q1 3 2 54t2 84 2-76 2-107M293 316q1 54 2 223t2 43 2-148 2-21M303 449q1 35 2 2t2 33 2 42 2-64 2-87M323 358q1 2 2 91t2-40 2-121M331 324q1 28 2-3t2-14 2 17M345 271q1 1 2 8t2 58 2 18"/>
<path stroke="#1276C2" d="M0 548l1-69q1-69 2-53t2 59 2-23 2-61 2 31 2 127 2 38 2-142 2-83M39 390q1 6 2 92t2-9 2-121M77 447q1-5 2-10t2-54 2-42 2 40 2 102 2-25 2-119M93 340q1 26 2 63t2 33 2 26 2-28 2-94M163 342q1 2 2 106t2 91 2-46 2-63 2 10 2 8 2-52M179 396q1 20 2 66t2 34 2-57M187 396q1 2 2 46t2 78 2-37 2-50 2 43 2-16 2-68 2-28M215 319q1-11 2 26t2 54 2 19M235 362q1 50 2 181t2-45 2-182M293 451q1 47 2 58t2 79 2-66 2-158M313 406q1-6 2 38t2-12 2-65M343 425q1 5 2 50t2-25 2-72 2 35 2 64 2 7 2-53M377 361q1 1 2 2t2 56 2 7 2-39"/>
<path stroke="#EE5A22" d="M43 393q1 39 2-39t2-82 2 4M57 367q1 29 2 80t2-51 2-77M89 291q1 13 2 85t2-12 2-89 2 6 2 15 2 3M113 363q1 27 2 98t2-16 2-74 2 35M145 322q1 12 2-24t2-37 2 1 2 76 2 38M165 319q1 21 2 46t2 30 2-39M201 292q1 18 2 85t2 61 2-67M227 350q1 4 2-27t2-48 2-21 2 1 2 33 2 63 2-5 2-57 2-13 2 8M249 291q1 3 2-7t2-15 2 10M305 272q1-2 2 7t2 82 2 35M313 329q1-29 2-23t2 8 2-5 2 59 2 21 2-56M341 282q1-6 2-7t2 0 2 28"/>
<path stroke="#F5AE26" d="M3 296q1-12 2-11t2 18 2 61M17 281q1-7 2 29t2 120 2-23M39 306q1-34 2-42t2-3 2 25 2 46 2 67 2-25 2-83 2-6 2 64 2 5M67 293q1-9 2-12t2-10 2-11 2 74 2 70 2-16M135 325q1 3 2-25t2-18 2 38M143 341q1-7 2-43t2-39 2-3 2 101 2 60M157 358q1 22 2-37t2-62 2-3 2 49 2 53M179 349q1 5 2 13t2 16 2-13M199 304q1-34 2-42t2 55 2 152 2-39 2-112 2 79 2 188 2-22 2-187 2 10 2 0 2-76 2-20M231 288q1 10 2 75t2 179 2 67 2-159 2-143 2 1M303 278q1-2 2 24t2 171 2 33 2-165 2-32M317 390q1 64 2 46t2 26 2-13 2-115 2-59 2 55 2 36M341 280q1-10 2 21t2 33 2 5M371 293q1-9 2-18t2-11 2 62M385 330q1-14 2-36l1-22"/>
<path stroke="#9036A0" d="M0 420l1 31q1 31 2-64t2-107 2-2 2 19M21 435q1-89 2-130t2-39 2 20 2 14M35 380q1 18 2-50t2-67 2 4 2 134 2 116 2-88 2-122M51 300q1 42 2 143t2 41 2-106M81 317q1 39 2 91t2-37 2-17M89 427q1 1 2-79t2-89 2 114 2 130 2-12 2-60 2-67M107 368q1-70 2-84t2-13 2 1M123 319q1-9 2 42t2 137 2-54 2-152 2 24M135 355q1 3 2 37t2 115 2 8 2-143 2-76M163 360q1 4 2-20t2-7 2-12M179 312q1 4 2 72t2 121 2-14 2-105 2-75M191 273q1-1 2 7t2 11 2 44M221 322q1-14 2-39t2-24 2-1 2 7 2 63 2 53M243 372q1 32 2 162t2-21 2-191 2-22 2 64 2-7M259 300q1-32 2-7t2 189 2 107 2-159 2-62M273 334q1-68 2-56t2 5 2-8M329 275q1-5 2-5t2 20 2 59M365 358q1-24 2 43t2 131 2-56 2-147M377 332q1-18 2-44t2-28 2 7 2 53 2 50"/>
<path stroke="#74B43A" d="M19 418q1-12 2 12t2-19 2-50M91 426q1 14 2 44t2-40 2-100M235 386q1 40 2 61t2 5 2-33 2 109 2-14 2-142 2 29M269 373q1 13 2-46t2-55 2 48 2 84M295 280q1 12 2 62t2 156 2 19 2-149 2-37M307 387q1 31 2 18t2-50 2-17M327 394q1-2 2 7t2 87 2-26 2-132 2-21 2 22M349 398q1 32 2 89t2 28 2-94M377 348q1-16 2 10t2 57 2 9"/>
<path stroke="#22B2EA" d="M31 286q1-2 2-10t2 2 2 88 2 48 2-55M61 331q1-19 2 64t2 18 2-112M79 354q1 8 2-19t2-44 2-22 2 129 2 42 2-132M151 316q1 18 2 19t2 271 2 4 2-297 2 59M169 355q1-11 2 55t2-4 2-64M199 389q1-25 2 55t2 18 2-71 2-14M249 378q1 30 2 129t2 101 2-150 2-154M271 311q1 25 2 213t2 81 2-194 2-99M289 317q1-29 2-41t2 25 2 43 2-24 2 1 2 48M303 356q1-30 2-35t2-7 2 31M315 384q1 100 2 32t2 75 2-54 2-176 2 26 2 101 2 99 2-27 2-80 2-49 2-2 2-21M379 356q1-24 2 29t2 0 2-75"/>
<path stroke="#C41B40" d="M7 372q1-58 2-79t2-24 2 24 2 45M23 350q1 18 2 81t2 6 2-72M35 340q1 36 2 68t2-14 2-54M59 312q1-44 2-40t2 18 2 48M91 461q1-33 2 13t2 2 2-75 2-65M131 409q1 9 2 42t2-7 2-34M161 320q1-14 2 95t2 40 2-18 2-5 2-110 2-41M179 307q1-19 2 73t2 137 2-77 2-143M209 290q1 24 2 22t2 17 2-4M219 368q1 32 2 95t2-5 2-72M249 326q1-32 2-51t2-2 2 56 2 1M279 378q1-58 2-64t2 9 2 14M327 385q1 15 2-7t2-51 2-38M353 315q1-11 2-24t2 2 2 128M363 396q1-54 2 150t2-32 2-232 2 7M381 415q1-49 2-80t2-48 2 3"/>
<path stroke="#1276C2" d="M7 335q1-9 2 88t2 30 2-16 2-1 2-51 2 19 2-14 2-31 2-2M45 404q1 28 2 26t2 24 2 0 2-73 2-29 2 102 2 17 2-84M81 416q1-4 2 45t2 78 2-25 2-94 2-38 2 55 2 4 2-28 2 132 2 62 2-164 2-64M123 370q1 8 2 24t2 35 2 3M135 364q1 34 2 47t2 48 2 2M143 390q1-38 2-3t2 83 2 4 2-45 2-46 2-58 2 30M179 322q1-4 2 17t2 38 2-2M207 308q1-38 2 16t2 156 2 6 2-117 2-30M225 318q1 10 2 55t2 99 2 5M285 371q1 63 2 84t2-58 2-76M297 444q1 18 2 50t2 129 2-97 2-202 2-3M329 471q1 11 2 30t2-56 2-93M349 387q1-43 2-33t2 18 2 17M359 374q1-4 2-36t2-27 2 125 2 111 2-74 2-86"/>
<path stroke="#EE5A22" d="M0 344l1 102q1 102 2 30t2-125 2-66M9 310q1 38 2 7t2-45 2 11 2 35 2-22 2-22M23 282q1-2 2-1t2 2 2-4M39 324q1 62 2 93t2-37 2-84M57 336q1-66 2-75t2 50 2 41 2-53 2-33 2 25M79 286q1-14 2-9t2 7 2-17 2-7 2 20 2 17 2-8 2-13 2 57 2 84 2-71 2-96 2 10 2 3 2 4 2 13 2-1 2-10 2 21 2 5 2-23 2-14 2 7 2 20M129 278q1-12 2-17t2 15 2 44 2 29M139 414q1 60 2-52t2-103 2-4 2-12 2 26 2 112 2 74 2-89 2-65 2 1 2-16 2 1M165 297q1 3 2-9t2-16 2 45M179 305q1-31 2-33t2-13 2-14 2-2 2 11 2 7 2-9 2 12 2 38 2 2M217 301q1 3 2-10t2-25 2-6 2 26 2 26 2 133 2-18 2-125M237 399q1 49 2-29t2-94 2-14 2 64 2 40M251 346q1 2 2-37t2-41 2-4 2 10 2 25 2-6 2-17 2-3 2-13 2 65 2 83 2-32M291 286q1-4 2-9t2-15 2 0 2 8M303 305q1-23 2-37t2-17 2 9 2 16 2 4M317 299q1 21 2 23t2 158 2-40 2-184 2 45 2 8 2-34 2 50 2-3 2-43 2 43 2-19M345 296q1 10 2-16t2-18 2 17M355 274q1 0 2-12t2-16 2 4 2 18 2 28 2 40 2-10 2-42 2-23 2-13 2 14 2 8 2-6 2-1 2 39 2 22"/>
<path stroke="#F5AE26" d="M1 303q1 17 2 9t2-15 2 75 2 48M15 272q1 4 2 21t2-9 2-13 2 14M27 273q1 3 2 2t2-7 2-3 2 11 2 31 2-5M47 372q1 10 2-37t2-53 2 16M57 360q1 32 2 113t2-18 2-105 2-15M75 283q1-11 2-4t2 230 2 121 2-217 2-46 2 63 2-52 2-72 2-29 2-14 2-12 2 6 2 8 2 47 2 91 2-43 2-85 2 6M119 320q1 36 2 18t2-40 2 27 2 93 2-23M133 298q1 28 2 73t2 50 2-49 2-69M151 332q1-18 2-39t2-27 2 19 2 9M171 351q1-35 2-63t2-16 2 6 2-8 2-4 2 8M243 308q1 26 2 158t2 133 2-180 2-154 2 14 2 40 2 14 2-53 2 9 2 78 2-25 2-90 2 1 2 27 2 18 2-7 2 5 2 8 2 16 2 146 2-20 2-158M301 341q1-35 2-26t2 12 2-16 2-28 2-19 2 2 2 25 2 21M325 321q1 23 2-14t2-40 2-2 2 8 2 10 2-8M341 332q1-8 2-48t2-26 2 39 2 13M355 307q1-19 2-28t2 2 2 2 2-11M365 309q1 39 2-11t2 122 2 28 2 3 2-10 2-155 2-6M381 265q1-7 2-5t2 40 2 26"/>
<path stroke="#9036A0" d="M0 294l1-2q1-2 2-21t2-16 2 43 2 61M15 303q1-35 2-25t2 106 2 53M23 347q1-47 2-60t2-26 2 90 2 52 2-87 2-48 2-5 2 27 2 70M49 313q1 3 2-20t2-24 2-6 2 30M63 308q1 30 2-6t2-34 2 15M77 368q1 62 2-24t2-80 2 22 2 61M89 335q1-59 2-63t2-5 2 0 2 3 2 7 2-2 2-12 2 26 2 51M113 377q1 67 2-19t2-85 2 2 2 5 2-12 2-17 2 12 2 26 2 31 2-16 2-35 2 18 2 32 2-17 2-37 2-16 2 116 2 226 2-72 2-115 2-54 2-87 2 21 2-8 2 1 2 11 2-7 2-11 2 9M175 345q1-21 2-46t2-29 2-12 2 1 2 14 2 3 2 25 2-8 2-38 2 3 2 41 2 8 2-31M223 355q1-49 2-66t2-15 2-4 2-7 2 15 2 18 2-7M243 362q1 20 2-34t2-65 2 2 2 9 2-7 2 0 2 27 2 27M269 315q1-21 2-34t2-29 2 165 2 42 2-171 2-27 2 17 2 9M287 277q1-7 2-8t2-3 2 52 2 5M313 389q1 11 2-55t2-67 2 24 2 32M325 294q1-18 2-18t2 0 2-5 2-14 2-9 2 78 2 9 2-63 2 20 2 76 2 1M351 324q1-12 2-44t2-29 2 12 2 10 2 84 2-11 2-84 2 15 2 19 2 76M375 320q1 0 2-16t2-32 2-21 2 0 2 23 2 21"/>
<path stroke="#74B43A" d="M0 382l1-34q1-34 2-25M11 412q1 40 2 8t2-62 2-30M21 311q1 15 2 80t2 30 2-62M33 394q1 26 2 28t2 84 2-23 2-89 2 32M53 381q1-41 2-13t2 64 2-6 2-51M81 422q1 10 2-15t2-56 2-13M97 369q1-7 2 39t2-14 2-51 2 28 2 97 2-2 2-111 2 0M117 384q1-70 2 29t2 61 2-87 2-38M163 382q1 20 2 67t2 15 2-53 2-59M177 410q1-12 2 4t2 19 2-8 2-61 2-61 2 24 2 23M195 356q1 4 2 10t2-25 2-50M207 378q1-18 2 23t2 3 2-55M219 421q1-53 2-78t2 71 2 93M301 319q1-13 2-11t2 27 2 39 2 179 2 17 2-168 2-57M341 297q1-15 2-8t2 14 2 25M363 344q1 14 2 80t2 66 2-78M385 416q1 10 2 33l1 23"/>
<path stroke="#22B2EA" d="M0 376l1 38q1 38 2 18t2 7M9 344q1-28 2-11t2 246 2-2 2-234 2-29 2 19 2 85 2-16 2-81 2-41 2 36 2 1M47 314q1-48 2-30t2 31 2 1M55 300q1-4 2-14t2-15 2 55 2 88 2 19 2-68M69 291q1-15 2-12t2 44 2 84M81 326q1 20 2 58t2 180 2 7 2-176 2-75M105 377q1 19 2-30t2-60 2-8 2 79 2 124 2-42 2-121 2-26M141 342q1-30 2-46t2-14 2 40M151 330q1-4 2 90t2 31 2-116M159 339q1 57 2 83t2-28 2-70M183 290q1-4 2 49t2 178 2 27 2-148 2-65 2 31 2 69 2-30M217 421q1 19 2-25t2 234 2-21 2-224 2 32M239 303q1 5 2 50t2 120 2 14 2-132 2-81 2-6 2 76M267 340q1 22 2 118t2 9 2-106M287 327q1-49 2 69t2 35 2-70M307 375q1-35 2 6t2 64 2 76 2-93 2-73 2 87M341 357q1-31 2-41t2 7 2 38M359 301q1-1 2-3t2 23 2 14M383 373q1-5 2 73t2 29l1-49"/>
<path stroke="#C41B40" d="M0 278l1-11q1-11 2 4t2 20M7 309q1 13 2-6t2-23 2 0M17 281q1-11 2 87t2 88 2-89 2-57 2-12 2-35 2-1 2 39 2 60M39 377q1-23 2-62t2-40 2-2 2 44 2 47M61 284q1 0 2-14t2-19 2 5 2 23 2 1 2-21 2 0 2 12 2-9 2 46 2 72 2 26 2-54M89 308q1 22 2-8t2-38 2 23 2 60M107 363q1 93 2 77t2-101 2-70 2 10 2 18 2 94M121 383q1-79 2-106t2-7 2 28 2 19 2-22 2-26 2 67M137 407q1 11 2-65t2-77 2 2 2-1 2 7 2 2M157 283q1 3 2-6t2 13 2 67 2-34 2-73 2 14 2 7 2 1 2 2 2 45 2 10 2-46 2-6 2-4 2-10 2 47 2 28 2-57 2-31 2 43 2 9 2-37 2-11 2-2 2 49 2 44M213 295q1 17 2-5t2-26 2-5 2 31 2 103M227 348q1-26 2-46t2-23 2-17 2-18 2 5 2 16 2 69M245 348q1-12 2-37t2 7 2 51M255 365q1-29 2-65t2-30 2 17M267 378q1-4 2-48t2-65 2-9 2 35 2-2 2-15 2 40 2-13 2-44 2 12 2 55 2-6 2-52 2-13 2 94 2 24 2-77M303 324q1 28 2-10t2-43 2 0 2 3 2-6 2 0 2 7 2 24 2-7 2-26 2-3 2 38 2 170 2 38 2-67M337 363q1-59 2-73t2-18 2 2M345 284q1 4 2-10t2-7 2 8 2 12M357 301q1-21 2-21t2-16 2-11 2 9 2 28 2 20 2-26 2-7 2 3 2-8 2 7 2-11 2-5 2 13 2 11l1 7"/>
<path stroke="#1276C2" d="M0 270l1-4q1-4 2 5M5 292q1 12 2-1t2-16 2 20 2 3 2-17 2 4M19 277q1-9 2 14t2 20 2-29 2-36 2 139 2 81 2-114 2-40 2 9 2-14 2-33 2-16 2-3 2 0 2 21 2 17M57 318q1-32 2-43t2-17 2 6 2 43 2 1 2-34 2 11 2 13 2 0M77 319q1 19 2-12t2-31 2 1M87 342q1-28 2-29t2 27 2 3 2-44 2-16 2 19 2-3M109 344q1 28 2-1t2-55 2-34 2-4 2 17 2 0 2-10 2 13 2 11 2 1M133 355q1 55 2-5t2-69 2 11M147 277q1-5 2-10t2-2 2 17 2 54 2-12 2-49 2 6 2 4M175 374q1 28 2-40t2-61 2-3 2 30 2 47M191 301q1-29 2-31t2 12 2-2 2-9 2 3 2-8 2 12 2 27 2 47 2 66M221 339q1-15 2-44t2-34 2-12 2 103 2 66M235 316q1 12 2-16t2-38 2 2 2 9 2-8 2-12 2 17 2 34 2 19M257 352q1-18 2-36t2-28 2-14 2 0 2 17M291 403q1 53 2-16t2-80 2-9 2-15 2-7 2 4M311 272q1-10 2-12t2 11 2 67M329 271q1-3 2-6t2 15 2 9 2-15M341 340q1 0 2-22t2-12 2 75 2-20 2-97 2 1 2 34 2-7 2-26 2-8 2-12 2 58 2 58M379 344q1 70 2-18t2-77 2 16 2 11l1 6"/>
<path stroke="#EE5A22" d="M0 308l1 59q1 59 2 83t2-16 2-40M15 331q1 37 2 116t2-11 2-99M37 362q1-52 2-70t2 12 2 45 2 13M63 342q1-20 2 44t2 75 2 29 2-90 2-111M77 308q1 30 2 82t2 34 2-46M89 435q1 71 2 34t2-103 2-34M97 396q1 32 2 65t2 33 2-82 2-73M117 346q1 40 2 94t2-20 2-102M181 341q1 29 2 92t2 7 2-27 2-47M193 293q1 13 2 47t2 73 2 69 2 20 2-32 2-22 2-54 2-44M211 392q1 32 2 60t2 52 2-24 2-85 2-27 2 7 2 93 2 110 2-108 2-149M235 286q1-10 2-13t2 37 2 34M249 338q1-36 2-47t2 16 2 10 2-27 2 7 2 39M293 362q1 14 2 119t2 74 2-110 2-97 2-17M315 326q1-16 2 100t2 32 2-117M327 333q1 5 2 12t2 93 2 49 2-82M359 348q1-18 2-14t2 199 2 27 2-207 2-15"/>
<path stroke="#F5AE26" d="M7 394q1 42 2-11t2-66 2-24M19 277q1-1 2-7t2-5 2 34 2 64 2 12M39 289q1 11 2 7t2 10 2 85 2 52M51 318q1-6 2 47t2-2 2-59M67 323q1-33 2 8t2 278 2-72 2-257 2 39 2-25 2-26 2 18 2 99 2 10 2-46M91 346q1-14 2 57t2 55 2-41 2-82M125 321q1 29 2 84t2 6 2-38 2 8M137 310q1-32 2-31t2 3 2 27M145 369q1 35 2-24t2-70 2 32M159 347q1-89 2-71t2 66 2 24M169 290q1-26 2-30t2 3 2 30 2 163 2 61 2-161 2-71M187 293q1-7 2-23t2-11 2 84 2 0 2-50 2 34 2 20M203 348q1-14 2-46t2-13 2 8M227 286q1-4 2-14t2-9 2 58 2 109M249 377q1-19 2-64t2-29 2 13 2-1 2-10 2-15 2 32 2 19 2-26 2-18 2 36 2 30 2-20 2-24M301 372q1 20 2-22t2-13 2 42M333 369q1 3 2-49t2-49 2 28M357 324q1 30 2 1t2-8 2 3 2-40 2-22 2 7 2 69 2 23M383 333q1-1 2-9t2 2l1 10"/>
<path stroke="#9036A0" d="M0 442l1 23q1 23 2-23t2-36 2 49 2 139 2-57 2-155 2-28M29 407q1 11 2-4t2 15 2-22 2-55M75 411q1 5 2 37t2-14 2-73M91 387q1-33 2-30t2 34 2 48 2-21M109 374q1 6 2 61t2 52 2 135 2 51 2-207 2-130 2 23M135 364q1-44 2 67t2 39 2-110M145 364q1-28 2-25t2 26 2 38M155 373q1-45 2 77t2 83 2-76 2-12 2 150 2-14 2-181 2-52 2 22 2 165 2 46 2-154 2-57 2 48 2 49 2-45 2-35M211 374q1 34 2 25t2-21 2-9 2 45 2 18M235 344q1-18 2-26t2 14 2 48M249 312q1 14 2 88t2 37 2-65M271 460q1 28 2 33t2-7 2-66M287 357q1-9 2-22t2 6 2 43M301 345q1-15 2-15t2 13 2 48 2 58 2-15 2-46M321 405q1-39 2-45t2 130 2-8 2-144 2 37 2 91 2-20 2-109 2-29M349 446q1 2 2 2t2 9 2-17 2-51 2 165 2 14 2-199 2-29M377 330q1 14 2 32t2-16 2-16"/>
<path stroke="#74B43A" d="M0 428l1-23q1-23 2-13M9 377q1 41 2 38t2-27 2 30 2 66 2-48 2-91M51 391q1 23 2 50t2 54 2-39 2-85M73 419q1 67 2 47t2-21 2-12 2-35 2-54 2 3 2 112 2 12 2-99M135 363q1 17 2 65t2 44 2 81 2 13 2 41 2-67 2-189 2-45 2-31 2 16 2 22M165 381q1 35 2 66t2 90 2-47 2-135 2 1M187 361q1 27 2 81t2-18 2-71M201 373q1 35 2 40t2 3 2-36 2-25 2 90 2 40 2-80 2-28M235 420q1 20 2 31t2-11 2-31M251 359q1 11 2 10t2 158 2 45 2-180 2-16 2 71 2-53 2-90M271 363q1 23 2 27t2 51 2 17M279 391q1-37 2-23t2 180 2 22 2-167 2-33M319 374q1 24 2 47t2 36 2-10 2-57 2-44 2-7 2-1M375 317q1 33 2 107t2 94 2-86 2-107M385 403q1 79 2 103l1 24"/>
<path stroke="#22B2EA" d="M0 518l1 76q1 76 2-75t2-154 2 7 2-2 2-54 2-39M29 364q1 36 2 65t2 51 2-50 2-91 2 103 2 55 2-120 2-55 2-16M59 282q1-8 2 1t2 40 2 24M75 296q1-10 2 55t2 133 2 6 2-135 2-62M117 379q1 19 2 45t2 2 2-77M167 379q1 21 2 5t2-65 2-46M177 334q1 0 2-24t2 32 2 87M185 381q1-79 2-74t2 23 2 33M193 363q1-15 2-63t2 9 2 128 2-19 2-100M227 325q1 9 2-17t2 4 2 106 2 11 2 132 2 104 2-152 2-141 2-79 2 38 2 68 2 114 2-24 2-138M263 347q1 41 2 114t2-1 2-118 2-47M311 312q1 38 2 75t2 109 2-44 2-135 2 15M341 338q1 8 2 14t2 197 2 9 2-179 2 8M363 302q1-20 2-24t2 20 2 53M373 310q1 8 2 59t2 39 2 66 2 67 2-100 2-109 2 12l1 32"/>
<path stroke="#C41B40" d="M0 292l1 65q1 65 2 64t2-45M9 354q1 44 2-24t2-66 2 8 2 5 2 10 2 16M25 314q1-8 2 15t2-2 2-33M37 311q1-33 2-38t2 0 2-5 2-4 2 25 2 3 2-19 2 34 2 35M57 320q1-20 2-33t2-12 2 37M65 339q1-9 2-28t2-18 2 32M85 280q1-2 2-3t2-18 2-16 2 15 2 20 2-12 2-17 2 32 2 19 2 46M115 317q1 27 2 85t2-26 2-99 2-16 2 52 2 56 2-25 2-30M139 312q1 38 2 138t2 81 2-131 2-122 2-13 2 21 2 51 2-10 2-40 2-9 2 14 2 36 2-13 2-42 2-10 2 14M173 272q1-16 2-13t2 10 2 9 2-2 2 34M195 321q1-39 2-35t2-5 2 34M203 365q1 7 2-40t2-51 2-5 2 1M219 309q1 17 2-8t2-49 2 176 2 21 2-183 2-10 2 1 2 9 2 11 2-2 2-13 2 24 2 48 2-15 2-35 2 0M265 294q1 0 2-10t2 2 2 8M273 283q1-7 2 0t2 22 2 47M283 319q1-41 2-53t2-11 2 16 2 16 2 11M295 290q1-18 2-26t2 3 2 10 2 48M307 324q1-46 2-55t2-6 2 2 2 3 2 27M327 354q1 30 2-21t2-67 2-18 2 17 2 8 2-14 2 0 2 8 2 0 2-11 2 3 2 14 2 55 2-7 2-46 2 45 2-7 2-48 2-5 2 11 2 0 2-16 2-6 2 13 2 37 2 1M381 305q1 29 2 9t2-33 2-6"/>
<path stroke="#1276C2" d="M7 341q1-51 2-60t2 20 2 9 2-24 2 58 2 34 2-61 2 211 2 81 2-218 2-66 2 49 2 75 2-25 2-67M47 315q1-17 2-32t2-18 2 3 2 2 2 4 2 98 2 53 2-55 2-13M75 299q1 13 2 3t2 20 2-1 2-40 2 8 2 23 2 23M103 321q1-41 2-37t2 122 2 39 2-97 2-44 2-22 2 17M139 369q1 55 2-16t2-79 2 11 2 32M151 329q1 45 2 83t2-45 2-86M177 343q1 13 2 53t2 17 2-27M197 310q1-6 2-17t2 3 2 54 2 8M207 371q1 45 2 39t2-45 2 49 2 64 2-67 2-13 2 12M249 387q1 51 2 48t2-42 2-4M283 324q1-26 2-15t2 32 2 28 2-46 2-54 2 14 2 44M303 316q1-18 2-31t2-15 2 21 2 14 2 53 2 124 2-79 2-117M331 301q1 23 2 66t2 132 2-37 2-140M341 313q1 5 2-16t2 17 2 11 2-20 2 29M363 339q1-1 2-35t2-33 2 54 2 46 2 18 2 40 2-67M379 290q1 10 2 37t2 17 2 13 2 29l1 6"/>
<path stroke="#EE5A22" d="M0 286l1-12q1-12 2-15t2 1 2 43 2 125 2-3 2-105 2-19 2 4 2 0 2-18M31 280q1-10 2-10t2 3 2 24 2 10M53 357q1-11 2-48t2-31 2 9 2 39M65 376q1-10 2 32t2 5 2-92 2-54 2-3 2 31 2 32M101 302q1-16 2-18t2-11 2 35M109 363q1 11 2-26t2-39 2 29 2 45M147 395q1 19 2 49t2-3 2-101 2 40 2 84 2-112 2-90 2 3 2 33 2 1M175 408q1-28 2 1t2-29 2-45M183 330q1-18 2-39t2-5 2 14 2 3M195 305q1 7 2-1t2-7 2-5 2-8 2-7 2 37 2 31 2-29 2 0 2 5 2 8M223 299q1-11 2-18t2 32 2 42M231 322q1-36 2-43t2 17 2 24M243 406q1 54 2-35t2-76 2 3 2-18M253 313q1 41 2 127t2 179 2-97 2-203 2-28M269 360q1 24 2 0t2-59 2-21 2 49 2 26M293 316q1-18 2-28t2 14 2 20 2-26 2-18 2 29 2 5 2 14M315 311q1 19 2-4t2-27 2 57 2 64 2-23 2-48 2-39 2-4 2 12 2-2 2 8M355 296q1-6 2-6t2 7 2 25 2 21M367 354q1 16 2-20t2-35 2-7 2-3 2-1 2-2 2 62"/>
<path stroke="#F5AE26" d="M0 324l1-8q1-8 2-18t2-18 2 5 2 18M55 389q1-21 2 87t2-29 2-150M73 352q1-26 2 46t2-29 2-61 2 9 2 9 2 5M99 320q1-32 2-16t2 99 2-8 2-107M131 328q1 8 2-10t2-30 2 12 2 22 2-13 2 25 2 26M173 310q1-12 2-29t2-2 2 47M185 323q1 45 2-6t2-18 2 106 2-12 2-99M203 361q1-23 2-7t2 41 2-6 2-54 2 78 2 35 2-72M225 314q1-6 2 38t2 50 2-33M235 357q1 15 2 84t2 24 2-89 2-51M247 343q1 9 2-11t2-48 2-19 2 14 2-4 2 83 2 125 2-82 2-118M279 311q1-11 2-25t2-16 2 6 2-6 2 150 2 128 2-78 2 36 2 109 2-126 2-173 2 6M307 362q1 4 2 7t2-43 2 25M319 397q1 27 2 10t2 67 2-11 2-99 2 54 2-44 2-95 2 3 2-5 2 20M341 342q1 24 2 4t2-46 2-23 2 17 2 20 2 40 2 143 2-41 2-160 2 1 2-3 2-8M369 316q1 0 2-15t2-23 2-2 2 123 2 34 2-93 2 9"/>
<path stroke="#9036A0" d="M0 322l1-7q1-7 2-21M5 289q1 9 2 3t2-3 2-8M15 285q1-3 2-13t2-4 2 11 2-2 2 49 2 33M33 295q1-11 2 109t2 116 2-98 2-102 2 8 2-20 2-24 2 51M53 290q1-28 2 28t2 164 2-67 2-96 2 89M101 411q1-43 2-88t2-30 2 96 2 25 2-68M123 282q1 4 2 4t2 28 2 64 2 21M137 325q1-19 2-25t2-8 2 25 2 100 2 10 2-97M151 313q1 17 2 33t2-15 2 0M161 374q1-22 2-50t2-40 2-21 2-10 2 13 2 26M175 328q1 24 2 63t2 74 2 6 2-34 2-67M187 340q1 32 2 13t2-54 2-24 2 9 2-14 2-8 2 7 2 38M205 300q1-42 2-24t2 53 2-7 2-34M223 357q1-37 2-17t2 52 2 52 2-81 2-100 2 8 2 20 2 12M249 301q1 27 2 110t2 59 2-50M265 289q1 13 2 9t2-8 2 22 2 18 2 34 2-10M279 324q1 22 2-13t2-41 2-2 2 23M293 359q1 35 2-27t2-60 2 43M305 277q1-1 2 9t2 196 2 0 2-196M325 317q1-11 2-28t2-9 2 3 2-1 2 56 2 76 2 93 2-80 2-159 2-4 2 15 2 6 2-6 2 48 2 58 2 1M365 331q1 13 2-19t2-22 2 6 2-4 2 9M377 296q1-14 2-22t2 10 2 67"/>
<path stroke="#74B43A" d="M0 268l1 30q1 30 2 17t2 22 2 78 2-3 2-64 2-35 2-28 2-13 2 18 2 4M25 286q1 4 2-4t2 0 2 21 2 36M35 346q1-16 2-54t2-40 2 12 2 32 2-5 2-15 2-1 2 5 2 69 2 9M63 327q1-21 2-34t2-18 2-1M77 305q1 11 2-18t2-28 2 21 2 92M97 334q1 34 2-13t2-46 2-7 2 43 2 14 2 234 2-30 2-278 2 38 2 0 2-16 2 38 2 20M129 283q1-15 2-17t2 49 2 42 2-32 2-17M151 326q1 14 2-13t2-22 2 19M159 311q1-13 2 64t2 67 2-50M167 346q1-6 2-42t2-31 2 5 2 0 2 18M183 333q1-51 2-66t2 50 2 47 2-54 2-49 2-17 2 54 2 114 2-5 2-65 2-15M207 298q1-18 2-13t2 24 2 5M215 351q1 51 2-19t2-68 2 8 2 22M233 305q1 19 2 10t2 132 2 30 2-140 2-56 2-26 2 0 2-3 2 20 2 38 2-25 2-42 2 50 2 16M271 289q1 3 2-3t2 3 2 57M291 363q1-67 2-81t2-17 2-11 2 82 2 121 2-97 2-109 2 72 2 21M311 295q1-17 2-17t2 2 2 14M319 314q1 8 2 0t2-35 2-18 2 28 2 26M345 277q1-3 2-7t2 18 2 77 2 11 2-37 2-6M363 362q1-30 2-25t2 112 2 71 2-80 2-5 2 28 2-75 2-57M383 282q1 0 2-5t2-11l1-6"/>
<path stroke="#22B2EA" d="M0 448l1-18q1-18 2-32t2-18M13 357q1-19 2-16t2 49 2 12M21 343q1-25 2 29t2 42 2-14 2-49 2-63 2 24 2 64 2-11M43 320q1-10 2 36t2 123 2 14 2-71 2-39M63 372q1 12 2 31t2 39 2 114 2-69 2-154M79 322q1-2 2 66t2 139 2 4 2-128 2-55 2 24 2 2 2 72 2-27 2-131M107 350q1 36 2 32t2-35 2-23M115 359q1 27 2 67t2 92 2-47 2-85 2-14M131 323q1 5 2 80t2 57 2-59M151 368q1-12 2-39t2-9 2 52M163 359q1 33 2 87t2-5 2-57 2 21 2 61 2-7 2-64 2 14M195 304q1 8 2 27t2 179 2 7 2 113 2-11 2-306 2-21 2 58 2 29M219 335q1-15 2-31t2-26 2-6 2 33M263 290q1-22 2 56t2 152 2-67 2-133M287 364q1-26 2-33t2 15 2 38M295 347q1-53 2-42t2 0 2 13 2 129 2 23 2-94 2-14M347 416q1-20 2 18t2-57 2-101 2-7 2 6 2 12 2-6 2-3 2 49 2 9 2-30 2 17 2-11"/>
<path stroke="#C41B40" d="M0 302l1 32q1 32 2 14M13 275q1-3 2-5t2 116 2 53 2-114 2-2M29 319q1 5 2 50t2 147 2-68 2-154 2 25M45 370q1 8 2 33t2 49 2-44 2-17M55 380q1-62 2-83t2-18 2-1 2 35M69 315q1 11 2 105t2-6 2-85M99 310q1 0 2-4t2-9 2-18 2 257 2 155 2-215 2-105 2-27M117 376q1 54 2 31t2-46 2-44M129 297q1-13 2-18t2 20 2 24M145 323q1-7 2 13t2 105 2 2 2-82 2-28 2-47 2-11 2 97 2 87 2-57M175 340q1-10 2-37t2-33 2-3 2 58 2 34M213 325q1 1 2 66t2 10 2-80 2-20M225 346q1 30 2 25t2-20 2 14M233 355q1-39 2-61t2 1 2 13M241 299q1 1 2 36t2 131 2 84 2-82 2-75 2-35M259 297q1-15 2-22t2 32 2 27M273 337q1-13 2 73t2 61 2-103 2-82 2-6 2-10 2 50 2 158 2-25 2-149M295 312q1 32 2 134t2 47 2-141 2-77M319 384q1 0 2-52t2-64 2 0 2 12 2 5 2 23 2 75 2 78 2-84M339 293q1 21 2 19t2-14 2 67 2 63M351 371q1 9 2-29t2-58 2 4 2 19 2-22 2-13 2 27 2 129 2 42 2-134 2-55 2 21M379 341q1 1 2-23t2-35 2 1 2 8l1-4"/>
<path stroke="#1276C2" d="M0 328l1 41q1 41 2 42M15 321q1-51 2-15t2 206 2 1 2-179 2 20M27 361q1-23 2-27t2-31 2-33 2-9 2 10 2 15 2-13 2-1 2 47 2-7M49 300q1 28 2 39t2-28 2 0 2 94 2-15 2-77 2-3M65 360q1 46 2-15t2-46 2 41 2-29 2-59 2 115 2 88 2 57 2-67 2-132 2 188 2 29 2-171 2-57M95 302q1 22 2 109t2 34 2-23M117 315q1 1 2-22t2-4 2 87 2 32M139 315q1 41 2 117t2-20 2-120 2-25 2 12 2 30 2-2M165 319q1-33 2-37t2-8 2 43M179 319q1-7 2 38t2 9 2 2M193 295q1-7 2-17t2-11 2 14 2 36 2 34 2-14 2-43 2-19 2 33 2 24M217 329q1-23 2-33t2 44 2 33M243 370q1-36 2-42t2-28 2-15 2 18M255 337q1-41 2-60t2-16 2 77 2 62 2-32M267 328q1-20 2-19t2-19 2-21 2-1 2 16 2 19 2-14 2-16M289 328q1-36 2-57t2 27 2 34M297 335q1 17 2 7t2-19 2 9M307 341q1 15 2 47t2-13 2-39 2 22 2 69 2 19 2-107 2-64 2 18 2 9 2-6 2 24M333 348q1-2 2-8t2-36 2-15 2 100M353 300q1 0 2 11t2 143 2-4 2-30 2-6 2-125 2-13 2-1 2 4 2 4 2-8 2 9 2 3"/>
<path stroke="#EE5A22" d="M0 386l1-36q1-36 2-30t2 51 2 49M9 413q1-11 2-40t2-46 2 21 2 132 2 7 2-134 2-59 2-14 2 13 2 44 2 23M39 378q1 10 2 111t2 2 2-138M71 354q1 26 2 53t2 20 2-1 2-79 2-48 2 92 2 21 2-52 2 84 2 132 2-88 2-127 2-25M107 345q1 7 2-26t2-13 2 37 2-15M121 351q1 33 2 19t2-30 2 10M137 342q1 6 2-17t2-37 2 22 2 53 2 60 2-31M163 297q1-9 2-10t2 3 2 1M171 349q1 61 2 45t2-33 2 28M179 371q1-63 2-21t2 115 2-39 2-116 2 5 2 21 2 64 2 17 2-55 2 43M215 411q1-17 2-5t2 31 2-19 2-52 2-16M231 349q1 11 2 50t2 31 2 7 2-64 2-69 2 113 2 6 2-83M267 319q1-15 2-8t2 134 2 78 2-122 2-97 2-4 2 4 2 3 2 79M305 371q1 37 2 36t2-56 2-48 2-7 2-15 2 4 2 105 2 66 2-37 2-19M329 441q1 7 2 4t2-55 2-27M363 319q1-25 2 10t2 28 2 10M371 424q1 40 2-60t2-97 2 30 2 0 2-16 2 110 2 139 2 4l1-36"/>
<path stroke="#F5AE26" d="M17 395q1-37 2 8t2 68 2-31 2-52 2-7M47 341q1-11 2 81t2 12 2-110M59 314q1-22 2-2t2 56 2 22M67 369q1-7 2 86t2 6 2-80 2 49 2-25 2-46 2 63 2 34 2-1 2 39 2 38 2-62 2-91 2-33M109 355q1-3 2 35t2 100 2 53 2-70 2-87 2 140 2 150 2-156 2-131 2 10 2-29 2-39 2 21 2 70 2 49 2-20 2-45 2-34 2-19M151 385q1 23 2 31t2 30 2-22 2-51M169 397q1-31 2 7t2 32 2-23 2-19M185 286q1-10 2-13t2 5 2 24 2 15M197 355q1 35 2 72t2 39 2-25 2 36 2-23 2-102 2 11M223 340q1 10 2 54t2 0 2-28 2 88 2-24 2-118 2 7 2 70 2 9 2-15M247 379q1 5 2 47t2-19 2-77M269 390q1 46 2 75t2 66 2-92 2-80M287 335q1 25 2 12t2-15 2 29 2 47 2 30 2-30 2-26 2 39 2-18 2-33M319 360q1 34 2 57t2-31 2-65M327 326q1 16 2 63t2 30 2-16 2 5M345 358q1 18 2 53t2 145 2 97 2-48 2-102 2-63 2 67 2-20 2-47 2-34 2-76 2 13M371 385q1 23 2 45t2 15 2-25 2-41M385 432q1 6 2-43l1-49"/>
<path stroke="#9036A0" d="M0 262l1-3q1-3 2 4t2 76 2 51M15 301q1-9 2-5t2-5 2-12 2 21 2-8 2-34 2 2 2 34 2 114 2 12 2-107 2-45 2 45 2 38 2-45 2-41 2 30 2 16 2-45 2-14 2 58 2 85M61 418q1-8 2 28t2 26 2-45M75 354q1 22 2 4t2-53 2-30 2 1 2-11 2 4 2 50 2-2 2-53 2 13 2 26 2-8 2 7 2-1 2-21 2 23 2 4 2-30 2 72 2 108 2-72 2-101 2-1 2-10 2-7 2 26 2-3 2-35 2-3 2 16 2 3 2 2 2 1 2-14 2 3 2 24 2-7 2-7 2 9 2-8 2 2 2 5 2 64 2-7 2-77 2 41 2 13 2-50 2 46 2 53 2 129 2-17 2-177M195 304q1-22 2 2t2 20 2-28 2-22 2 54 2 8 2-28 2 18M213 298q1-32 2-24t2 7 2-10 2-3 2 30M229 289q1 11 2 1t2-26 2 12 2 29 2-32 2-31 2 28 2 57 2 36 2-43 2-48 2 44 2 27M257 327q1 1 2-24t2-24 2-8 2 73 2 19 2-85 2-10 2 13 2-18 2 18 2 110M285 359q1-3 2-22t2-50 2-1 2 5 2-24 2 11 2-5 2 26 2 22M311 343q1-39 2-63t2-18 2 77 2 33 2-80 2-38 2 88 2 13M329 282q1-2 2 6t2-14 2-16 2 10 2 58 2 29 2-45 2-28 2-16 2-8 2-4 2-1 2 0 2 14 2 25 2-10 2-15 2 29 2 21 2-26 2-19 2 7 2 18M377 312q1 2 2-15t2-32 2 10 2 20 2-19l1-14"/>
<path stroke="#74B43A" d="M9 307q1 27 2 29t2 30 2 77 2 62 2 3 2-92 2-64 2 22M29 414q1-16 2 11t2-14 2-67M37 315q1-3 2 23t2 137 2 71 2-111 2-94M61 374q1 28 2-1t2 49 2-11 2-95M91 349q1 15 2 68t2 77 2-21 2-84 2-18M107 377q1 45 2 38t2-31 2-50 2 11 2 72 2 7 2-55 2-23M131 362q1 32 2 76t2 58 2-9 2-50 2-74 2 2 2 40 2-24M167 423q1-5 2 26t2-45 2-97M177 330q1 16 2 93t2 68 2-36 2-39M195 393q1-23 2-60t2-34 2 27 2 26 2-9M223 302q1 2 2 37t2 146 2 24 2-123M237 335q1-7 2 8t2 84 2 28 2-57 2-36M249 366q1 24 2 42t2-5 2-51M257 304q1-20 2-22t2 17 2 28M265 353q1 17 2 24t2 21 2 16M273 450q1 34 2 34t2-81 2-66M283 403q1-25 2-48t2 241 2-3 2-223 2 46M305 334q1 60 2 95t2 16 2-45 2-34 2 40 2 54 2-53M327 310q1 12 2 114t2 78 2-100 2-71 2 32 2 76 2 90 2-40 2-96 2-43M353 325q1 29 2 51t2 27 2-13M381 396q1 40 2 15t2-44 2-8"/>
<path stroke="#22B2EA" d="M0 344l1-39q1-39 2-10t2 47 2 3M9 326q1-4 2 72t2 17 2-95M25 403q1-69 2-85t2-26 2 5 2 4 2-24 2-14 2 11 2 58 2 46M45 374q1-4 2-25t2-48 2-19 2-5 2-14 2 2 2 7 2 1 2 3 2 22 2 27 2-25 2 7 2 132 2 8 2-130 2-51 2-11 2 45 2 91 2-9 2-75 2-37 2 8 2 29 2 12 2 82 2 32 2-47M107 284q1-14 2 38t2 79 2-20M119 350q1 4 2 26t2 100 2 52 2-132 2-125 2 66 2 63 2-81 2-55 2 19 2 35M147 317q1 15 2 4t2-37 2 36 2 96 2 6 2-58M165 312q1 14 2-6t2-25 2-2M173 303q1 21 2 62t2 108 2-13 2-86 2 85 2 40 2-102 2-68 2-1M195 324q1-24 2-20t2 53 2 81 2-54 2-98 2-16 2-4 2 7 2 16M221 398q1-14 2 29t2-5 2-103 2-16 2 326 2-12 2-254 2 15M241 328q1 44 2 104t2 11 2-68 2 5 2 61 2 63 2-84 2-124 2-23 2 31 2 33 2-23 2-3 2-15M271 296q1 28 2 86t2 35 2-73M281 352q1-18 2 80t2-40 2-103M295 382q1 12 2-29t2-55 2 22M303 368q1 12 2-34t2-55 2 5 2 51 2 94 2 82 2-98 2-129 2-4 2 38 2 49 2-13M329 356q1 28 2-7t2-53 2-7M339 345q1-35 2-48t2-9 2-7 2 10 2 77 2 85 2 52 2-100 2-131 2-6 2 10 2 38 2-10 2-40 2 13 2 43 2 47M383 285q1-9 2-9t2 31l1 31"/>
<path stroke="#C41B40" d="M11 335q1 41 2 75t2-40 2-68M21 362q1 8 2 38t2 150 2 40 2-163 2-67M47 376q1 0 2-19t2-19 2 61 2 159 2-38 2-148 2-22M71 329q1-1 2 57t2 51 2 87 2 111 2-72 2-72 2-26 2-52M95 331q1-25 2-23t2 25 2 43 2 68 2-13 2-63 2-5M123 343q1-31 2-29t2-20 2-12 2 84 2 85 2-22 2-39M139 385q1 1 2 90t2 64 2 15 2-29 2-102 2-54M157 349q1-7 2 34t2 121 2-16 2-109M167 339q1-27 2 3t2 40 2 11 2 75 2-48 2-111M183 346q1-2 2 68t2 30 2-33M191 406q1-12 2 13t2-29 2-56M205 332q1-4 2 21t2 57 2 17 2-45 2-13 2 43 2 61 2 3 2-74 2-49 2 21 2 37M231 433q1 13 2 8t2-69 2-81 2 16 2 67 2 45 2-19 2 42 2 3 2-99 2-14M263 409q1-5 2-1t2-46 2-41 2 33 2 6 2 29M277 434q1-2 2-56t2-59 2 24M293 298q1 0 2 30t2 133 2 52 2-81 2-62 2-2 2 52 2 10 2 30 2 34 2-14 2-32 2-43 2-34M341 386q1 50 2 3t2-79 2-6 2 50 2 29 2 36 2 72 2-34 2-68 2-27M367 411q1 23 2 2t2-37 2-12M385 391q1-31 2-45l1-14"/>
<path stroke="#1276C2" d="M0 404l1-8q1-8 2-2t2-17 2 35 2-1 2-67M17 359q1 71 2 45t2-53 2-13M27 319q1-15 2-8t2 8 2 5 2-15 2-4M47 363q1 27 2 53t2-21 2-17M59 365q1 21 2 23t2 71 2 10 2-102M87 313q1-11 2 26t2 44 2-13M99 371q1-21 2-41t2 41 2 31M123 316q1 6 2 0t2 117 2 119 2-118 2-87 2 45 2 20 2-12 2-21 2 45 2 134 2-54 2-69 2 5 2-97 2-1M165 364q1 24 2 31t2 26 2-18 2-67 2 28 2 131 2-10 2-38 2 5 2-52 2 0M195 333q1-23 2-18t2 9 2 23 2 53 2 1 2-60M209 318q1 4 2 5t2 43 2 64 2 119 2-1 2-157 2-55M229 331q1 7 2 62t2 95 2-41 2 72 2-17 2 3 2 8 2-137 2 23 2-44 2-15M255 330q1 10 2 62t2-6 2-84 2-28 2 46 2 73 2-21M271 328q1 2 2-1t2-27 2 5 2 90 2 114 2-38 2-119 2-29 2 20M303 344q1 24 2 8t2 73 2 108 2-23 2-101 2-60 2 65 2 23 2-89M325 387q1 29 2 69t2 64 2-19 2-79 2-17 2 69 2 5 2-22 2-10 2-82 2-55 2 26 2 75M353 429q1-25 2-76t2 21 2 6 2 225 2 0 2-222 2 44M369 404q1 2 2 58t2-29 2-94 2 105 2 123 2-49 2-33 2 1 2-42l1-18"/>
<path stroke="#EE5A22" d="M1 364q1-12 2 60t2 51 2-64 2-13 2 40 2-24 2-45 2-20M23 310q1-4 2-21t2 12 2 122 2 25 2-92 2-14M39 358q1-46 2-66t2-15 2 21 2 54 2 11M57 319q1 29 2 23t2 50 2 25 2-45 2-53 2-38 2 16 2 36 2 37M77 394q1 8 2 32t2 24 2-51M89 368q1-16 2-56t2-40 2 12 2 38M105 379q1 27 2-17t2-72 2-1 2 42 2-26M117 264q1 0 2 1t2 8 2 35 2 15 2 3 2 29 2-38 2-47 2 2 2 0 2 81 2 63M145 318q1 10 2-22t2-18 2 56 2-6 2-6 2 70 2-37M163 338q1 28 2-12t2-42 2 0 2-8 2 20 2 75 2-7M185 311q1-15 2 6t2 92 2 39 2-66 2-46M201 344q1 20 2 46t2-13 2-52 2-7 2 40 2 21 2-53 2-39 2-3 2 6 2 67 2 3M233 335q1-13 2 87t2 15 2-114M245 352q1-60 2-77t2 6 2 17 2-16 2-6 2 62 2 31M261 350q1 8 2 3t2-25 2 41 2 2M279 285q1-11 2-2t2 87 2-8M289 360q1 14 2-38t2-47 2 20 2 22 2-6 2 1M303 303q1-23 2-32t2-8 2 9 2 11 2 2 2 20 2 22 2-11M329 406q1-54 2-17t2 56 2-61 2-91 2-17 2 12 2 43 2-17 2 125 2 26 2-179 2-26 2 102 2 182 2-59 2 60 2-22 2-209 2-1 2-18 2 89 2 25M375 390q1 38 2-6t2-59 2-23 2 17 2-10 2-22l1 13"/>
<path stroke="#F5AE26" d="M5 348q1 2 2 38t2 104 2 58 2-69 2-5 2-3 2-22 2 1 2-27 2-30 2-52 2-21M45 367q1-33 2 11t2 148 2 1 2-150 2-38 2 26 2 36 2-12 2-12 2 45 2-9M85 344q1-24 2 26t2 107 2-51 2-109 2 9M99 344q1 10 2 21t2-27 2-44 2 53 2 104 2-29 2-78M123 357q1 37 2 69t2 28 2-61 2 4 2 87 2-34 2-65 2 38 2-7 2-35 2 84 2 13 2-73 2 8 2 12 2-29 2-8 2 17 2 23 2 3 2-53 2-49M173 353q1 3 2 112t2-5 2-140 2 31 2 77 2 99 2-45 2-150 2 40M205 348q1-32 2-5t2 79 2-38 2-66 2 60 2 171 2-21 2-187 2-21 2 77 2 81 2-46 2-83 2-46 2-21 2 45M239 391q1 21 2 1t2-37 2-40 2 18 2 110 2-7 2-51 2-3M257 334q1-20 2-8t2 72 2 55 2-28 2 4M269 402q1-54 2-56t2 51 2 6 2-77M283 404q1 40 2 67t2-59 2-96M291 318q1 12 2 125t2 52 2-119 2-37 2 58 2 68 2-9 2-51 2-13 2-25 2 9 2 47 2 21 2 13 2-3 2-40 2-28 2 40 2 39 2 0 2-2 2-66M343 381q1 23 2-35t2-39 2 107 2 62 2-61 2-44M371 380q1 24 2 38t2-42 2-58"/>
<path stroke="#9036A0" d="M0 306l1-14q1-14 2-16t2-8 2 2 2 20M11 291q1-11 2-19t2 31 2 18 2-41 2 20 2 44 2-29 2-25 2 43 2 31 2-45 2-37 2 19 2 16M41 296q1-22 2-17t2 11 2 22 2 76 2 37 2-85 2-70 2 18 2 30 2 13 2 9 2 19 2-17 2-46 2-13 2-2 2 1 2-8 2-2 2 2 2 6 2 104 2 64 2-35 2-53 2-55 2-12 2 14 2 23M103 342q1 2 2 56t2-43 2-91 2 9 2 14M115 314q1 16 2 37t2 56 2 40 2-74 2-93M127 276q1 10 2-5t2 8 2 72 2-18 2-64 2 37 2 40 2-18 2-28 2-18 2-14 2 3 2 6 2 7 2 26M167 290q1 10 2-4t2-19 2 12 2 6 2-15 2 48 2 17 2-48 2 2 2 34 2-11 2-40 2 2 2 55 2 32 2-18 2-4 2 25 2-5 2-23 2-22 2 14 2 105 2-18 2-101 2 15M221 371q1 9 2-34t2-54 2 4 2 80 2 102 2-18 2-96 2 0 2-2 2-66 2-12 2 19 2 149 2 2 2-147 2-1M255 293q1-11 2-13t2-12 2 34 2 105 2 13 2-87 2-52 2-7 2 6 2 40 2 4M279 294q1 6 2-14t2-20 2 11 2 7 2 0 2 16 2-2 2-2 2 7 2 5M307 398q1 18 2 30t2-32 2-60 2-41 2-29 2 11 2 47 2 32 2-40 2-38 2 1 2 17 2 13 2-6 2-10M339 297q1 13 2 43t2 70 2-59 2-96 2 6 2 45 2 11 2-38 2-12 2 5 2 42 2 30 2 49 2-7 2-20 2 65 2 2 2-95 2-63 2 31M385 364q1 28 2 0l1-28"/>
<path stroke="#74B43A" d="M0 362l1 28q1 28 2 7t2-34 2-34 2-31 2 13 2-12 2-26 2 1 2-8 2 5 2 15 2 29 2 24 2-34M37 322q1-8 2-16t2-19 2 11 2 14 2-36 2-20 2 89 2 19 2-62 2 18M59 357q1 19 2-32t2-58 2-4 2 5 2-8 2-6 2 47 2 16 2-32 2-4 2-8 2-1 2 29 2-8 2-17 2 39 2-14 2-21 2 102 2 14 2-105 2-24 2 47 2-12 2-49 2 62 2 39 2-61 2-22 2 75M125 307q1-11 2 35t2 29 2-38M149 352q1 30 2 57t2-27 2-17M157 381q1-21 2-61t2-38 2 24 2 13 2-24 2-24 2 25 2 63M181 374q1 2 2-44t2-60 2 51 2 74M193 356q1 38 2 66t2 12 2-70 2-48 2 6M207 305q1 17 2 4t2-36 2-18 2 64 2 21 2-53 2-23 2 24 2 19 2-9 2 26 2-21 2-36 2 22 2 48 2-21 2-55 2 0 2 13 2 7 2-15 2-1 2 74 2 3 2-65 2 6 2 2 2-11 2 4 2-3 2 1 2 57 2-3 2-40M285 282q1 6 2-4t2-18 2 60 2 51M301 382q1-42 2-81t2-34 2 18 2 32 2 122 2 32 2-141 2-66 2 14 2 31 2 20 2-24 2-36 2-10 2 14 2 84 2 25 2-80 2-36 2 6 2 11 2 33 2 64 2 46 2-48 2-78 2-22 2 18 2 149 2-2 2-142 2-20 2-19 2 14 2 97 2 12M375 328q1 0 2-25t2-27 2 8 2 5 2 1 2 8"/>
<path stroke="#22B2EA" d="M0 292l1-23q1-23 2-17t2 19 2 23 2 7 2-12M13 322q1 42 2-1t2-52 2 8 2 30 2 60 2 61 2-39 2-51 2 50 2 30 2-87 2-60 2 5 2-10 2 21 2 76 2-25 2-78 2 95 2 99 2-59 2-94 2-1 2 24 2-31 2-14 2 2 2-16 2 4 2 18 2 4 2-10 2 29 2 21M83 326q1 14 2-28t2-33 2 34 2 25 2 3M101 370q1 44 2 63t2-38 2-79 2-9M111 322q1 2 2-13t2-21 2-11 2 27M123 383q1 27 2-34t2-18 2 21 2-3M133 359q1-9 2 54t2 11 2-113 2-54 2 10 2 4 2 38 2 29 2-32 2 84 2 54 2-106 2-47 2 23 2 26 2-27 2-43 2-10 2-4 2 8 2 25 2 0 2-15 2 46 2 37M189 350q1-74 2-73t2 21 2-7 2-28 2 19 2-2 2-19 2 40 2 3 2-34 2 27 2 81 2 4 2-87 2-34 2 11 2 4 2-2 2 29M231 376q1-2 2-16t2-48 2 1M241 385q1-31 2-74t2-45 2 0 2 18 2 5 2 5 2 33 2 7 2-1 2 43 2 40M267 354q1 44 2 30t2-73 2-3 2 53 2-54 2-44 2 11 2 22 2-9 2-23 2 12M291 280q1-4 2 53t2 145 2-28 2-147 2-24 2 8M305 284q1-4 2 2t2 2 2-7 2 0 2-12 2 2 2 53 2 23 2-42 2 10M329 331q1-45 2-49t2-19 2-10 2 65 2 59 2-59 2-52 2 7 2-2 2 37 2 16 2-32 2-14 2-12 2-1 2 13 2 167 2 47 2-78 2 78 2-64 2-93 2 18M381 340q1-2 2-26t2-13 2 33l1 22"/>
<path stroke="#C41B40" d="M0 416l1-51q1-51 2-36M19 326q1 4 2 30t2 77 2 40 2-53 2-27 2 44 2 56 2-19 2-34 2-38 2-35M53 356q1 0 2 18t2 78 2 5 2-86 2-22 2 39 2 35 2-15 2-45M73 324q1-14 2 39t2 55 2-29 2 1 2-4M89 379q1-9 2 15t2-5 2-58M97 310q1 8 2 38t2 60 2 11M107 349q1-1 2 7t2 35 2 2 2-53M129 393q1 5 2 43t2-5 2-84 2-1M143 303q1 13 2 80t2 48 2-5 2 12 2-27 2 11 2 54 2-53 2-88M165 383q1 37 2 83t2-8 2-70M175 364q1-14 2 4t2 32 2 29 2-29 2-57 2 31M193 404q1-16 2-53t2-14 2 58M203 345q1-9 2 11t2 115 2 138 2-116 2-166 2 46 2 51 2 32 2 72 2-31 2-89 2-24 2-31M231 335q1 9 2 44t2 60 2-24 2-84 2-12M245 382q1-8 2-26t2-26 2 20M259 399q1 49 2 43t2-49 2-4 2 95 2 30 2-35 2 9 2-26 2-58M287 386q1 44 2 15t2-53 2-23M295 348q1 22 2 42t2 2 2 13 2 17 2-54 2-46M311 375q1 11 2-29t2-49 2 18M319 348q1 6 2 59t2 51 2-66 2-83 2 9 2 62 2 35 2 8 2-26M341 421q1-7 2 32t2-41 2-77 2 39M365 366q1 8 2 3t2 102 2 33 2-47 2-57 2-75 2 0 2 41 2 77 2-18 2 13l1 58"/>
<path stroke="#1276C2" d="M1 299q1 13 2 104t2 10 2-70 2 8 2-38 2-36 2-18 2 95 2 213 2-93 2-196 2 21 2 28 2-12 2-11 2-20 2 13 2 67 2-34 2-67 2-6 2-4 2 8 2 38 2 6 2 23 2 53 2-8 2-25 2-25 2-4M69 371q1 31 2-22t2-68 2 32 2 5 2-49 2-4 2 11 2 24 2-1 2-30 2-4 2 40 2 29 2-19 2-17 2 29M105 303q1-17 2-26t2-4 2 1 2 44 2 52 2-46 2-43 2-1 2-6 2 6 2-3 2-16 2 2 2 3 2 68M137 405q1-5 2-73t2-53 2 30 2 25 2-17 2-38 2 26 2 20M157 291q1 3 2 48t2 154 2-30 2-143 2-35 2-23 2 37 2 7M177 308q1 0 2-22t2 48 2 57M187 361q1 61 2-11t2-82 2-6 2 120 2 31 2-32 2 28M203 379q1-5 2-56t2-58 2-3 2 10 2 29 2 33 2-32 2-44 2 13 2 3 2-11 2 6 2 20 2 1 2-10 2 1 2 25 2 53 2 4 2-51 2-26 2 47 2 137 2 54 2-123 2-97 2 28 2 38 2-19 2 35 2 77 2-83 2-111 2-3 2-8 2 1 2 3 2-11 2 96 2 53 2-88 2-43 2-3 2 77 2 54 2-76 2-48 2 24 2-2M303 277q1 1 2 13t2 14 2 15M329 359q1-61 2-73t2-15 2 22 2 58 2 11 2-30 2-30 2-19 2 1 2-9 2-8 2 30 2 34 2-7 2 39 2 93 2-2 2-94 2 14M371 377q1 9 2-32t2-66 2-24 2 6 2 5 2 55 2 17 2-53l1-15"/>
<path stroke="#EE5A22" d="M1 305q1 3 2 41t2-12 2-17 2 13 2-50 2 58 2 50 2-67 2-29 2-15 2 111 2 72 2-101 2-62 2-11 2 33 2 51 2-4M39 389q1 49 2-30t2-49 2 14 2-19 2-2 2 5 2 126 2 127 2-122 2-119 2-21 2-20 2 24 2-4 2-33 2 75 2 45M75 301q1-41 2-18t2 46 2 59M83 397q1-27 2-84t2-57 2 4 2 14 2 5 2-13 2 40 2 20 2-50 2-21 2 7 2 24 2 17 2-3 2-7 2-25 2-18 2 27 2 29 2-24 2-21 2 14 2 2 2-4 2-2 2 14 2 27 2 161 2-17 2-171 2 16 2 28 2-33 2-40 2 35 2 69 2 4 2 21M167 332q1-20 2-49t2-19 2 12 2 22 2 8 2 18 2-7 2-53 2 43 2 66 2 25M191 393q1-23 2-67t2-45 2-8 2-14 2 36 2 59 2-45 2-56 2 7 2 5 2 9 2 3 2 1 2 6 2 6 2 1 2-5 2-6 2 0 2 1 2-10 2-3 2 1 2-8 2-1 2 4 2 80 2 8 2-33 2-4 2-41 2-4 2 47 2 63 2-52 2-65 2-4 2 30 2 20 2 41 2 165 2 58 2-115 2-131 2-39 2 1 2 5 2 171 2 35 2-148 2-49M295 288q1-14 2-21t2-6 2 28 2 3 2-30 2 7 2 45 2-7 2-28 2 43 2-10 2-48 2 36 2 35 2-35 2-33 2-14 2 48 2 88 2-9 2-82 2-40 2 38 2 36 2 1 2-35 2-34 2 10 2 0 2-9 2 0 2 8 2 21 2-18 2-25 2 12 2 6 2-2 2 0 2-1 2 8 2 33 2-1 2-26 2 48 2 14"/>
<path stroke="#F5AE26" d="M5 314q1-32 2-38t2-1 2 38 2 93 2 20 2 9 2 55 2-33 2-102 2-19 2 28 2-53 2-34M33 291q1 11 2-3t2-15 2-10 2 9 2 17 2-15 2-4 2 6 2-8 2-7 2 2 2 17 2 37 2-9 2-43 2-1 2 26 2 34 2 98 2-14 2-118 2-24 2 42 2 65 2-30 2-3 2 5 2-53 2-11 2 50 2 50 2-20M103 389q1 35 2-48t2-64 2 13 2-6 2-11 2-15 2 18 2 25 2 2M131 316q1 6 2-14t2-22 2-11 2 0 2 17 2-1 2-12 2 155 2 52 2-128 2 1 2 131 2-67 2-157 2 17 2 20 2 1 2 17 2-4 2-52 2 1 2 72 2 37 2-59 2-44 2 15 2 50 2 4 2-24 2-11 2 20 2-4 2-38 2 22 2-7 2-33 2 26 2 39 2-10 2-30 2-14 2 6 2-2 2-16 2 4 2 1 2 5 2 33 2 49M231 359q1-17 2-42t2-34 2 26 2 34 2-39 2-21 2 7 2-6M255 354q1 6 2-31t2 14 2 31 2 121 2 20 2-124 2 2 2-60 2-35 2 49 2-2 2-45 2-26 2 57 2 134 2 65 2-23 2-4 2-97 2-103 2 27 2 2M301 287q1-17 2-10t2 22 2-6 2 5 2 184 2 22 2-151 2-36 2-29 2-8 2-14 2-17 2 54 2 57M333 366q1-26 2-66t2-34 2 10 2-5 2 3 2 2 2 6 2 56 2 37 2-27 2-45 2-16 2 6 2-10 2-8 2 6 2 18 2-3 2-15 2 4 2-2 2 36 2 7 2-43 2 27 2 22 2-35l1-19"/>
<path stroke="#9036A0" d="M0 378l1-47q1-47 2-52t2 22 2 68M9 388q1-22 2 0t2 10 2-59 2-57 2 14 2 68M27 343q1-5 2-26t2-4 2 50M39 349q1-13 2-26t2 152 2 66 2-160 2-14 2 15 2-37M67 330q1 12 2 58t2 19 2-58M77 333q1-9 2-13t2 8 2 113 2 50 2-87 2-26 2 21 2-10M103 434q1-16 2-73t2-46 2 22 2 36M115 382q1-16 2 0t2 99 2-7 2-92M125 369q1-11 2-39t2-17 2 12 2 0M135 321q1-3 2-10t2 35 2 39 2 30 2 0 2-90 2-27 2 44M153 349q1-7 2 27t2 24 2-50M163 303q1-15 2 5t2 21 2-15 2-9 2 35 2 111 2 148 2-15 2-144 2-118 2-24 2 51 2 36M199 328q1-14 2-28t2 33 2 87 2-2 2-47 2 33M213 426q1-16 2-26t2-28 2 90 2 18 2-120 2-10 2 62 2 132 2-27 2-124 2-27 2-39 2-24 2 3M251 371q1 15 2 36t2 63 2 44 2-69 2-99 2-10 2 68 2 21 2-64 2-44 2 30M283 347q1-9 2 0t2 93 2 72 2-43 2 14 2 25 2-126 2-19 2 63 2-27 2-38 2-49 2-19 2 13 2 48 2 23 2-49 2-29 2 22 2 41 2 85 2-19 2-103 2-20 2 42 2 17M339 376q1 18 2-18t2-28 2 47M347 407q1-9 2-13t2 147 2-32 2-180 2 55 2 108 2-35 2-113 2-4 2 31 2-21 2-3 2 18 2 50 2 68 2-64 2-109 2-16 2 28"/>
<path stroke="#74B43A" d="M0 330l1 41q1 41 2 36t2-44M13 308q1 22 2 45t2 13 2-23M21 347q1 17 2 64t2 71 2 21 2-121 2-103M33 296q1 2 2 50t2 35 2-45M41 328q1 24 2 4t2-19 2-14M51 385q1-13 2-48t2 57 2 88 2-51 2-68M75 344q1-8 2-36t2-34 2-4 2 32 2 2 2-26M89 305q1 25 2 4t2-19 2 92 2 117 2-88 2-118 2 31 2 26 2 28 2 100 2-22 2-78 2-17 2-59 2 35 2 69 2-38 2-6 2 73 2-3 2-34 2-20 2-13 2 64 2 26 2-45 2 56 2-27 2-50 2 24 2-89 2-51 2 1 2 59 2 62 2-2 2 8 2-20 2-47 2-16M175 378q1 2 2-40t2 99 2 27 2-141 2-25 2 32M191 388q1 30 2-14t2 90 2 19 2-130 2 21 2 3 2-45M207 301q1-19 2-17t2 6 2 52 2 41 2-41M221 385q1-27 2-75t2-50 2 47 2 113 2-36 2-110 2 0 2 47 2 51 2 106 2 16 2-149 2-72 2 21 2 12M253 322q1 24 2 75t2-40 2-64 2 93 2 51 2 2 2-50 2-66 2 9 2 9 2 8 2-16 2-39 2-21 2 18 2 14 2-9M289 345q1 49 2 17t2 41 2 184 2-93 2-183 2 22 2-11 2-37 2 23 2 56M323 335q1-23 2-37t2 40 2-8 2-57 2 18 2 61 2 138 2 23 2-139 2-22 2 91 2-18 2-94 2-43 2 2 2 31 2 37 2 14 2-32 2-26 2-16 2-3 2 46 2-13 2-46 2 44 2 35 2 55 2 0 2-106 2-36 2 19l1 17"/>
<path stroke="#22B2EA" d="M0 320l1-5q1-5 2-14t2 17 2 66 2 77 2-15 2-98M15 295q1-7 2 33t2 117 2 6 2-106 2-56 2-21 2 6 2 28 2 68 2-20 2 56 2 13 2-113 2 25 2 44M47 383q1-7 2-29t2-40 2-25 2-7 2-17 2 21 2 53M65 349q1-7 2-35t2-2 2 30 2 14 2 66 2-8 2-92 2-41 2-5 2 21M87 305q1-5 2 77t2-2 2-88 2 19 2 17 2 4 2 49 2 84 2-60 2-12 2 71 2-17 2-46 2-93 2-40 2 68 2 55 2-72 2-53 2 10 2-2 2-14 2 104 2 59 2-66 2-46 2-43 2 7 2 12 2-8 2-7 2 15 2 23 2-13 2-19 2 33 2 13M175 303q1 7 2-9t2-23 2 7 2 38 2 64 2 30M193 281q1-5 2 0t2 76 2 52 2-93 2-69 2 22 2 16 2 1 2 1 2-5 2-8 2 18 2 110 2 58 2-72 2-65 2-40 2 125 2 60 2-143 2-62 2 9 2 18M243 326q1 18 2-21t2-45 2-1 2 60 2 24 2-31 2 12 2 25 2-34 2-31 2 22 2-1 2-14 2-19 2-15 2 2 2 6 2 19 2 8 2-18 2 1 2 4 2 11 2 61 2 39 2-67 2-58 2 2 2-4 2-6 2 22 2 13 2-23 2-8 2 39 2 15 2-13 2 29 2 4 2-34 2-27 2-3 2 15 2 57 2-10 2-67 2 2 2 14 2-2 2 0 2 6 2-12 2 31 2 308 2 20 2-249 2-50 2-63 2-9 2 16 2 10 2-11 2 7 2 29 2-17 2-15 2 13 2 9 2-11 2-18 2 61 2 44"/>
<path stroke="#C41B40" d="M0 360l1 13q1 13 2 7t2-25 2-45 2-2 2 17 2-2 2 56 2 0 2-65 2-5 2 0 2 49 2 80 2 14 2-74 2-43 2-3 2-14 2 41 2 11M43 364q1 12 2-31t2-26 2 36 2 40M53 434q1 30 2-57t2-89 2 13 2 32 2 15M71 329q1 13 2 57t2-13 2-60 2 17 2-10 2-21 2 24M95 421q1-15 2-55t2-39 2 18M107 357q1-3 2-40t2-43 2 12 2 34 2 4M123 347q1 23 2 89t2-34 2-110 2-3 2 29 2 14 2-31 2-13 2 11 2 39 2 27M147 349q1-5 2 9t2-29 2-31 2 10M157 308q1 2 2 31t2 16 2-17M165 364q1 30 2 0t2-59 2-30 2 29 2 70 2 5 2-9 2 117 2 27 2-127 2-83 2-17 2 80 2 96 2-33 2-9 2 9 2-55 2-9 2 26 2 21 2-26 2-24 2-14 2-41 2-23 2 21M229 325q1 11 2-3t2-26 2 8 2 27 2 0M243 375q1 45 2 1t2-59 2-7M255 382q1-42 2-61t2-32 2 12 2 7M265 284q1-6 2 6t2 61 2 63 2-20 2-69 2-13 2 75 2 102 2 49 2-96 2-130 2-43 2 8 2 15 2-14 2 9 2 11 2 2M319 364q1 20 2-8t2-40 2-15 2 20 2-8 2-12 2 100 2 51 2-77M341 354q1 20 2 10t2 6 2 31 2 84 2 36 2 40 2-97 2-169 2 52 2 90 2-8 2-55 2-5 2-45 2-44 2 39 2 61 2-25 2-34 2 30 2 42M385 404q1-18 2-55l1-37"/>
<path stroke="#1276C2" d="M1 323q1-11 2 16t2 17 2-3 2-31 2-34 2 48 2 43 2-31 2 0 2 2 2-27 2 72M31 340q1-32 2-43t2 16 2 135 2 37 2-81 2 0M53 402q1 20 2 25t2-7 2-23 2 16 2-49 2-83 2 25 2 33M71 328q1-12 2-30t2-22 2-9 2 3 2 22 2 56 2 28 2-62 2-46 2 32 2 106 2 93 2-43 2-112 2-54 2 58 2 82 2-19 2-61M111 357q1 27 2-8t2-46 2 0 2 44 2 29 2-46 2-4 2 55M133 358q1-18 2-19t2 15 2-10 2-5 2 131 2-24 2-71 2 51 2-43 2-3 2 3 2-34 2 7M161 350q1-22 2 60t2 73 2-78 2-66 2-20 2-9M175 383q1 59 2-4t2-78 2 1 2 24 2-9 2 3 2 20 2-5M195 339q1 13 2-35t2-36 2 56 2 89 2-26 2-84 2 4 2 32 2-18M217 298q1 8 2 47t2 117 2 117 2-43 2-120 2-38 2 63 2-7 2-103 2-39 2 27 2 37 2 0 2-17 2-26 2 10 2 13M263 321q1 3 2 11t2-26 2-36 2 33 2 46M275 362q1 2 2-1t2-28 2 12 2 34 2-11 2-1 2-48 2-50 2 13 2 6 2 5 2 54 2 43 2-21M305 363q1 11 2-11t2-1 2 27M313 384q1 0 2 74t2 13 2-90 2-62 2-42 2 33 2 126 2 38 2-50 2 13 2-14 2-87M339 318q1 38 2 64t2 3 2-51 2-21 2 26 2 83 2 2 2-55 2 72 2 19 2-79 2-33 2-20 2 2 2 33 2-15M373 305q1-17 2-11t2 76 2 41 2-18 2 30 2-35 2-37l1 17"/>
<path stroke="#EE5A22" d="M0 362l1 111q1 111 2 37t2-21 2-30 2-82 2 7 2-22 2 9 2 54 2-21 2-33 2-15M25 392q1 56 2 46t2-48 2-40M35 389q1 33 2-10t2-38 2 41M45 405q1-23 2-54t2-35 2 23M53 387q1 21 2 53t2 15 2-72 2-56 2-1 2-15 2 3 2 16M71 341q1 13 2 55t2-27 2-76 2 6 2 33 2 50 2-2 2-38 2 17 2 39 2-11 2-39 2-28 2 11 2 19 2-13M107 346q1 12 2 39t2 12 2 48 2-4 2-88 2 29 2 22 2-28 2 45 2 11 2-68 2-3 2 30 2 44 2-10 2-47 2 0M147 373q1-29 2-58t2 5 2 42M159 340q1 4 2 31t2 59 2 41 2 80 2-38 2-100 2-5 2-1 2-19 2-49 2-16M193 391q1 23 2 27t2-23 2-27 2 28 2 11 2 9 2-14 2-44 2 7 2 20 2 3 2-19 2 24 2 37 2-16 2-16 2 29 2-26 2-66 2 24M241 339q1 7 2 18t2 17 2 0 2 6 2 11M253 400q1 10 2-16t2 21 2 124 2-31 2-85 2-11 2-52 2-18 2 26 2 10 2 36 2 37 2-55 2-27M287 340q1-24 2 10t2 45 2-24 2-27 2 76 2 56 2-8 2-28 2-64 2-49 2 5 2 55 2-3 2-16 2 29 2-8 2-26M325 346q1 18 2 77t2-8 2-52 2 91 2 34 2 10 2-42 2-104 2 29 2 13M349 370q1 42 2 7t2-17 2 9 2-1 2 24M361 384q1-24 2-20t2 77 2 8 2-72M371 351q1-19 2-1t2 37 2-30M379 336q1 28 2 40t2 202 2-28 2-221l1-3"/>
<path stroke="#F5AE26" d="M0 400l1-27q1-27 2-27t2-30 2-37 2-13 2 1 2 58 2 53 2 30 2-5M23 418q1 28 2 33t2-50 2-16 2 31 2-9 2 47 2 4 2-39 2-43 2-71 2-12 2 18 2-2 2-14 2 18 2 19 2-26 2-25 2 13 2 22 2 26 2 52 2 2 2-47 2-30 2-29 2 2 2 117 2 49 2-53 2-7 2 60 2 45 2-63 2-49 2 7M103 408q1-12 2-62t2-56 2-3 2 22 2 78 2 60 2-67 2-88 2 16 2 66 2-4 2-55 2-14 2 120 2 97 2-50 2-76 2-22M143 341q1-3 2 15t2 5 2 29 2 2 2-58 2 5 2 8 2 255 2-1 2-249 2 28 2-7 2-29 2 4 2 41 2-24M185 364q1 8 2 35t2 70 2 19 2-83 2-30 2 26 2-10 2-23 2-38 2-26 2 15 2 14 2-4 2-25 2-20 2 212 2 54 2-153 2-22 2-56M229 337q1-11 2 20t2 94 2-20 2-69M253 395q1 47 2-11t2-70 2 5 2-10 2-18 2 45 2 86 2 9 2-13 2 26 2-36 2-60M281 325q1 21 2 44t2-6 2-36 2 17 2 51 2 33M301 340q1 0 2 4t2 59 2-16 2-49 2 81 2-39 2-75 2 41 2 20M321 366q1-2 2-9t2-32 2-19 2 16 2 71 2 106 2 4 2-93 2-44 2 7 2-30 2-16 2 22M351 330q1 4 2-12t2-14 2 10M363 347q1 7 2 25t2 102 2 18 2-116 2-70 2-13 2-3 2-23 2 24 2 85 2 62 2-12l1-26"/>
<path stroke="#9036A0" d="M0 276l1 66q1 66 2 45t2-66 2-46 2-3 2 22 2 32 2-22 2-31 2 17 2 23 2 37 2 1 2-18 2 79 2 18 2-31 2 42 2-58 2-99 2-6 2 22 2 37 2 20 2-10 2 29 2-1 2-68 2 12 2 23 2-16 2-19 2-25 2-1 2 5 2 2 2-5 2 0 2-4 2 2 2-1 2-4 2 48 2 6 2-45 2-7 2-6 2 119 2 66 2-45 2-5 2-56 2-28 2 43 2-13M111 319q1 13 2 27t2-16 2 19 2-13 2-47 2 85 2 14 2-61 2-12 2 9 2 36 2-11 2-51 2-12 2 24 2 47 2-7 2-46 2-7 2 13 2-4 2-19 2-5 2-7 2 55 2 36 2-53 2 9 2 55M171 389q1-5 2 6t2-57 2-76 2 5 2 11 2 19 2 79 2 15 2-50 2 20 2 24 2 115 2 30 2-166 2-81 2 29 2 48 2 33 2-15 2 55 2-4 2-94 2-29 2-1 2 92 2-1 2-96 2 33 2 52 2 43 2-31 2-105 2-16 2 43 2-6 2-39 2 15 2 1 2-12 2 15 2 82 2 79 2-41 2-98 2-24 2 44 2 25 2 9 2-28 2-15 2 21 2-8 2-10 2-16 2 16 2-6 2 68 2 18 2-67 2-3M293 315q1-3 2-13t2-13 2 9M305 375q1-15 2-19t2 11 2 7 2-44 2-45 2-5 2 3 2 29 2 11 2-29 2 15 2 27 2-11 2 9 2-15 2-42 2 22 2 95 2 55 2-75 2-29 2 5 2-25 2-23 2-32 2-3 2-1 2-7 2 33 2 49 2 26 2-10M377 351q1-53 2-61t2 6 2 48 2 8 2-56l1-30"/>
<path stroke="#74B43A" d="M1 319q1 7 2 13t2-28 2-19 2 9 2-12 2 38 2 113 2-33 2-43 2 18 2-25 2 44M31 391q1 5 2-30t2-62 2-6 2 14M51 335q1-1 2 17t2 30 2 32 2 10 2-59 2 19 2 40 2 67 2-52 2-149 2 6 2 10 2-16 2 21M89 326q1 6 2-5t2-25 2-9 2 51 2 43 2-21M105 325q1-5 2-14t2 27 2 31 2-10M115 376q1 22 2 9t2 48 2-26 2-96 2 52 2 40 2-53 2 86 2 42 2-109 2-18 2 61 2-26 2-61 2-11 2-31 2 10 2 49 2 33 2-40 2-36 2 23 2 2 2 12 2 29 2 16 2-20 2-59 2 4 2 26M177 324q1-4 2-15t2-20 2 17 2 67 2 80 2-56 2-69 2 35 2 10 2-3 2-37 2-50 2-19 2 24 2 69 2 24 2 3M213 418q1 12 2 15t2 9 2-48 2-74 2 24 2 72 2-7 2 59 2 11 2-56 2-45 2-45 2 106 2 26 2-50 2 27 2-28 2-93 2-5M255 389q1-55 2-70t2-23 2-11 2-2 2-8 2 23 2 156 2 23 2-143 2-47 2-2 2 18 2 70 2 52 2-12 2-48 2-43 2 40 2 30 2 49 2 15 2-89 2-68 2 90 2 97 2-56 2-42 2-34 2-27 2 5 2 23 2 35 2-5 2-52 2-17 2-11M329 286q1 6 2 21t2 56 2 54 2-9 2-58 2 40 2 109 2-67 2-96 2 31 2 4 2-33 2 30 2 173 2 113 2-166 2-178 2-32 2 44 2 66 2 0 2-39 2-35 2 29 2 193 2 55 2-133 2-53 2-36l1-25"/>
<path stroke="#22B2EA" d="M0 260l1 9q1 9 2 9t2 18 2 63 2 18M17 287q1 3 2 1t2 0 2-7 2-16 2 0 2 40 2 55 2 52 2-12 2-25M47 362q1 24 2-16t2-31 2-3 2-17 2-11 2 40 2 32 2-52 2-16 2 40 2 15 2-38 2-33 2 24 2 7 2 0 2 27 2-21 2-29 2 36 2 21 2 1 2 141 2 70 2-167 2-38 2-2 2-69 2-5 2 0 2 98 2 92 2-24 2-103 2-72 2 55 2 26 2-30 2-19 2-10 2 51 2 92 2 87 2 26 2-119 2-81 2-5 2-50 2-24 2 32 2 42 2-3 2-23 2 5 2-11 2-24 2 57 2 12 2-40 2 16 2-21 2 8 2 147 2-27 2-143 2 14 2 25 2-5 2-9 2-19 2-20 2 7 2 39 2 71 2 32 2-51 2 31 2-16M207 296q1-6 2-13t2-9 2 12 2 40 2 42M219 347q1-37 2-59t2 29 2 6 2-49 2 6 2 72 2 30 2-4 2-41 2-71 2 149 2 74 2-107 2-23 2-34 2-48 2 50 2 107 2-11 2-15 2-41 2-87 2 40 2 24 2 70 2 31 2-2 2 29 2-104 2-86 2 0 2 45 2 23 2 0 2 14 2-52 2-23 2 74 2 108 2 5 2-108 2-63 2-8 2-5 2-11 2-7 2 77 2 14 2-41 2 47 2-11 2-24 2 3 2-32 2 65 2 147 2-12 2-121 2-39 2 16 2-45 2-42 2 26 2 63 2 52 2-49 2-83 2-23 2 74 2 18 2-68 2 2 2 63 2 7 2-9 2-6 2-60 2 44 2 15 2-24 2 86 2 14 2-95 2-55l1-6"/>
<path stroke="#C41B40" d="M0 420l1 13q1 13 2 86t2-23 2-124 2 22M13 361q1-5 2 32t2 113 2 15 2-100 2-14 2-5 2-58 2 4M47 423q1-13 2-13t2 25 2 56 2-11 2-89 2-31 2 40 2-7 2-39 2 41 2 7 2-27 2 19 2 11 2 32 2-6 2-48 2-23 2-30 2 18 2 55 2 18 2 0 2-16 2-16M101 345q1-23 2-18t2 20 2 1 2-9 2-9 2 9 2 65 2-20 2-59 2 59 2 73 2-42 2-73 2-13 2 15 2-3 2-1 2 28 2 22 2-1 2 15 2 11 2-42 2-29 2 124 2 56 2-79 2-81 2-49 2 38M163 332q1-36 2-28t2 38 2 30M181 340q1 4 2 7t2-13 2 62 2 98 2-60 2-102 2-3 2 49 2 56 2-16 2-43 2-4 2 17 2 25 2-6 2 12 2-19 2-70 2 0 2 65 2 12 2-23 2 106 2 27 2-93 2-22 2-20 2 11 2 61 2 36 2-55 2-44 2 10 2-36 2 3 2 37 2-28M263 356q1 2 2 26t2 22 2-23 2 13 2 138 2 80 2-84 2-79 2 15 2-42 2-64 2 36 2 17M293 360q1-24 2-25t2 44 2 120 2 31 2-101 2-18 2-4 2-60 2 38 2 48 2-34 2-10 2-19 2-13 2 65 2 71 2-39 2-98 2-36 2 40 2 6 2-56 2-7 2 18 2 26 2 36 2 68 2 22 2-10 2 12 2-57 2 25 2 3 2-79 2 40 2 165 2 9 2-166 2-73 2-10 2 5M379 360q1 26 2 80t2-12 2-72 2 11l1 17"/>
<path stroke="#1276C2" d="M0 346l1-38q1-38 2-42t2 32 2 38 2 73 2 30 2-69 2-48 2-38 2-14 2 6 2 1 2 14 2 63 2 35 2-51 2-49 2 37 2 61 2-20 2-34M43 404q1 72 2 40t2-69 2 52 2-35 2-130 2-4 2 139 2 45 2-108 2 163 2 68 2-166 2-21 2 99 2 38 2-10 2-6 2-79 2-48 2-1M89 334q1-2 2-6t2-30 2 1 2 32 2-27 2-18 2 57 2 65 2 15 2-16 2-27 2-13 2 24 2-9 2-55 2-21 2 22 2 24 2 37 2-29 2-72 2 1 2 22 2 32 2 43 2-22 2-55 2-11 2 30 2 7 2 10 2 48 2-19 2-66 2-7 2 14 2 1 2 47 2 31M173 316q1 22 2-4t2-36 2-11 2 23 2 35 2 3 2 41 2 40 2-35 2-53 2-16M197 353q1 39 2 65t2-19 2-90 2-25 2 41 2 1 2-18 2-14 2-25 2 58 2 134 2 43 2-72 2-71 2-26M231 313q1 11 2 97t2 118 2-46 2-132 2-65 2 3 2 86 2 52 2 7 2 116 2-27 2-114 2-39 2-39 2-21 2-6 2 54 2-1 2 1 2 41 2-57 2-20 2 82 2 53 2-85 2-97 2 43 2 49 2-15 2 38 2-28 2-39 2 13 2-53 2 16 2 63 2-13 2-34 2 8 2 6 2 55 2 23 2-83 2-50 2-11 2-11 2 76 2 191 2 81 2-132 2-110 2-8M337 320q1-38 2-8t2 307 2-1 2-300 2 17 2 26 2 13 2 32 2 58 2 48 2-43 2-88 2-76 2-21 2 16 2-4 2 0 2 24 2 85 2-14 2-104 2-17 2 22 2 112 2 42l1-46"/>
<path stroke="#EE5A22" d="M0 416l1-16q1-16 2 9t2-6 2-38 2-20 2 38 2 89 2 56 2-76 2-19 2 147 2 11 2-130 2-109 2-14 2 111 2 15 2-108 2-16 2 53 2 27 2-39 2-44 2 4 2 58 2 13 2-41 2 25 2 26 2 9 2 72 2 41 2-106 2-101 2-5M71 350q1 14 2 41t2 88 2-54 2-85 2 66 2 66 2-37 2-54 2-16M99 320q1 8 2 51t2 49 2-3 2 5 2-17 2-44 2 5 2 43 2-2 2-35 2-27 2-27 2-5 2 4 2 34 2 29 2-16 2-10 2 42 2 29 2-38 2-10 2 7 2 1 2 2 2 15 2-9 2-23 2 7 2-3 2-33 2 5 2 47 2-27 2-37 2 28 2 97 2 58 2-19 2-44 2-32 2-44 2-25 2 62 2 35 2-37M193 374q1-2 2-10t2-29 2 5 2 16 2 29 2 10 2-46 2-1 2 35M213 383q1-19 2-14t2-27 2-43M221 307q1 19 2 112t2 125 2-72 2-136 2-48 2 10 2 66 2 29 2-35 2-13 2 33 2 37 2 18 2-18 2-42 2-6M257 387q1 27 2 59t2-13 2-48 2-17 2 17 2 34 2-18 2 1 2-15 2-43 2 33 2 28 2-34 2-35 2-9 2 53 2 145 2-3 2-131 2-14 2-25 2-51 2 37 2 55 2-3 2-43 2-36 2 31 2 16 2-32 2-1 2 13 2 36 2 28 2-27 2-22 2 19M337 394q1 32 2 28t2-56 2-60 2 28 2 16 2-21 2-7M353 321q1 5 2 22t2 21 2 4M373 337q1 7 2 21t2 63 2 36 2-74 2-78 2 2 2 56l1 37"/>
<path stroke="#F5AE26" d="M0 314l1-3q1-3 2-2t2 57 2 107 2-23 2-110 2-42 2 27 2 24 2-44 2-31 2-5 2 15 2 36 2-1 2 2 2 31 2-13 2-17 2 12 2 22 2 32 2 62 2 16 2-81 2-47 2 87 2-17 2-93 2 15 2-28 2-35 2-4 2 4 2 5 2 67 2 24 2-67 2-14 2 75 2 26 2 38 2 42 2-51 2 19 2 2 2-16 2-12 2-19 2-30 2-29 2 17 2 80 2-5 2-73 2 17 2-34 2 3 2 46 2-30 2-2 2 14 2-45 2-14 2 46 2-18 2-49 2 32 2 31 2-15 2-4 2-7 2-13 2-11 2-15 2 2 2 2 2-28 2 260 2 87 2-234 2-67 2-7 2 43 2 0 2-33 2 28 2 23M177 334q1 0 2 3t2 36 2 7 2 8 2 38M189 409q1-21 2-82t2-19 2 16 2-28 2 18 2 22 2-32 2-29 2 9 2 32 2 9 2-41 2-26 2 10 2 34 2 26 2 42 2-16 2-62 2 9 2 60 2-1 2-63 2-18 2-7 2 33 2 108 2 8 2-41 2 12M251 373q1-15 2 58t2-29 2-61 2 65 2-29 2-71 2-26 2-12 2-4 2 17 2 51 2 80 2 59 2-44 2-41 2 33 2 47 2-9 2-119 2-50 2 23 2-26 2-3 2 19 2 29 2-13 2-33 2 37 2 15 2-28 2 13 2-7 2-17 2 28 2 38 2-14 2-46 2 7 2 4 2 0 2 7 2 41 2 29M339 373q1-3 2-9t2 3 2-41 2-52 2 10 2 47 2 22 2-11 2 7 2-4 2 3M363 374q1 14 2 22t2-39 2-31 2 114 2 154 2-3 2-115 2-128 2-73 2-7 2 8 2 33l1 19"/>
<path stroke="#9036A0" d="M0 326l1-3q1-3 2 31t2 5 2-43 2-7 2 36 2 30 2 9 2 6 2-62 2-24 2 90 2 72 2-39 2-103 2-19 2 112 2 14 2-65 2-29 2-36 2-2 2 21 2 14 2-13 2-8 2-16 2 26 2 49 2 2M61 374q1 8 2-46t2-39 2 118 2 61 2-110 2-62 2 8 2 3 2 27 2 74 2 42 2-58 2-49 2 31 2-17 2-45 2-5M97 314q1 12 2 20t2 8 2 45 2 16 2-40 2-7 2-19 2 22 2 69 2-58 2-61 2 45 2 7 2 0 2 14 2-20 2-14 2-3 2-26 2 1 2 28M145 327q1-7 2-8t2 26 2 37 2 35 2 10 2 6 2-1 2-55 2 18M165 431q1-15 2-43t2-41 2-20 2-1 2-16 2 5 2 16 2-23 2 39 2 39 2-30 2-33 2 1 2 13 2 18 2 16 2-33 2-17 2-11 2 0 2 27 2 5 2-35 2 8 2 96 2 12 2-81 2-35 2 11 2 7 2 19 2 20 2-28 2-26 2 0 2 24 2 111 2 82 2-106 2-95 2 23 2 12M251 333q1-27 2-26t2 12 2-11 2-10 2 88 2 5 2-58 2 5 2-21 2-2 2 23M277 389q1-15 2-41t2-49 2-25 2 20 2 23 2-24 2-14 2 36 2 23 2 14 2-29 2-31 2 34 2 19 2-6 2-1 2 35 2 10M315 351q1-11 2-26t2-38 2-21 2 18 2 40 2 19 2-1 2 3 2-36 2-34 2 37 2 19 2-40 2-9 2 42 2 97 2 6M351 367q1 3 2-3t2 2 2 12 2 1 2-52 2-34 2 14 2-2 2 21 2 91 2 9 2-66 2-38M381 340q1 28 2 48t2 51 2-3l1-34"/>
<path stroke="#74B43A" d="M0 316l1-21q1-21 2-24t2 6 2 9 2-3 2 62 2 93 2-63 2-89 2 51 2-7 2-22 2 44 2 9 2-10 2-44 2-43 2-7 2 40 2 83 2 63 2 20 2-83 2-98 2 66 2-1 2-69 2 2 2-15 2 4 2 9 2-1 2 11 2 6 2-26 2-25 2 87 2 77 2-38 2-38 2 14 2-25 2-45 2-1 2-3 2-5 2-16 2 20 2 91 2 70 2 2 2-12 2-76 2-65 2-12 2-4 2 14 2 12 2 0 2-11 2 0 2-1 2-4 2 17 2 19 2 41 2 1 2-56 2-1 2 40 2 11 2-11 2-30 2-31 2 33 2 90 2-25 2-70 2 73 2-1 2-80 2-13M167 392q1-40 2-17t2-2 2-41 2-30 2-19 2 6 2 31 2-7 2-17 2 79 2 72 2-89 2-96 2 21 2 84 2 24 2-65 2 15 2 7 2-36 2-17 2-25 2 18 2 10 2-24 2-9 2 4 2 2 2-3 2 42 2 9 2-7 2 74 2-43 2-81 2 17 2 5 2 10 2 42 2 29 2-14 2-15 2-11 2 26 2 46 2-29 2-38 2 8 2 18 2 14 2 36 2-40 2-91 2-24 2 14 2 159 2 24 2 2 2-19 2-90 2-9 2-66 2 1 2 39 2 46 2 21 2-7 2-40 2-34 2 21 2-10 2-8 2 135 2 23 2-133 2-50 2 12 2 8 2-17 2 14 2 12 2-25 2 18 2 41 2-36 2-47 2 16 2 14 2 0 2 8 2 36 2-5 2-46 2-2 2 81 2 28 2-81 2-33 2 44 2-10 2-44 2 44 2 43 2-3 2-26 2 3 2 13 2-33 2-24 2 7l1 6"/>
<path stroke="#22B2EA" d="M1 339q1-15 2-16t2-19 2-17 2 18 2 33 2 13 2 44 2 24 2-51 2-35 2-3 2 4 2-15 2 34 2 54 2-7 2-18 2-14 2-11 2 33 2 54 2 0 2-51 2-37 2 48 2 16 2-80 2-21M59 359q1 17 2-16t2-19 2 28 2 11 2-33 2-37 2-2 2 38 2 68 2 59 2-3 2-66 2-49 2-28 2-3 2 8 2-6 2 1 2 18 2 13 2-31 2-13 2 33 2 37 2 12 2-14 2-36 2-6 2 37 2 5 2-14 2-17 2-13 2-7 2-9 2 14 2 38 2-9 2-34 2 21 2 57 2-8 2-33 2 6 2-42 2-37 2 23 2 18 2 4M159 318q1-12 2 89t2 185 2-82 2-188 2-12 2 28 2-26 2-42 2 6 2 31 2 17 2 47 2 57 2-61 2-55 2 44 2 16 2-53 2-26 2 23 2 37M203 377q1 5 2-38t2-52 2 51 2 88 2 34 2 3 2-95 2-92 2 24 2 138 2 30 2-81 2 4M231 369q1-23 2 1t2 53 2 9 2-52 2-20 2 22 2 2 2 100 2 71 2-38 2-128 2-105 2 63 2 39 2-39 2-45 2-12 2 48 2 56 2 53 2 16 2 16 2-43 2-93 2-2M283 310q1-30 2-27t2 49 2 38 2-33 2-31 2 116 2 25 2-123 2-25 2 30 2 45 2 16 2 24 2 27 2-38 2-39 2 49 2 98 2-4 2-134 2-86 2 4 2 42 2 43 2-20 2-53 2-3 2 86 2 24 2-35 2 17 2 28 2 9 2-5 2 8 2-76 2-65 2 36 2 25 2 10 2-15 2-1 2 186 2-21 2-175 2 0 2-31 2 3 2 35 2-26 2-39 2 33l1 35"/>
<path stroke="#C41B40" d="M0 400l1-7q1-7 2 29t2 5 2-57 2-28 2 14 2 14 2-17 2 5 2 57 2 95 2 60 2-68 2-82 2-35 2 17 2 42 2 6 2 65 2 16 2 79 2-56 2-214 2 3 2 24 2 5 2 41 2 50 2-9 2-59 2-27 2 28 2-8 2-19 2 25 2-28 2 19 2 91 2-39 2 86 2 18 2-178 2 24 2 58 2-49 2-55 2-13 2 17 2 43 2 109 2-7 2-114 2 11 2-13 2-50 2 17 2 133 2-16 2-151 2-18 2 49 2 50 2-7 2-47 2-13 2 23 2 46 2 37 2-28 2-30 2 8 2 21 2 24 2 26 2 30 2-25 2-69 2-34 2-3 2 5 2 73 2 39 2-64 2-63 2-33 2-7 2 63 2 138 2-16 2-117 2-17 2-4 2 15 2 59 2-17 2-63 2-6 2-7 2 3 2 61 2 34 2-33 2-17 2 48 2 13 2-37 2-19 2-3 2-4 2-11 2-5 2-1 2-25 2-2 2 29 2-8 2-23 2-20 2 10 2 17 2-20 2 31M255 371q1-13 2-9t2 1 2-8 2-8 2 11 2 10 2-7 2 6 2-1M279 345q1-19 2 7t2 35 2-1 2-32 2-12 2 18 2 79 2 104 2-20 2-76 2-65 2-17 2 74 2-5 2-85 2 0 2 170 2-13 2-147 2 10 2 15 2 5 2 1 2 58 2 15 2-89 2-54 2 182 2 11 2-186 2 13 2 15 2 9 2 59 2 30 2-30 2 8 2-8 2-85 2-16 2 73 2 42 2-21 2-21 2-32 2-40 2 3 2 19 2 43 2 50 2-35 2-11 2 187 2 8l1-139"/>
<path stroke="#1276C2" d="M0 296l1-7q1-7 2 52t2 93 2-12 2-68 2-3 2 34 2-9 2-10 2 118 2 69 2-65 2-63 2-41 2-6M33 330q1 8 2-1t2-28 2-3 2 20 2 4 2 11 2 14 2 31 2 118 2-14 2-120 2 5 2 46 2 178 2 61 2-174 2-122 2-36 2 20 2 76 2 32 2-34 2-10 2-36M93 344q1 8 2 16t2 9 2 21 2 40 2-3 2-62 2 35 2 126 2 2 2-28 2-15 2-25 2-5 2-86 2-38 2 188 2 71 2-139 2-30 2-31 2-58 2-9 2 4 2 109 2 90 2-97 2-90 2 10 2 10 2-3 2 21 2-4 2-6 2 54 2 34 2-35 2-25 2-2 2-43 2-49 2 10 2 69 2 2 2-23 2 73 2 25 2 14 2 7 2-74 2 19 2 39 2-41 2-44 2 2 2 38 2-17 2 13 2 47 2-43 2-21 2 12 2-36 2-30 2 8 2 3 2 56 2 145 2 10 2-101 2-42 2-18 2-37 2-30 2 10 2-7 2-37 2 48 2 74 2 24 2-10 2-10 2-8 2-32 2-39 2-29 2 11 2 22 2 59 2 12 2-43 2-9 2-8 2-13 2 30 2 20 2-15 2 3 2-27 2-27 2 37 2 2 2-22 2 12 2 16 2 3 2-3 2 13 2 27 2 3 2-28 2-8 2-9 2-8 2-11 2-28 2-29 2 8 2 62 2 9 2-20M341 382q1-8 2-8t2 50 2 9 2-62 2-5 2 48 2-11 2-44 2 40 2 37 2-51 2-49 2 9 2 37 2 41 2 50 2-48 2-83 2-8 2 13M383 382q1 14 2-17t2-38l1-7"/>
<path stroke="#EE5A22" d="M0 334l1 24q1 24 2 5t2-37 2-9 2 0 2 49 2 31 2-55 2-34 2 6 2 37M23 383q1 7 2-26t2-49 2 11 2-2 2 15 2 129 2-16 2-80 2 13 2-17 2 36 2 50 2-70 2-75 2 148 2 48 2-141 2-52 2-27 2-4 2 56 2 94 2-19 2-103 2 8 2 22 2-29 2 55 2 15 2-76 2-19 2 12 2 26 2 53 2 9 2-46 2-38 2 8 2 98 2 12 2-88 2-5 2 80 2 63 2-47 2-38 2 3 2-26 2 12 2-16 2-44 2 35 2 38 2-33 2-25 2 118 2 74 2-93 2-62 2-34 2-32 2 61 2 16 2-78 2 27 2 31 2-18 2 12 2-39 2-30 2 35 2 92 2-32 2-64 2 59 2 25 2-39 2-18 2 56 2 5 2-26 2 14 2-15 2-53 2 6 2 48 2 9 2 6 2 1 2-27 2-21 2-35 2-31 2 4 2 47 2 16 2-33 2 3 2 51 2 17 2-28 2 25 2 30 2 41 2 105 2-51 2-94 2-33 2-77 2 4 2 10 2-30 2 11 2 98 2 43 2-83 2-64 2 16 2 25 2 23 2 40 2-5 2-17 2 9 2-14 2-14M277 315q1-33 2-34t2 0 2 11 2 48 2 43 2-47 2-27 2 51 2 25 2 1 2-12 2-23 2 59 2 36 2-85 2-44 2 91 2 139 2 17 2-148 2-111 2 3 2 58 2 55M333 318q1 4 2 8t2-14 2-23 2 58 2 97 2-25 2-42 2-14 2-60 2 13 2 19 2-42 2-6 2 55 2 107 2 50 2-77 2-70 2-37 2-5 2 20M379 325q1 3 2 10t2-15 2-11 2 31l1 20"/>
<path stroke="#F5AE26" d="M0 394l1 1q1 1 2 1t2 70 2-11 2 23 2-6 2-138 2 13 2 61 2-51 2-75 2 21 2 16 2-35 2-25 2 5 2 57 2 87 2 55 2-17 2-66 2-34 2-17 2-25 2-11 2 53 2-17 2-61 2 33 2 72 2 10 2-72 2-39 2 5 2 24 2 1 2 4 2 37 2-12 2-48 2 11 2 17 2-29 2-12 2 65 2 75 2 38 2-53 2-98 2-17 2 74 2 9 2-71 2 3 2-4 2-20 2-1 2 12 2 20 2 64 2-1 2-77 2-6 2 84 2 9 2-38 2 48 2-32 2-27 2 26 2-26 2 14 2 15 2-47 2-29 2 8 2 16 2 2 2 19 2 22 2 5 2 88 2 77 2-81 2-82 2-3 2 20 2-1 2-21 2-4 2-23 2-32 2-15 2 3 2 20 2 25 2 28 2 18 2-33 2 20 2 46 2-46 2-50 2-5 2 40 2-8 2-46 2 43 2 13 2-35 2 20 2-13 2-1 2 64 2-6 2-66 2-16 2 14 2-11 2 1 2 0M243 304q1 26 2 18t2-12 2-27 2 178 2 42 2-169 2-4 2-20 2-13 2 34 2-22 2-37 2 5 2 19 2 36 2 4 2-25 2-14 2-10 2-16 2 1 2 36 2 66 2 13 2-66 2-53 2-4 2 97 2 35 2-92 2 29 2 57 2-71 2-54 2 17 2 76 2 66 2-84 2-79 2 87 2 91 2-78 2-97 2 67 2 66 2-29 2-63 2-34 2 57 2 28 2-41 2-17 2 18 2 62 2-40 2-81 2 54 2 45 2-6 2-1 2 24 2-7M371 379q1 23 2 12t2-21 2-35 2-11 2 12 2 46 2 58 2-11l1-21"/>
<path stroke="#9036A0" d="M0 340l1 5q1 5 2 65t2 15 2-68 2-1 2 56 2-16 2-83 2-15 2 60 2 44 2-22 2-31 2-12 2-15 2 27 2 44 2-23 2-19 2 8 2 27 2 40 2-17 2 21 2 58 2 25 2-47 2-72 2-19 2-22 2 116 2 48 2-90 2-39 2-35 2-28 2 6 2 26 2 5 2 3 2-11 2 43 2 62 2-3 2-37 2-26 2-11 2-6 2 100 2 32 2-72 2-4 2-33 2-7 2 56 2 55 2-59 2 99 2-3 2-165 2 20 2 27 2 25 2-32 2-32 2-16 2-13 2 12 2-2 2-22 2-13 2 13 2 1 2 2 2 4 2 16 2 23 2-10 2 43 2 8 2-62 2 20 2 196 2-8 2-167 2 14 2-37 2-77 2-20 2 26 2 45 2-6 2-31 2 108 2 74 2-48 2-11 2-24 2-45 2-46 2 1 2 57 2 41 2-24 2-64 2 24 2 57 2-36 2-11 2 51 2-27 2-35 2 5 2-40 2-12M233 329q1-9 2-4t2 178 2 27 2-157 2-19 2 8 2 6 2 15 2-6 2-24M255 346q1-14 2-2t2 39 2 44 2 143 2-23 2-176 2-41 2 21 2 57 2-18 2 23 2 57 2-36 2-42 2-4 2 19 2 57 2-15 2-90 2-21 2 3 2 91 2 12 2-93 2-6 2 15 2 83 2 12 2-62 2 33 2 62 2-36 2-45 2-7 2 25 2 3 2-81 2-7 2 98 2 34 2-50 2-46 2-25 2 13 2 15M349 408q1-22 2-36t2 50 2 72 2-55 2-70 2 34 2 26 2-66 2-54 2 18 2 85 2 30 2 109 2-11 2-180 2-34 2 6 2 21 2 8l1 1"/>
<path stroke="#74B43A" d="M0 406l1 32q1 32 2 12t2-58 2 5 2-8 2-19 2 57 2-33 2-72 2-27 2-10 2 21 2 19 2 22 2 36 2 11 2-56 2-51 2 6 2 16 2 53 2 37M45 404q1 10 2-7t2 29 2 50 2-26 2-60 2-53 2-18 2 10 2 7 2 31 2 62 2 6 2-36 2-52 2-39 2 95 2 69 2-71 2-64 2-42 2-5 2 43 2 13 2-2 2 7 2 9 2-32 2-9 2 90 2 5 2-90 2-36 2 24 2 86 2 25 2-35 2-9 2-25 2-20 2 13 2-3 2-15 2 4 2 3 2 47 2-5 2-13 2 91 2-17 2-100 2 12 2 24M151 350q1-12 2-9t2-9 2 5 2 12 2 1 2 38 2 20 2-37 2-17 2 42 2 86 2 99 2-99 2-138 2 36 2-6 2-45 2-11 2-1 2 26 2 37 2-10 2-28 2 5 2 21 2-4 2 9 2 12 2-15 2-19 2-14 2 16 2-6 2-33 2-3 2 8 2-16 2 31 2 83 2-28 2-91 2-10 2 24 2-14 2 5 2 98 2 38 2-18 2-16 2-25 2 64 2-24 2-80 2-6 2-24 2 15 2 19 2-43 2-4 2 67 2-10 2-26 2 55 2 2 2-55 2-38 2 22 2 61 2 71 2-22 2-98 2-30 2 80 2 33 2-33 2 4 2 40 2 60 2-76 2-92 2 7 2 4 2-22 2 2 2 42 2 44 2 37 2-44 2-57 2 13 2 1 2 45 2 92 2-47 2-94 2 31 2 43 2-61 2-57 2 59 2 72 2 1 2-14 2-22 2-32 2 70 2 47 2-32 2-51 2-41 2 27 2-30 2-41 2 24 2 4 2-2 2 34 2 51l1 25"/>
<path stroke="#22B2EA" d="M0 380l1-9q1-9 2 19t2 12 2-14 2 48 2-32 2-53 2 43 2-4 2-19 2-7 2 3 2 18 2 94 2-18 2-100 2 34 2 36 2-72 2-77 2 66 2 62 2-21 2-33 2-4 2-10 2 9 2 23 2-21 2 2 2 61 2-2 2-44 2 29 2 24 2-24 2-28 2-13 2-17 2-13 2 24 2 16 2-16M89 351q1-5 2-6t2-32 2-21 2 83 2 34 2-27 2 67 2 51 2-68 2-85 2-15 2 62 2 135 2-33 2-90 2 121 2-28 2-158 2 26 2 23 2-67 2-13 2 42 2 26 2 66 2 20 2-67 2-25 2 1 2 14 2-2 2-6 2 54 2 16 2-87 2-65 2 25 2 48 2-22 2-18 2-1 2-16 2-7 2 0 2 74 2 71 2-22 2-10 2 22 2-32 2-59 2-32 2-5 2-7 2 10 2 31M209 376q1 16 2-15t2-46 2-29 2 14 2 95 2 101 2-25 2-70 2 15 2-14 2-36 2-17 2-51 2-17 2 51 2 44 2 17 2 89 2-9 2-75 2-7 2-34 2-18 2 37 2 65 2-26 2-62 2 25 2 67 2 0 2-46 2-39 2-16 2 6 2-11 2-4 2 59 2 65 2-44 2-54 2-5 2-15 2-6 2 3 2 10 2 0 2-41 2-26 2 4 2 1 2 27 2 17 2 46 2 53 2 49 2 60 2-50 2-93 2-21 2 49 2 13 2-55 2 6 2 66 2 20 2 17 2-55 2-89 2-23 2 24 2 51 2 33 2-22 2-34 2 53 2 130 2 102 2-153 2-166 2 47 2 60 2 39 2-67 2-103 2-33 2-19 2 30 2 19 2-1l1 9"/>
<path stroke="#C41B40" d="M0 442l1-40q1-40 2-46t2 51 2 21 2-55 2-7 2 12 2 46 2 52 2-37 2 12 2 23 2-42 2 25 2 21 2-66 2-64 2 22 2 17 2-31 2 24 2 20 2-24 2 32 2-16 2 2 2 70 2 1 2-24 2-55 2-55 2 29 2 67 2-14 2-45 2-14 2-4 2 14 2 33 2 10 2-24 2-11 2 7 2 13 2-31 2-33 2-4 2 31 2 58 2 47 2 4 2-92 2-64 2 19 2 15 2-14 2 1 2 14 2-21 2-22 2 27 2 63 2 13 2-30 2-12 2 42 2 10 2-71 2-28 2 58 2 14 2 28 2 47 2-54 2-65 2-24 2 42 2 41 2 0 2-11 2-36 2 92 2 45 2-116 2-38M171 338q1-4 2-16t2 78 2 98 2-53 2-79 2-18 2 7 2-27 2-24 2 3 2 17 2 15 2-31 2 3 2 39 2 24 2-11 2-2 2-2 2-53 2-30 2 11 2 51 2 29 2 0 2 14 2-32 2-12 2 6 2-21 2 19 2 16 2-16 2-32 2-18 2 91 2 79 2-58 2-74 2-25 2 52 2 7 2 263 2 7 2-307 2 50 2 123 2 23 2-90 2-32 2-34 2-33 2 52 2 4 2-43 2 0 2 25 2 26 2-27M291 327q1-9 2-11t2 2 2 7 2-9 2-29 2-18 2 58 2 66 2-51 2-37 2 16 2 7 2 33 2 28 2-14 2-45 2-1 2 83 2 31 2-57 2-37 2-30 2-26 2 227 2 72 2-208 2-28 2 46 2 12 2-48 2 8 2 18 2-4 2 9 2 13 2-33 2-75 2 0 2 58 2 27 2 0 2-27 2-49 2-13 2 8 2 30 2 89 2 81l1 10"/>
<path stroke="#1276C2" d="M0 274l1 18q1 18 2 51t2 27 2-41 2-38 2 29 2 6 2-42 2 34 2 41 2-32 2 36 2 25 2 60 2-41 2-131 2-6 2-10 2 2 2 55 2 46 2-5 2-35 2-32 2 16 2 55 2 25 2-25 2-18 2-43 2-21 2 5 2-9 2 3 2 61 2 86 2-18 2-65 2-38 2-10 2 76 2 7 2-80 2-22 2 6 2 33 2 35 2 8 2-15 2-23 2-10 2 35 2 0 2-54 2-19 2-5 2 9 2 22 2 11 2 0 2-10 2-21 2-11 2 10 2 8 2 3 2 17 2 53 2 34 2-27 2 29 2-49 2-52 2 100 2-13 2-89 2-6 2 2 2-22 2 22 2 25 2-23 2 8 2 31 2-22 2-24 2-5 2 41 2 80 2-11 2-54 2-1 2 15 2-22 2-21 2-17 2-12 2 10 2 6 2 26 2 5 2-24 2 33 2 16 2 29 2 43 2-89 2-82 2 58 2 40 2-53 2-22 2-2 2-7 2 20 2 73 2 95 2-27 2-107 2-43 2-6 2 7 2 21 2-11 2 44 2 59 2 26 2-9 2-89 2-31 2 78 2 0 2 63 2 3 2-73 2 170 2-10 2-184 2-55 2 46 2 34 2-51 2-36 2 27 2 77 2 43 2-9 2 86 2-42 2-96 2-30 2-51 2 65 2 49 2-35 2-66 2-33 2 11 2 4 2 42 2 247 2-18 2-217 2-26 2-11 2 11 2-9 2-9 2 11 2 41 2 16 2-16 2-12 2-15 2-20 2-15 2 21 2 122 2 126 2-59 2-105 2-31 2-17 2 49 2 34 2-49 2 6 2-11 2-62 2 2 2 66 2 0 2-49 2-11l1-11"/>
<path stroke="#EE5A22" d="M0 346l1-15q1-15 2-1t2 9 2-2 2-4 2 3 2 25 2-15 2-36 2-4 2 27 2 31 2 22 2-30 2-31 2 3 2-32 2-6 2 57 2 12 2-57 2-9 2 86 2 58 2-42 2-39 2-6 2-13 2 0 2 35 2-3 2-25 2 9 2 10 2-4 2 49 2 74 2-22 2-71 2-22 2-5 2-35 2-17 2 39 2 15 2-41 2-20 2 40 2 89 2 4 2-57 2 15 2 10 2-32 2-11 2 10 2-40 2-42 2 27 2 10 2-2 2 43 2 59 2 24 2-79 2-61 2 59 2 27 2-30 2-26 2 1 2-3 2-16 2 91 2 49 2-67 2-24 2 56 2 32 2-56 2-78 2-33 2 17 2-2 2-22 2 0 2 64 2 25 2 98 2 20 2-147 2-44 2 4 2 14 2-11 2-6 2 7 2 66 2 98 2-94 2-117 2 42 2 57 2 13 2-25 2 34 2 7 2-55 2-1 2-12 2-14 2 32 2 20 2-35 2 33 2 38 2-51 2-29 2-3 2 6 2 52 2-19 2-68 2 36 2 32 2-44 2-12 2 114 2 32 2-24 2-16 2-86 2-24 2 31 2 25 2 14 2 75 2 6 2-83 2 56 2 169 2-55 2-146 2 9 2 8 2 49 2 6 2-81 2-40 2 67 2-1 2-49 2 35 2 5 2 35 2 0 2-74 2-20 2 21 2 8 2-8 2 30 2-6 2-67 2-19 2 26 2 20 2-12 2-24 2-6 2 74 2 62 2-87 2-71 2 18 2 54 2 40 2-8 2 51 2-4 2-82 2 60 2 94 2-57 2-51 2-28 2-61 2 6 2 8 2 35 2 88 2-3 2-43 2-3"/>
<path stroke="#F5AE26" d="M0 418l1-28q1-28 2-33t2 20 2 46 2 16 2-37 2-30 2 15 2 29 2-14 2-23 2 46 2 25 2-26 2 33 2 24 2-75 2-58 2 6 2 52 2 37 2-5 2 2 2-41 2-55 2-6 2 23 2-7 2-20 2 37 2 41 2 50 2 118 2-27 2-121 2-9 2-18 2-33 2 18 2 40 2-5 2-68 2-34 2 46 2-7 2-30 2 16 2 24 2 31 2-17 2-31 2-32 2 6 2 44 2 1 2-18 2-1 2-4 2-36 2-20 2 7 2 9 2 20 2 8 2 16 2 27 2-36 2-52 2-5 2 87 2 60 2-68 2-33 2 31 2 2 2-16 2-15 2-15 2 9 2 26 2 9 2-10 2 3 2 10 2-8 2-14 2-2 2 20 2 39 2 60 2-10 2-80 2-30 2 5 2 118 2-1 2-147 2-13 2 56 2 38 2-1 2-20 2-12 2 20 2-18 2-10 2 96 2-9 2-94 2-34 2 20 2 36 2-28 2-31 2-5 2 33 2 17 2 4 2-9 2-16 2 43 2-14 2-37 2 21 2 11 2 5 2 38 2 44 2-49 2-65 2 11 2 8 2-9 2 10 2 37 2 22 2-61 2-64 2 23 2 67 2 62 2 21 2-54 2-74 2-36 2 8 2 64 2 64 2-42 2-91 2 6 2 52 2-11 2-28 2-16 2 11 2 29 2 10 2 4 2-16 2 37 2 104 2-47 2-104 2 18 2 21 2-13 2-1 2 52 2 16 2-8 2 8 2 7 2-34 2-57 2 44 2 47 2 0 2-28 2-38 2-12 2 0 2 56 2 60 2-56 2-94 2-22 2 43 2 115 2 28 2-64 2-43 2-41 2 7l1 18"/>
<path stroke="#9036A0" d="M0 310l1-15q1-15 2 36t2 86 2-29 2-79 2-20 2-12 2-10 2-2 2 4 2 5 2 4 2 13 2 8 2-15 2 0 2 4 2-1 2 35 2 11 2 26 2 43 2-40 2-61 2-1 2 14 2-20 2 11 2 75 2 5 2-31 2-20 2-55 2-14 2 13 2 10 2 55 2 75 2 11 2-18 2-50 2-67 2-19 2 40 2-3 2-20 2 74 2 17 2-46 2 66 2 10 2-110 2-34 2 8 2 4 2 5 2-4 2 8 2 23 2 23 2-5 2-14 2-27 2-14 2 86 2 98 2-42 2-97 2-21 2 28 2 29 2-2 2-20 2-16 2-14 2-1 2 9 2-9 2 7 2 73 2 23 2-81 2-52 2 12 2 43 2-4 2-49 2-19 2 17 2 70 2 41 2-41 2-46 2-21 2-8 2 14 2 26 2 20 2 10 2-3 2 12M203 353q1-11 2-18t2 34 2 32 2-71 2-64 2 24 2 20 2 59 2 76 2-49 2-32 2-1 2 7 2-7 2-58 2 19 2 71 2 16 2-59 2-43 2 32 2 6 2-38 2 22 2 3 2-39 2-26 2 58 2 52 2 22 2-16 2-58 2 16 2 50 2 67 2-40 2-105 2-36 2 34 2 13 2-38 2-16 2 160 2 1 2-156 2 31 2 23 2 27 2-21 2-61 2 73 2 114 2-79 2-114 2-9 2 12 2 66 2-12 2-69 2 3 2 17 2 37 2 62 2-9 2 21 2 30 2-86 2-57 2 28 2 198 2 23 2-115 2-29 2-82 2-20 2-1 2 22 2 39 2-8 2 44 2 129 2-17 2-121 2 17 2-29 2-62 2 94 2 97 2 6 2-18 2 17 2-58l1-74"/>
<path stroke="#74B43A" d="M0 290l1 44q1 44 2 71t2-29 2-51 2 50 2 36 2-27 2-34 2-28 2-10 2 36 2 53 2-7 2 17 2-3 2-59 2-33 2 14 2 60 2-10 2-33 2 52 2 82 2-54 2-72 2 23 2 14 2-18 2-42 2 6 2 18 2 9 2 6 2-13 2 102 2 19 2-144 2-59 2 5 2 31 2 67 2 83 2-5 2 4 2 129 2-39 2-149 2-76 2-37 2 24 2 52 2 36 2 15 2-18 2-57 2 13 2 70 2 18 2-15 2-17 2-45 2-57 2 19 2 56 2-8 2 6 2 37 2-12 2-30 2-22 2-48 2-7 2 78 2 69 2-38 2-63 2-1 2 50 2 18 2-58 2-58 2-14 2 21 2 28 2 6 2 19 2 25 2-48 2-29 2 50 2 32 2-4 2-10 2-20 2-10 2 53 2 0 2-64 2 38 2 38 2 1 2 27 2-16 2-38 2-33 2-15 2 65 2 35 2-26 2-13 2 37 2-7 2-36 2 11 2-38 2-16 2 30 2 5 2 3 2 2 2 10 2-5 2-46 2 17 2 53 2-15 2-57 2-15 2 67 2 49 2-24 2-13 2-7 2-16 2 66 2 16 2 23 2 9 2-119 2-57 2-5 2 61 2 47 2-28 2-16 2 15 2 55 2-7 2 40 2 68 2-108 2 16 2 2 2-141 2-4 2 65 2 18 2-36 2-33 2-1 2 148 2 49 2-159 2-58 2 100 2 33 2 64 2 72 2-152 2-94 2 63 2 42 2-53 2-43 2 8 2-14 2 2 2 31 2 6 2 52 2 51 2-69 2-98 2-8 2 44 2 16 2 192 2 24 2-215 2-37 2 14 2 26 2 1 2-39l1-24"/>
<path stroke="#22B2EA" d="M0 336l1-14q1-14 2-41t2-23 2 17 2 2 2 4 2-18 2 241 2 52 2-238 2-24 2-15 2-3 2 4 2-5 2 4 2 9 2-14 2 14 2 25 2-20 2-16 2 10 2 53 2 61 2-19 2-67 2-33 2-13 2 18 2 30 2-21 2-18 2-13 2-12 2 4 2 12 2 2 2 5 2 11 2-14 2 0 2 11 2-7 2 1 2 74 2 3 2-75 2-15 2 94 2 131 2-45 2-95 2 6 2-11 2-58 2-26 2 20 2-2 2-16 2 5 2-4 2-1 2 7 2 45 2 76 2-50 2-72 2 8 2-2 2 1 2 12 2 0 2-26 2-2 2 29 2 44 2 18 2-37 2 1 2 21 2 25 2 87 2-64 2-99 2 28 2-29 2-28 2 31 2 5 2-22 2-10 2 0 2 9 2 22 2 59 2 50 2-59 2-62 2-6 2-5 2 2 2-2 2-2 2 43 2 73 2-48 2-50 2 13 2-28 2-3 2 12 2-5 2-4 2 9 2 35 2 115 2 19 2-120 2-50 2 7 2 21 2 5 2-30 2-22 2 5 2 5 2-8 2-2 2 4 2 9 2 0 2 0 2 1 2 1 2 8 2 1 2 46 2 25 2-55 2-36 2 32 2 14 2-23 2-3 2-9 2-17 2 3 2 30 2 32 2-3 2-30 2-16 2 4 2-4 2-9 2 13 2 4 2 1 2 7 2-20 2-5 2 10 2-13 2-9 2 52 2 40 2-31 2 8 2 42 2 2 2 24 2-43 2-82 2 9 2 39 2-5 2 70 2 86 2-52 2 23 2-60 2-118 2 13 2 12 2-7 2-1 2 29 2 38 2 39 2-16 2 9 2-13 2-67l1-7"/>
<path stroke="#C41B40" d="M0 394l1-15q1-15 2-11t2 5 2-2 2 21 2 120 2 5 2-99 2 27 2-35 2-70 2 69 2-6 2-84 2 18 2 18 2 15 2 12 2-28 2-38 2 0 2 122 2 10 2-122 2-35 2 8 2 33 2 53 2 23 2-37 2-43 2 5 2 36 2 8 2-34 2 31 2 52 2-39 2-18 2 15 2-36 2-44 2 28 2 39 2 66 2 58 2-30 2-39 2-4 2 10 2 1 2-3 2-41 2-40 2 46 2 75 2-36 2-89 2-37 2 31 2 26 2-4 2-14 2 73 2 37 2-44 2 43 2 109 2 35 2-146 2-115 2 25 2 40 2-23 2-36 2-10 2-5 2 18 2 52 2 14 2-45 2-20 2 98 2 46 2-109 2-96 2 34 2 110 2-36 2-99 2 2 2 31 2 70 2 34 2-64 2-18 2 14 2-4 2-6 2-48 2-24 2 46 2 53 2 33 2 273 2-9 2-267 2 49 2-12 2-3 2 52 2-89 2-87 2 57 2 21 2-36 2-17 2 18 2 49 2-21 2-59 2-21 2 43 2 10 2-29 2 3 2 1 2-16 2 1 2 29 2 57 2-11 2-39 2 50 2 7 2-8 2-8 2-41 2-18 2 12 2-7 2 32 2 195 2-68 2-204 2 49 2 43 2-20 2-17 2 11 2 35 2 58 2-34 2-92 2-20 2 9 2 21 2 2 2-19 2-16 2-5 2 1 2-18 2 7 2 55 2 41 2 22 2 39 2 19 2-54 2-26 2 83 2 21 2-74 2-35 2-34 2-38 2 23 2 54 2 14 2 101 2 38 2-86 2-72 2-64 2 61 2 74 2-33 2 8 2 7 2-76 2-24 2 24 2 35l1 21"/>
<path stroke="#1276C2" d="M0 286l1-9q1-9 2-12t2 2 2 4 2 26 2 56 2 36 2-15 2 55 2 21 2-85 2-4 2 40 2-5 2-23 2 8 2-10 2-41 2-17 2-18 2-28 2-3 2 1 2 7 2 21 2 30 2 24 2-23 2 4 2 36 2-17 2 129 2 31 2-179 2-57 2 35 2 52 2 3 2-32 2-3 2 18 2-13 2 54 2 29 2-77 2 22 2 49 2-60 2-31 2 23 2 14 2 0 2-52 2-45 2-27 2-23 2 10 2 66 2 72 2 17 2 6 2-24 2-15 2-27 2-38 2 10 2 5 2 98 2 28 2-74 2-21 2-11 2 77 2 16 2-78 2-20 2 38 2 13 2-3 2-23 2 42 2 38 2-83 2-2 2 44 2 25 2 29 2-32 2-24 2-17 2-37 2 0 2-17 2 13 2 12 2 10 2 59 2 30 2 34 2 141 2-58 2-174 2 59 2 48 2-14 2-5 2-4 2-74 2-90 2 9 2 24 2 24 2 7 2-20 2 60 2 23 2-57 2-45 2-24 2 27 2 49 2 64 2-6 2-45 2-47 2-29 2 119 2 38 2-92 2 2 2 9 2-41 2-8 2 11 2-36 2-27 2 47 2 66 2 17 2-24 2 18 2 6 2-58 2 1 2 17 2-37 2 6 2 54 2 8 2-11 2-35 2-12 2 7 2-13 2 34 2 24 2-36 2-12 2-9 2-3 2 79 2 15 2-47 2 205 2 12 2-135 2 71 2-63 2-96 2-38 2-15 2 68 2 42 2-49 2-34 2-35 2 22 2 13 2 4 2 25 2 0 2-28 2-34 2 42 2 23 2-58 2-12 2 58 2-14 2-6 2 41 2-22 2 120 2 40l1-108"/>
<path stroke="#EE5A22" d="M0 356l1-22q1-22 2 58t2-9 2-100 2 9 2 31 2-19 2-27 2-5 2 189 2 4 2-157 2 162 2 20 2-68 2 7 2-25 2-12 2-45 2-32 2 3 2 47 2 6 2-27 2-16 2 9 2 18 2-29 2-4 2-12 2 16 2 35 2-16 2 9 2-12 2-30 2 40 2 46 2-47 2-66 2 48 2 71 2-35 2-57 2 54 2 66 2-14 2-20 2-35 2 6 2 165 2 45 2-180 2-34 2 83 2-26 2-89 2-2 2 32 2 75 2 34 2-106 2-24 2 100 2-52 2-103 2 73 2 72 2-22 2 36 2-10 2-73 2 25 2 20 2-50 2-36 2 48 2-9 2-49 2 22 2-4 2-37 2 5 2 0 2-8 2-10 2-2 2 87 2 46 2-27 2-22 2-40 2-20 2-44 2-55 2-33 2 96 2 351 2-22 2-233 2 6 2-16 2-18 2-26 2 29 2 56 2 113 2-24 2-130 2-11 2-4 2-25 2 2 2 61 2 30 2-31 2-28 2-24 2-25 2-25 2-3 2 31 2 71 2-13 2-51 2 25 2 67 2-29 2-61 2 22 2 15 2-23 2-42 2 40 2 23 2-53 2 39 2 18 2-52 2 26 2 34 2-25 2-46 2-19 2 8 2 9 2-8 2-8 2 4 2-1 2 46 2 22 2-12 2 0 2-20 2 30 2 44 2 93 2 39 2-112 2-94 2-9 2 51 2 27 2 175 2-52 2-187 2 59 2-6 2-24 2-24 2 10 2 38 2 26 2-34 2-49 2 95 2 42 2-103 2 8 2 48 2-73 2-27 2 49 2-3 2-9 2 3 2 8 2-31 2-32 2 19 2 1 2 74 2 158l1 78"/>
<path stroke="#F5AE26" d="M0 310l1-22q1-22 2-29t2-3 2 52 2 31 2-39 2-33 2 53 2 23 2-51 2-10 2 45 2 24 2-43 2 87 2 15 2-120 2-27 2-1 2 5 2 9 2 11 2-4 2-23 2 5 2 30 2-14 2-23 2 26 2 48 2 51 2 60 2-59 2-107 2 15 2 10 2-28 2-8 2 19 2 24 2-27 2-33 2 7 2 93 2 12 2-74 2 9 2-13 2 201 2 30 2-220 2-14 2 7 2-14 2-8 2 8 2 12 2-4 2-14 2-10 2-6 2 20 2 6 2-21 2 11 2 4 2-12 2 112 2 17 2-119 2-26 2 1 2 24 2 42 2-21 2-41 2 11 2 35 2 26 2-24 2-12 2 5 2 165 2-1 2-171 2 125 2 48 2-76 2-60 2-85 2-32 2 16 2 67 2 96 2-40 2-83 2 29 2 49 2-28 2-53 2 8 2 11 2 5 2 5 2-11 2-7 2 29 2 20 2-18 2-16 2 12 2 17 2 48 2-3 2-59 2-27 2-10 2 0 2 0 2-11 2 2 2 26 2 12 2-17 2-12 2 8 2 49 2 17 2-56 2-25 2 22 2 95 2 1 2-80 2-12 2-28 2 154 2 47 2-164 2 19 2 64 2 32 2-58 2-79 2 29 2 39 2-40 2-48 2 16 2 18 2-7 2-1 2 21 2 6 2-13 2-10 2-1 2 7 2 19 2-2 2-14 2 76 2 60 2-73 2-64 2-7 2 15 2 15 2 6 2-11 2-38 2-3 2 27 2-4 2 5 2 31 2 5 2 8 2-12 2-40 2 13 2 28 2-10 2-19 2-8 2-1 2-13 2-15 2 0 2-1 2 1 2 38 2 84 2 24l1-25"/>
<path stroke="#9036A0" d="M0 338l1 0q1 0 2-36t2-4 2 45 2-13 2 43 2 80 2-32 2-45 2-56 2-46 2 33 2 22 2-20 2 47 2 62 2-49 2-42 2-20 2-5 2 17 2 23 2 41 2-23 2-11 2-1 2-54 2-18 2 42 2 47 2-33 2-51 2-9 2 28 2 48 2-12 2-24 2 27 2 28 2-5 2 12 2 45 2 61 2-23 2-121 2-33 2 19 2-19 2 7 2 8 2-15 2 31 2 45 2-46 2-41 2 67 2 83 2-13 2-109 2-63 2 72 2 85 2-18 2-78 2-47 2 42 2 29 2-40 2-23 2 11 2 84 2 96 2-44 2-52 2 47 2-6 2 84 2 53 2-160 2-38 2 29 2-20 2-11 2-33 2-5 2 48 2 13 2-67 2-43 2 80 2 143 2-7 2-135 2-66 2 3 2 12 2 31 2-18 2-41 2 35 2 75 2 35 2-25 2-30 2 20 2 1 2-53 2-25 2-3 2 4 2 38 2 2 2-48 2-4 2-3 2-12 2 40 2 35 2 33 2 8 2-48 2 17 2 214 2-61 2-217 2 159 2-37 2-159 2 44 2 17 2-25 2-5 2 2 2-12 2 36 2 87 2-24 2-36 2 13 2-49 2-24 2 33 2 44 2 2 2-39 2 2 2 55 2 41 2 16 2-2 2-30 2-54 2-8 2 34 2-5 2 30 2 103 2 2 2-6 2-59 2-94 2 11 2-28 2-24 2 6 2 5 2 31 2 62 2 38 2-66 2-88 2-10 2 21 2 46 2 45 2-39 2-45 2 86 2 71 2-86 2-17 2 66 2-37 2-51 2 36 2 85 2-60 2-101 2 22 2 25 2-4 2-9 2-2 2-4l1-4"/>
<path stroke="#74B43A" d="M0 334l1-34q1-34 2-34t2 5 2-5 2-6 2 74 2 15 2-36 2-2 2-36 2 21 2 59 2 13 2-19 2 39 2-5 2-23 2-32 2-58 2 4 2-9 2 10 2 8 2-21 2-1 2 10 2 8 2 6 2-7 2-15 2 3 2 71 2 13 2-77 2-24 2 15 2 11 2 10 2 46 2 21 2-37 2-24 2 5 2 7 2 33 2-14 2-59 2-14 2 11 2 18 2-3 2-6 2 9 2 5 2-3 2-1 2-8 2 82 2 26 2-58 2-9 2-21 2 5 2 46 2-20 2-60 2-6 2 70 2 39 2-62 2-23 2-5 2-15 2 18 2 57 2 6 2-39 2 9 2 45 2 49 2-36 2-93 2 114 2 171 2-86 2-102 2-29 2 40 2 35 2-68 2-26 2-6 2 1 2-24 2-39 2 35 2 14 2-32 2-8 2 0 2 56 2 130 2-20 2-126 2-20 2 8 2-10 2-17 2 56 2 27 2-61 2-24 2-5 2 9 2 53 2 0 2-49 2 3 2 5 2-7 2 2 2 40 2-2 2-44 2-7 2 4 2 3 2-7 2 62 2 25 2-18 2 1 2-39 2-21 2-10 2 20 2 30 2-1 2-3 2 34 2 13 2-43 2-37 2-9 2 9 2 4 2 7 2 45 2 54 2-51 2-57 2-12 2-10 2 14 2-11 2-9 2 9 2 32 2 1 2-34 2 0 2 13 2 6 2 12 2-15 2-24 2 5 2 10 2 57 2 179 2 23 2-136 2-72 2-37 2 5 2 15 2-11 2-10 2-1 2-7 2 9 2-6 2-7 2-8 2-14 2 0 2 13 2 6 2 20 2 21 2-8 2-21 2 12 2 60l1 35"/>
<path stroke="#22B2EA" d="M0 348l1 0q1 0 2-5t2 17 2-14 2-26 2 43 2 22 2-39 2-14 2 11 2 14 2 25 2-19 2 37 2 67 2-24 2-65 2-24 2 10 2 0 2 142 2-5 2-162 2-26 2-16 2 95 2 99 2-42 2-100 2-62 2 17 2 31 2 6 2-2 2 86 2-24 2-81 2 56 2 0 2-48 2 26 2 43 2-12 2-49 2-9 2 51 2-7 2-43 2 81 2 103 2-46 2-101 2 37 2 28 2-88 2-44 2 25 2 35 2-25 2-23 2-7 2 4 2 56 2 39 2-21 2-12 2-12 2 6 2 31 2 2 2-13 2 1 2 12 2 42 2 136 2-38 2-180 2-37 2-13 2-34 2-7 2 103 2 59 2-29 2 58 2-37 2-107 2 16 2 2 2-46 2-8 2 9 2 38 2 15 2-13 2 36 2 65 2-22 2-37 2-6 2-14 2 20 2-14 2-19 2 41 2 12 2-40 2-10 2 20 2 77 2 19 2-94 2-35 2 12 2-17 2 78 2 50 2-41 2-17 2-41 2-45 2 28 2 47 2-29 2-11 2 13 2-12 2-11 2 2 2 19 2 13 2-15 2 33 2 17 2-80 2-17 2 46 2 16 2 23 2 26 2 4 2 1 2 19 2-31 2-51 2 44 2 34 2 137 2 42 2-31 2-80 2-160 2-22 2-13 2 73 2 85 2-62 2-68 2 40 2-12 2-44 2-15 2 1 2 53 2 33 2-22 2 48 2-14 2-15 2 24 2-41 2-34 2-8 2 69 2 10 2-58 2 30 2 13 2-44 2 27 2 59 2-2 2-44 2-35 2 26 2 58 2-62 2-52 2 83 2-22 2-80 2 12 2 40 2 20l1-6"/>
<path stroke="#C41B40" d="M0 354l1 6q1 6 2-44t2-48 2 14 2-2 2-18 2 18 2 43 2 5 2-20 2-13 2-7 2-5 2-10 2-3 2 2 2 3 2 23 2 51 2 66 2-33 2-76 2-15 2-23 2-18 2 80 2 91 2 25 2 91 2-62 2-164 2-27 2 32 2-11 2-36 2 23 2 5 2-17 2-9 2 13 2 30 2 22 2-8 2-43 2-26 2 6 2 5 2 51 2 28 2-56 2-32 2-2 2 1 2 52 2 30 2-29 2-5 2-12 2 57 2 59 2-84 2-71 2 1 2 10 2 27 2 0 2-27 2-9 2 46 2 32 2-43 2-14 2 17 2 9 2 3 2-2 2 34 2-11 2-48 2-1 2 7 2 2 2 39 2 20 2-57 2-36 2 16 2 9 2-21 2-12 2 1 2 21 2 15 2-11 2 12 2 23 2 1 2-15 2-9 2 14 2-2 2-14 2-13 2-6 2 17 2 18 2 11 2 41 2 12 2-44 2-13 2-5 2-27 2-21 2 9 2 50 2-7 2-47 2 12 2 18 2 53 2 24 2-36 2-32 2-13 2 34 2 40 2-16 2-45 2-21 2-10 2-11 2 19 2 21 2-17 2 11 2 7 2-24 2-1 2 162 2 47 2-148 2-32 2 6 2-14 2-8 2 66 2 32 2-19 2-21 2 15 2-9 2-71 2-4 2 13 2-6 2 39 2 163 2-38 2-154 2 25 2-6 2-39 2-1 2 1 2-6 2 12 2 12 2 15 2 52 2-34 2-60 2 24 2 2 2-19 2 15 2 30 2-15 2-18 2 6 2 44 2-11 2-48 2 3 2 16 2 2 2-23 2-13 2-1 2 7 2 19 2 4 2-9 2 14l1 11"/>
<path stroke="#1276C2" d="M0 346l1-7q1-7 2 43t2 43 2-32 2-28 2 40 2 43 2-39 2-9 2 82 2 19 2-95 2-84 2 26 2 82 2 156 2 31 2-164 2-70 2-30 2-48 2-1 2 50 2 10 2-38 2 14 2 58 2-32 2-57 2-52 2-89 2-39 2 4 2 48 2 93 2 29 2-21 2 40 2-2 2-70 2-43 2 9 2 69 2 60 2-5 2 6 2 33 2-9 2-38 2-2 2-2 2-13 2-17 2-21 2 28 2 174 2 130 2-123 2-80 2 43 2-55 2-83 2-12 2 16 2 8 2-12 2 7 2-8 2-31 2 1 2 71 2 32 2-50 2-29 2 17 2 27 2-3 2-22 2-8 2 17 2 1 2-25 2 27 2 61 2 174 2-3 2-204 2-53 2 27 2 86 2 43 2-16 2-55 2-65 2-11 2 17 2 25 2 60 2 25 2-53 2-55 2 8 2 18 2-9 2-6 2-3 2-7 2-26 2 14 2-6 2-33 2 16 2 6 2 3 2 70 2 1 2-77 2-18 2-7 2 7 2 33 2 34 2 39 2 1 2-7 2-13 2-49 2-37 2 15 2 89 2-25 2-78 2-4 2-13 2 79 2 133 2-91 2-118 2 90 2 87 2-48 2-62 2-8 2-37 2-17 2 25 2 11 2-41 2-46 2 10 2 32 2 6 2-8 2 16 2 44 2 44 2 71 2 17 2-76 2-36 2 19 2 38 2 25 2-19 2-75 2-66 2 13 2 74 2 38 2-30 2-1 2 16 2 16 2 71 2-24 2-91 2-16 2 2 2 9 2 0 2-14 2 43 2 95 2 36 2-98 2-98 2 3 2 1 2-18 2-7 2 50 2 34 2-11 2-4l1-4"/>
<path stroke="#EE5A22" d="M0 366l1-1q1-1 2 8t2-15 2-8 2 27 2-1 2 7 2 34 2-37 2-43 2-16 2 9 2 72 2 58 2-50 2-31 2 59 2-21 2-19 2-4 2-52 2-15 2 30 2 3 2 80 2 49 2-49 2-31 2-64 2-71 2-59 2-25 2 21 2 78 2 76 2 3 2-21 2-10 2 7 2 159 2 68 2-88 2-45 2-78 2 35 2 114 2-55 2-103 2-9 2 18 2 21 2-4 2 1 2 25 2-20 2-56 2 11 2 84 2-9 2-54 2 48 2 147 2 42 2-124 2-60 2 24 2-29 2-45 2 17 2-3 2-10 2 48 2-29 2-36 2 20 2-9 2 7 2-10 2-30 2-17 2 23 2-9 2 30 2 21 2-46 2-12 2 1 2 11 2 24 2 1 2-19 2 19 2 5 2-27 2-3 2 51 2 50 2-38 2-49 2-24 2-4 2 20 2 6 2 39 2 123 2-4 2-111 2-20 2 76 2 14 2-88 2 3 2 15 2-9 2 45 2 44 2-42 2-83 2-17 2 49 2 9 2-17 2 19 2 0 2-49 2-30 2-6 2 10 2 64 2 68 2-12 2-64 2 114 2 35 2-127 2-33 2-9 2 28 2-11 2-23 2 103 2 54 2-69 2-19 2-31 2-37 2 2 2-25 2 3 2 55 2 63 2 39 2-61 2-61 2 14 2-15 2-17 2 50 2 16 2-46 2 21 2 159 2 3 2-132 2 53 2 71 2 42 2-102 2-124 2 11 2 33 2 137 2-40 2-124 2 119 2-21 2-94 2 86 2 30 2-66 2-62 2 5 2 58 2-22 2 17 2 128 2-50 2-5 2-14 2-137 2-29 2 23 2 59 2-2l1-28"/>
<path stroke="#F5AE26" d="M0 344l1-16q1-16 2 5t2 24 2 22 2-24 2-32 2 13 2 6 2-7 2-18 2 5 2 17 2 9 2 11 2 5 2-25 2-29 2-5 2-6 2 24 2 17 2 15 2 71 2-20 2-43 2 43 2 20 2 78 2 103 2-98 2-102 2 8 2-11 2 9 2-47 2-64 2 31 2 34 2-22 2-8 2 35 2-17 2-41 2 14 2 25 2 26 2-21 2-59 2-20 2 17 2-21 2-38 2 24 2 109 2 54 2-56 2-25 2-2 2-33 2-4 2 30 2 3 2 33 2 41 2-11 2 37 2 36 2-2 2 33 2-31 2-68 2-20 2 78 2 71 2-124 2-111 2 55 2 41 2 13 2 57 2 28 2-35 2-62 2-15 2 32 2-4 2-9 2-44 2-25 2 29 2 33 2 28 2-23 2-29 2-17 2-29 2-2 2 70 2 92 2 3 2-57 2-39 2-54 2-32 2-43 2-48 2 29 2 81 2 52 2-7 2-20 2-1 2 1 2 6 2 10 2-33 2-26 2 134 2 151 2-45 2-124 2-46 2 51 2 4 2-35 2 146 2 7 2-50 2 7 2-104 2-50 2-22 2 2 2-10 2 43 2 25 2 6 2-27 2-54 2 15 2-2 2 41 2 49 2-61 2-17 2 43 2-32 2-3 2 22 2-12 2-10 2-16 2 42 2 17 2-43 2-8 2 4 2-12 2 11 2 14 2 20 2 1 2-40 2 49 2 16 2-66 2 106 2 135 2-122 2-75 2 59 2-14 2-13 2-45 2-22 2 41 2-25 2-42 2 16 2 26 2-14 2-1 2 78 2-4 2-63 2 18 2 92 2 31 2-49 2 0 2-20 2-43 2-21 2-5l1 0"/>
<path stroke="#9036A0" d="M0 280l1 6q1 6 2 26t2 19 2-40 2 0 2 43 2-15 2-14 2 5 2 0 2 17 2-7 2-26 2 64 2-18 2-88 2 8 2 16 2-1 2 6 2 104 2 89 2-75 2-104 2-40 2 4 2 19 2 151 2 145 2-157 2-159 2-18 2 8 2 65 2 282 2 5 2-186 2-18 2-57 2 0 2 10 2-6 2-53 2-25 2 40 2 30 2-32 2 81 2 31 2-79 2-27 2-27 2-11 2 1 2 2 2 39 2 96 2-14 2-89 2-22 2-12 2 24 2 5 2-35 2 40 2 58 2-19 2-46 2-17 2 16 2 61 2-15 2-63 2 37 2 22 2-39 2-25 2 15 2 28 2-23 2-21 2 15 2 35 2 0 2-46 2-10 2 9 2 4 2 10 2 3 2 15 2-13 2-32 2 40 2 91 2-9 2-90 2-33 2 0 2 3 2 117 2 35 2-117 2-30 2-4 2-6 2 11 2 12 2-6 2 8 2 98 2 60 2-70 2-82 2 20 2 162 2 22 2-25 2-17 2-122 2-38 2 53 2 40 2 25 2-46 2-88 2 68 2 54 2-57 2-1 2 16 2-29 2-26 2-24 2-13 2 21 2 81 2 31 2-13 2 5 2-43 2-9 2-18 2-46 2-14 2-7 2 24 2 26 2-2 2 16 2 34 2-33 2-57 2-20 2 25 2 154 2 45 2 18 2 4 2-98 2 27 2-17 2-45 2-26 2-45 2-7 2 2 2 11 2 26 2-17 2-37 2-7 2 14 2 15 2 0 2 7 2 25 2-14 2-26 2 2 2 22 2 20 2 46 2 3 2-66 2 7 2 40 2-40 2-52 2 6 2 22 2 5 2-9 2 13l1 12"/>
<path stroke="#74B43A" d="M0 338l1 11q1 11 2 66t2 9 2-68 2-14 2 8 2-9 2-8 2 2 2-29 2-24 2 2 2-2 2 23 2 7 2-8 2 22 2 5 2-17 2 12 2-2 2 20 2 68 2-48 2-75 2 6 2 16 2 3 2 13 2 87 2-1 2-63 2 7 2-42 2-44 2 31 2 52 2-25 2-38 2 17 2-12 2 16 2 33 2-16 2-21 2-13 2 22 2 49 2 32 2 18 2 10 2-58 2-34 2 24 2-50 2-50 2 14 2 78 2 32 2-68 2-8 2 84 2 1 2-26 2 26 2-59 2-60 2 57 2 61 2-21 2-36 2-19 2 38 2 19 2-68 2-49 2 1 2 56 2 35 2 9 2-30 2-34 2 51 2 40 2-15 2-37 2 58 2 25 2-65 2 35 2 117 2 20 2-137 2-104 2 44 2 79 2-52 2-37 2 32 2-21 2 2 2-20 2-24 2 50 2 55 2-10 2-15 2 36 2 45 2 26 2-38 2-52 2-16 2-34 2-39 2 2 2 29 2 2 2-14 2 2 2-13 2-20 2 41 2 46 2-5 2-24 2-36 2-10 2 23 2 5 2 10 2 41 2 43 2-14 2 2 2 24 2-79 2-54 2 27 2 18 2 3 2 19 2 76 2 83 2-50 2-112 2-61 2-11 2 37 2 34 2-7 2-13 2 32 2 44 2-18 2-57 2-4 2 9 2 8 2-25 2-56 2 2 2 50 2-6 2-40 2 29 2 46 2 24 2 23 2 8 2-51 2-39 2 17 2 25 2 83 2 7 2-95 2-41 2 30 2 16 2-29 2 0 2 3 2-12 2 24 2 24 2-57 2 1 2 40 2-31 2-7 2 26 2 49 2-1l1-41"/>
<path stroke="#22B2EA" d="M0 290l1-7q1-7 2 0t2 20 2 42 2 48 2-2 2-8 2-14 2-55 2-31 2-3 2 4 2 41 2-10 2-40 2-4 2 10 2 99 2-9 2-37 2 81 2 6 2-50 2-38 2 5 2-1 2-26 2 12 2 8 2 0 2-4 2-28 2 7 2 230 2 94 2-162 2-35 2-32 2-77 2-34 2 24 2 51 2-20 2-39 2 25 2 11 2-10 2-29 2 2 2-1 2-40 2 22 2 52 2 12 2-24 2-30 2-13 2-3 2-10 2 51 2 86 2-45 2-85 2-4 2 59 2 117 2-44 2-112 2 149 2 82 2-110 2-94 2-43 2 37 2 60 2-16 2-51 2-8 2 0 2 13 2-11 2-18 2 42 2 28 2 51 2 19 2 15 2-22 2-114 2-9 2 7 2-18 2-1 2 0 2 40 2-1 2 13 2 44 2-30 2-9 2 17 2-20 2-44 2-17 2 9 2 15 2 2 2-14 2-10 2 74 2-1 2-74 2 2 2-5 2 11 2 27 2-14 2-11 2 49 2-7 2-34 2 16 2-4 2-16 2-2 2 56 2 3 2-69 2-11 2 8 2 32 2 19 2-30 2 11 2 1 2-12 2 30 2 8 2-5 2-19 2-30 2 29 2-2 2-42 2 19 2 156 2 102 2-113 2-63 2-23 2-51 2 30 2 48 2 13 2-35 2-45 2 30 2 38 2-25 2-14 2 55 2 13 2-67 2 5 2 16 2-65 2 88 2 89 2-100 2-70 2 2 2 19 2 60 2 10 2-69 2-16 2-6 2-15 2 26 2 43 2-1 2-48 2-18 2 8 2-13 2-14 2 24 2 55 2-11 2-42 2 26 2 36 2-19 2-42l1-12"/>
<path stroke="#C41B40" d="M0 360l1-12q1-12 2-3t2 41 2 100 2-5 2-96 2-50 2 18 2 20 2-39 2 29 2 29 2-42 2-12 2 29 2 23 2-2 2 9 2-26 2-34 2 19 2 6 2 47 2 125 2-30 2-156 2 16 2 37 2-50 2-15 2-9 2-24 2-5 2 8 2 6 2 29 2 35 2-14 2-37 2 5 2 29 2-25 2-14 2 54 2 11 2 1 2 24 2 28 2-6 2-54 2 6 2 35 2-29 2-53 2-26 2 4 2 57 2-16 2-50 2 3 2 46 2 56 2-14 2 0 2 50 2-5 2-53 2-25 2 1 2 12 2-4 2 3 2-16 2 9 2 70 2-2 2-17 2-3 2-45 2-1 2 1 2-46 2 22 2 172 2 11 2-164 2-60 2-21 2 5 2 49 2 19 2-9 2 3 2 64 2 24 2-80 2-50 2-21 2 42 2 89 2 23 2-33 2-15 2 28 2 36 2-16 2 34 2 7 2-109 2-77 2 7 2 45 2 14 2 173 2 9 2-137 2-2 2-35 2-6 2-4 2 48 2 68 2-17 2-114 2-65 2 30 2 36 2-14 2-22 2 39 2 113 2 25 2-99 2-57 2-30 2 12 2 25 2-10 2 20 2 42 2-35 2-52 2-15 2 0 2 42 2 17 2-31 2-30 2-7 2 14 2 15 2 96 2 88 2-40 2-60 2-34 2-29 2 0 2 29 2-9 2-1 2 15 2-2 2 11 2 65 2 31 2-60 2-15 2-15 2-70 2-33 2 35 2 45 2 64 2 18 2-2 2-5 2-77 2-37 2 5 2-22 2 9 2 52 2 35 2-12 2-42 2 10 2 38 2 85 2 68 2-102 2-79 2 12 2 4l1 8"/>
<path stroke="#1276C2" d="M0 468l1-66q1-66 2-94t2-28 2 8 2 55 2 36 2-31 2-34 2-25 2 6 2 47 2 15 2 19 2-8 2-68 2-28 2 48 2 83 2-23 2-81 2-28 2 52 2 39 2-42 2-33 2-7 2-4 2 21 2 58 2 117 2 50 2-117 2-101 2-3 2 129 2 9 2-112 2 34 2-18 2-65 2-5 2 13 2 19 2 9 2-25 2 15 2 39 2-28 2-22 2 20 2 20 2-17 2 36 2 91 2-41 2-89 2 9 2 13 2 5 2 8 2 25 2-13 2-6 2 42 2-20 2-23 2 6 2 89 2-41 2-107 2 38 2 3 2-45 2-14 2 6 2-3 2 33 2 9 2-4 2 11 2 35 2 37 2-73 2-33 2 83 2-41 2-40 2 28 2-18 2 70 2 15 2-89 2-21 2 49 2 23 2-30 2-2 2 1 2-6 2 109 2 29 2-132 2-58 2 7 2 16 2 14 2 1 2-9 2 29 2-3 2-44 2 15 2 46 2 0 2-29 2 11 2-4 2-33 2-17 2-1 2 3 2 76 2 51 2-36 2 19 2-25 2-72 2 24 2 29 2 0 2 11 2-31 2-21 2 40 2 23 2-18 2 16 2-2 2-15 2 113 2-4 2-141 2-36 2 8 2 6 2-5 2 20 2 28 2 3 2 2 2-32 2-24 2 7 2-7 2 1 2 13 2 4 2-16 2 23 2 40 2 30 2 8 2-55 2-41 2 3 2 49 2 31 2 32 2 57 2-62 2-107 2-27 2 38 2 73 2 130 2 12 2-78 2-90 2-60 2 162 2 23 2-115 2 125 2-15 2-121 2 40 2 15 2-24 2-16 2-32 2-20 2 6 2 30 2 201l1 156"/>
<path stroke="#EE5A22" d="M0 278l1-1q1-1 2 43t2 27 2 14 2 12 2-18 2 7 2-17 2-29 2 3 2 55 2 0 2-8 2 24 2-35 2-3 2-23 2-30 2 30 2 69 2 12 2-37 2 37 2-28 2-68 2 12 2 13 2-7 2 21 2 15 2-17 2-13 2 41 2 21 2 21 2-14 2-7 2 162 2-23 2-183 2 24 2 86 2-52 2-82 2 57 2 69 2-27 2-36 2-50 2-45 2 42 2 41 2-39 2 1 2 53 2 41 2 109 2-50 2-152 2 19 2 83 2 20 2-68 2-50 2-37 2-12 2 23 2 9 2-9 2 1 2 1 2-11 2-4 2 75 2 138 2 30 2-111 2-79 2 51 2 10 2-36 2-15 2-67 2-36 2 11 2 40 2 56 2 4 2 5 2-10 2-27 2 0 2 32 2 53 2-17 2-25 2-5 2-4 2 104 2 4 2-118 2-19 2 4 2-21 2-32 2 30 2 47 2-29 2-25 2-3 2 33 2 42 2-35 2-53 2-22 2 17 2 81 2 16 2-53 2-54 2 39 2 124 2 15 2-99 2-64 2 11 2 24 2 60 2 33 2-36 2-23 2-6 2 38 2 44 2-58 2-63 2-6 2 50 2 6 2-48 2 26 2-1 2-53 2 36 2 72 2 61 2-41 2-120 2 2 2 68 2 4 2-11 2-2 2-6 2 10 2-49 2-23 2 98 2 14 2-72 2-27 2-13 2 22 2 71 2 12 2-69 2-26 2 25 2 8 2 16 2 19 2-20 2 1 2 64 2-3 2-61 2 3 2-11 2 30 2-4 2-48 2 4 2-12 2 61 2 56 2-11 2-69 2 22 2 63 2-24 2-37 2-53 2-8 2 1l1-4"/>
<path stroke="#F5AE26" d="M0 364l1 2q1 2 2-2t2-18 2-11 2-2 2-32 2-4 2 26 2-2 2 30 2 110 2 141 2-55 2-159 2-39 2-41 2-14 2 36 2 18 2 19 2-9 2-40 2 48 2 64 2-58 2 1 2 66 2-82 2-75 2 49 2 25 2 17 2 28 2 23 2 19 2-24 2-44 2 13 2 48 2-10 2 1 2-17 2-66 2-11 2 88 2 58 2-51 2-71 2-58 2 1 2 43 2 19 2-25 2-15 2 12 2-12 2 7 2 63 2-5 2-70 2 24 2-2 2-26 2 3 2-86 2-92 2-38 2 9 2 57 2 119 2 77 2-13 2-23 2-41 2-61 2-39 2 10 2 39 2 58 2 45 2 27 2 58 2-11 2-45 2 16 2 19 2 38 2-25 2-86 2-41 2 14 2 67 2 47 2 24 2-1 2-43 2-36 2-49 2 9 2 20 2-33 2 32 2 42 2 5 2-6 2-27 2-64 2-65 2 0 2 68 2 39 2 47 2 164 2-37 2-152 2-22 2 29 2 16 2-32 2 37 2 10 2-26 2-2 2-6 2 20 2-22 2-27 2 56 2 17 2-16 2 2 2 0 2-7 2-42 2-33 2-1 2-8 2-6 2 25 2 33 2 21 2 21 2 2 2-18 2 26 2 70 2 24 2-111 2-81 2 33 2 39 2 19 2-11 2-3 2-43 2 3 2 38 2-27 2-20 2-14 2-21 2-2 2 100 2 48 2-74 2-47 2-23 2-17 2 29 2 88 2 17 2-37 2-18 2-12 2-12 2 57 2 42 2-87 2-51 2 15 2 48 2 45 2-6 2-38 2-28 2 21 2-19 2-21 2 36 2 92 2 21 2-112 2-16 2 37l1 0"/>
<path stroke="#9036A0" d="M0 370l1-39q1-39 2-30t2 18 2 11 2 52 2-1 2-73 2 9 2 70 2 3 2-55 2 6 2 130 2 18 2-125 2-48 2-8 2 18 2 15 2 18 2 7 2 13 2 8 2-37 2-25 2-9 2 4 2 46 2 27 2-66 2 4 2 99 2 17 2-71 2-56 2 24 2 37 2 14 2 4 2-6 2 7 2-23 2-12 2-7 2-11 2 17 2 46 2 16 2-61 2-56 2 14 2 53 2 11 2 47 2 33 2-65 2-76 2 17 2 43 2 19 2-22 2-38 2 68 2 11 2-69 2-26 2-12 2 17 2 33 2-1 2-29 2-13 2 10 2 11 2 54 2 38 2-8 2-20 2-49 2 40 2-5 2-63 2 32 2 64 2-10 2-39 2-5 2-9 2 61 2 60 2-11 2-25 2-38 2-30 2 16 2 3 2 32 2 33 2-50 2 1 2 7 2-77 2-42 2-3 2 3 2 41 2 25 2-7 2 15 2 7 2-21 2-19 2-15 2-11 2-2 2-7 2 18 2 26 2 15 2 19 2-36 2-52 2 17 2 87 2 1 2-71 2 22 2 61 2 64 2 3 2-92 2-40 2 26 2 24 2 143 2 140 2-114 2-154 2 47 2 32 2-57 2 31 2-26 2-67 2 6 2 1 2-4 2 29 2-10 2-40 2 138 2 31 2-117 2-10 2-8 2-37 2-11 2 34 2-22 2-29 2-14 2-13 2 43 2 16 2 12 2 43 2-53 2-46 2 21 2-24 2 25 2 37 2 1 2 25 2-20 2-24 2 14 2-19 2 8 2 62 2 98 2 0 2-103 2-47 2-24 2-12 2-14 2 4 2 7 2-6 2 21 2 20 2-2 2 14l1 21"/>
</g></g>
<rect x="93.5" y="22.5" width="616.0" height="468.0" fill="none" stroke="#4a4a4a" stroke-width="1.3"/>
<line x1="247.80" y1="22.5" x2="247.80" y2="28.5" stroke="#4a4a4a" stroke-width="1.3"/>
<line x1="247.8" y1="490.5" x2="247.8" y2="484.5" stroke="#4a4a4a" stroke-width="1.3"/>
<line x1="402.07" y1="22.5" x2="402.07" y2="28.5" stroke="#4a4a4a" stroke-width="1.3"/>
<line x1="402.1" y1="490.5" x2="402.1" y2="484.5" stroke="#4a4a4a" stroke-width="1.3"/>
<line x1="556.33" y1="22.5" x2="556.33" y2="28.5" stroke="#4a4a4a" stroke-width="1.3"/>
<line x1="556.3" y1="490.5" x2="556.3" y2="484.5" stroke="#4a4a4a" stroke-width="1.3"/>
<line x1="93.5" y1="115.70" x2="99.5" y2="115.70" stroke="#4a4a4a" stroke-width="1.3"/>
<line x1="709.5" y1="115.7" x2="703.5" y2="115.7" stroke="#4a4a4a" stroke-width="1.3"/>
<line x1="93.5" y1="209.60" x2="99.5" y2="209.60" stroke="#4a4a4a" stroke-width="1.3"/>
<line x1="709.5" y1="209.6" x2="703.5" y2="209.6" stroke="#4a4a4a" stroke-width="1.3"/>
<line x1="93.5" y1="303.50" x2="99.5" y2="303.50" stroke="#4a4a4a" stroke-width="1.3"/>
<line x1="709.5" y1="303.5" x2="703.5" y2="303.5" stroke="#4a4a4a" stroke-width="1.3"/>
<line x1="93.5" y1="397.40" x2="99.5" y2="397.40" stroke="#4a4a4a" stroke-width="1.3"/>
<line x1="709.5" y1="397.4" x2="703.5" y2="397.4" stroke="#4a4a4a" stroke-width="1.3"/>
<text x="85.4" y="27.8" text-anchor="end" class="t">40</text>
<text x="85.4" y="121.7" text-anchor="end" class="t">20</text>
<text x="85.4" y="215.6" text-anchor="end" class="t">0</text>
<text x="85.4" y="309.5" text-anchor="end" class="t">-20</text>
<text x="85.4" y="403.4" text-anchor="end" class="t">-40</text>
<text x="85.4" y="497.3" text-anchor="end" class="t">-60</text>
<text x="93.5" y="523.3" text-anchor="middle" class="t">0</text>
<text x="247.8" y="523.3" text-anchor="middle" class="t">50</text>
<text x="402.1" y="523.3" text-anchor="middle" class="t">100</text>
<text x="556.3" y="523.3" text-anchor="middle" class="t">150</text>
<text x="710.6" y="523.3" text-anchor="middle" class="t">200</text>
<text transform="translate(402.1 560.9) scale(1 1.05)" text-anchor="middle" class="l">Range Cell</text>
<text transform="translate(32.5 256.6) rotate(-90)" text-anchor="middle" class="l">Power/dB</text>
<text x="369.4" y="600" text-anchor="middle" class="p">(<tspan font-weight="bold" font-size="32">a</tspan>)</text>
<rect x="840.8" y="24.5" width="613.2" height="466.4" fill="none" stroke="#4a4a4a" stroke-width="1.3"/>
<line x1="994.30" y1="24.5" x2="994.30" y2="30.5" stroke="#4a4a4a" stroke-width="1.3"/>
<line x1="994.3" y1="490.9" x2="994.3" y2="484.9" stroke="#4a4a4a" stroke-width="1.3"/>
<line x1="1147.85" y1="24.5" x2="1147.85" y2="30.5" stroke="#4a4a4a" stroke-width="1.3"/>
<line x1="1147.8" y1="490.9" x2="1147.8" y2="484.9" stroke="#4a4a4a" stroke-width="1.3"/>
<line x1="1301.40" y1="24.5" x2="1301.40" y2="30.5" stroke="#4a4a4a" stroke-width="1.3"/>
<line x1="1301.4" y1="490.9" x2="1301.4" y2="484.9" stroke="#4a4a4a" stroke-width="1.3"/>
<line x1="840.8" y1="117.58" x2="846.8" y2="117.58" stroke="#4a4a4a" stroke-width="1.3"/>
<line x1="1453.9" y1="117.6" x2="1447.9" y2="117.6" stroke="#4a4a4a" stroke-width="1.3"/>
<line x1="840.8" y1="211.06" x2="846.8" y2="211.06" stroke="#4a4a4a" stroke-width="1.3"/>
<line x1="1453.9" y1="211.1" x2="1447.9" y2="211.1" stroke="#4a4a4a" stroke-width="1.3"/>
<line x1="840.8" y1="304.54" x2="846.8" y2="304.54" stroke="#4a4a4a" stroke-width="1.3"/>
<line x1="1453.9" y1="304.5" x2="1447.9" y2="304.5" stroke="#4a4a4a" stroke-width="1.3"/>
<line x1="840.8" y1="398.02" x2="846.8" y2="398.02" stroke="#4a4a4a" stroke-width="1.3"/>
<line x1="1453.9" y1="398.0" x2="1447.9" y2="398.0" stroke="#4a4a4a" stroke-width="1.3"/>
<text x="832.6" y="30.1" text-anchor="end" class="t">40</text>
<text x="832.6" y="123.6" text-anchor="end" class="t">20</text>
<text x="832.6" y="217.1" text-anchor="end" class="t">0</text>
<text x="832.6" y="310.5" text-anchor="end" class="t">-20</text>
<text x="832.6" y="404.0" text-anchor="end" class="t">-40</text>
<text x="832.6" y="497.5" text-anchor="end" class="t">-60</text>
<text x="840.8" y="523.3" text-anchor="middle" class="t">0</text>
<text x="994.3" y="523.3" text-anchor="middle" class="t">50</text>
<text x="1147.8" y="523.3" text-anchor="middle" class="t">100</text>
<text x="1301.4" y="523.3" text-anchor="middle" class="t">150</text>
<text x="1455.0" y="523.3" text-anchor="middle" class="t">200</text>
<text transform="translate(1147.8 560.9) scale(1 1.05)" text-anchor="middle" class="l">Range Cell</text>
<text transform="translate(779.8 257.8) rotate(-90)" text-anchor="middle" class="l">Power/dB</text>
<text x="1119.4" y="600" text-anchor="middle" class="p">(<tspan font-weight="bold" font-size="32">b</tspan>)</text>
</svg></div>
</body></html>
